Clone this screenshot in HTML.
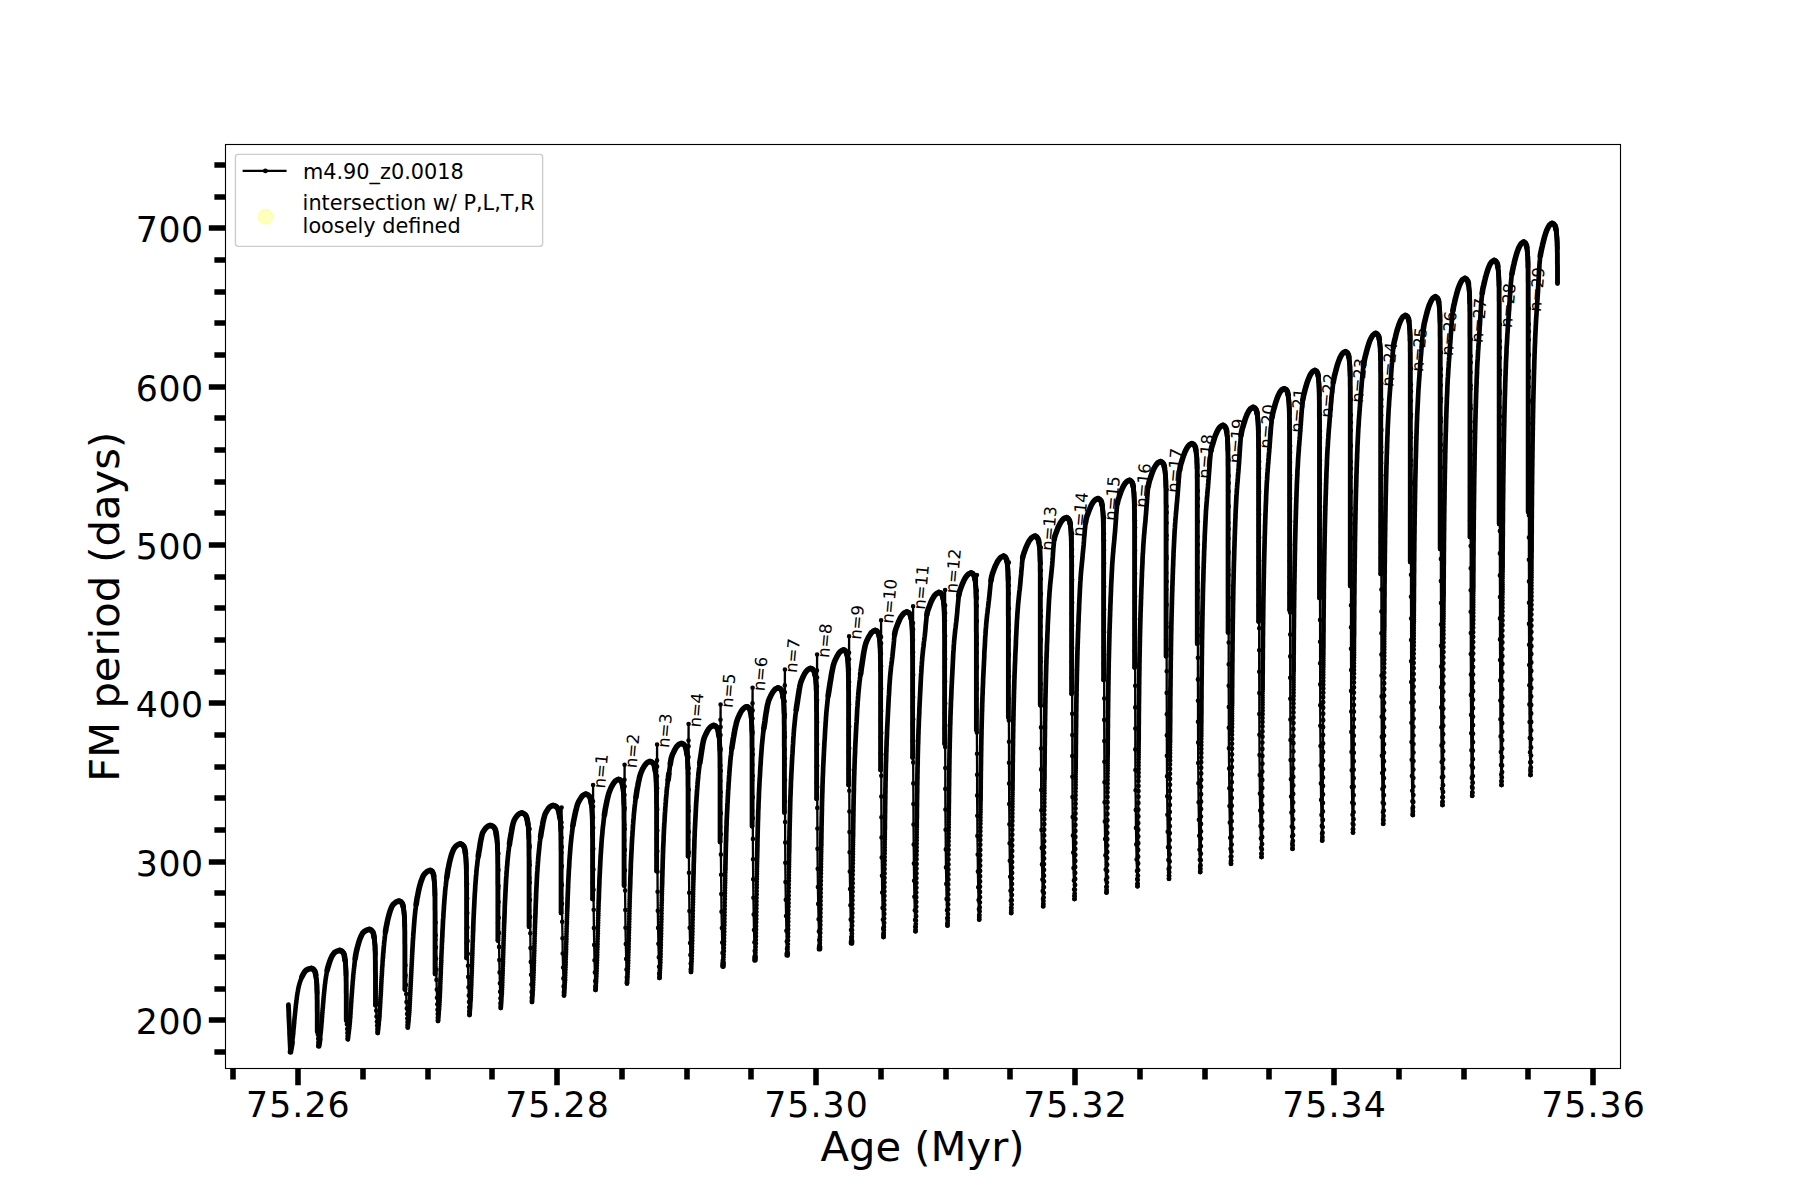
<!DOCTYPE html>
<html><head><meta charset="utf-8"><title>FM period</title>
<style>html,body{margin:0;padding:0;background:#fff}svg{display:block}</style></head>
<body>
<svg width="1800" height="1200" viewBox="0 0 1800 1200">
<rect width="1800" height="1200" fill="#fff"/>
<g font-family="'DejaVu Sans','Liberation Sans',sans-serif" font-size="16.67" letter-spacing="-0.3" fill="#000">
<text transform="translate(605 788.8) rotate(-85)">n=1</text>
<text transform="translate(636.5 768.5) rotate(-85)">n=2</text>
<text transform="translate(669 748.3) rotate(-85)">n=3</text>
<text transform="translate(700.5 727.8) rotate(-85)">n=4</text>
<text transform="translate(732.5 708.3) rotate(-85)">n=5</text>
<text transform="translate(764.5 691.6) rotate(-85)">n=6</text>
<text transform="translate(796.8 673.3) rotate(-85)">n=7</text>
<text transform="translate(829 658.3) rotate(-85)">n=8</text>
<text transform="translate(861 640.1) rotate(-85)">n=9</text>
<text transform="translate(893 624.1) rotate(-85)">n=10</text>
<text transform="translate(925 610.1) rotate(-85)">n=11</text>
<text transform="translate(957 593.8) rotate(-85)">n=12</text>
<text transform="translate(1052.8 551.3) rotate(-85)">n=13</text>
<text transform="translate(1084 537.3) rotate(-85)">n=14</text>
<text transform="translate(1116 521.3) rotate(-85)">n=15</text>
<text transform="translate(1147 508.3) rotate(-85)">n=16</text>
<text transform="translate(1178.5 493.3) rotate(-85)">n=17</text>
<text transform="translate(1209.8 479.3) rotate(-85)">n=18</text>
<text transform="translate(1240.5 463.8) rotate(-85)">n=19</text>
<text transform="translate(1271 449.3) rotate(-85)">n=20</text>
<text transform="translate(1302 433.3) rotate(-85)">n=21</text>
<text transform="translate(1331.9 418.3) rotate(-85)">n=22</text>
<text transform="translate(1362.8 403.3) rotate(-85)">n=23</text>
<text transform="translate(1393.2 387.3) rotate(-85)">n=24</text>
<text transform="translate(1422.9 372.3) rotate(-85)">n=25</text>
<text transform="translate(1452.8 356.3) rotate(-85)">n=26</text>
<text transform="translate(1482.6 343.3) rotate(-85)">n=27</text>
<text transform="translate(1511.8 328.3) rotate(-85)">n=28</text>
<text transform="translate(1540.8 312.3) rotate(-85)">n=29</text>
</g>
<polyline fill="none" stroke="#000" stroke-width="2.3" stroke-linejoin="round" points="288.4,1004.8 288.5,1006.8 288.6,1008.8 288.7,1010.8 288.8,1012.8 288.8,1014.8 288.9,1016.8 289,1018.8 289.1,1020.8 289.2,1022.8 289.3,1024.8 289.4,1026.8 289.5,1028.8 289.6,1030.8 289.6,1032.8 289.7,1034.8 289.8,1036.8 289.9,1038.8 290,1040.8 290.1,1042.8 290.2,1044.8 290.3,1046.8 290.4,1048.8 290.4,1050.8 290.5,1052 290.8,1050 291.2,1048 291.4,1046.8 291.6,1045.5 291.8,1044 292.1,1042.5 292.3,1040.7 292.6,1038.8 292.9,1036.8 293.1,1034.8 293.3,1032.9 293.4,1030.9 293.6,1028.9 293.8,1026.9 294,1024.9 294.2,1022.9 294.3,1020.9 294.5,1018.9 294.7,1016.9 294.9,1014.9 295.1,1012.9 295.3,1010.9 295.5,1009 295.7,1007 295.9,1005 296.2,1003 296.4,1001 296.7,999 296.9,997 297.2,995.1 297.5,993.1 297.9,991.1 298.2,989.1 298.6,987.2 299.1,985.3 299.6,983.4 300.2,981.6 300.8,979.9 301.4,978.3 302,976.7 302.7,975.1 303.5,973.7 304.3,972.4 305.2,971.1 306.3,970.1 307.6,969.4 308.9,968.9 310.3,968.6 312.1,968.6 313.6,969.5 314.6,970.8 315.3,972.5 315.7,974.5 315.9,976.5 316.2,978.5 316.5,980.5 316.7,982.5 316.8,984.5 316.9,986.5 316.9,988.5 317,990.5 317.1,992.5 317.1,994.5 317.1,996.5 317.1,998.5 317.2,1000.5 317.2,1002.5 317.2,1004.5 317.2,1006.5 317.2,1008.5 317.2,1010.5 317.3,1012.5 317.3,1014.5 317.3,1016.5 317.3,1018.5 317.3,1020.5 317.3,1022.5 317.3,1024.5 317.3,1026.5 317.3,1028.5 317.3,1030.5 317.3,1031.7 317.6,1029.7 317.9,1034.7 318.2,1038.8 318.5,1042 318.7,1044.6 318.8,1046 319.1,1044 319.4,1041.9 319.6,1040.8 319.8,1039.4 320,1038 320.2,1036.4 320.4,1034.7 320.7,1032.8 320.9,1030.8 321.1,1028.8 321.3,1026.8 321.4,1024.8 321.6,1022.8 321.8,1020.8 321.9,1018.8 322.1,1016.8 322.2,1014.8 322.4,1012.8 322.5,1010.8 322.7,1008.8 322.9,1006.9 323,1004.9 323.2,1002.9 323.4,1000.9 323.5,998.9 323.7,996.9 323.9,994.9 324.1,992.9 324.3,990.9 324.5,988.9 324.7,986.9 324.9,985 325.2,983 325.4,981 325.7,979 326,977.1 326.3,975.3 326.6,973.5 326.9,971.8 327.2,970.1 327.6,968.5 328,967 328.5,965.5 328.9,964 329.4,962.6 329.8,961.3 330.3,959.9 330.8,958.7 331.3,957.5 331.9,956.3 332.5,955.2 333.2,954.2 334.7,952.4 336.6,951.3 338.7,950.6 340,950.5 341.2,950.8 342.3,951.5 343.3,952.8 344.1,954.5 344.5,956.5 344.8,958.5 345.1,960.5 345.4,962.5 345.6,964.5 345.7,966.5 345.8,968.5 345.9,970.5 346,972.5 346,974.5 346.1,976.5 346.1,978.5 346.1,980.5 346.2,982.5 346.2,984.5 346.2,986.5 346.2,988.5 346.2,990.5 346.2,992.5 346.3,994.5 346.3,996.5 346.3,998.5 346.3,1000.5 346.3,1002.5 346.3,1004.5 346.3,1006.5 346.3,1008.5 346.3,1010.5 346.3,1012.5 346.3,1014.5 346.3,1016.5 346.3,1018.5 346.3,1020.4 346.6,1018.4 346.9,1024.2 347.2,1029 347.4,1032.9 347.6,1036 347.7,1038.4 348.2,1036.3 348.5,1034 348.7,1032.7 348.8,1031.3 349,1029.7 349.3,1027.9 349.5,1026 349.7,1024 349.9,1022 350,1020 350.2,1018.1 350.3,1016.1 350.5,1014.1 350.6,1012.1 350.7,1010.1 350.9,1008.1 351,1006.1 351.1,1004.1 351.3,1002.1 351.4,1000.1 351.5,998.1 351.7,996.1 351.8,994.1 352,992.1 352.1,990.1 352.3,988.1 352.4,986.1 352.6,984.1 352.7,982.1 352.9,980.2 353.1,978.2 353.2,976.2 353.4,974.2 353.6,972.2 353.8,970.3 354,968.5 354.2,966.7 354.4,964.9 354.6,963.3 354.8,961.6 355,960 355.2,958.5 355.4,957 355.7,955.6 355.9,954.1 356.2,952.8 356.4,951.5 356.7,950.2 357,949 357.3,947.8 357.9,945.5 358.5,943.3 359.1,941.3 359.8,939.4 360.5,937.6 361.3,935.7 362.2,933.9 363.4,932.3 364.9,931.1 366.7,930.1 368.6,929.6 370.1,929.6 371.2,930.1 372.2,931.1 373.1,932.6 373.6,934.5 374,936.5 374.2,938.5 374.5,940.5 374.7,942.5 374.9,944.5 375,946.5 375.1,948.5 375.2,950.5 375.2,952.5 375.3,954.5 375.3,956.5 375.3,958.5 375.4,960.5 375.4,962.5 375.4,964.5 375.4,966.5 375.4,968.5 375.4,970.5 375.5,972.5 375.5,974.5 375.5,976.5 375.5,978.5 375.5,980.5 375.5,982.5 375.5,984.5 375.5,986.5 375.5,988.5 375.5,990.5 375.5,992.5 375.5,994.5 375.5,996.5 375.5,998.5 375.5,1000.5 375.5,1002.5 375.5,1004.5 375.8,1003.3 376.2,1010.6 376.5,1016.6 376.9,1021.7 377.1,1025.7 377.4,1029 377.6,1031.6 377.7,1033 377.9,1031 378.2,1028.9 378.3,1027.7 378.4,1026.4 378.6,1025 378.8,1023.4 378.9,1021.6 379.2,1019.7 379.3,1017.7 379.5,1015.7 379.6,1013.7 379.7,1011.7 379.8,1009.7 380,1007.7 380.1,1005.7 380.2,1003.7 380.3,1001.7 380.4,999.7 380.5,997.7 380.7,995.7 380.8,993.7 380.9,991.7 381,989.7 381.1,987.7 381.2,985.7 381.3,983.7 381.4,981.7 381.5,979.8 381.6,977.8 381.8,975.8 381.9,973.8 382,971.8 382.1,969.8 382.2,967.8 382.4,965.8 382.5,963.9 382.6,962.1 382.7,960.3 382.9,958.5 383,956.8 383.1,955.2 383.2,953.6 383.4,952.1 383.5,950.6 383.6,949.1 383.7,947.7 383.9,946.3 384,945 384.1,943.7 384.2,942.4 384.3,941.2 384.6,938.9 384.8,936.7 385.1,934.6 385.4,932.6 385.6,930.7 386,928.7 386.3,926.7 386.7,924.7 387.1,922.8 387.5,920.8 388,918.9 388.4,916.9 389,915 389.5,913.1 390.1,911.2 390.8,909.3 391.5,907.4 392.3,905.6 393.6,904 395.1,902.8 396.8,901.7 398.7,901.2 400.4,901.5 401.4,902.2 402.3,903.5 402.9,905.2 403.3,907.2 403.6,909.2 403.9,911.2 404.1,913.2 404.3,915.2 404.4,917.2 404.5,919.2 404.6,921.2 404.6,923.2 404.7,925.2 404.7,927.2 404.7,929.2 404.8,931.2 404.8,933.2 404.8,935.2 404.8,937.2 404.8,939.2 404.8,941.2 404.8,943.2 404.9,945.2 404.9,947.2 404.9,949.2 404.9,951.2 404.9,953.2 404.9,955.2 404.9,957.2 404.9,959.2 404.9,961.2 404.9,963.2 404.9,965.2 404.9,967.2 404.9,969.2 404.9,971.2 404.9,973.2 404.9,975.2 404.9,977.2 404.9,979.2 404.9,981.2 404.9,983.2 404.9,985.2 404.9,987.2 404.9,989.2 405.2,977.4 405.4,965.2 405.6,975.3 405.9,984.9 406.2,994.1 406.5,1002 406.8,1008.5 407.1,1014 407.3,1018.5 407.5,1022.1 407.6,1025 407.8,1027.3 408,1025.5 408.2,1023.4 408.3,1022.2 408.5,1020.9 408.6,1019.4 408.7,1017.8 408.9,1016.1 409.1,1014.2 409.3,1012.2 409.4,1010.2 409.5,1008.2 409.6,1006.2 409.7,1004.2 409.8,1002.2 409.9,1000.2 410,998.2 410.1,996.2 410.2,994.2 410.3,992.2 410.4,990.2 410.5,988.2 410.6,986.2 410.7,984.2 410.8,982.2 410.9,980.2 411,978.2 411.1,976.2 411.2,974.2 411.3,972.2 411.4,970.2 411.5,968.2 411.6,966.2 411.7,964.2 411.8,962.2 411.9,960.3 412,958.4 412.1,956.5 412.1,954.7 412.2,953 412.3,951.3 412.4,949.6 412.5,948.1 412.6,946.5 412.7,945 412.8,943.5 412.8,942.1 412.9,940.8 413,939.4 413.1,938.1 413.2,936.9 413.3,935.7 413.4,933.3 413.6,931.1 413.7,929 413.9,927 414,925.1 414.2,923.1 414.4,921.1 414.5,919.1 414.7,917.1 414.9,915.1 415.1,913.1 415.3,911.1 415.6,909.1 415.8,907.1 416.1,905.2 416.3,903.2 416.6,901.2 417,899.2 417.3,897.3 417.7,895.3 418.1,893.3 418.5,891.4 418.9,889.4 419.4,887.5 419.8,885.5 420.4,883.6 421,881.7 421.6,879.8 422.3,877.9 423.2,876.1 424.2,874.4 425.5,872.9 427.1,871.7 428.9,870.8 430.5,870.5 431.8,871.1 432.6,872.1 433.2,873.6 433.7,875.5 433.9,877.5 434.1,879.5 434.3,881.5 434.5,883.5 434.6,885.5 434.7,887.5 434.8,889.5 434.8,891.5 434.9,893.5 434.9,895.5 435,897.5 435,899.5 435,901.5 435,903.5 435,905.5 435,907.5 435,909.5 435.1,911.5 435.1,913.5 435.1,915.5 435.1,917.5 435.1,919.5 435.1,921.5 435.1,923.5 435.1,925.5 435.1,927.5 435.1,929.5 435.1,931.5 435.1,933.5 435.1,935.5 435.1,937.5 435.1,939.5 435.1,941.5 435.1,943.5 435.1,945.5 435.1,947.5 435.1,949.5 435.1,951.5 435.1,953.5 435.1,955.5 435.1,957.5 435.1,959.5 435.1,961.5 435.1,963.5 435.1,965.5 435.1,967.5 435.1,969.5 435.1,971.5 435.1,973.5 435.3,956.8 435.4,939.7 435.6,922.5 435.7,935.3 435.9,947.4 436.1,958.8 436.3,969.6 436.5,979.9 436.8,989.6 437,997.7 437.3,1004.3 437.5,1009.8 437.7,1014.1 437.8,1017.5 438,1020.2 438.2,1019 438.4,1016.8 438.5,1015.5 438.6,1014.1 438.7,1012.5 438.9,1010.8 439.1,1008.9 439.2,1006.8 439.4,1004.7 439.5,1002.6 439.6,1000.5 439.7,998.3 439.8,996.2 439.9,994.1 440,992 440.1,989.9 440.2,987.8 440.2,985.7 440.3,983.6 440.4,981.5 440.5,979.4 440.6,977.3 440.7,975.1 440.8,973 440.8,970.9 440.9,968.8 441,966.7 441.1,964.6 441.2,962.5 441.3,960.4 441.3,958.3 441.4,956.2 441.5,954.1 441.6,952.1 441.7,950.1 441.8,948.2 441.8,946.4 441.9,944.6 442,942.9 442.1,941.2 442.1,939.6 442.2,938 442.3,936.5 442.3,935 442.4,933.6 442.5,932.2 442.5,930.8 442.6,929.5 442.7,928.3 442.7,927 442.8,924.7 443,922.5 443.1,920.4 443.2,918.4 443.3,916.4 443.4,914.4 443.6,912.4 443.7,910.5 443.8,908.5 443.9,906.5 444.1,904.5 444.2,902.5 444.4,900.5 444.5,898.5 444.7,896.5 444.9,894.5 445.1,892.5 445.2,890.5 445.4,888.5 445.6,886.5 445.9,884.5 446.1,882.6 446.4,880.6 446.6,878.6 446.9,876.6 447.2,874.6 447.5,872.7 447.9,870.7 448.2,868.7 448.6,866.8 449,864.8 449.4,862.8 449.8,860.9 450.3,858.9 450.8,857 451.4,855.1 452,853.2 452.7,851.3 453.5,849.5 454.6,847.8 455.9,846.3 457.4,845 459.2,844.2 460.5,844 461.7,844.2 462.8,845 463.7,846.2 464.5,848 464.9,850 465.2,852 465.5,854 465.7,856 465.9,858 466,860 466.1,862 466.2,864 466.3,866 466.3,868 466.4,870 466.4,872 466.4,874 466.5,876 466.5,878 466.5,880 466.5,882 466.5,884 466.5,886 466.6,888 466.6,890 466.6,892 466.6,894 466.6,896 466.6,898 466.6,900 466.6,902 466.6,904 466.6,906 466.6,908 466.6,910 466.6,912 466.6,914 466.6,916 466.6,918 466.6,920 466.6,922 466.6,924 466.6,926 466.6,928 466.6,930 466.6,932 466.6,934 466.6,936 466.6,938 466.6,940 466.6,942 466.6,944 466.6,946 466.6,948 466.6,950 466.6,952 466.6,954 466.6,956 466.6,958 466.7,943.2 466.8,928.4 466.9,913.6 467,898.8 467.1,884 467.2,898.6 467.3,913.1 467.4,927.4 467.6,940.9 467.8,953.7 468,965.7 468.2,976.9 468.5,987.3 468.8,995.5 469,1002.1 469.2,1007.3 469.3,1011.3 469.5,1014.3 469.7,1013 469.8,1010.7 469.9,1009.3 470.1,1007.8 470.2,1006.1 470.3,1004.2 470.5,1002.1 470.7,999.9 470.8,997.7 470.9,995.5 470.9,993.3 471,991.1 471.1,988.8 471.2,986.6 471.3,984.4 471.4,982.2 471.4,979.9 471.5,977.7 471.6,975.5 471.7,973.3 471.8,971.1 471.8,968.8 471.9,966.6 472,964.4 472.1,962.2 472.1,960 472.2,957.7 472.3,955.5 472.4,953.3 472.4,951.1 472.5,948.9 472.6,946.7 472.6,944.6 472.7,942.6 472.8,940.7 472.9,938.8 472.9,936.9 473,935.2 473,933.5 473.1,931.8 473.2,930.2 473.2,928.7 473.3,927.2 473.3,925.7 473.4,924.3 473.4,923 473.5,921.7 473.5,920.4 473.6,919.2 473.7,916.8 473.8,914.6 473.9,912.6 474,910.6 474.1,908.6 474.2,906.6 474.3,904.6 474.4,902.6 474.5,900.6 474.6,898.6 474.7,896.6 474.8,894.6 474.9,892.6 475,890.6 475.1,888.6 475.3,886.6 475.4,884.6 475.5,882.6 475.7,880.6 475.8,878.6 476,876.6 476.2,874.6 476.4,872.7 476.5,870.7 476.7,868.7 476.9,866.7 477.2,864.7 477.4,862.7 477.7,860.7 477.9,858.7 478.2,856.8 478.5,854.8 478.8,852.8 479.1,850.8 479.4,848.9 479.7,846.9 480.1,844.9 480.4,842.9 480.7,841 481.1,839 481.4,837 481.9,835.1 482.5,833.2 483.4,831.4 484.5,829.7 485.8,828.2 487.2,826.8 488.9,825.8 490.5,825.5 491.9,825.8 493.2,826.5 494.4,827.8 495.3,829.5 495.8,831.5 496.1,833.5 496.5,835.5 496.8,837.5 497,839.5 497.2,841.5 497.3,843.5 497.4,845.5 497.5,847.5 497.5,849.5 497.6,851.5 497.6,853.5 497.7,855.5 497.7,857.5 497.7,859.5 497.7,861.5 497.7,863.5 497.8,865.5 497.8,867.5 497.8,869.5 497.8,871.5 497.8,873.5 497.8,875.5 497.8,877.5 497.8,879.5 497.8,881.5 497.8,883.5 497.9,885.5 497.9,887.5 497.9,889.5 497.9,891.5 497.9,893.5 497.9,895.5 497.9,897.5 497.9,899.5 497.9,901.5 497.9,903.5 497.9,905.5 497.9,907.5 497.9,909.5 497.9,911.5 497.9,913.5 497.9,915.5 497.9,917.5 497.9,919.5 497.9,921.5 497.9,923.5 497.9,925.5 497.9,927.5 497.9,929.5 497.9,931.5 497.9,933.5 497.9,935.5 497.9,937.5 497.9,939.5 498,923.1 498.1,905.7 498.2,888.3 498.2,870.9 498.4,853.5 498.4,869.9 498.5,886 498.6,902 498.7,917.8 498.9,932.9 499.1,946.9 499.3,960.1 499.6,972.4 499.9,983.2 500.1,991.7 500.4,998.2 500.5,1003.2 500.7,1006.8 500.8,1008 500.9,1006 501.1,1003.5 501.2,1002 501.3,1000.4 501.4,998.6 501.6,996.6 501.8,994.3 501.9,992 502,989.6 502.1,987.3 502.2,985 502.3,982.6 502.3,980.3 502.4,978 502.5,975.6 502.6,973.3 502.7,971 502.7,968.7 502.8,966.3 502.9,964 503,961.7 503,959.3 503.1,957 503.2,954.7 503.3,952.3 503.3,950 503.4,947.7 503.5,945.3 503.5,943 503.6,940.7 503.7,938.5 503.8,936.3 503.8,934.3 503.9,932.3 504,930.3 504,928.5 504.1,926.7 504.1,924.9 504.2,923.2 504.3,921.6 504.3,920 504.4,918.5 504.4,917.1 504.5,915.6 504.5,914.3 504.6,913 504.6,911.7 504.7,910.4 504.7,908.1 504.8,905.9 504.9,903.9 505,901.9 505.1,899.9 505.2,897.9 505.3,895.9 505.4,893.9 505.5,891.9 505.6,889.9 505.7,887.9 505.8,885.9 505.9,883.9 506,881.9 506.1,879.9 506.2,877.9 506.4,875.9 506.5,873.9 506.6,871.9 506.8,869.9 506.9,867.9 507.1,865.9 507.3,864 507.4,862 507.6,860 507.8,858 508,856 508.2,854 508.4,852 508.7,850 508.9,848 509.2,846.1 509.5,844.1 509.7,842.1 510,840.1 510.4,838.1 510.7,836.2 511,834.2 511.4,832.2 511.7,830.3 512.1,828.3 512.4,826.3 512.9,824.4 513.4,822.4 514.1,820.6 515,818.8 516.1,817.1 517.3,815.5 518.8,814.2 520.5,813.2 521.8,813 523.2,813.2 524.5,814 525.6,815.2 526.5,817 527,819 527.4,821 527.7,823 528,825 528.3,827 528.4,829 528.5,831 528.6,833 528.7,835 528.8,837 528.8,839 528.9,841 528.9,843 528.9,845 529,847 529,849 529,851 529,853 529,855 529,857 529.1,859 529.1,861 529.1,863 529.1,865 529.1,867 529.1,869 529.1,871 529.1,873 529.1,875 529.1,877 529.1,879 529.1,881 529.1,883 529.1,885 529.1,887 529.1,889 529.1,891 529.1,893 529.1,895 529.1,897 529.1,899 529.1,901 529.1,903 529.1,905 529.1,907 529.1,909 529.1,911 529.1,913 529.1,915 529.1,917 529.1,919 529.1,921 529.1,923 529.1,925 529.1,926.8 529.2,910.5 529.3,894.2 529.4,877.9 529.4,861.6 529.5,845.3 529.6,829 529.7,847.1 529.7,864.9 529.8,882.5 529.9,899.9 530.1,917.1 530.3,933.2 530.5,948.1 530.8,961.9 531.1,974.8 531.4,984.6 531.6,992 531.8,997.4 532,1001.3 532.1,999.9 532.2,998.7 532.3,997.3 532.4,995.7 532.6,994 532.7,992.1 532.9,989.9 533,987.4 533.1,985 533.2,982.5 533.3,980.1 533.4,977.7 533.5,975.2 533.6,972.8 533.7,970.3 533.7,967.9 533.8,965.4 533.9,963 534,960.6 534,958.1 534.1,955.7 534.2,953.2 534.3,950.8 534.3,948.3 534.4,945.9 534.5,943.5 534.6,941 534.6,938.6 534.7,936.1 534.8,933.7 534.8,931.5 534.9,929.2 535,927.1 535,925.1 535.1,923.1 535.2,921.2 535.2,919.3 535.3,917.5 535.3,915.8 535.4,914.2 535.5,912.6 535.5,911 535.6,909.6 535.6,908.1 535.7,906.8 535.7,905.4 535.8,904.1 535.8,902.9 535.9,900.6 536,898.4 536.1,896.4 536.1,894.4 536.2,892.4 536.3,890.4 536.4,888.4 536.5,886.4 536.6,884.4 536.7,882.4 536.8,880.4 536.9,878.4 537,876.4 537.1,874.4 537.2,872.4 537.4,870.4 537.5,868.4 537.6,866.4 537.8,864.4 537.9,862.4 538.1,860.4 538.2,858.4 538.4,856.4 538.6,854.4 538.8,852.4 539,850.5 539.2,848.5 539.4,846.5 539.6,844.5 539.8,842.5 540.1,840.5 540.3,838.5 540.6,836.6 540.9,834.6 541.2,832.6 541.5,830.6 541.9,828.7 542.2,826.7 542.6,824.7 542.9,822.7 543.3,820.8 543.8,818.8 544.3,816.9 544.8,815 545.6,813.1 546.5,811.4 547.6,809.7 548.7,808 550.2,806.6 551.9,805.7 553.8,805.6 555.3,806.1 556.6,807.1 557.8,808.6 558.6,810.5 559,812.5 559.4,814.5 559.8,816.5 560.1,818.5 560.3,820.5 560.4,822.5 560.6,824.5 560.6,826.5 560.7,828.5 560.8,830.5 560.8,832.5 560.9,834.5 560.9,836.5 560.9,838.5 561,840.5 561,842.5 561,844.5 561,846.5 561,848.5 561,850.5 561.1,852.5 561.1,854.5 561.1,856.5 561.1,858.5 561.1,860.5 561.1,862.5 561.1,864.5 561.1,866.5 561.1,868.5 561.1,870.5 561.1,872.5 561.1,874.5 561.1,876.5 561.1,878.5 561.1,880.5 561.1,882.5 561.1,884.5 561.1,886.5 561.1,888.5 561.1,890.5 561.1,892.5 561.1,894.5 561.1,896.5 561.1,898.5 561.1,900.5 561.1,902.5 561.1,904.5 561.1,906.5 561.1,908.5 561.1,910.5 561.1,912.5 561.2,897.9 561.2,882.9 561.3,867.8 561.4,852.7 561.5,837.7 561.5,822.6 561.6,807.5 561.6,827.3 561.7,846.9 561.8,866.1 561.9,885.1 562,903.8 562.2,921.7 562.5,938.3 562.7,953.5 563.1,967.6 563.4,978.4 563.6,986.4 563.9,992 564,995.5 564.2,993.3 564.2,992 564.3,990.6 564.5,988.9 564.6,987.1 564.7,985 564.9,982.6 565.1,980.1 565.1,977.5 565.2,975 565.3,972.4 565.4,969.8 565.5,967.3 565.6,964.7 565.7,962.2 565.7,959.6 565.8,957.1 565.9,954.5 566,952 566.1,949.4 566.1,946.9 566.2,944.3 566.3,941.7 566.4,939.2 566.4,936.6 566.5,934.1 566.6,931.5 566.6,929 566.7,926.5 566.8,924.1 566.9,921.9 566.9,919.7 567,917.6 567.1,915.5 567.1,913.6 567.2,911.7 567.2,909.9 567.3,908.1 567.4,906.4 567.4,904.8 567.5,903.2 567.5,901.7 567.6,900.3 567.6,898.9 567.7,897.6 567.7,896.3 567.8,895 567.8,892.7 567.9,890.5 568,888.5 568.1,886.5 568.2,884.5 568.3,882.5 568.4,880.5 568.5,878.5 568.6,876.5 568.7,874.5 568.8,872.5 568.9,870.5 569,868.5 569.1,866.5 569.2,864.5 569.3,862.5 569.5,860.5 569.6,858.5 569.7,856.5 569.9,854.5 570,852.5 570.2,850.6 570.4,848.6 570.5,846.6 570.7,844.6 570.9,842.6 571.1,840.6 571.3,838.6 571.5,836.6 571.7,834.6 572,832.6 572.2,830.7 572.5,828.7 572.8,826.7 573.1,824.7 573.4,822.7 573.7,820.8 574.1,818.8 574.5,816.8 574.9,814.9 575.3,812.9 575.7,811 576.2,809 576.7,807.1 577.3,805.2 578,803.3 578.8,801.5 579.7,799.7 580.8,798 582,796.4 583.5,795.1 585.3,794.3 586.7,794.3 587.9,794.8 589,795.8 589.9,797.3 590.5,799.2 590.9,801.2 591.2,803.2 591.5,805.2 591.8,807.2 591.9,809.2 592.1,811.2 592.2,813.2 592.2,815.2 592.3,817.2 592.3,819.2 592.4,821.2 592.4,823.2 592.4,825.2 592.5,827.2 592.5,829.2 592.5,831.2 592.5,833.2 592.5,835.2 592.5,837.2 592.6,839.2 592.6,841.2 592.6,843.2 592.6,845.2 592.6,847.2 592.6,849.2 592.6,851.2 592.6,853.2 592.6,855.2 592.6,857.2 592.6,859.2 592.6,861.2 592.6,863.2 592.6,865.2 592.6,867.2 592.6,869.2 592.6,871.2 592.6,873.2 592.6,875.2 592.6,877.2 592.6,879.2 592.6,881.2 592.6,883.2 592.6,885.2 592.6,887.2 592.6,889.2 592.6,891.2 592.6,893.2 592.6,895.2 592.6,897.2 592.6,899 592.7,882.7 592.7,866.4 592.8,850.1 592.9,833.9 593,817.6 593,801.3 593.1,785 593.1,806.6 593.2,827.8 593.3,848.8 593.4,869.4 593.5,889.7 593.7,909.7 593.9,928.1 594.2,944.9 594.5,960.3 594.9,972.4 595.2,981.1 595.4,987.1 595.5,990 595.7,987.7 595.7,986.4 595.8,984.8 596,983.1 596.1,981.1 596.2,978.8 596.4,976.3 596.5,973.6 596.6,970.9 596.7,968.3 596.8,965.6 596.9,962.9 597,960.3 597.1,957.6 597.2,955 597.2,952.3 597.3,949.6 597.4,947 597.5,944.3 597.5,941.6 597.6,939 597.7,936.3 597.8,933.6 597.8,931 597.9,928.3 598,925.6 598.1,923 598.1,920.4 598.2,918 598.3,915.6 598.3,913.4 598.4,911.2 598.5,909.1 598.5,907.1 598.6,905.2 598.6,903.3 598.7,901.5 598.8,899.8 598.8,898.2 598.9,896.6 598.9,895.1 599,893.6 599,892.2 599.1,890.8 599.1,889.5 599.2,888.3 599.2,887.1 599.3,884.8 599.4,882.7 599.4,880.7 599.5,878.7 599.6,876.7 599.7,874.7 599.8,872.8 599.9,870.8 600,868.8 600.1,866.8 600.2,864.8 600.3,862.8 600.4,860.8 600.5,858.8 600.6,856.8 600.7,854.8 600.9,852.8 601,850.8 601.1,848.8 601.3,846.8 601.4,844.8 601.5,842.8 601.7,840.8 601.8,838.8 602,836.8 602.2,834.8 602.4,832.8 602.5,830.8 602.7,828.9 602.9,826.9 603.2,824.9 603.4,822.9 603.6,820.9 603.9,818.9 604.1,816.9 604.4,815 604.7,813 605,811 605.3,809 605.7,807.1 606.1,805.1 606.5,803.1 606.9,801.2 607.3,799.2 607.8,797.3 608.3,795.3 608.8,793.4 609.5,791.5 610.2,789.7 611,787.8 611.9,786.1 612.9,784.3 614,782.7 615.3,781.1 616.9,780 618.8,779.5 620.3,780.1 621.2,781.1 621.9,782.6 622.4,784.5 622.7,786.5 623,788.5 623.2,790.5 623.4,792.5 623.6,794.5 623.7,796.5 623.7,798.5 623.8,800.5 623.9,802.5 623.9,804.5 623.9,806.5 623.9,808.5 624,810.5 624,812.5 624,814.5 624,816.5 624,818.5 624,820.5 624.1,822.5 624.1,824.5 624.1,826.5 624.1,828.5 624.1,830.5 624.1,832.5 624.1,834.5 624.1,836.5 624.1,838.5 624.1,840.5 624.1,842.5 624.1,844.5 624.1,846.5 624.1,848.5 624.1,850.5 624.1,852.5 624.1,854.5 624.1,856.5 624.1,858.5 624.1,860.5 624.1,862.5 624.1,864.5 624.1,866.5 624.1,868.5 624.1,870.5 624.1,872.5 624.1,874.5 624.1,876.5 624.1,878.5 624.1,880.5 624.1,882.5 624.1,884.5 624.2,870.4 624.2,855.3 624.3,840.2 624.4,825.1 624.4,810 624.5,794.9 624.5,779.8 624.6,764.7 624.6,786.5 624.7,807.9 624.7,829.1 624.8,849.9 624.9,870.4 625.1,890.6 625.3,910 625.5,927.8 625.8,944.1 626.2,958.9 626.5,969.6 626.8,977.2 627,982.3 627.1,981.1 627.2,979.7 627.3,978.1 627.5,976.2 627.6,974.1 627.7,971.7 627.9,968.9 628,966.1 628.1,963.3 628.2,960.6 628.2,957.8 628.3,955 628.4,952.2 628.5,949.5 628.6,946.7 628.6,943.9 628.7,941.1 628.8,938.4 628.8,935.6 628.9,932.8 629,930 629.1,927.2 629.1,924.5 629.2,921.7 629.3,918.9 629.3,916.2 629.4,913.5 629.4,911 629.5,908.6 629.6,906.2 629.6,904 629.7,901.8 629.7,899.8 629.8,897.8 629.8,895.9 629.9,894.1 629.9,892.3 630,890.7 630,889 630.1,887.5 630.1,886 630.2,884.6 630.2,883.2 630.3,881.9 630.3,880.7 630.3,879.5 630.4,877.2 630.5,875.1 630.6,873.1 630.6,871.1 630.7,869.1 630.8,867.1 630.8,865.1 630.9,863.1 631,861.1 631.1,859.1 631.2,857.1 631.3,855.1 631.4,853.1 631.5,851.1 631.6,849.1 631.7,847.1 631.8,845.1 631.9,843.2 632,841.2 632.1,839.2 632.2,837.2 632.4,835.2 632.5,833.2 632.6,831.2 632.8,829.2 632.9,827.2 633,825.2 633.2,823.2 633.3,821.2 633.5,819.2 633.7,817.2 633.8,815.2 634,813.2 634.2,811.2 634.4,809.2 634.6,807.3 634.8,805.3 635.1,803.3 635.3,801.3 635.6,799.3 635.9,797.3 636.2,795.4 636.5,793.4 636.8,791.4 637.1,789.4 637.5,787.5 637.9,785.5 638.2,783.5 638.6,781.6 639.1,779.6 639.5,777.7 640,775.7 640.6,773.8 641.3,772 642.1,770.1 643,768.3 644,766.6 645.1,764.9 646.3,763.4 647.9,762.1 649.8,761.5 651.3,761.8 652.4,762.5 653.5,763.8 654.3,765.5 654.7,767.5 655.1,769.5 655.4,771.5 655.6,773.5 655.9,775.5 656,777.5 656.1,779.5 656.2,781.5 656.3,783.5 656.3,785.5 656.4,787.5 656.4,789.5 656.4,791.5 656.5,793.5 656.5,795.5 656.5,797.5 656.5,799.5 656.5,801.5 656.5,803.5 656.6,805.5 656.6,807.5 656.6,809.5 656.6,811.5 656.6,813.5 656.6,815.5 656.6,817.5 656.6,819.5 656.6,821.5 656.6,823.5 656.6,825.5 656.6,827.5 656.6,829.5 656.6,831.5 656.6,833.5 656.6,835.5 656.6,837.5 656.6,839.5 656.6,841.5 656.6,843.5 656.6,845.5 656.6,847.5 656.6,849.5 656.6,851.5 656.6,853.5 656.6,855.5 656.6,857.5 656.6,859.5 656.6,861.5 656.6,863.5 656.6,865.5 656.6,867.5 656.6,869.5 656.6,871 656.7,855.2 656.7,839.4 656.8,823.6 656.9,807.8 656.9,792 657,776.2 657,760.4 657.1,744.5 657.1,766.6 657.2,788.2 657.2,809.6 657.3,830.6 657.3,851.3 657.5,871.7 657.6,891.8 657.8,910.7 658.1,927.9 658.4,943.8 658.8,957.2 659.1,966.8 659.3,973.5 659.5,978 659.6,975.5 659.7,974 659.8,972.3 659.9,970.3 660.1,968 660.2,965.5 660.4,962.6 660.4,959.7 660.5,956.8 660.6,953.9 660.6,951 660.7,948.1 660.8,945.2 660.8,942.4 660.9,939.5 661,936.6 661.1,933.7 661.1,930.8 661.2,927.9 661.2,925 661.3,922.1 661.4,919.3 661.4,916.4 661.5,913.5 661.5,910.6 661.6,907.9 661.6,905.2 661.7,902.7 661.8,900.3 661.8,898 661.8,895.8 661.9,893.7 661.9,891.6 662,889.7 662,887.8 662.1,886 662.1,884.3 662.2,882.7 662.2,881.1 662.2,879.6 662.3,878.2 662.3,876.8 662.3,875.5 662.4,874.2 662.4,873 662.5,870.7 662.5,868.6 662.6,866.6 662.6,864.6 662.7,862.6 662.8,860.6 662.8,858.6 662.9,856.6 663,854.6 663,852.6 663.1,850.6 663.2,848.6 663.3,846.6 663.3,844.6 663.4,842.7 663.5,840.7 663.6,838.7 663.7,836.7 663.8,834.7 663.9,832.7 664,830.7 664.1,828.7 664.2,826.7 664.3,824.7 664.4,822.7 664.5,820.7 664.6,818.7 664.8,816.7 664.9,814.7 665,812.7 665.1,810.7 665.3,808.7 665.4,806.7 665.6,804.7 665.7,802.7 665.9,800.7 666,798.7 666.2,796.7 666.4,794.7 666.5,792.8 666.7,790.8 666.9,788.8 667.2,786.8 667.4,784.8 667.7,782.8 667.9,780.8 668.2,778.9 668.5,776.9 668.8,774.9 669.1,772.9 669.3,770.9 669.6,769 669.9,767 670.2,765 670.5,763 670.8,761 671.1,759.1 671.6,757.1 672.3,755.2 673.1,753.4 673.9,751.6 674.8,749.8 675.8,748.1 676.9,746.4 678.3,745 679.9,743.9 681.5,743.5 682.8,743.8 683.9,744.5 685,745.8 685.8,747.5 686.2,749.5 686.6,751.5 686.9,753.5 687.1,755.5 687.4,757.5 687.5,759.5 687.6,761.5 687.7,763.5 687.8,765.5 687.8,767.5 687.9,769.5 687.9,771.5 687.9,773.5 688,775.5 688,777.5 688,779.5 688,781.5 688,783.5 688,785.5 688.1,787.5 688.1,789.5 688.1,791.5 688.1,793.5 688.1,795.5 688.1,797.5 688.1,799.5 688.1,801.5 688.1,803.5 688.1,805.5 688.1,807.5 688.1,809.5 688.1,811.5 688.1,813.5 688.1,815.5 688.1,817.5 688.1,819.5 688.1,821.5 688.1,823.5 688.1,825.5 688.1,827.5 688.1,829.5 688.1,831.5 688.1,833.5 688.1,835.5 688.1,837.5 688.1,839.5 688.1,841.5 688.1,843.5 688.1,845.5 688.1,847.5 688.1,849.5 688.1,851.5 688.1,853.5 688.1,855.5 688.2,839.7 688.2,823.2 688.3,806.7 688.4,790.1 688.4,773.6 688.5,757.1 688.5,740.6 688.6,724 688.6,746.3 688.6,768.2 688.7,789.7 688.7,810.9 688.8,831.9 688.9,852.5 689,872.8 689.2,892.7 689.4,911 689.7,927.7 690.1,943.1 690.4,955 690.7,963.5 690.9,969.4 691,972 691.1,969.4 691.2,967.8 691.3,966 691.4,963.9 691.6,961.5 691.7,958.7 691.8,955.8 691.9,952.8 692,949.8 692,946.8 692.1,943.8 692.2,940.8 692.2,937.8 692.3,934.8 692.4,931.8 692.4,928.8 692.5,925.8 692.5,922.8 692.6,919.8 692.7,916.8 692.7,913.8 692.8,910.8 692.8,907.8 692.9,904.8 693,901.9 693,899.2 693.1,896.6 693.1,894.1 693.1,891.7 693.2,889.4 693.2,887.2 693.3,885.1 693.3,883.1 693.4,881.2 693.4,879.4 693.4,877.6 693.5,876 693.5,874.4 693.6,872.8 693.6,871.4 693.6,870 693.7,868.6 693.7,867.4 693.7,866.1 693.8,863.9 693.8,861.8 693.9,859.8 693.9,857.8 694,855.8 694,853.8 694.1,851.8 694.2,849.8 694.2,847.8 694.3,845.8 694.3,843.8 694.4,841.8 694.5,839.8 694.6,837.8 694.6,835.8 694.7,833.8 694.8,831.8 694.9,829.8 695,827.8 695,825.8 695.1,823.8 695.2,821.8 695.3,819.8 695.4,817.8 695.5,815.8 695.6,813.8 695.7,811.8 695.8,809.8 696,807.8 696.1,805.8 696.2,803.8 696.3,801.8 696.4,799.8 696.6,797.8 696.7,795.8 696.8,793.8 697,791.8 697.1,789.8 697.3,787.9 697.4,785.9 697.6,783.9 697.7,781.9 697.9,779.9 698.1,777.9 698.3,775.9 698.4,773.9 698.7,771.9 698.9,769.9 699.1,767.9 699.4,766 699.7,764 699.9,762 700.2,760 700.5,758 700.8,756.1 701.1,754.1 701.4,752.1 701.7,750.1 702,748.2 702.4,746.2 702.7,744.2 703.1,742.3 703.5,740.3 704.1,738.4 704.8,736.5 705.6,734.7 706.5,732.9 707.4,731.1 708.5,729.4 709.7,727.8 711.1,726.4 712.9,725.6 714.4,725.6 715.6,726.1 716.6,727.1 717.5,728.6 718.1,730.5 718.5,732.5 718.8,734.5 719.1,736.5 719.3,738.5 719.5,740.5 719.6,742.5 719.7,744.5 719.7,746.5 719.8,748.5 719.9,750.5 719.9,752.5 719.9,754.5 719.9,756.5 720,758.5 720,760.5 720,762.5 720,764.5 720,766.5 720,768.5 720.1,770.5 720.1,772.5 720.1,774.5 720.1,776.5 720.1,778.5 720.1,780.5 720.1,782.5 720.1,784.5 720.1,786.5 720.1,788.5 720.1,790.5 720.1,792.5 720.1,794.5 720.1,796.5 720.1,798.5 720.1,800.5 720.1,802.5 720.1,804.5 720.1,806.5 720.1,808.5 720.1,810.5 720.1,812.5 720.1,814.5 720.1,816.5 720.1,818.5 720.1,820.5 720.1,822.5 720.1,824.5 720.1,826.5 720.1,828.5 720.1,830.5 720.1,832.5 720.1,834.5 720.1,836.5 720.1,838.5 720.1,840.5 720.1,842 720.2,826.7 720.2,811.5 720.3,796.2 720.3,780.9 720.4,765.6 720.4,750.4 720.5,735.1 720.5,719.8 720.6,704.5 720.6,727 720.6,749.1 720.7,770.8 720.7,792.3 720.8,813.4 720.8,834.2 720.9,854.6 721.1,874.8 721.3,894.1 721.5,911.8 721.9,928 722.2,942.5 722.5,952.9 722.8,960.4 723,965.3 723.1,963.4 723.2,961.7 723.3,959.7 723.5,957.3 723.6,954.5 723.8,951.3 723.8,948.1 723.9,944.8 724,941.6 724,938.3 724.1,935.1 724.2,931.8 724.2,928.6 724.3,925.3 724.4,922.1 724.4,918.8 724.5,915.6 724.5,912.3 724.6,909.1 724.7,905.8 724.7,902.6 724.8,899.3 724.8,896.2 724.9,893.3 724.9,890.4 725,887.7 725,885.2 725.1,882.7 725.1,880.4 725.2,878.2 725.2,876.1 725.2,874.1 725.3,872.2 725.3,870.3 725.4,868.6 725.4,867 725.4,865.4 725.5,863.9 725.5,862.4 725.5,861.1 725.6,859.8 725.6,858.5 725.6,856.2 725.7,854.2 725.7,852.2 725.8,850.2 725.8,848.2 725.9,846.2 725.9,844.2 726,842.2 726.1,840.2 726.1,838.2 726.2,836.2 726.2,834.2 726.3,832.2 726.4,830.2 726.4,828.2 726.5,826.2 726.6,824.2 726.6,822.2 726.7,820.2 726.8,818.2 726.9,816.2 727,814.2 727.1,812.2 727.2,810.2 727.3,808.2 727.4,806.2 727.4,804.2 727.6,802.2 727.7,800.2 727.8,798.2 727.9,796.2 728,794.2 728.1,792.2 728.2,790.2 728.4,788.2 728.5,786.2 728.6,784.2 728.7,782.2 728.9,780.2 729,778.2 729.1,776.2 729.3,774.2 729.4,772.3 729.6,770.3 729.7,768.3 729.9,766.3 730.1,764.3 730.2,762.3 730.4,760.3 730.6,758.3 730.8,756.3 731.1,754.3 731.3,752.3 731.5,750.4 731.8,748.4 732.1,746.4 732.4,744.4 732.7,742.4 733,740.5 733.3,738.5 733.7,736.5 734,734.6 734.4,732.6 734.7,730.6 735.1,728.7 735.5,726.7 736,724.7 736.4,722.8 737,720.9 737.6,719 738.4,717.1 739.2,715.3 740.1,713.5 741,711.8 742.1,710.1 743.4,708.6 745,707.3 746.9,706.8 748.5,707.3 749.3,708.3 750,709.8 750.5,711.8 750.8,713.8 751,715.8 751.3,717.8 751.5,719.8 751.6,721.8 751.7,723.8 751.8,725.8 751.8,727.8 751.9,729.8 751.9,731.8 751.9,733.8 752,735.8 752,737.8 752,739.8 752,741.8 752,743.8 752,745.8 752,747.8 752.1,749.8 752.1,751.8 752.1,753.8 752.1,755.8 752.1,757.8 752.1,759.8 752.1,761.8 752.1,763.8 752.1,765.8 752.1,767.8 752.1,769.8 752.1,771.8 752.1,773.8 752.1,775.8 752.1,777.8 752.1,779.8 752.1,781.8 752.1,783.8 752.1,785.8 752.1,787.8 752.1,789.8 752.1,791.8 752.1,793.8 752.1,795.8 752.1,797.8 752.1,799.8 752.1,801.8 752.1,803.8 752.1,805.8 752.1,807.8 752.1,809.8 752.1,811.8 752.1,813.8 752.1,815.8 752.1,817.8 752.1,819.8 752.1,821.8 752.1,823.8 752.1,825.8 752.2,810.9 752.2,795.5 752.3,780.1 752.3,764.7 752.4,749.3 752.4,733.9 752.5,718.6 752.5,703.2 752.6,687.8 752.6,710.4 752.6,732.6 752.7,754.5 752.7,776.1 752.7,797.4 752.8,818.3 752.9,838.9 753,859.3 753.2,879.3 753.4,897.7 753.7,914.5 754,930 754.4,942.2 754.7,951 754.9,957 755,960 755.1,958.6 755.1,957 755.2,955 755.4,952.8 755.5,950.1 755.6,947 755.8,943.5 755.8,940 755.9,936.5 755.9,933 756,929.5 756,926 756.1,922.5 756.2,919 756.2,915.5 756.3,912 756.3,908.5 756.4,905 756.4,901.5 756.5,898 756.6,894.5 756.6,891.1 756.7,887.8 756.7,884.7 756.7,881.8 756.8,879 756.8,876.4 756.9,873.9 756.9,871.5 756.9,869.3 757,867.1 757,865.1 757,863.2 757.1,861.4 757.1,859.6 757.1,858 757.2,856.4 757.2,854.9 757.2,853.5 757.2,852.2 757.3,850.9 757.3,849.7 757.3,847.5 757.4,845.5 757.4,843.5 757.5,841.5 757.5,839.5 757.6,837.5 757.6,835.5 757.7,833.5 757.7,831.5 757.8,829.5 757.8,827.5 757.9,825.5 757.9,823.5 758,821.5 758,819.5 758.1,817.5 758.1,815.5 758.2,813.5 758.3,811.5 758.3,809.5 758.4,807.5 758.5,805.5 758.6,803.5 758.6,801.5 758.7,799.5 758.8,797.5 758.9,795.5 759,793.5 759.1,791.5 759.2,789.5 759.3,787.5 759.4,785.5 759.5,783.5 759.6,781.5 759.7,779.5 759.8,777.5 759.9,775.5 760,773.5 760.1,771.5 760.3,769.5 760.4,767.5 760.5,765.6 760.6,763.6 760.7,761.6 760.9,759.6 761,757.6 761.1,755.6 761.3,753.6 761.4,751.6 761.6,749.6 761.7,747.6 761.9,745.6 762.1,743.6 762.3,741.6 762.5,739.6 762.7,737.6 762.9,735.7 763.1,733.7 763.4,731.7 763.6,729.7 763.9,727.7 764.2,725.7 764.5,723.8 764.8,721.8 765.1,719.8 765.4,717.8 765.7,715.8 766,713.9 766.3,711.9 766.6,709.9 767,708 767.3,706 767.7,704 768.2,702.1 768.9,700.2 769.6,698.3 770.4,696.5 771.3,694.7 772.3,693 773.4,691.3 774.7,689.8 776.2,688.6 778.2,688 779.4,688.2 780.5,689 781.5,690.2 782.2,692 782.6,694 782.9,696 783.2,698 783.5,700 783.7,702 783.8,704 783.9,706 784,708 784,710 784.1,712 784.1,714 784.2,716 784.2,718 784.2,720 784.2,722 784.2,724 784.3,726 784.3,728 784.3,730 784.3,732 784.3,734 784.3,736 784.3,738 784.3,740 784.3,742 784.3,744 784.3,746 784.4,748 784.4,750 784.4,752 784.4,754 784.4,756 784.4,758 784.4,760 784.4,762 784.4,764 784.4,766 784.4,768 784.4,770 784.4,772 784.4,774 784.4,776 784.4,778 784.4,780 784.4,782 784.4,784 784.4,786 784.4,788 784.4,790 784.4,792 784.4,794 784.4,796 784.4,798 784.4,800 784.4,802 784.4,804 784.4,806 784.4,808 784.4,810 784.4,812 784.4,796.6 784.5,780.7 784.5,764.9 784.6,749 784.6,733.1 784.7,717.2 784.7,701.3 784.8,685.4 784.9,669.5 784.9,692.3 784.9,714.8 784.9,736.9 784.9,758.6 785,780.1 785,801.2 785.1,822 785.2,842.5 785.3,862.7 785.5,882.1 785.8,899.8 786.1,916.1 786.4,930.8 786.8,941.4 787,948.9 787.2,953.9 787.4,951.7 787.5,949.6 787.6,947.1 787.8,944.1 787.9,940.6 788,936.8 788,933.1 788.1,929.3 788.1,925.6 788.2,921.8 788.2,918.1 788.3,914.3 788.3,910.6 788.4,906.8 788.5,903.1 788.5,899.3 788.6,895.6 788.6,891.8 788.7,888.1 788.7,884.5 788.8,881.1 788.8,877.9 788.8,874.9 788.9,872 788.9,869.3 789,866.7 789,864.3 789,862 789.1,859.9 789.1,857.8 789.1,855.9 789.1,854 789.2,852.3 789.2,850.7 789.2,849.1 789.2,847.7 789.3,846.3 789.3,845 789.3,843.8 789.3,841.5 789.4,839.4 789.4,837.3 789.5,835.3 789.5,833.3 789.5,831.3 789.6,829.3 789.6,827.3 789.7,825.3 789.7,823.3 789.8,821.3 789.8,819.3 789.9,817.3 789.9,815.4 790,813.4 790,811.4 790.1,809.4 790.1,807.4 790.2,805.4 790.2,803.4 790.3,801.4 790.3,799.4 790.4,797.4 790.5,795.4 790.6,793.4 790.6,791.4 790.7,789.4 790.8,787.4 790.9,785.4 790.9,783.4 791,781.4 791.1,779.4 791.2,777.4 791.3,775.4 791.4,773.4 791.5,771.4 791.6,769.4 791.7,767.4 791.8,765.4 791.9,763.4 792,761.4 792.1,759.4 792.2,757.4 792.3,755.4 792.5,753.4 792.6,751.4 792.7,749.4 792.8,747.4 792.9,745.4 793.1,743.4 793.2,741.4 793.3,739.4 793.4,737.4 793.6,735.4 793.7,733.4 793.9,731.5 794,729.5 794.2,727.5 794.4,725.5 794.6,723.5 794.8,721.5 795,719.5 795.2,717.5 795.4,715.5 795.7,713.5 796,711.6 796.2,709.6 796.5,707.6 796.8,705.6 797.1,703.6 797.4,701.7 797.7,699.7 798,697.7 798.3,695.7 798.6,693.8 798.9,691.8 799.2,689.8 799.6,687.8 799.9,685.9 800.4,683.9 800.9,682 801.6,680.1 802.4,678.3 803.2,676.5 804.1,674.7 805.1,672.9 806.3,671.3 807.6,669.9 809.3,668.8 810.8,668.5 812.4,669.1 813.4,670.1 814.2,671.6 814.8,673.5 815.1,675.5 815.4,677.5 815.6,679.5 815.9,681.5 816,683.5 816.1,685.5 816.2,687.5 816.3,689.5 816.3,691.5 816.4,693.5 816.4,695.5 816.4,697.5 816.5,699.5 816.5,701.5 816.5,703.5 816.5,705.5 816.5,707.5 816.5,709.5 816.6,711.5 816.6,713.5 816.6,715.5 816.6,717.5 816.6,719.5 816.6,721.5 816.6,723.5 816.6,725.5 816.6,727.5 816.6,729.5 816.6,731.5 816.6,733.5 816.6,735.5 816.6,737.5 816.6,739.5 816.6,741.5 816.6,743.5 816.6,745.5 816.6,747.5 816.6,749.5 816.6,751.5 816.6,753.5 816.6,755.5 816.6,757.5 816.6,759.5 816.6,761.5 816.6,763.5 816.6,765.5 816.6,767.5 816.6,769.5 816.6,771.5 816.6,773.5 816.6,775.5 816.6,777.5 816.6,779.5 816.6,781.5 816.6,783.5 816.6,785.5 816.6,787.5 816.6,789.5 816.6,791.5 816.6,793.5 816.6,795.5 816.6,797.5 816.6,798.8 816.7,782.7 816.7,766.7 816.8,750.7 816.8,734.7 816.9,718.6 816.9,702.6 817,686.6 817,670.6 817.1,654.5 817.1,677.5 817.1,700 817.1,722.3 817.2,744.2 817.2,765.7 817.2,787 817.3,807.9 817.4,828.5 817.5,848.8 817.7,868.8 817.9,887.1 818.2,903.9 818.6,919.3 818.9,931.4 819.2,940 819.4,945.9 819.5,948.8 819.6,947.2 819.7,945.2 819.8,942.9 819.9,940.2 820,936.9 820.2,932.9 820.2,928.9 820.3,924.9 820.3,920.9 820.4,916.9 820.4,912.9 820.5,908.9 820.5,904.9 820.5,900.9 820.6,896.9 820.6,892.9 820.7,888.9 820.7,884.9 820.8,880.9 820.8,877.1 820.9,873.6 820.9,870.2 821,867.1 821,864.1 821,861.3 821.1,858.7 821.1,856.2 821.1,853.9 821.2,851.7 821.2,849.6 821.2,847.6 821.3,845.8 821.3,844.1 821.3,842.4 821.3,840.9 821.3,839.5 821.4,838.1 821.4,836.8 821.4,835.6 821.4,833.3 821.5,831.2 821.5,829.2 821.5,827.2 821.6,825.2 821.6,823.2 821.7,821.2 821.7,819.2 821.7,817.2 821.8,815.2 821.8,813.2 821.9,811.2 821.9,809.2 821.9,807.2 822,805.2 822,803.2 822.1,801.2 822.1,799.2 822.2,797.2 822.2,795.2 822.3,793.2 822.4,791.2 822.4,789.2 822.5,787.2 822.5,785.2 822.6,783.2 822.7,781.2 822.7,779.2 822.8,777.2 822.9,775.2 823,773.2 823.1,771.2 823.1,769.2 823.2,767.2 823.3,765.2 823.4,763.2 823.5,761.2 823.6,759.2 823.7,757.2 823.8,755.2 823.9,753.2 824,751.2 824.1,749.2 824.2,747.2 824.3,745.2 824.4,743.2 824.5,741.3 824.7,739.3 824.8,737.3 824.9,735.3 825,733.3 825.1,731.3 825.2,729.3 825.4,727.3 825.5,725.3 825.6,723.3 825.8,721.3 825.9,719.3 826,717.3 826.2,715.3 826.3,713.3 826.5,711.3 826.7,709.3 826.9,707.3 827.1,705.3 827.3,703.4 827.5,701.4 827.7,699.4 828,697.4 828.2,695.4 828.5,693.4 828.8,691.5 829.1,689.5 829.4,687.5 829.7,685.5 830,683.5 830.3,681.6 830.7,679.6 831,677.6 831.3,675.6 831.6,673.7 832,671.7 832.4,669.7 832.8,667.8 833.2,665.8 833.8,663.9 834.4,662 835.2,660.2 836,658.4 836.9,656.6 837.9,654.8 839,653.2 840.3,651.7 841.9,650.5 843.8,650 845.1,650.6 845.9,651.6 846.6,653.1 847.1,655 847.3,657 847.6,659 847.8,661 848,663 848.1,665 848.2,667 848.3,669 848.3,671 848.4,673 848.4,675 848.4,677 848.5,679 848.5,681 848.5,683 848.5,685 848.5,687 848.5,689 848.6,691 848.6,693 848.6,695 848.6,697 848.6,699 848.6,701 848.6,703 848.6,705 848.6,707 848.6,709 848.6,711 848.6,713 848.6,715 848.6,717 848.6,719 848.6,721 848.6,723 848.6,725 848.6,727 848.6,729 848.6,731 848.6,733 848.6,735 848.6,737 848.6,739 848.6,741 848.6,743 848.6,745 848.6,747 848.6,749 848.6,751 848.6,753 848.6,755 848.6,757 848.6,759 848.6,761 848.6,763 848.6,765 848.6,767 848.6,769 848.6,771 848.6,773 848.6,775 848.6,777 848.6,779 848.6,781 848.6,783 848.6,785 848.7,768.5 848.7,752 848.8,735.4 848.8,718.9 848.9,702.4 848.9,685.9 849,669.3 849,652.8 849.1,636.3 849.1,659.3 849.1,682.1 849.1,704.5 849.2,726.5 849.2,748.3 849.2,769.7 849.3,790.8 849.4,811.6 849.5,832.1 849.6,852.2 849.8,871.5 850.1,889.1 850.4,905.2 850.7,919.6 851,930 851.3,937.3 851.5,942.2 851.7,939.2 851.8,936.7 851.9,933.7 852,930.1 852.1,925.8 852.2,921.6 852.2,917.3 852.3,913.1 852.3,908.8 852.3,904.6 852.4,900.3 852.4,896.1 852.5,891.8 852.5,887.6 852.6,883.3 852.6,879.1 852.6,874.8 852.7,870.8 852.7,867.1 852.8,863.6 852.8,860.3 852.8,857.2 852.9,854.3 852.9,851.6 852.9,849 852.9,846.6 853,844.4 853,842.3 853,840.3 853,838.5 853.1,836.7 853.1,835.1 853.1,833.6 853.1,832.1 853.1,830.8 853.2,829.5 853.2,828.3 853.2,826 853.2,823.8 853.3,821.8 853.3,819.8 853.3,817.8 853.4,815.8 853.4,813.8 853.4,811.8 853.5,809.8 853.5,807.8 853.5,805.8 853.6,803.8 853.6,801.8 853.6,799.8 853.7,797.8 853.7,795.8 853.8,793.8 853.8,791.8 853.9,789.8 853.9,787.8 853.9,785.8 854,783.8 854,781.8 854.1,779.8 854.1,777.8 854.2,775.8 854.3,773.8 854.3,771.8 854.4,769.8 854.5,767.8 854.5,765.8 854.6,763.8 854.7,761.8 854.7,759.8 854.8,757.8 854.9,755.8 855,753.8 855.1,751.8 855.1,749.8 855.2,747.8 855.3,745.8 855.4,743.8 855.5,741.8 855.6,739.8 855.7,737.8 855.8,735.8 855.9,733.8 856,731.8 856.1,729.9 856.2,727.9 856.3,725.9 856.4,723.9 856.6,721.9 856.7,719.9 856.8,717.9 856.9,715.9 857,713.9 857.1,711.9 857.2,709.9 857.3,707.9 857.5,705.9 857.6,703.9 857.7,701.9 857.9,699.9 858,697.9 858.2,695.9 858.3,693.9 858.5,691.9 858.7,689.9 858.9,687.9 859.1,686 859.3,684 859.5,682 859.8,680 860,678 860.3,676 860.6,674 860.9,672.1 861.1,670.1 861.4,668.1 861.7,666.1 862,664.2 862.3,662.2 862.6,660.2 862.9,658.2 863.2,656.2 863.5,654.3 863.8,652.3 864.2,650.3 864.6,648.4 865,646.4 865.5,644.5 866.1,642.6 866.9,640.7 867.7,638.9 868.6,637.1 869.6,635.4 870.7,633.7 872,632.2 873.6,631 875.5,630.5 877,631.1 877.8,632.1 878.5,633.6 879,635.5 879.3,637.5 879.5,639.5 879.8,641.5 880,643.5 880.1,645.5 880.2,647.5 880.3,649.5 880.3,651.5 880.4,653.5 880.4,655.5 880.4,657.5 880.5,659.5 880.5,661.5 880.5,663.5 880.5,665.5 880.5,667.5 880.5,669.5 880.5,671.5 880.6,673.5 880.6,675.5 880.6,677.5 880.6,679.5 880.6,681.5 880.6,683.5 880.6,685.5 880.6,687.5 880.6,689.5 880.6,691.5 880.6,693.5 880.6,695.5 880.6,697.5 880.6,699.5 880.6,701.5 880.6,703.5 880.6,705.5 880.6,707.5 880.6,709.5 880.6,711.5 880.6,713.5 880.6,715.5 880.6,717.5 880.6,719.5 880.6,721.5 880.6,723.5 880.6,725.5 880.6,727.5 880.6,729.5 880.6,731.5 880.6,733.5 880.6,735.5 880.6,737.5 880.6,739.5 880.6,741.5 880.6,743.5 880.6,745.5 880.6,747.5 880.6,749.5 880.6,751.5 880.6,753.5 880.6,755.5 880.6,757.5 880.6,759.5 880.6,761.5 880.6,763.5 880.6,765.5 880.6,767.5 880.6,769.5 880.7,753.4 880.7,736.7 880.8,720.1 880.8,703.5 880.9,686.8 880.9,670.2 881,653.6 881,636.9 881.1,620.3 881.1,643.3 881.1,666.2 881.1,688.8 881.1,711 881.2,732.9 881.2,754.4 881.3,775.7 881.3,796.6 881.4,817.2 881.5,837.5 881.7,857.5 882,875.8 882.2,892.5 882.6,907.9 882.9,919.8 883.2,928.5 883.4,934.3 883.5,937 883.6,935.2 883.7,933 883.8,930.3 883.9,927 884.1,922.9 884.1,918.4 884.2,913.9 884.2,909.4 884.2,904.9 884.2,900.4 884.3,895.9 884.3,891.4 884.3,886.9 884.4,882.4 884.4,877.9 884.5,873.4 884.5,868.9 884.5,864.7 884.6,860.8 884.6,857.1 884.6,853.6 884.7,850.4 884.7,847.4 884.7,844.5 884.7,841.9 884.8,839.5 884.8,837.2 884.8,835 884.8,833 884.8,831.1 884.9,829.4 884.9,827.7 884.9,826.2 884.9,824.8 884.9,823.4 884.9,822.1 884.9,820.9 885,818.6 885,816.4 885,814.4 885.1,812.4 885.1,810.4 885.1,808.4 885.1,806.4 885.2,804.4 885.2,802.4 885.2,800.4 885.3,798.4 885.3,796.4 885.3,794.4 885.4,792.4 885.4,790.4 885.4,788.4 885.5,786.4 885.5,784.4 885.5,782.4 885.6,780.4 885.6,778.4 885.7,776.4 885.7,774.4 885.7,772.4 885.8,770.4 885.8,768.4 885.9,766.4 885.9,764.4 886,762.4 886.1,760.4 886.1,758.4 886.2,756.4 886.2,754.4 886.3,752.4 886.4,750.4 886.4,748.4 886.5,746.4 886.6,744.4 886.6,742.4 886.7,740.4 886.8,738.4 886.9,736.4 887,734.4 887,732.4 887.1,730.4 887.2,728.4 887.3,726.4 887.4,724.4 887.5,722.4 887.6,720.4 887.7,718.4 887.8,716.4 887.9,714.4 888,712.4 888.1,710.4 888.2,708.4 888.3,706.4 888.4,704.4 888.5,702.4 888.6,700.4 888.7,698.4 888.8,696.4 889,694.4 889.1,692.4 889.2,690.4 889.3,688.4 889.4,686.4 889.5,684.4 889.7,682.5 889.8,680.5 890,678.5 890.1,676.5 890.3,674.5 890.5,672.5 890.7,670.5 890.9,668.5 891.1,666.5 891.4,664.5 891.6,662.6 891.9,660.6 892.1,658.6 892.4,656.6 892.6,654.6 892.8,652.6 893,650.6 893.2,648.6 893.4,646.7 893.6,644.7 893.8,642.7 894,640.7 894.1,638.7 894.4,636.7 894.6,634.7 894.9,632.7 895.3,630.8 895.9,628.9 896.6,627 897.3,625.1 898,623.3 898.8,621.4 899.6,619.6 900.5,617.8 901.6,616.1 902.8,614.5 904.2,613.1 906,612.2 907.6,612.1 909.1,613 910,614.2 910.6,616 911,618 911.3,620 911.6,622 911.8,624 912,626 912.1,628 912.2,630 912.3,632 912.3,634 912.4,636 912.4,638 912.4,640 912.5,642 912.5,644 912.5,646 912.5,648 912.5,650 912.5,652 912.5,654 912.6,656 912.6,658 912.6,660 912.6,662 912.6,664 912.6,666 912.6,668 912.6,670 912.6,672 912.6,674 912.6,676 912.6,678 912.6,680 912.6,682 912.6,684 912.6,686 912.6,688 912.6,690 912.6,692 912.6,694 912.6,696 912.6,698 912.6,700 912.6,702 912.6,704 912.6,706 912.6,708 912.6,710 912.6,712 912.6,714 912.6,716 912.6,718 912.6,720 912.6,722 912.6,724 912.6,726 912.6,728 912.6,730 912.6,732 912.6,734 912.6,736 912.6,738 912.6,740 912.6,742 912.6,744 912.6,746 912.6,748 912.6,750 912.6,752 912.6,754 912.6,756 912.6,757.5 912.7,740.7 912.7,723.9 912.8,707.1 912.8,690.3 912.9,673.5 912.9,656.7 913,639.9 913,623.1 913.1,606.3 913.1,629.3 913.1,652.3 913.1,675 913.1,697.3 913.2,719.3 913.2,741 913.2,762.4 913.3,783.4 913.4,804.1 913.5,824.5 913.7,844.6 913.9,863.5 914.1,880.8 914.4,896.7 914.8,910.2 915.1,919.9 915.3,926.7 915.5,931.2 915.6,929.4 915.7,927 915.8,924.1 915.9,920.6 916.1,916.2 916.1,911.5 916.2,906.7 916.2,902 916.2,897.2 916.2,892.5 916.3,887.7 916.3,883 916.3,878.2 916.4,873.5 916.4,868.7 916.5,864 916.5,859.3 916.5,855 916.6,851 916.6,847.2 916.6,843.7 916.6,840.5 916.7,837.4 916.7,834.6 916.7,831.9 916.7,829.4 916.8,827.1 916.8,825 916.8,823 916.8,821.1 916.8,819.4 916.9,817.8 916.9,816.2 916.9,814.8 916.9,813.5 916.9,812.2 916.9,810.9 916.9,809.7 917,807.4 917,805.3 917,803.3 917,801.3 917.1,799.3 917.1,797.3 917.1,795.3 917.1,793.3 917.2,791.3 917.2,789.3 917.2,787.3 917.3,785.3 917.3,783.3 917.3,781.3 917.4,779.3 917.4,777.3 917.4,775.3 917.5,773.3 917.5,771.3 917.5,769.3 917.6,767.3 917.6,765.3 917.6,763.3 917.7,761.3 917.7,759.3 917.8,757.3 917.8,755.3 917.9,753.3 917.9,751.3 918,749.3 918,747.3 918.1,745.3 918.1,743.3 918.2,741.3 918.2,739.3 918.3,737.3 918.4,735.3 918.4,733.3 918.5,731.3 918.6,729.3 918.6,727.3 918.7,725.3 918.8,723.3 918.9,721.3 919,719.3 919,717.3 919.1,715.3 919.2,713.3 919.3,711.3 919.4,709.3 919.5,707.3 919.6,705.3 919.7,703.3 919.8,701.3 919.9,699.3 920,697.3 920.1,695.3 920.2,693.3 920.3,691.4 920.4,689.4 920.5,687.4 920.6,685.4 920.7,683.4 920.8,681.4 920.9,679.4 921,677.4 921.1,675.4 921.2,673.4 921.3,671.4 921.4,669.4 921.6,667.4 921.7,665.4 921.8,663.4 922,661.4 922.1,659.4 922.3,657.4 922.5,655.4 922.7,653.4 922.9,651.4 923.1,649.5 923.3,647.5 923.6,645.5 923.8,643.5 924.1,641.5 924.3,639.5 924.6,637.5 924.8,635.6 925,633.6 925.2,631.6 925.4,629.6 925.5,627.6 925.7,625.6 925.9,623.6 926.1,621.6 926.3,619.6 926.5,617.6 926.8,615.7 927.1,613.7 927.5,611.7 928,609.8 928.7,607.9 929.4,606 930.1,604.2 930.9,602.3 931.7,600.5 932.6,598.7 933.6,597 934.7,595.3 936.1,593.9 937.8,592.8 939.2,592.5 940.8,593.1 941.7,594.1 942.4,595.6 942.9,597.5 943.2,599.5 943.5,601.5 943.7,603.5 943.9,605.5 944.1,607.5 944.2,609.5 944.2,611.5 944.3,613.5 944.4,615.5 944.4,617.5 944.4,619.5 944.4,621.5 944.5,623.5 944.5,625.5 944.5,627.5 944.5,629.5 944.5,631.5 944.5,633.5 944.6,635.5 944.6,637.5 944.6,639.5 944.6,641.5 944.6,643.5 944.6,645.5 944.6,647.5 944.6,649.5 944.6,651.5 944.6,653.5 944.6,655.5 944.6,657.5 944.6,659.5 944.6,661.5 944.6,663.5 944.6,665.5 944.6,667.5 944.6,669.5 944.6,671.5 944.6,673.5 944.6,675.5 944.6,677.5 944.6,679.5 944.6,681.5 944.6,683.5 944.6,685.5 944.6,687.5 944.6,689.5 944.6,691.5 944.6,693.5 944.6,695.5 944.6,697.5 944.6,699.5 944.6,701.5 944.6,703.5 944.6,705.5 944.6,707.5 944.6,709.5 944.6,711.5 944.6,713.5 944.6,715.5 944.6,717.5 944.6,719.5 944.6,721.5 944.6,723.5 944.6,725.5 944.6,727.5 944.6,729.5 944.6,731.5 944.6,733.5 944.6,735.5 944.6,737.5 944.6,739.5 944.6,741.5 944.6,743.5 944.6,728.4 944.7,713 944.8,697.6 944.8,682.3 944.9,666.9 944.9,651.5 945,636.2 945,620.8 945.1,605.4 945.1,590 945.1,613 945.1,636 945.1,658.9 945.1,681.4 945.2,703.6 945.2,725.4 945.2,746.9 945.3,768.1 945.3,788.9 945.4,809.5 945.6,829.7 945.8,849.4 946,867.4 946.3,883.9 946.6,899 947,910.2 947.2,918.3 947.4,923.7 947.5,925.5 947.6,923.5 947.7,921 947.8,918 947.9,914.2 948.1,909.5 948.1,904.5 948.2,899.5 948.2,894.5 948.2,889.5 948.2,884.5 948.3,879.5 948.3,874.5 948.3,869.5 948.4,864.5 948.4,859.5 948.4,854.5 948.5,849.7 948.5,845.3 948.5,841.2 948.6,837.4 948.6,833.9 948.6,830.6 948.7,827.5 948.7,824.6 948.7,822 948.7,819.5 948.7,817.2 948.8,815 948.8,813.1 948.8,811.2 948.8,809.5 948.8,807.9 948.8,806.4 948.8,804.9 948.9,803.5 948.9,802.2 948.9,800.9 948.9,799.7 948.9,797.4 948.9,795.3 949,793.3 949,791.3 949,789.3 949,787.3 949.1,785.3 949.1,783.3 949.1,781.3 949.1,779.3 949.2,777.3 949.2,775.3 949.2,773.3 949.3,771.3 949.3,769.3 949.3,767.3 949.3,765.3 949.4,763.3 949.4,761.3 949.4,759.3 949.5,757.3 949.5,755.3 949.5,753.3 949.6,751.3 949.6,749.3 949.7,747.3 949.7,745.3 949.7,743.3 949.8,741.3 949.8,739.3 949.9,737.3 949.9,735.3 950,733.3 950,731.3 950.1,729.3 950.1,727.3 950.2,725.3 950.3,723.3 950.3,721.3 950.4,719.3 950.4,717.3 950.5,715.3 950.6,713.3 950.6,711.3 950.7,709.3 950.8,707.3 950.9,705.3 950.9,703.3 951,701.3 951.1,699.3 951.2,697.3 951.3,695.3 951.4,693.3 951.4,691.3 951.5,689.3 951.6,687.3 951.7,685.3 951.8,683.3 951.9,681.3 952,679.3 952.1,677.3 952.2,675.3 952.3,673.3 952.4,671.3 952.5,669.3 952.6,667.3 952.7,665.3 952.8,663.4 952.9,661.4 953,659.4 953.1,657.4 953.2,655.4 953.3,653.4 953.4,651.4 953.6,649.4 953.7,647.4 953.8,645.4 954,643.4 954.1,641.4 954.3,639.4 954.5,637.4 954.7,635.4 954.9,633.4 955.1,631.4 955.3,629.5 955.6,627.5 955.8,625.5 956,623.5 956.3,621.5 956.5,619.5 956.7,617.5 956.9,615.5 957.1,613.6 957.3,611.6 957.4,609.6 957.6,607.6 957.8,605.6 958,603.6 958.2,601.6 958.4,599.6 958.6,597.6 958.8,595.6 959.1,593.7 959.6,591.7 960.2,589.8 960.9,587.9 961.6,586.1 962.3,584.2 963.1,582.3 963.9,580.5 964.8,578.8 965.9,577 967.1,575.4 968.5,574 970.3,573.2 971.8,573.1 973.1,574 973.9,575.2 974.6,577 974.9,579 975.2,581 975.4,583 975.6,585 975.8,587 975.9,589 976,591 976,593 976.1,595 976.1,597 976.2,599 976.2,601 976.2,603 976.2,605 976.3,607 976.3,609 976.3,611 976.3,613 976.3,615 976.3,617 976.3,619 976.3,621 976.3,623 976.3,625 976.3,627 976.3,629 976.3,631 976.4,633 976.4,635 976.4,637 976.4,639 976.4,641 976.4,643 976.4,645 976.4,647 976.4,649 976.4,651 976.4,653 976.4,655 976.4,657 976.4,659 976.4,661 976.4,663 976.4,665 976.4,667 976.4,669 976.4,671 976.4,673 976.4,675 976.4,677 976.4,679 976.4,681 976.4,683 976.4,685 976.4,687 976.4,689 976.4,691 976.4,693 976.4,695 976.4,697 976.4,699 976.4,701 976.4,703 976.4,705 976.4,707 976.4,709 976.4,711 976.4,713 976.4,715 976.4,717 976.4,719 976.4,721 976.4,723 976.4,725 976.4,727 976.4,729 976.4,714.5 976.5,699 976.5,683.5 976.6,668 976.6,652.5 976.6,637 976.7,621.5 976.8,606 976.8,590.5 976.9,575 976.9,598 976.9,621 976.9,644 976.9,666.6 976.9,688.9 976.9,710.9 976.9,732.5 977,753.8 977.1,774.8 977.1,795.5 977.3,815.8 977.4,835.9 977.7,854.5 977.9,871.6 978.2,887.2 978.6,900.1 978.9,909.3 979.1,915.7 979.2,919.5 979.3,917.4 979.4,914.8 979.6,911.5 979.7,907.5 979.8,902.5 979.9,897.2 979.9,892 979.9,886.7 980,881.5 980,876.2 980,871 980.1,865.7 980.1,860.5 980.1,855.2 980.2,850 980.2,844.8 980.2,840 980.3,835.5 980.3,831.3 980.3,827.4 980.4,823.8 980.4,820.5 980.4,817.4 980.4,814.5 980.5,811.9 980.5,809.4 980.5,807.1 980.5,804.9 980.5,802.9 980.5,801.1 980.6,799.4 980.6,797.8 980.6,796.3 980.6,794.8 980.6,793.4 980.6,792.1 980.6,790.8 980.6,789.5 980.7,787.2 980.7,785.1 980.7,783.1 980.7,781.1 980.8,779.1 980.8,777.1 980.8,775.1 980.8,773.1 980.9,771.1 980.9,769.1 980.9,767.1 980.9,765.1 981,763.1 981,761.1 981,759.1 981.1,757.1 981.1,755.1 981.1,753.1 981.1,751.1 981.2,749.1 981.2,747.1 981.2,745.1 981.3,743.1 981.3,741.1 981.4,739.1 981.4,737.1 981.4,735.1 981.5,733.1 981.5,731.1 981.6,729.1 981.6,727.1 981.6,725.1 981.7,723.1 981.7,721.1 981.8,719.1 981.9,717.1 981.9,715.1 982,713.1 982,711.1 982.1,709.1 982.1,707.1 982.2,705.1 982.3,703.1 982.3,701.1 982.4,699.1 982.5,697.1 982.5,695.1 982.6,693.1 982.7,691.1 982.8,689.1 982.8,687.1 982.9,685.1 983,683.1 983.1,681.1 983.2,679.1 983.3,677.1 983.4,675.1 983.5,673.1 983.5,671.1 983.6,669.1 983.7,667.1 983.8,665.1 983.9,663.1 984,661.1 984.1,659.1 984.2,657.1 984.3,655.1 984.4,653.1 984.5,651.1 984.6,649.1 984.7,647.1 984.8,645.1 984.9,643.1 985,641.1 985.1,639.1 985.3,637.2 985.4,635.2 985.5,633.2 985.7,631.2 985.8,629.2 986,627.2 986.1,625.2 986.3,623.2 986.5,621.2 986.7,619.2 986.9,617.2 987.1,615.2 987.4,613.2 987.6,611.3 987.8,609.3 988.1,607.3 988.3,605.3 988.5,603.3 988.7,601.3 989,599.3 989.2,597.3 989.4,595.4 989.6,593.4 989.8,591.4 990,589.4 990.2,587.4 990.4,585.4 990.7,583.4 990.9,581.4 991.2,579.5 991.5,577.5 991.9,575.5 992.5,573.6 993.2,571.7 993.9,569.9 994.6,568 995.3,566.1 996.1,564.3 997,562.5 998,560.8 999.2,559.1 1000.5,557.7 1002.2,556.6 1003.8,556.2 1005.1,556.8 1005.8,557.8 1006.5,559.3 1006.9,561.2 1007.2,563.2 1007.4,565.2 1007.6,567.2 1007.8,569.2 1007.9,571.2 1008,573.2 1008,575.2 1008.1,577.2 1008.1,579.2 1008.2,581.2 1008.2,583.2 1008.2,585.2 1008.2,587.2 1008.3,589.2 1008.3,591.2 1008.3,593.2 1008.3,595.2 1008.3,597.2 1008.3,599.2 1008.3,601.2 1008.3,603.2 1008.3,605.2 1008.3,607.2 1008.3,609.2 1008.3,611.2 1008.3,613.2 1008.3,615.2 1008.4,617.2 1008.4,619.2 1008.4,621.2 1008.4,623.2 1008.4,625.2 1008.4,627.2 1008.4,629.2 1008.4,631.2 1008.4,633.2 1008.4,635.2 1008.4,637.2 1008.4,639.2 1008.4,641.2 1008.4,643.2 1008.4,645.2 1008.4,647.2 1008.4,649.2 1008.4,651.2 1008.4,653.2 1008.4,655.2 1008.4,657.2 1008.4,659.2 1008.4,661.2 1008.4,663.2 1008.4,665.2 1008.4,667.2 1008.4,669.2 1008.4,671.2 1008.4,673.2 1008.4,675.2 1008.4,677.2 1008.4,679.2 1008.4,681.2 1008.4,683.2 1008.4,685.2 1008.4,687.2 1008.4,689.2 1008.4,691.2 1008.4,693.2 1008.4,695.2 1008.4,697.2 1008.4,699.2 1008.4,701.2 1008.4,703.2 1008.4,705.2 1008.4,707.2 1008.4,709.2 1008.4,711.2 1008.4,713.2 1008.4,715.2 1008.4,717.2 1008.4,702 1008.5,686.5 1008.5,671 1008.6,655.5 1008.6,640 1008.6,624.5 1008.7,609 1008.8,593.5 1008.8,578 1008.9,562.5 1008.9,585.5 1008.9,608.5 1008.9,631.5 1008.9,654.2 1008.9,676.6 1008.9,698.7 1008.9,720.4 1009,741.8 1009,762.8 1009.1,783.6 1009.2,804 1009.4,824.2 1009.6,843.2 1009.8,860.7 1010.2,876.7 1010.5,890.7 1010.8,900.7 1011.1,907.8 1011.2,912.5 1011.3,910.8 1011.4,908.1 1011.6,904.6 1011.7,900.3 1011.8,895 1011.9,889.5 1011.9,884 1011.9,878.5 1012,873 1012,867.5 1012,862 1012,856.5 1012.1,851 1012.1,845.5 1012.1,840 1012.2,834.7 1012.2,829.7 1012.2,825.2 1012.3,820.9 1012.3,817 1012.3,813.4 1012.3,810 1012.4,806.9 1012.4,804 1012.4,801.3 1012.4,798.8 1012.4,796.5 1012.5,794.4 1012.5,792.4 1012.5,790.6 1012.5,788.8 1012.5,787.2 1012.5,785.7 1012.5,784.2 1012.5,782.8 1012.6,781.4 1012.6,780.1 1012.6,778.9 1012.6,776.6 1012.6,774.4 1012.6,772.4 1012.7,770.4 1012.7,768.4 1012.7,766.4 1012.7,764.4 1012.7,762.4 1012.8,760.4 1012.8,758.4 1012.8,756.4 1012.8,754.4 1012.9,752.4 1012.9,750.4 1012.9,748.4 1013,746.4 1013,744.4 1013,742.4 1013,740.4 1013.1,738.4 1013.1,736.4 1013.1,734.4 1013.2,732.4 1013.2,730.4 1013.2,728.4 1013.2,726.4 1013.3,724.4 1013.3,722.4 1013.4,720.4 1013.4,718.4 1013.4,716.4 1013.5,714.4 1013.5,712.4 1013.6,710.4 1013.6,708.4 1013.6,706.4 1013.7,704.4 1013.7,702.4 1013.8,700.4 1013.8,698.4 1013.9,696.4 1014,694.4 1014,692.4 1014.1,690.4 1014.1,688.4 1014.2,686.4 1014.2,684.4 1014.3,682.4 1014.4,680.4 1014.4,678.4 1014.5,676.4 1014.6,674.4 1014.7,672.4 1014.7,670.4 1014.8,668.4 1014.9,666.4 1015,664.4 1015,662.4 1015.1,660.4 1015.2,658.4 1015.3,656.4 1015.4,654.4 1015.5,652.4 1015.5,650.4 1015.6,648.4 1015.7,646.4 1015.8,644.4 1015.9,642.4 1016,640.4 1016.1,638.4 1016.2,636.4 1016.3,634.4 1016.4,632.5 1016.5,630.5 1016.6,628.5 1016.7,626.5 1016.8,624.5 1016.9,622.5 1017,620.5 1017.1,618.5 1017.2,616.5 1017.4,614.5 1017.5,612.5 1017.6,610.5 1017.8,608.5 1018,606.5 1018.1,604.5 1018.3,602.5 1018.5,600.5 1018.7,598.5 1018.9,596.5 1019.1,594.6 1019.3,592.6 1019.6,590.6 1019.8,588.6 1020,586.6 1020.2,584.6 1020.4,582.6 1020.6,580.6 1020.7,578.6 1020.9,576.6 1021.1,574.7 1021.2,572.7 1021.4,570.7 1021.6,568.7 1021.8,566.7 1021.9,564.7 1022.1,562.7 1022.4,560.7 1022.6,558.7 1022.9,556.8 1023.4,554.8 1024,552.9 1024.7,551 1025.4,549.2 1026.1,547.3 1026.9,545.4 1027.7,543.6 1028.6,541.9 1029.7,540.2 1030.9,538.6 1032.3,537.2 1034.1,536.3 1035.5,536.3 1037,537.2 1037.8,538.5 1038.5,540.2 1038.8,542.2 1039.1,544.2 1039.3,546.2 1039.6,548.2 1039.8,550.2 1039.9,552.2 1039.9,554.2 1040,556.2 1040.1,558.2 1040.1,560.2 1040.2,562.2 1040.2,564.2 1040.2,566.2 1040.2,568.2 1040.2,570.2 1040.3,572.2 1040.3,574.2 1040.3,576.2 1040.3,578.2 1040.3,580.2 1040.3,582.2 1040.3,584.2 1040.3,586.2 1040.3,588.2 1040.3,590.2 1040.3,592.2 1040.3,594.2 1040.3,596.2 1040.3,598.2 1040.3,600.2 1040.3,602.2 1040.3,604.2 1040.3,606.2 1040.3,608.2 1040.3,610.2 1040.3,612.2 1040.3,614.2 1040.3,616.2 1040.3,618.2 1040.3,620.2 1040.3,622.2 1040.3,624.2 1040.3,626.2 1040.3,628.2 1040.3,630.2 1040.3,632.2 1040.3,634.2 1040.3,636.2 1040.3,638.2 1040.3,640.2 1040.3,642.2 1040.3,644.2 1040.3,646.2 1040.3,648.2 1040.3,650.2 1040.3,652.2 1040.3,654.2 1040.3,656.2 1040.3,658.2 1040.3,660.2 1040.3,662.2 1040.3,664.2 1040.3,666.2 1040.3,668.2 1040.3,670.2 1040.3,672.2 1040.3,674.2 1040.3,676.2 1040.3,678.2 1040.3,680.2 1040.3,682.2 1040.3,684.2 1040.3,686.2 1040.3,688.2 1040.3,690.2 1040.3,692.2 1040.3,694.2 1040.3,696.2 1040.3,698.2 1040.3,700.2 1040.3,702.2 1040.3,704.2 1040.4,689.2 1040.4,673.5 1040.5,657.8 1040.5,642 1040.6,626.2 1040.6,610.5 1040.7,594.8 1040.8,579 1040.8,563.2 1040.8,547.5 1040.9,570.5 1040.9,593.5 1040.9,616.5 1040.9,639.3 1040.9,661.8 1040.9,684 1040.9,705.8 1041,727.4 1041,748.5 1041.1,769.4 1041.2,790 1041.3,810.2 1041.5,829.9 1041.8,847.9 1042,864.4 1042.4,879.6 1042.7,890.9 1043,899 1043.2,904.4 1043.2,906.2 1043.3,904 1043.4,901.1 1043.6,897.4 1043.8,892.9 1043.8,887.2 1043.9,881.4 1043.9,875.7 1043.9,869.9 1043.9,864.2 1044,858.4 1044,852.7 1044,846.9 1044.1,841.2 1044.1,835.4 1044.1,829.7 1044.2,824.3 1044.2,819.3 1044.2,814.6 1044.2,810.3 1044.3,806.4 1044.3,802.7 1044.3,799.3 1044.3,796.2 1044.4,793.3 1044.4,790.6 1044.4,788.1 1044.4,785.8 1044.4,783.6 1044.4,781.6 1044.4,779.8 1044.5,778.1 1044.5,776.5 1044.5,774.9 1044.5,773.4 1044.5,772 1044.5,770.6 1044.5,769.3 1044.5,768 1044.5,766.8 1044.6,764.6 1044.6,762.5 1044.6,760.5 1044.6,758.5 1044.6,756.5 1044.6,754.5 1044.7,752.5 1044.7,750.5 1044.7,748.5 1044.7,746.5 1044.8,744.5 1044.8,742.5 1044.8,740.5 1044.8,738.5 1044.9,736.5 1044.9,734.5 1044.9,732.5 1044.9,730.5 1045,728.5 1045,726.5 1045,724.5 1045,722.5 1045.1,720.5 1045.1,718.5 1045.1,716.5 1045.2,714.5 1045.2,712.5 1045.2,710.5 1045.3,708.5 1045.3,706.5 1045.3,704.5 1045.4,702.5 1045.4,700.5 1045.4,698.5 1045.5,696.5 1045.5,694.5 1045.6,692.5 1045.6,690.5 1045.7,688.5 1045.7,686.5 1045.8,684.5 1045.8,682.5 1045.9,680.5 1045.9,678.5 1046,676.5 1046,674.5 1046.1,672.5 1046.1,670.5 1046.2,668.5 1046.2,666.5 1046.3,664.5 1046.4,662.5 1046.4,660.5 1046.5,658.5 1046.6,656.5 1046.6,654.5 1046.7,652.5 1046.8,650.5 1046.9,648.5 1046.9,646.5 1047,644.5 1047.1,642.5 1047.2,640.5 1047.3,638.5 1047.3,636.5 1047.4,634.5 1047.5,632.5 1047.6,630.5 1047.7,628.5 1047.7,626.5 1047.8,624.6 1047.9,622.6 1048,620.6 1048.1,618.6 1048.2,616.6 1048.3,614.6 1048.4,612.6 1048.5,610.6 1048.6,608.6 1048.7,606.6 1048.8,604.6 1048.9,602.6 1049,600.6 1049.1,598.6 1049.3,596.6 1049.4,594.6 1049.5,592.6 1049.7,590.6 1049.9,588.6 1050,586.6 1050.2,584.6 1050.4,582.6 1050.6,580.6 1050.8,578.7 1051,576.7 1051.2,574.7 1051.4,572.7 1051.6,570.7 1051.8,568.7 1052,566.7 1052.2,564.7 1052.3,562.7 1052.5,560.7 1052.6,558.7 1052.8,556.7 1052.9,554.7 1053,552.8 1053.2,550.8 1053.3,548.8 1053.5,546.8 1053.7,544.8 1053.9,542.8 1054.1,540.8 1054.3,538.8 1054.7,536.9 1055.3,534.9 1056,533.1 1056.7,531.2 1057.4,529.3 1058.1,527.5 1059,525.6 1059.9,523.9 1060.9,522.1 1062,520.5 1063.4,519 1065.1,518 1066.5,517.7 1068,518.3 1068.8,519.3 1069.5,520.8 1070,522.7 1070.3,524.7 1070.5,526.7 1070.8,528.7 1071,530.7 1071.1,532.7 1071.2,534.7 1071.3,536.7 1071.3,538.7 1071.4,540.7 1071.4,542.7 1071.4,544.7 1071.5,546.7 1071.5,548.7 1071.5,550.7 1071.5,552.7 1071.5,554.7 1071.5,556.7 1071.5,558.7 1071.6,560.7 1071.6,562.7 1071.6,564.7 1071.6,566.7 1071.6,568.7 1071.6,570.7 1071.6,572.7 1071.6,574.7 1071.6,576.7 1071.6,578.7 1071.6,580.7 1071.6,582.7 1071.6,584.7 1071.6,586.7 1071.6,588.7 1071.6,590.7 1071.6,592.7 1071.6,594.7 1071.6,596.7 1071.6,598.7 1071.6,600.7 1071.6,602.7 1071.6,604.7 1071.6,606.7 1071.6,608.7 1071.6,610.7 1071.6,612.7 1071.6,614.7 1071.6,616.7 1071.6,618.7 1071.6,620.7 1071.6,622.7 1071.6,624.7 1071.6,626.7 1071.6,628.7 1071.6,630.7 1071.6,632.7 1071.6,634.7 1071.6,636.7 1071.6,638.7 1071.6,640.7 1071.6,642.7 1071.6,644.7 1071.6,646.7 1071.6,648.7 1071.6,650.7 1071.6,652.7 1071.6,654.7 1071.6,656.7 1071.6,658.7 1071.6,660.7 1071.6,662.7 1071.6,664.7 1071.6,666.7 1071.6,668.7 1071.6,670.7 1071.6,672.7 1071.6,674.7 1071.6,676.7 1071.6,678.7 1071.6,680.7 1071.6,682.7 1071.6,684.7 1071.6,686.7 1071.6,688.7 1071.6,690.7 1071.6,692.7 1071.6,677.7 1071.7,661.7 1071.8,645.7 1071.8,629.6 1071.8,613.6 1071.9,597.6 1071.9,581.6 1072,565.5 1072,549.5 1072.1,533.5 1072.1,556.5 1072.1,579.5 1072.1,602.5 1072.1,625.4 1072.1,648.1 1072.1,670.3 1072.2,692.2 1072.2,713.8 1072.3,735.1 1072.3,756.1 1072.4,776.7 1072.5,797.1 1072.7,817.1 1072.9,835.6 1073.2,852.5 1073.5,868.1 1073.9,880.5 1074.1,889.5 1074.4,895.7 1074.5,899 1074.6,896.6 1074.7,893.6 1074.8,889.8 1075,885 1075.1,879 1075.1,873 1075.1,867 1075.2,861 1075.2,855 1075.2,849 1075.3,843 1075.3,837 1075.3,831 1075.3,825 1075.4,819 1075.4,813.5 1075.4,808.4 1075.5,803.7 1075.5,799.3 1075.5,795.3 1075.5,791.6 1075.6,788.2 1075.6,785 1075.6,782.1 1075.6,779.4 1075.6,776.9 1075.6,774.6 1075.6,772.4 1075.7,770.5 1075.7,768.6 1075.7,766.9 1075.7,765.3 1075.7,763.7 1075.7,762.2 1075.7,760.7 1075.7,759.3 1075.7,758 1075.8,756.7 1075.8,755.5 1075.8,753.2 1075.8,751.2 1075.8,749.2 1075.8,747.2 1075.9,745.2 1075.9,743.2 1075.9,741.2 1075.9,739.2 1075.9,737.2 1076,735.2 1076,733.2 1076,731.2 1076,729.2 1076,727.2 1076.1,725.2 1076.1,723.2 1076.1,721.2 1076.1,719.2 1076.2,717.2 1076.2,715.2 1076.2,713.2 1076.2,711.2 1076.3,709.2 1076.3,707.2 1076.3,705.2 1076.4,703.2 1076.4,701.2 1076.4,699.2 1076.4,697.2 1076.5,695.2 1076.5,693.2 1076.5,691.2 1076.6,689.2 1076.6,687.2 1076.7,685.2 1076.7,683.2 1076.7,681.2 1076.8,679.2 1076.8,677.2 1076.9,675.2 1076.9,673.2 1077,671.2 1077,669.2 1077,667.2 1077.1,665.2 1077.1,663.2 1077.2,661.2 1077.3,659.2 1077.3,657.2 1077.4,655.2 1077.4,653.2 1077.5,651.2 1077.5,649.2 1077.6,647.2 1077.7,645.2 1077.7,643.2 1077.8,641.2 1077.9,639.2 1077.9,637.2 1078,635.2 1078.1,633.2 1078.1,631.2 1078.2,629.2 1078.3,627.2 1078.4,625.2 1078.5,623.2 1078.5,621.2 1078.6,619.2 1078.7,617.2 1078.8,615.2 1078.8,613.2 1078.9,611.2 1079,609.2 1079.1,607.2 1079.2,605.2 1079.3,603.2 1079.4,601.2 1079.5,599.2 1079.5,597.2 1079.6,595.2 1079.7,593.2 1079.8,591.2 1079.9,589.2 1080.1,587.2 1080.2,585.2 1080.3,583.2 1080.4,581.2 1080.5,579.2 1080.7,577.2 1080.8,575.3 1081,573.3 1081.1,571.3 1081.3,569.3 1081.5,567.3 1081.7,565.3 1081.9,563.3 1082.1,561.3 1082.3,559.3 1082.5,557.3 1082.6,555.3 1082.8,553.3 1083,551.4 1083.2,549.4 1083.4,547.4 1083.6,545.4 1083.7,543.4 1083.9,541.4 1084.1,539.4 1084.2,537.4 1084.4,535.4 1084.5,533.4 1084.7,531.4 1084.9,529.4 1085.1,527.4 1085.3,525.5 1085.5,523.5 1085.7,521.5 1086.1,519.5 1086.6,517.6 1087.2,515.7 1087.9,513.8 1088.5,511.9 1089.2,510 1090,508.2 1090.8,506.3 1091.7,504.6 1092.7,502.8 1093.9,501.2 1095.3,499.8 1097,498.9 1098.6,498.8 1100.1,499.7 1101,500.9 1101.6,502.7 1102,504.7 1102.3,506.7 1102.6,508.7 1102.8,510.7 1103,512.7 1103.1,514.7 1103.2,516.7 1103.3,518.7 1103.3,520.7 1103.4,522.7 1103.4,524.7 1103.4,526.7 1103.5,528.7 1103.5,530.7 1103.5,532.7 1103.5,534.7 1103.5,536.7 1103.5,538.7 1103.5,540.7 1103.6,542.7 1103.6,544.7 1103.6,546.7 1103.6,548.7 1103.6,550.7 1103.6,552.7 1103.6,554.7 1103.6,556.7 1103.6,558.7 1103.6,560.7 1103.6,562.7 1103.6,564.7 1103.6,566.7 1103.6,568.7 1103.6,570.7 1103.6,572.7 1103.6,574.7 1103.6,576.7 1103.6,578.7 1103.6,580.7 1103.6,582.7 1103.6,584.7 1103.6,586.7 1103.6,588.7 1103.6,590.7 1103.6,592.7 1103.6,594.7 1103.6,596.7 1103.6,598.7 1103.6,600.7 1103.6,602.7 1103.6,604.7 1103.6,606.7 1103.6,608.7 1103.6,610.7 1103.6,612.7 1103.6,614.7 1103.6,616.7 1103.6,618.7 1103.6,620.7 1103.6,622.7 1103.6,624.7 1103.6,626.7 1103.6,628.7 1103.6,630.7 1103.6,632.7 1103.6,634.7 1103.6,636.7 1103.6,638.7 1103.6,640.7 1103.6,642.7 1103.6,644.7 1103.6,646.7 1103.6,648.7 1103.6,650.7 1103.6,652.7 1103.6,654.7 1103.6,656.7 1103.6,658.7 1103.6,660.7 1103.6,662.7 1103.6,664.7 1103.6,666.7 1103.6,668.7 1103.6,670.7 1103.6,672.7 1103.6,674.7 1103.6,676.7 1103.6,678.7 1103.6,680 1103.6,663.8 1103.7,647.5 1103.8,631.2 1103.8,615 1103.8,598.8 1103.9,582.5 1103.9,566.2 1104,550 1104,533.8 1104.1,517.5 1104.1,540.5 1104.1,563.5 1104.1,586.5 1104.1,609.5 1104.1,632.2 1104.1,654.6 1104.2,676.7 1104.2,698.5 1104.2,719.9 1104.3,741 1104.4,761.7 1104.5,782.2 1104.6,802.3 1104.8,821.5 1105.1,839.1 1105.4,855.2 1105.7,869.5 1106,879.7 1106.3,887 1106.5,891.8 1106.6,890 1106.7,886.7 1106.9,882.6 1107.1,877.4 1107.1,871.1 1107.1,864.7 1107.1,858.3 1107.2,852 1107.2,845.6 1107.2,839.3 1107.2,832.9 1107.3,826.6 1107.3,820.2 1107.3,813.9 1107.4,807.8 1107.4,802.2 1107.4,797 1107.4,792.2 1107.5,787.9 1107.5,783.8 1107.5,780.1 1107.5,776.7 1107.5,773.5 1107.6,770.6 1107.6,768 1107.6,765.5 1107.6,763.2 1107.6,761.1 1107.6,759.2 1107.6,757.4 1107.6,755.6 1107.7,754 1107.7,752.4 1107.7,750.8 1107.7,749.4 1107.7,748 1107.7,746.7 1107.7,745.4 1107.7,744.2 1107.7,741.9 1107.8,739.9 1107.8,737.9 1107.8,735.9 1107.8,733.9 1107.8,731.9 1107.8,729.9 1107.9,727.9 1107.9,725.9 1107.9,723.9 1107.9,721.9 1107.9,719.9 1108,717.9 1108,715.9 1108,713.9 1108,711.9 1108,709.9 1108.1,707.9 1108.1,705.9 1108.1,703.9 1108.1,701.9 1108.2,699.9 1108.2,697.9 1108.2,695.9 1108.2,693.9 1108.3,691.9 1108.3,689.9 1108.3,687.9 1108.4,685.9 1108.4,683.9 1108.4,681.9 1108.4,679.9 1108.5,677.9 1108.5,675.9 1108.5,673.9 1108.6,671.9 1108.6,669.9 1108.6,667.9 1108.7,665.9 1108.7,663.9 1108.8,661.9 1108.8,659.9 1108.9,657.9 1108.9,655.9 1108.9,653.9 1109,651.9 1109,649.9 1109.1,647.9 1109.1,645.9 1109.2,643.9 1109.2,641.9 1109.3,639.9 1109.3,637.9 1109.4,635.9 1109.5,633.9 1109.5,631.9 1109.6,629.9 1109.6,627.9 1109.7,625.9 1109.8,623.9 1109.8,621.9 1109.9,619.9 1110,617.9 1110,615.9 1110.1,613.9 1110.2,611.9 1110.2,609.9 1110.3,607.9 1110.4,605.9 1110.5,603.9 1110.5,601.9 1110.6,599.9 1110.7,597.9 1110.8,595.9 1110.8,593.9 1110.9,591.9 1111,589.9 1111.1,587.9 1111.2,585.9 1111.3,583.9 1111.4,581.9 1111.4,579.9 1111.5,577.9 1111.6,575.9 1111.7,573.9 1111.8,571.9 1111.9,570 1112,568 1112.2,566 1112.3,564 1112.4,562 1112.5,560 1112.7,558 1112.8,556 1113,554 1113.2,552 1113.3,550 1113.5,548 1113.7,546 1113.9,544 1114.1,542 1114.3,540 1114.5,538.1 1114.6,536.1 1114.8,534.1 1115,532.1 1115.2,530.1 1115.3,528.1 1115.5,526.1 1115.6,524.1 1115.7,522.1 1115.9,520.1 1116,518.1 1116.2,516.1 1116.3,514.1 1116.5,512.1 1116.6,510.1 1116.8,508.1 1117,506.2 1117.3,504.2 1117.6,502.2 1118,500.3 1118.6,498.3 1119.3,496.5 1119.9,494.6 1120.6,492.7 1121.3,490.8 1122.1,489 1122.9,487.1 1123.8,485.4 1124.9,483.7 1126.2,482.1 1127.8,480.9 1129.5,480.4 1131,481 1131.8,482 1132.5,483.5 1133,485.4 1133.3,487.4 1133.5,489.4 1133.8,491.4 1134,493.4 1134.1,495.4 1134.2,497.4 1134.3,499.4 1134.3,501.4 1134.4,503.4 1134.4,505.4 1134.4,507.4 1134.5,509.4 1134.5,511.4 1134.5,513.5 1134.5,515.5 1134.5,517.5 1134.5,519.5 1134.5,521.5 1134.6,523.5 1134.6,525.5 1134.6,527.5 1134.6,529.5 1134.6,531.5 1134.6,533.5 1134.6,535.5 1134.6,537.5 1134.6,539.5 1134.6,541.5 1134.6,543.5 1134.6,545.5 1134.6,547.5 1134.6,549.5 1134.6,551.5 1134.6,553.5 1134.6,555.5 1134.6,557.5 1134.6,559.5 1134.6,561.5 1134.6,563.5 1134.6,565.5 1134.6,567.5 1134.6,569.5 1134.6,571.5 1134.6,573.5 1134.6,575.5 1134.6,577.5 1134.6,579.5 1134.6,581.5 1134.6,583.5 1134.6,585.5 1134.6,587.5 1134.6,589.5 1134.6,591.5 1134.6,593.5 1134.6,595.5 1134.6,597.5 1134.6,599.5 1134.6,601.5 1134.6,603.5 1134.6,605.5 1134.6,607.5 1134.6,609.5 1134.6,611.5 1134.6,613.5 1134.6,615.5 1134.6,617.5 1134.6,619.5 1134.6,621.5 1134.6,623.5 1134.6,625.5 1134.6,627.5 1134.6,629.5 1134.6,631.5 1134.6,633.5 1134.6,635.5 1134.6,637.5 1134.6,639.5 1134.6,641.5 1134.6,643.5 1134.6,645.5 1134.6,647.5 1134.6,649.5 1134.6,651.5 1134.6,653.5 1134.6,655.5 1134.6,657.5 1134.6,659.5 1134.6,661.5 1134.6,663.5 1134.6,665.5 1134.6,667.5 1134.6,651.2 1134.7,634.9 1134.8,618.6 1134.8,602.3 1134.8,586 1134.9,569.7 1134.9,553.4 1135,537.1 1135,520.8 1135.1,504.5 1135.1,527.5 1135.1,550.5 1135.1,573.5 1135.1,596.5 1135.1,619.3 1135.1,641.8 1135.2,664 1135.2,685.8 1135.2,707.4 1135.3,728.5 1135.3,749.4 1135.4,770 1135.6,790.2 1135.8,809.9 1136,827.9 1136.3,844.4 1136.6,859.6 1137,870.9 1137.2,879 1137.4,884.4 1137.5,886.2 1137.6,883.6 1137.7,880.1 1137.9,875.7 1138.1,870.1 1138.1,863.4 1138.1,856.7 1138.1,850 1138.2,843.3 1138.2,836.5 1138.2,829.8 1138.2,823.1 1138.3,816.4 1138.3,809.7 1138.3,803 1138.4,796.8 1138.4,791.1 1138.4,785.9 1138.4,781.1 1138.5,776.7 1138.5,772.7 1138.5,768.9 1138.5,765.5 1138.5,762.4 1138.5,759.5 1138.6,756.9 1138.6,754.5 1138.6,752.2 1138.6,750.2 1138.6,748.3 1138.6,746.4 1138.6,744.6 1138.6,743 1138.6,741.4 1138.7,739.8 1138.7,738.4 1138.7,737 1138.7,735.7 1138.7,734.4 1138.7,733.2 1138.7,731 1138.7,728.9 1138.7,726.9 1138.8,724.9 1138.8,722.9 1138.8,720.9 1138.8,718.9 1138.8,716.9 1138.8,714.9 1138.9,712.9 1138.9,710.9 1138.9,708.9 1138.9,706.9 1138.9,704.9 1139,702.9 1139,700.9 1139,698.9 1139,696.9 1139,694.9 1139.1,692.9 1139.1,690.9 1139.1,688.9 1139.1,686.9 1139.2,684.9 1139.2,682.9 1139.2,680.9 1139.2,678.9 1139.3,676.9 1139.3,674.9 1139.3,672.9 1139.3,670.9 1139.4,668.9 1139.4,666.9 1139.4,664.9 1139.5,662.9 1139.5,660.9 1139.5,658.9 1139.6,656.9 1139.6,654.9 1139.6,652.9 1139.7,650.9 1139.7,648.9 1139.7,646.9 1139.8,644.9 1139.8,642.9 1139.9,640.9 1139.9,638.9 1140,636.9 1140,634.9 1140,632.9 1140.1,630.9 1140.1,628.9 1140.2,626.9 1140.2,625 1140.3,623 1140.3,621 1140.4,619 1140.5,617 1140.5,615 1140.6,613 1140.6,611 1140.7,609 1140.8,607 1140.8,605 1140.9,603 1141,601 1141,599 1141.1,597 1141.2,595 1141.2,593 1141.3,591 1141.4,589 1141.4,587 1141.5,585 1141.6,583 1141.7,581 1141.7,579 1141.8,577 1141.9,575 1142,573 1142.1,571 1142.1,569 1142.2,567 1142.3,565 1142.4,563 1142.5,561 1142.6,559 1142.7,557 1142.8,555 1142.9,553 1143,551 1143.1,549 1143.2,547 1143.4,545 1143.5,543 1143.6,541 1143.8,539 1143.9,537 1144.1,535 1144.3,533.1 1144.5,531.1 1144.6,529.1 1144.8,527.1 1145,525.1 1145.2,523.1 1145.4,521.1 1145.5,519.1 1145.7,517.1 1145.9,515.1 1146,513.1 1146.2,511.1 1146.4,509.1 1146.5,507.1 1146.6,505.2 1146.8,503.2 1146.9,501.2 1147.1,499.2 1147.2,497.2 1147.4,495.2 1147.6,493.2 1147.7,491.2 1147.9,489.2 1148.2,487.2 1148.4,485.2 1148.8,483.3 1149.3,481.3 1150,479.4 1150.6,477.5 1151.2,475.6 1151.8,473.7 1152.6,471.9 1153.3,470 1154.1,468.2 1155.1,466.4 1156.1,464.7 1157.4,463.2 1159.1,462.1 1160.5,461.7 1162.1,462.3 1163,463.3 1163.8,464.8 1164.4,466.7 1164.7,468.7 1164.9,470.7 1165.2,472.7 1165.4,474.7 1165.5,476.7 1165.6,478.7 1165.7,480.7 1165.8,482.7 1165.8,484.7 1165.9,486.7 1165.9,488.7 1165.9,490.7 1166,492.7 1166,494.7 1166,496.7 1166,498.7 1166,500.7 1166,502.7 1166.1,504.7 1166.1,506.7 1166.1,508.7 1166.1,510.7 1166.1,512.7 1166.1,514.7 1166.1,516.7 1166.1,518.7 1166.1,520.7 1166.1,522.7 1166.1,524.7 1166.1,526.7 1166.1,528.7 1166.1,530.7 1166.1,532.7 1166.1,534.7 1166.1,536.7 1166.1,538.7 1166.1,540.7 1166.1,542.7 1166.1,544.7 1166.1,546.7 1166.1,548.7 1166.1,550.7 1166.1,552.7 1166.1,554.7 1166.1,556.7 1166.1,558.7 1166.1,560.7 1166.1,562.7 1166.1,564.7 1166.1,566.7 1166.1,568.7 1166.1,570.7 1166.1,572.7 1166.1,574.7 1166.1,576.7 1166.1,578.7 1166.1,580.7 1166.1,582.7 1166.1,584.7 1166.1,586.7 1166.1,588.7 1166.1,590.7 1166.1,592.7 1166.1,594.7 1166.1,596.7 1166.1,598.7 1166.1,600.7 1166.1,602.7 1166.1,604.7 1166.1,606.7 1166.1,608.7 1166.1,610.7 1166.1,612.7 1166.1,614.7 1166.1,616.7 1166.1,618.7 1166.1,620.7 1166.1,622.7 1166.1,624.7 1166.1,626.7 1166.1,628.7 1166.1,630.7 1166.1,632.7 1166.1,634.7 1166.1,636.7 1166.1,638.7 1166.1,640.7 1166.1,642.7 1166.1,644.7 1166.1,646.7 1166.1,648.7 1166.1,650.7 1166.1,652.7 1166.1,654.7 1166.1,656.2 1166.1,639.6 1166.2,622.9 1166.2,606.2 1166.3,589.5 1166.3,572.9 1166.4,556.2 1166.4,539.5 1166.5,522.9 1166.5,506.2 1166.6,489.5 1166.6,512.5 1166.6,535.5 1166.6,558.5 1166.6,581.5 1166.6,604.5 1166.6,627.1 1166.6,649.3 1166.7,671.3 1166.7,692.9 1166.8,714.2 1166.8,735.2 1166.9,755.8 1167,776.2 1167.2,796.2 1167.4,814.7 1167.7,831.7 1168,847.3 1168.4,859.9 1168.6,869 1168.9,875.2 1169,878.8 1169.1,875.9 1169.2,872.3 1169.4,867.6 1169.6,861.5 1169.6,854.5 1169.6,847.4 1169.6,840.3 1169.7,833.3 1169.7,826.2 1169.7,819.1 1169.7,812 1169.8,805 1169.8,797.9 1169.8,791 1169.9,784.7 1169.9,779 1169.9,773.7 1169.9,768.9 1169.9,764.5 1170,760.4 1170,756.7 1170,753.3 1170,750.2 1170,747.3 1170,744.7 1170.1,742.3 1170.1,740.2 1170.1,738.1 1170.1,736.1 1170.1,734.3 1170.1,732.5 1170.1,730.8 1170.1,729.2 1170.1,727.7 1170.1,726.2 1170.1,724.9 1170.2,723.5 1170.2,722.3 1170.2,719.9 1170.2,717.8 1170.2,715.8 1170.2,713.8 1170.2,711.8 1170.2,709.8 1170.3,707.8 1170.3,705.8 1170.3,703.8 1170.3,701.8 1170.3,699.8 1170.3,697.8 1170.4,695.8 1170.4,693.8 1170.4,691.8 1170.4,689.8 1170.4,687.8 1170.5,685.8 1170.5,683.8 1170.5,681.8 1170.5,679.8 1170.6,677.8 1170.6,675.8 1170.6,673.8 1170.6,671.8 1170.6,669.8 1170.7,667.8 1170.7,665.8 1170.7,663.8 1170.7,661.8 1170.8,659.8 1170.8,657.8 1170.8,655.8 1170.9,653.8 1170.9,651.8 1170.9,649.8 1170.9,647.8 1171,645.8 1171,643.8 1171,641.8 1171.1,639.8 1171.1,637.8 1171.1,635.8 1171.2,633.8 1171.2,631.8 1171.3,629.8 1171.3,627.8 1171.3,625.8 1171.4,623.8 1171.4,621.8 1171.5,619.8 1171.5,617.8 1171.6,615.8 1171.6,613.8 1171.7,611.8 1171.7,609.8 1171.8,607.9 1171.8,605.9 1171.9,603.9 1171.9,601.9 1172,599.9 1172,597.9 1172.1,595.9 1172.1,593.9 1172.2,591.9 1172.3,589.9 1172.3,587.9 1172.4,585.9 1172.5,583.9 1172.5,581.9 1172.6,579.9 1172.7,577.9 1172.7,575.9 1172.8,573.9 1172.9,571.9 1172.9,569.9 1173,567.9 1173.1,565.9 1173.2,563.9 1173.2,561.9 1173.3,559.9 1173.4,557.9 1173.5,555.9 1173.5,553.9 1173.6,551.9 1173.7,549.9 1173.8,547.9 1173.9,545.9 1174,543.9 1174.1,541.9 1174.2,539.9 1174.3,537.9 1174.4,535.9 1174.5,533.9 1174.6,531.9 1174.7,529.9 1174.9,527.9 1175,525.9 1175.1,523.9 1175.3,521.9 1175.4,519.9 1175.6,517.9 1175.8,515.9 1175.9,514 1176.1,512 1176.3,510 1176.5,508 1176.6,506 1176.8,504 1177,502 1177.2,500 1177.3,498 1177.5,496 1177.7,494 1177.8,492 1178,490 1178.1,488 1178.3,486.1 1178.4,484.1 1178.6,482.1 1178.7,480.1 1178.9,478.1 1179.1,476.1 1179.2,474.1 1179.4,472.1 1179.7,470.1 1180,468.1 1180.3,466.2 1180.8,464.2 1181.4,462.3 1182,460.4 1182.6,458.5 1183.2,456.6 1183.9,454.7 1184.6,452.9 1185.4,451 1186.3,449.2 1187.3,447.5 1188.4,445.9 1189.8,444.5 1191.7,443.7 1193,443.9 1194.4,445.3 1195.2,446.8 1195.7,448.7 1196,450.7 1196.2,452.7 1196.5,454.7 1196.7,456.7 1196.8,458.7 1196.9,460.7 1197,462.7 1197.1,464.7 1197.1,466.7 1197.1,468.7 1197.2,470.7 1197.2,472.7 1197.2,474.7 1197.2,476.7 1197.3,478.7 1197.3,480.7 1197.3,482.7 1197.3,484.7 1197.3,486.7 1197.3,488.7 1197.3,490.7 1197.3,492.7 1197.3,494.7 1197.3,496.7 1197.3,498.7 1197.3,500.7 1197.3,502.7 1197.3,504.7 1197.3,506.7 1197.3,508.7 1197.3,510.7 1197.3,512.7 1197.3,514.7 1197.3,516.7 1197.3,518.7 1197.3,520.7 1197.3,522.7 1197.3,524.7 1197.3,526.7 1197.3,528.7 1197.3,530.7 1197.3,532.7 1197.3,534.7 1197.3,536.7 1197.3,538.7 1197.3,540.7 1197.3,542.7 1197.3,544.7 1197.3,546.7 1197.3,548.7 1197.3,550.7 1197.3,552.7 1197.3,554.7 1197.3,556.7 1197.3,558.7 1197.3,560.7 1197.3,562.7 1197.3,564.7 1197.3,566.7 1197.3,568.7 1197.3,570.7 1197.3,572.7 1197.3,574.7 1197.3,576.7 1197.3,578.7 1197.3,580.7 1197.3,582.7 1197.3,584.7 1197.3,586.7 1197.3,588.7 1197.3,590.7 1197.3,592.7 1197.3,594.7 1197.3,596.7 1197.3,598.7 1197.3,600.7 1197.3,602.7 1197.3,604.7 1197.3,606.7 1197.3,608.7 1197.3,610.7 1197.3,612.7 1197.3,614.7 1197.3,616.7 1197.3,618.7 1197.3,620.7 1197.3,622.7 1197.3,624.7 1197.3,626.7 1197.3,628.7 1197.3,630.7 1197.3,632.7 1197.3,634.7 1197.3,636.7 1197.3,638.7 1197.3,640.7 1197.3,642.7 1197.4,628.5 1197.4,613.2 1197.5,597.9 1197.5,582.6 1197.6,567.3 1197.6,552 1197.7,536.7 1197.7,521.4 1197.8,506.1 1197.8,490.8 1197.8,475.5 1197.9,498.5 1197.9,521.5 1197.9,544.5 1197.9,567.5 1197.9,590.5 1197.9,613.2 1197.9,635.6 1197.9,657.7 1197.9,679.4 1198,700.8 1198,721.8 1198.1,742.6 1198.2,763 1198.4,783.2 1198.6,802.2 1198.9,819.7 1199.2,835.7 1199.5,849.7 1199.8,859.7 1200.1,866.8 1200.2,871.5 1200.4,869 1200.5,865.2 1200.7,860.2 1200.8,853.7 1200.8,846.3 1200.9,838.8 1200.9,831.4 1200.9,824 1200.9,816.6 1201,809.1 1201,801.7 1201,794.3 1201,786.8 1201.1,779.9 1201.1,773.5 1201.1,767.7 1201.1,762.3 1201.2,757.5 1201.2,753 1201.2,749 1201.2,745.3 1201.2,741.9 1201.2,738.8 1201.3,736 1201.3,733.4 1201.3,731.1 1201.3,728.9 1201.3,726.8 1201.3,724.8 1201.3,723 1201.3,721.2 1201.3,719.5 1201.3,717.9 1201.3,716.4 1201.4,714.9 1201.4,713.5 1201.4,712.2 1201.4,711 1201.4,708.6 1201.4,706.6 1201.4,704.6 1201.4,702.6 1201.4,700.6 1201.5,698.6 1201.5,696.6 1201.5,694.6 1201.5,692.6 1201.5,690.6 1201.5,688.6 1201.5,686.6 1201.6,684.6 1201.6,682.6 1201.6,680.6 1201.6,678.6 1201.6,676.6 1201.7,674.6 1201.7,672.6 1201.7,670.6 1201.7,668.6 1201.7,666.6 1201.8,664.6 1201.8,662.6 1201.8,660.6 1201.8,658.6 1201.8,656.6 1201.9,654.6 1201.9,652.6 1201.9,650.6 1201.9,648.6 1202,646.6 1202,644.6 1202,642.6 1202,640.6 1202.1,638.6 1202.1,636.6 1202.1,634.6 1202.2,632.6 1202.2,630.6 1202.2,628.6 1202.3,626.6 1202.3,624.6 1202.3,622.6 1202.4,620.6 1202.4,618.6 1202.4,616.6 1202.5,614.6 1202.5,612.6 1202.5,610.6 1202.6,608.6 1202.6,606.6 1202.7,604.6 1202.7,602.6 1202.8,600.6 1202.8,598.6 1202.8,596.6 1202.9,594.6 1202.9,592.6 1203,590.6 1203,588.6 1203.1,586.6 1203.1,584.6 1203.2,582.6 1203.3,580.6 1203.3,578.6 1203.4,576.6 1203.4,574.6 1203.5,572.6 1203.5,570.6 1203.6,568.6 1203.7,566.6 1203.7,564.6 1203.8,562.6 1203.9,560.6 1203.9,558.6 1204,556.6 1204.1,554.6 1204.1,552.6 1204.2,550.6 1204.3,548.6 1204.4,546.6 1204.4,544.6 1204.5,542.6 1204.6,540.6 1204.7,538.6 1204.7,536.6 1204.8,534.6 1204.9,532.6 1205,530.6 1205.1,528.6 1205.2,526.6 1205.3,524.6 1205.4,522.6 1205.5,520.6 1205.6,518.6 1205.7,516.6 1205.8,514.6 1205.9,512.6 1206,510.6 1206.2,508.6 1206.3,506.6 1206.5,504.6 1206.6,502.7 1206.8,500.7 1206.9,498.7 1207.1,496.7 1207.3,494.7 1207.4,492.7 1207.6,490.7 1207.8,488.7 1208,486.7 1208.1,484.7 1208.3,482.7 1208.4,480.7 1208.6,478.7 1208.7,476.7 1208.9,474.7 1209,472.7 1209.2,470.8 1209.3,468.8 1209.5,466.8 1209.6,464.8 1209.8,462.8 1209.9,460.8 1210.1,458.8 1210.3,456.8 1210.5,454.8 1210.7,452.8 1211,450.8 1211.3,448.9 1211.8,446.9 1212.4,445 1213,443.1 1213.5,441.2 1214.1,439.3 1214.7,437.4 1215.4,435.5 1216.2,433.6 1217,431.8 1217.9,430 1218.9,428.3 1220.2,426.8 1221.9,425.7 1223.5,425.5 1224.9,426.4 1225.7,427.7 1226.3,429.4 1226.7,431.4 1226.9,433.4 1227.1,435.4 1227.4,437.4 1227.5,439.4 1227.6,441.4 1227.7,443.4 1227.8,445.4 1227.8,447.4 1227.9,449.4 1227.9,451.4 1227.9,453.4 1228,455.4 1228,457.4 1228,459.4 1228,461.4 1228,463.4 1228,465.4 1228.1,467.4 1228.1,469.4 1228.1,471.4 1228.1,473.4 1228.1,475.4 1228.1,477.4 1228.1,479.4 1228.1,481.4 1228.1,483.4 1228.1,485.4 1228.1,487.4 1228.1,489.4 1228.1,491.4 1228.1,493.4 1228.1,495.4 1228.1,497.4 1228.1,499.4 1228.1,501.4 1228.1,503.4 1228.1,505.4 1228.1,507.4 1228.1,509.4 1228.1,511.4 1228.1,513.5 1228.1,515.5 1228.1,517.5 1228.1,519.5 1228.1,521.5 1228.1,523.5 1228.1,525.5 1228.1,527.5 1228.1,529.5 1228.1,531.5 1228.1,533.5 1228.1,535.5 1228.1,537.5 1228.1,539.5 1228.1,541.5 1228.1,543.5 1228.1,545.5 1228.1,547.5 1228.1,549.5 1228.1,551.5 1228.1,553.5 1228.1,555.5 1228.1,557.5 1228.1,559.5 1228.1,561.5 1228.1,563.5 1228.1,565.5 1228.1,567.5 1228.1,569.5 1228.1,571.5 1228.1,573.5 1228.1,575.5 1228.1,577.5 1228.1,579.5 1228.1,581.5 1228.1,583.5 1228.1,585.5 1228.1,587.5 1228.1,589.5 1228.1,591.5 1228.1,593.5 1228.1,595.5 1228.1,597.5 1228.1,599.5 1228.1,601.5 1228.1,603.5 1228.1,605.5 1228.1,607.5 1228.1,609.5 1228.1,611.5 1228.1,613.5 1228.1,615.5 1228.1,617.5 1228.1,619.5 1228.1,621.5 1228.1,623.5 1228.1,625.5 1228.1,627.5 1228.1,629.5 1228.1,631.5 1228.1,616.8 1228.2,601.1 1228.2,585.5 1228.3,569.8 1228.3,554.1 1228.4,538.4 1228.4,522.7 1228.5,507 1228.5,491.4 1228.6,475.7 1228.6,460 1228.6,483 1228.6,506 1228.6,529 1228.6,552 1228.6,575 1228.6,597.8 1228.6,620.3 1228.7,642.5 1228.7,664.3 1228.7,685.8 1228.8,707 1228.8,727.8 1228.9,748.3 1229.1,768.6 1229.3,788.2 1229.5,806.1 1229.8,822.6 1230.2,837.7 1230.5,848.8 1230.7,856.8 1230.9,862.1 1231,863.8 1231.1,860.6 1231.3,856.6 1231.4,851.4 1231.6,844.6 1231.6,836.8 1231.6,829 1231.6,821.2 1231.6,813.4 1231.7,805.7 1231.7,797.9 1231.7,790.1 1231.7,782.3 1231.8,774.5 1231.8,767.2 1231.8,760.5 1231.9,754.4 1231.9,748.8 1231.9,743.7 1231.9,739 1231.9,734.7 1231.9,730.9 1232,727.3 1232,724 1232,721.1 1232,718.4 1232,715.9 1232,713.6 1232,711.4 1232,709.3 1232,707.4 1232.1,705.5 1232.1,703.7 1232.1,702 1232.1,700.4 1232.1,698.9 1232.1,697.4 1232.1,696.1 1232.1,694.8 1232.1,693.5 1232.1,691.2 1232.1,689.1 1232.2,687.1 1232.2,685.1 1232.2,683.1 1232.2,681.1 1232.2,679.1 1232.2,677.1 1232.2,675.1 1232.3,673.1 1232.3,671.1 1232.3,669.1 1232.3,667.1 1232.3,665.1 1232.3,663.1 1232.4,661.1 1232.4,659.1 1232.4,657.1 1232.4,655.1 1232.4,653.1 1232.5,651.1 1232.5,649.1 1232.5,647.1 1232.5,645.1 1232.5,643.1 1232.6,641.1 1232.6,639.1 1232.6,637.1 1232.6,635.1 1232.6,633.1 1232.7,631.1 1232.7,629.1 1232.7,627.1 1232.7,625.1 1232.8,623.1 1232.8,621.1 1232.8,619.1 1232.9,617.1 1232.9,615.1 1232.9,613.1 1233,611.1 1233,609.1 1233,607.1 1233,605.1 1233.1,603.1 1233.1,601.1 1233.2,599.1 1233.2,597.1 1233.2,595.1 1233.3,593.1 1233.3,591.1 1233.3,589.1 1233.4,587.1 1233.4,585.1 1233.5,583.1 1233.5,581.1 1233.6,579.1 1233.6,577.1 1233.6,575.1 1233.7,573.1 1233.7,571.1 1233.8,569.1 1233.8,567.1 1233.9,565.1 1233.9,563.1 1234,561.1 1234.1,559.1 1234.1,557.1 1234.2,555.1 1234.2,553.1 1234.3,551.1 1234.3,549.1 1234.4,547.1 1234.5,545.1 1234.5,543.1 1234.6,541.1 1234.7,539.1 1234.7,537.1 1234.8,535.1 1234.9,533.1 1234.9,531.1 1235,529.1 1235.1,527.1 1235.2,525.1 1235.2,523.1 1235.3,521.1 1235.4,519.1 1235.5,517.1 1235.5,515.1 1235.6,513.1 1235.7,511.1 1235.8,509.1 1235.9,507.1 1236,505.1 1236.1,503.2 1236.2,501.2 1236.3,499.2 1236.4,497.2 1236.5,495.2 1236.7,493.2 1236.8,491.2 1236.9,489.2 1237.1,487.2 1237.2,485.2 1237.4,483.2 1237.6,481.2 1237.7,479.2 1237.9,477.2 1238,475.2 1238.2,473.2 1238.4,471.2 1238.5,469.2 1238.7,467.2 1238.8,465.3 1239,463.3 1239.1,461.3 1239.2,459.3 1239.4,457.3 1239.5,455.3 1239.6,453.3 1239.8,451.3 1239.9,449.3 1240,447.3 1240.2,445.3 1240.3,443.3 1240.5,441.3 1240.6,439.3 1240.8,437.3 1241,435.3 1241.3,433.4 1241.7,431.4 1242.1,429.4 1242.7,427.5 1243.3,425.6 1243.8,423.7 1244.4,421.8 1245,419.9 1245.6,418 1246.4,416.1 1247.1,414.3 1248,412.5 1249,410.7 1250.2,409.1 1251.8,407.9 1253.2,407.4 1254.8,408 1255.7,409 1256.4,410.5 1256.9,412.4 1257.2,414.4 1257.5,416.4 1257.7,418.4 1257.9,420.4 1258.1,422.4 1258.2,424.4 1258.2,426.4 1258.3,428.4 1258.4,430.4 1258.4,432.4 1258.4,434.4 1258.4,436.4 1258.5,438.4 1258.5,440.4 1258.5,442.4 1258.5,444.4 1258.5,446.4 1258.5,448.4 1258.6,450.4 1258.6,452.4 1258.6,454.4 1258.6,456.4 1258.6,458.4 1258.6,460.4 1258.6,462.4 1258.6,464.4 1258.6,466.4 1258.6,468.4 1258.6,470.4 1258.6,472.4 1258.6,474.4 1258.6,476.4 1258.6,478.4 1258.6,480.4 1258.6,482.4 1258.6,484.4 1258.6,486.4 1258.6,488.4 1258.6,490.4 1258.6,492.4 1258.6,494.4 1258.6,496.4 1258.6,498.4 1258.6,500.4 1258.6,502.4 1258.6,504.4 1258.6,506.4 1258.6,508.4 1258.6,510.4 1258.6,512.5 1258.6,514.5 1258.6,516.5 1258.6,518.5 1258.6,520.5 1258.6,522.5 1258.6,524.5 1258.6,526.5 1258.6,528.5 1258.6,530.5 1258.6,532.5 1258.6,534.5 1258.6,536.5 1258.6,538.5 1258.6,540.5 1258.6,542.5 1258.6,544.5 1258.6,546.5 1258.6,548.5 1258.6,550.5 1258.6,552.5 1258.6,554.5 1258.6,556.5 1258.6,558.5 1258.6,560.5 1258.6,562.5 1258.6,564.5 1258.6,566.5 1258.6,568.5 1258.6,570.5 1258.6,572.5 1258.6,574.5 1258.6,576.5 1258.6,578.5 1258.6,580.5 1258.6,582.5 1258.6,584.5 1258.6,586.5 1258.6,588.5 1258.6,590.5 1258.6,592.5 1258.6,594.5 1258.6,596.5 1258.6,598.5 1258.6,600.5 1258.6,602.5 1258.6,604.5 1258.6,606.5 1258.6,608.5 1258.6,610.5 1258.6,612.5 1258.6,614.5 1258.6,616.5 1258.6,618.5 1258.6,620.5 1258.6,605.6 1258.7,589.6 1258.7,573.6 1258.8,557.6 1258.8,541.6 1258.9,525.5 1258.9,509.5 1259,493.5 1259,477.5 1259.1,461.5 1259.1,445.5 1259.1,468.5 1259.1,491.5 1259.1,514.5 1259.1,537.5 1259.1,560.5 1259.1,583.4 1259.1,606.1 1259.2,628.3 1259.2,650.2 1259.2,671.8 1259.3,693.1 1259.3,714.1 1259.4,734.7 1259.5,755.1 1259.7,775.1 1259.9,793.6 1260.2,810.5 1260.5,826.1 1260.9,838.5 1261.1,847.5 1261.4,853.7 1261.5,857 1261.6,853.7 1261.8,849.5 1262,844.1 1262.1,837 1262.1,828.8 1262.1,820.7 1262.1,812.5 1262.1,804.4 1262.2,796.3 1262.2,788.1 1262.2,780 1262.2,771.8 1262.3,763.7 1262.3,756 1262.3,749 1262.3,742.6 1262.4,736.7 1262.4,731.4 1262.4,726.5 1262.4,722 1262.4,717.9 1262.5,714.2 1262.5,710.8 1262.5,707.7 1262.5,704.8 1262.5,702.2 1262.5,699.8 1262.5,697.5 1262.5,695.4 1262.5,693.3 1262.6,691.3 1262.6,689.5 1262.6,687.7 1262.6,686 1262.6,684.4 1262.6,682.9 1262.6,681.4 1262.6,680 1262.6,678.7 1262.6,677.5 1262.6,675.2 1262.7,673.1 1262.7,671.1 1262.7,669.1 1262.7,667.1 1262.7,665.1 1262.7,663.1 1262.7,661.1 1262.8,659.1 1262.8,657.1 1262.8,655.1 1262.8,653.1 1262.8,651.1 1262.8,649.1 1262.9,647.1 1262.9,645.1 1262.9,643.1 1262.9,641.1 1262.9,639.1 1262.9,637.1 1263,635.1 1263,633.1 1263,631.1 1263,629.1 1263,627.1 1263.1,625.1 1263.1,623.1 1263.1,621.1 1263.1,619.1 1263.2,617.1 1263.2,615.1 1263.2,613.1 1263.2,611.1 1263.3,609.1 1263.3,607.1 1263.3,605.1 1263.3,603.1 1263.4,601.1 1263.4,599.1 1263.4,597.1 1263.5,595.1 1263.5,593.1 1263.5,591.1 1263.6,589.1 1263.6,587.1 1263.6,585.1 1263.7,583.1 1263.7,581.1 1263.7,579.1 1263.8,577.1 1263.8,575.1 1263.9,573.1 1263.9,571.1 1263.9,569.1 1264,567.1 1264,565.1 1264.1,563.1 1264.1,561.1 1264.2,559.1 1264.2,557.1 1264.3,555.1 1264.3,553.1 1264.4,551.1 1264.4,549.1 1264.5,547.1 1264.5,545.1 1264.6,543.1 1264.6,541.1 1264.7,539.1 1264.7,537.1 1264.8,535.1 1264.9,533.1 1264.9,531.1 1265,529.1 1265,527.1 1265.1,525.1 1265.2,523.1 1265.2,521.1 1265.3,519.1 1265.4,517.1 1265.4,515.1 1265.5,513.1 1265.6,511.1 1265.7,509.1 1265.7,507.1 1265.8,505.1 1265.9,503.1 1266,501.1 1266.1,499.1 1266.1,497.1 1266.2,495.1 1266.3,493.1 1266.4,491.1 1266.5,489.1 1266.6,487.1 1266.7,485.1 1266.8,483.1 1266.9,481.2 1267.1,479.2 1267.2,477.2 1267.3,475.2 1267.4,473.2 1267.6,471.2 1267.7,469.2 1267.9,467.2 1268,465.2 1268.2,463.2 1268.4,461.2 1268.5,459.2 1268.7,457.2 1268.8,455.2 1269,453.2 1269.2,451.2 1269.3,449.2 1269.5,447.2 1269.6,445.3 1269.8,443.3 1269.9,441.3 1270.1,439.3 1270.2,437.3 1270.4,435.3 1270.6,433.3 1270.7,431.3 1270.9,429.3 1271,427.3 1271.2,425.3 1271.4,423.3 1271.6,421.3 1271.8,419.3 1272,417.4 1272.4,415.4 1272.7,413.4 1273.2,411.5 1273.7,409.5 1274.3,407.6 1274.8,405.7 1275.3,403.8 1275.9,401.9 1276.6,400 1277.2,398.1 1278,396.2 1278.8,394.4 1279.7,392.6 1280.8,391 1282.2,389.5 1284,388.8 1285.3,389 1286.7,390.3 1287.4,391.8 1287.9,393.8 1288.2,395.8 1288.5,397.8 1288.7,399.8 1288.9,401.8 1289.1,403.8 1289.2,405.8 1289.2,407.8 1289.3,409.8 1289.4,411.8 1289.4,413.8 1289.4,415.8 1289.4,417.8 1289.5,419.8 1289.5,421.8 1289.5,423.8 1289.5,425.8 1289.5,427.8 1289.5,429.8 1289.6,431.8 1289.6,433.8 1289.6,435.8 1289.6,437.8 1289.6,439.8 1289.6,441.8 1289.6,443.8 1289.6,445.8 1289.6,447.8 1289.6,449.8 1289.6,451.8 1289.6,453.8 1289.6,455.8 1289.6,457.8 1289.6,459.8 1289.6,461.8 1289.6,463.8 1289.6,465.8 1289.6,467.8 1289.6,469.8 1289.6,471.8 1289.6,473.8 1289.6,475.8 1289.6,477.8 1289.6,479.8 1289.6,481.8 1289.6,483.8 1289.6,485.8 1289.6,487.8 1289.6,489.8 1289.6,491.8 1289.6,493.8 1289.6,495.8 1289.6,497.8 1289.6,499.8 1289.6,501.8 1289.6,503.8 1289.6,505.8 1289.6,507.8 1289.6,509.8 1289.6,511.8 1289.6,513.8 1289.6,515.8 1289.6,517.8 1289.6,519.8 1289.6,521.8 1289.6,523.8 1289.6,525.8 1289.6,527.8 1289.6,529.8 1289.6,531.8 1289.6,533.8 1289.6,535.8 1289.6,537.8 1289.6,539.8 1289.6,541.8 1289.6,543.8 1289.6,545.8 1289.6,547.8 1289.6,549.8 1289.6,551.8 1289.6,553.8 1289.6,555.8 1289.6,557.8 1289.6,559.8 1289.6,561.8 1289.6,563.8 1289.6,565.8 1289.6,567.8 1289.6,569.8 1289.6,571.8 1289.6,573.8 1289.6,575.8 1289.6,577.8 1289.6,579.8 1289.6,581.8 1289.6,583.8 1289.6,585.8 1289.6,587.8 1289.6,589.8 1289.6,591.8 1289.6,593.8 1289.6,595.8 1289.6,597.8 1289.6,599.8 1289.6,601.8 1289.6,603.8 1289.6,605.8 1289.6,607.8 1289.6,609.8 1289.6,593.6 1289.7,577.2 1289.7,560.8 1289.8,544.4 1289.8,528 1289.9,511.5 1289.9,495.1 1290,478.7 1290,462.3 1290.1,445.9 1290.1,429.5 1290.1,452.5 1290.1,475.5 1290.1,498.5 1290.1,521.5 1290.1,544.5 1290.1,567.5 1290.1,590.2 1290.1,612.6 1290.2,634.6 1290.2,656.4 1290.2,677.7 1290.3,698.8 1290.4,719.6 1290.5,740 1290.6,760.1 1290.9,779.2 1291.1,796.6 1291.4,812.6 1291.8,826.6 1292.1,836.6 1292.3,843.6 1292.5,848.3 1292.6,845.4 1292.8,841 1293,835.2 1293.1,827.9 1293.1,819.4 1293.1,810.9 1293.1,802.4 1293.1,793.9 1293.2,785.4 1293.2,776.9 1293.2,768.4 1293.2,759.9 1293.3,751.4 1293.3,743.3 1293.3,736 1293.3,729.3 1293.4,723.1 1293.4,717.5 1293.4,712.4 1293.4,707.7 1293.4,703.5 1293.4,699.6 1293.5,696 1293.5,692.7 1293.5,689.8 1293.5,687 1293.5,684.5 1293.5,682.1 1293.5,679.9 1293.5,677.7 1293.5,675.6 1293.5,673.7 1293.6,671.8 1293.6,670.1 1293.6,668.4 1293.6,666.8 1293.6,665.3 1293.6,663.8 1293.6,662.5 1293.6,661.2 1293.6,659.9 1293.6,657.6 1293.6,655.5 1293.7,653.5 1293.7,651.5 1293.7,649.5 1293.7,647.5 1293.7,645.5 1293.7,643.5 1293.7,641.5 1293.8,639.5 1293.8,637.5 1293.8,635.5 1293.8,633.5 1293.8,631.5 1293.8,629.5 1293.9,627.5 1293.9,625.5 1293.9,623.5 1293.9,621.5 1293.9,619.5 1294,617.5 1294,615.5 1294,613.5 1294,611.5 1294,609.5 1294.1,607.5 1294.1,605.5 1294.1,603.5 1294.1,601.5 1294.2,599.5 1294.2,597.5 1294.2,595.5 1294.2,593.5 1294.3,591.5 1294.3,589.5 1294.3,587.5 1294.3,585.5 1294.4,583.5 1294.4,581.5 1294.4,579.5 1294.5,577.5 1294.5,575.5 1294.5,573.5 1294.6,571.5 1294.6,569.5 1294.6,567.5 1294.7,565.5 1294.7,563.5 1294.7,561.5 1294.8,559.5 1294.8,557.5 1294.8,555.5 1294.9,553.5 1294.9,551.5 1295,549.5 1295,547.5 1295,545.5 1295.1,543.5 1295.1,541.5 1295.2,539.5 1295.2,537.6 1295.3,535.6 1295.3,533.6 1295.4,531.6 1295.4,529.6 1295.5,527.6 1295.5,525.6 1295.6,523.6 1295.6,521.6 1295.7,519.6 1295.8,517.6 1295.8,515.6 1295.9,513.6 1295.9,511.6 1296,509.6 1296.1,507.6 1296.1,505.6 1296.2,503.6 1296.3,501.6 1296.3,499.6 1296.4,497.6 1296.5,495.6 1296.5,493.6 1296.6,491.6 1296.7,489.6 1296.8,487.6 1296.8,485.6 1296.9,483.6 1297,481.6 1297.1,479.6 1297.2,477.6 1297.3,475.6 1297.4,473.6 1297.4,471.6 1297.5,469.6 1297.7,467.6 1297.8,465.6 1297.9,463.6 1298,461.6 1298.1,459.6 1298.2,457.6 1298.4,455.6 1298.5,453.6 1298.7,451.6 1298.8,449.6 1298.9,447.6 1299.1,445.6 1299.3,443.6 1299.4,441.7 1299.6,439.7 1299.7,437.7 1299.9,435.7 1300,433.7 1300.2,431.7 1300.3,429.7 1300.5,427.7 1300.6,425.7 1300.8,423.7 1300.9,421.7 1301.1,419.7 1301.2,417.7 1301.4,415.7 1301.5,413.7 1301.7,411.7 1301.8,409.7 1302,407.8 1302.2,405.8 1302.4,403.8 1302.6,401.8 1302.8,399.8 1303.2,397.8 1303.5,395.9 1304,393.9 1304.5,392 1305,390 1305.5,388.1 1306.1,386.2 1306.6,384.3 1307.2,382.4 1307.9,380.5 1308.6,378.6 1309.4,376.8 1310.2,375 1311.3,373.2 1312.5,371.7 1314.2,370.7 1315.4,370.6 1316.7,371.5 1317.4,372.8 1317.9,374.5 1318.2,376.5 1318.4,378.5 1318.6,380.5 1318.8,382.5 1319,384.5 1319.1,386.5 1319.1,388.5 1319.2,390.5 1319.2,392.5 1319.3,394.5 1319.3,396.5 1319.3,398.5 1319.4,400.5 1319.4,402.5 1319.4,404.5 1319.4,406.5 1319.4,408.5 1319.4,410.5 1319.4,412.5 1319.4,414.5 1319.4,416.5 1319.5,418.5 1319.5,420.5 1319.5,422.5 1319.5,424.5 1319.5,426.5 1319.5,428.5 1319.5,430.5 1319.5,432.5 1319.5,434.5 1319.5,436.5 1319.5,438.5 1319.5,440.5 1319.5,442.5 1319.5,444.5 1319.5,446.5 1319.5,448.5 1319.5,450.5 1319.5,452.5 1319.5,454.5 1319.5,456.5 1319.5,458.5 1319.5,460.5 1319.5,462.5 1319.5,464.5 1319.5,466.5 1319.5,468.5 1319.5,470.5 1319.5,472.5 1319.5,474.5 1319.5,476.5 1319.5,478.5 1319.5,480.5 1319.5,482.5 1319.5,484.5 1319.5,486.5 1319.5,488.5 1319.5,490.5 1319.5,492.5 1319.5,494.5 1319.5,496.5 1319.5,498.5 1319.5,500.5 1319.5,502.5 1319.5,504.5 1319.5,506.5 1319.5,508.5 1319.5,510.5 1319.5,512.5 1319.5,514.5 1319.5,516.5 1319.5,518.5 1319.5,520.5 1319.5,522.5 1319.5,524.5 1319.5,526.5 1319.5,528.5 1319.5,530.5 1319.5,532.5 1319.5,534.5 1319.5,536.5 1319.5,538.5 1319.5,540.5 1319.5,542.5 1319.5,544.5 1319.5,546.5 1319.5,548.5 1319.5,550.5 1319.5,552.5 1319.5,554.5 1319.5,556.5 1319.5,558.5 1319.5,560.5 1319.5,562.5 1319.5,564.5 1319.5,566.5 1319.5,568.5 1319.5,570.5 1319.5,572.5 1319.5,574.5 1319.5,576.5 1319.5,578.5 1319.5,580.5 1319.5,582.5 1319.5,584.5 1319.5,586.5 1319.5,588.5 1319.5,590.5 1319.5,592.5 1319.5,594.5 1319.5,596.5 1319.5,598 1319.5,581.3 1319.6,564.6 1319.6,548 1319.7,531.3 1319.7,514.6 1319.8,497.9 1319.8,481.2 1319.9,464.5 1319.9,447.9 1320,431.2 1320,414.5 1320,437.5 1320,460.5 1320,483.5 1320,506.5 1320,529.5 1320,552.5 1320,575.3 1320,597.8 1320.1,619.9 1320.1,641.7 1320.1,663.2 1320.2,684.4 1320.2,705.2 1320.3,725.8 1320.5,746 1320.7,765.5 1320.9,783.4 1321.1,799.9 1321.5,814.9 1321.8,825.9 1322,833.8 1322.2,839 1322.2,840.5 1322.4,837.1 1322.5,832.7 1322.7,827.1 1322.8,820 1322.8,811.5 1322.8,803 1322.9,794.5 1322.9,786 1322.9,777.5 1322.9,769 1322.9,760.5 1323,752 1323,743.5 1323,735.1 1323,727.3 1323.1,720.3 1323.1,713.8 1323.1,707.8 1323.1,702.3 1323.1,697.3 1323.2,692.7 1323.2,688.5 1323.2,684.6 1323.2,681.1 1323.2,677.8 1323.2,674.8 1323.2,672.1 1323.2,669.6 1323.3,667.1 1323.3,664.8 1323.3,662.7 1323.3,660.6 1323.3,658.6 1323.3,656.7 1323.3,654.9 1323.3,653.2 1323.3,651.5 1323.3,650 1323.3,648.5 1323.4,647.1 1323.4,645.7 1323.4,644.4 1323.4,643.2 1323.4,640.9 1323.4,638.9 1323.4,636.9 1323.4,634.9 1323.4,632.9 1323.5,630.9 1323.5,628.9 1323.5,626.9 1323.5,624.9 1323.5,622.9 1323.5,620.9 1323.6,618.9 1323.6,616.9 1323.6,614.9 1323.6,612.9 1323.6,610.9 1323.6,608.9 1323.7,606.9 1323.7,604.9 1323.7,602.9 1323.7,600.9 1323.7,598.9 1323.8,596.9 1323.8,594.9 1323.8,592.9 1323.8,590.9 1323.9,588.9 1323.9,586.9 1323.9,584.9 1323.9,582.9 1324,580.9 1324,578.9 1324,576.9 1324,574.9 1324.1,572.9 1324.1,570.9 1324.1,568.9 1324.1,566.9 1324.2,564.9 1324.2,562.9 1324.2,560.9 1324.3,558.9 1324.3,556.9 1324.3,554.9 1324.4,552.9 1324.4,550.9 1324.4,548.9 1324.5,546.9 1324.5,544.9 1324.5,542.9 1324.6,540.9 1324.6,538.9 1324.7,536.9 1324.7,534.9 1324.7,532.9 1324.8,530.9 1324.8,528.9 1324.9,526.9 1324.9,524.9 1325,522.9 1325,520.9 1325.1,518.9 1325.1,516.9 1325.2,514.9 1325.2,512.9 1325.3,510.9 1325.3,508.9 1325.4,506.9 1325.4,504.9 1325.5,502.9 1325.5,500.9 1325.6,498.9 1325.7,496.9 1325.7,494.9 1325.8,492.9 1325.9,490.9 1325.9,488.9 1326,486.9 1326.1,484.9 1326.1,482.9 1326.2,480.9 1326.3,478.9 1326.3,476.9 1326.4,474.9 1326.5,472.9 1326.6,470.9 1326.6,468.9 1326.7,466.9 1326.8,464.9 1326.9,462.9 1327,460.9 1327.1,458.9 1327.2,456.9 1327.3,454.9 1327.4,452.9 1327.5,450.9 1327.6,448.9 1327.7,446.9 1327.8,444.9 1327.9,442.9 1328.1,440.9 1328.2,438.9 1328.3,436.9 1328.5,435 1328.6,433 1328.8,431 1328.9,429 1329.1,427 1329.2,425 1329.4,423 1329.6,421 1329.7,419 1329.9,417 1330.1,415 1330.2,413 1330.4,411 1330.6,409 1330.7,407 1330.9,405.1 1331.1,403.1 1331.3,401.1 1331.5,399.1 1331.6,397.1 1331.8,395.1 1332,393.1 1332.2,391.1 1332.4,389.1 1332.7,387.1 1332.9,385.2 1333.2,383.2 1333.5,381.2 1333.8,379.2 1334.2,377.3 1334.7,375.3 1335.2,373.4 1335.7,371.4 1336.2,369.5 1336.7,367.6 1337.2,365.6 1337.8,363.7 1338.4,361.8 1339.1,360 1339.9,358.1 1340.8,356.3 1341.8,354.6 1343,353 1344.7,351.9 1346,351.8 1347.3,352.8 1348,354 1348.6,355.8 1349,357.8 1349.2,359.8 1349.4,361.8 1349.6,363.8 1349.8,365.8 1349.9,367.8 1350,369.8 1350,371.8 1350.1,373.8 1350.1,375.8 1350.2,377.8 1350.2,379.8 1350.2,381.8 1350.2,383.8 1350.2,385.8 1350.3,387.8 1350.3,389.8 1350.3,391.8 1350.3,393.8 1350.3,395.8 1350.3,397.8 1350.3,399.8 1350.3,401.8 1350.3,403.8 1350.3,405.8 1350.3,407.8 1350.3,409.8 1350.3,411.8 1350.3,413.8 1350.3,415.8 1350.3,417.8 1350.3,419.8 1350.3,421.8 1350.3,423.8 1350.3,425.8 1350.3,427.8 1350.3,429.8 1350.3,431.8 1350.3,433.8 1350.3,435.8 1350.3,437.8 1350.3,439.8 1350.3,441.8 1350.3,443.8 1350.3,445.8 1350.3,447.8 1350.3,449.8 1350.3,451.8 1350.3,453.8 1350.3,455.8 1350.3,457.8 1350.3,459.8 1350.3,461.8 1350.3,463.8 1350.3,465.8 1350.3,467.8 1350.3,469.8 1350.3,471.8 1350.3,473.8 1350.3,475.8 1350.3,477.8 1350.3,479.8 1350.3,481.8 1350.3,483.8 1350.3,485.8 1350.3,487.8 1350.3,489.8 1350.3,491.8 1350.3,493.8 1350.3,495.8 1350.3,497.8 1350.3,499.8 1350.3,501.8 1350.3,503.8 1350.3,505.8 1350.3,507.8 1350.3,509.8 1350.3,511.8 1350.3,513.8 1350.3,515.8 1350.3,517.8 1350.3,519.8 1350.3,521.8 1350.3,523.8 1350.3,525.8 1350.3,527.8 1350.3,529.8 1350.3,531.8 1350.3,533.8 1350.3,535.8 1350.3,537.8 1350.3,539.8 1350.3,541.8 1350.3,543.8 1350.3,545.8 1350.3,547.8 1350.3,549.8 1350.3,551.8 1350.3,553.8 1350.3,555.8 1350.3,557.8 1350.3,559.8 1350.3,561.8 1350.3,563.8 1350.3,565.8 1350.3,567.8 1350.3,569.8 1350.3,571.8 1350.3,573.8 1350.3,575.8 1350.3,577.8 1350.3,579.8 1350.3,581.8 1350.3,583.8 1350.3,585.8 1350.4,570.5 1350.4,554.9 1350.5,539.4 1350.5,523.8 1350.6,508.3 1350.6,492.8 1350.7,477.2 1350.7,461.7 1350.8,446.1 1350.8,430.6 1350.9,415 1350.9,399.5 1350.9,422.5 1350.9,445.5 1350.9,468.5 1350.9,491.5 1350.9,514.5 1350.9,537.5 1350.9,560.4 1351,583 1351,605.2 1351,627.2 1351,648.7 1351.1,670 1351.1,690.9 1351.2,711.6 1351.3,731.9 1351.5,751.9 1351.7,770.3 1351.9,787.1 1352.2,802.6 1352.5,814.7 1352.7,823.5 1352.9,829.5 1353,832.5 1353.1,829.1 1353.3,824.8 1353.5,819.3 1353.5,812.3 1353.6,803.8 1353.6,795.3 1353.6,786.8 1353.6,778.3 1353.6,769.8 1353.7,761.3 1353.7,752.8 1353.7,744.3 1353.7,735.8 1353.7,727.3 1353.8,719.2 1353.8,711.8 1353.8,704.9 1353.8,698.6 1353.8,692.8 1353.9,687.4 1353.9,682.5 1353.9,678 1353.9,673.8 1353.9,670 1353.9,666.4 1353.9,663.2 1353.9,660.2 1354,657.4 1354,654.9 1354,652.4 1354,650.1 1354,647.9 1354,645.8 1354,643.8 1354,641.8 1354,640 1354,638.2 1354,636.6 1354.1,635 1354.1,633.4 1354.1,632 1354.1,630.6 1354.1,629.2 1354.1,628 1354.1,626.8 1354.1,624.5 1354.1,622.4 1354.1,620.4 1354.2,618.4 1354.2,616.4 1354.2,614.4 1354.2,612.4 1354.2,610.4 1354.2,608.4 1354.2,606.4 1354.3,604.4 1354.3,602.4 1354.3,600.4 1354.3,598.4 1354.3,596.4 1354.3,594.4 1354.4,592.4 1354.4,590.4 1354.4,588.4 1354.4,586.4 1354.4,584.4 1354.5,582.4 1354.5,580.4 1354.5,578.4 1354.5,576.4 1354.5,574.4 1354.6,572.4 1354.6,570.4 1354.6,568.4 1354.6,566.4 1354.7,564.4 1354.7,562.4 1354.7,560.4 1354.7,558.4 1354.8,556.4 1354.8,554.4 1354.8,552.4 1354.8,550.4 1354.9,548.5 1354.9,546.5 1354.9,544.5 1355,542.5 1355,540.5 1355,538.5 1355.1,536.5 1355.1,534.5 1355.1,532.5 1355.2,530.5 1355.2,528.5 1355.2,526.5 1355.3,524.5 1355.3,522.5 1355.3,520.5 1355.4,518.5 1355.4,516.5 1355.5,514.5 1355.5,512.5 1355.5,510.5 1355.6,508.5 1355.6,506.5 1355.7,504.5 1355.7,502.5 1355.8,500.5 1355.8,498.5 1355.9,496.5 1355.9,494.5 1356,492.5 1356,490.5 1356.1,488.5 1356.1,486.5 1356.2,484.5 1356.2,482.5 1356.3,480.5 1356.4,478.5 1356.4,476.5 1356.5,474.5 1356.5,472.5 1356.6,470.5 1356.7,468.5 1356.7,466.5 1356.8,464.5 1356.9,462.5 1356.9,460.5 1357,458.5 1357.1,456.5 1357.2,454.5 1357.2,452.5 1357.3,450.5 1357.4,448.5 1357.5,446.5 1357.6,444.5 1357.7,442.5 1357.8,440.5 1357.9,438.5 1358,436.5 1358.1,434.5 1358.2,432.5 1358.3,430.5 1358.4,428.5 1358.5,426.5 1358.6,424.5 1358.7,422.5 1358.9,420.5 1359,418.5 1359.1,416.5 1359.3,414.5 1359.4,412.5 1359.6,410.5 1359.7,408.6 1359.9,406.6 1360.1,404.6 1360.2,402.6 1360.4,400.6 1360.5,398.6 1360.7,396.6 1360.8,394.6 1361,392.6 1361.1,390.6 1361.3,388.6 1361.5,386.6 1361.6,384.6 1361.8,382.6 1362,380.6 1362.1,378.7 1362.3,376.7 1362.5,374.7 1362.7,372.7 1362.9,370.7 1363.1,368.7 1363.3,366.7 1363.6,364.7 1363.9,362.8 1364.3,360.8 1364.7,358.8 1365.2,356.9 1365.6,354.9 1366.1,353 1366.6,351.1 1367.1,349.1 1367.7,347.2 1368.3,345.3 1368.9,343.4 1369.6,341.5 1370.3,339.7 1371.2,337.9 1372.2,336.1 1373.4,334.6 1375.2,333.6 1376.7,333.8 1378,335.1 1378.7,336.6 1379.2,338.5 1379.4,340.5 1379.7,342.5 1379.9,344.5 1380.1,346.5 1380.2,348.5 1380.3,350.5 1380.4,352.5 1380.4,354.5 1380.5,356.5 1380.5,358.5 1380.6,360.5 1380.6,362.5 1380.6,364.5 1380.6,366.5 1380.6,368.5 1380.6,370.5 1380.6,372.5 1380.7,374.5 1380.7,376.5 1380.7,378.5 1380.7,380.5 1380.7,382.5 1380.7,384.5 1380.7,386.5 1380.7,388.5 1380.7,390.5 1380.7,392.5 1380.7,394.5 1380.7,396.5 1380.7,398.5 1380.7,400.5 1380.7,402.5 1380.7,404.5 1380.7,406.5 1380.7,408.5 1380.7,410.5 1380.7,412.5 1380.7,414.5 1380.7,416.5 1380.7,418.5 1380.7,420.5 1380.7,422.5 1380.7,424.5 1380.7,426.5 1380.7,428.5 1380.7,430.5 1380.7,432.5 1380.7,434.5 1380.7,436.5 1380.7,438.5 1380.7,440.5 1380.7,442.5 1380.7,444.5 1380.7,446.5 1380.7,448.5 1380.7,450.5 1380.7,452.5 1380.7,454.5 1380.7,456.5 1380.7,458.5 1380.7,460.5 1380.7,462.5 1380.7,464.5 1380.7,466.5 1380.7,468.5 1380.7,470.5 1380.7,472.5 1380.7,474.5 1380.7,476.5 1380.7,478.5 1380.7,480.5 1380.7,482.5 1380.7,484.5 1380.7,486.5 1380.7,488.5 1380.7,490.5 1380.7,492.5 1380.7,494.5 1380.7,496.5 1380.7,498.5 1380.7,500.5 1380.7,502.5 1380.7,504.5 1380.7,506.5 1380.7,508.5 1380.7,510.5 1380.7,512.5 1380.7,514.5 1380.7,516.5 1380.7,518.5 1380.7,520.5 1380.7,522.5 1380.7,524.5 1380.7,526.5 1380.7,528.5 1380.7,530.5 1380.7,532.5 1380.7,534.5 1380.7,536.5 1380.7,538.5 1380.7,540.5 1380.7,542.5 1380.7,544.5 1380.7,546.5 1380.7,548.5 1380.7,550.5 1380.7,552.5 1380.7,554.5 1380.7,556.5 1380.7,558.5 1380.7,560.5 1380.7,562.5 1380.7,564.5 1380.7,566.5 1380.7,568.5 1380.7,570.5 1380.7,572.5 1380.7,574 1380.8,558.1 1380.8,542.2 1380.9,526.4 1380.9,510.5 1381,494.6 1381,478.8 1381.1,462.9 1381.1,447 1381.2,431.1 1381.2,415.2 1381.3,399.4 1381.3,383.5 1381.3,406.5 1381.3,429.5 1381.3,452.5 1381.3,475.5 1381.3,498.5 1381.3,521.5 1381.3,544.5 1381.4,567.2 1381.4,589.5 1381.4,611.6 1381.4,633.2 1381.4,654.6 1381.5,675.6 1381.6,696.4 1381.7,716.8 1381.8,736.9 1381.9,755.8 1382.2,773.1 1382.4,789 1382.7,802.5 1382.9,812.3 1383.1,819.1 1383.2,823.6 1383.4,820.4 1383.5,816 1383.7,810.6 1383.8,803.7 1383.8,795.2 1383.8,786.7 1383.8,778.2 1383.9,769.7 1383.9,761.2 1383.9,752.7 1383.9,744.2 1383.9,735.7 1384,727.2 1384,718.7 1384,710.4 1384,702.8 1384,695.8 1384.1,689.3 1384.1,683.3 1384.1,677.8 1384.1,672.7 1384.1,668 1384.1,663.7 1384.2,659.7 1384.2,656.1 1384.2,652.7 1384.2,649.5 1384.2,646.7 1384.2,644 1384.2,641.5 1384.2,639.1 1384.2,636.8 1384.2,634.7 1384.2,632.6 1384.3,630.6 1384.3,628.7 1384.3,626.9 1384.3,625.2 1384.3,623.5 1384.3,621.9 1384.3,620.4 1384.3,619 1384.3,617.6 1384.3,616.3 1384.3,615 1384.3,613.8 1384.4,611.5 1384.4,609.5 1384.4,607.5 1384.4,605.5 1384.4,603.5 1384.4,601.5 1384.4,599.5 1384.5,597.5 1384.5,595.5 1384.5,593.5 1384.5,591.5 1384.5,589.5 1384.5,587.5 1384.5,585.5 1384.6,583.5 1384.6,581.5 1384.6,579.5 1384.6,577.5 1384.6,575.5 1384.6,573.5 1384.7,571.5 1384.7,569.5 1384.7,567.5 1384.7,565.5 1384.7,563.5 1384.8,561.5 1384.8,559.5 1384.8,557.5 1384.8,555.5 1384.9,553.5 1384.9,551.5 1384.9,549.5 1384.9,547.5 1384.9,545.5 1385,543.5 1385,541.5 1385,539.5 1385.1,537.5 1385.1,535.5 1385.1,533.5 1385.1,531.5 1385.2,529.5 1385.2,527.5 1385.2,525.5 1385.3,523.5 1385.3,521.5 1385.3,519.5 1385.3,517.5 1385.4,515.5 1385.4,513.5 1385.4,511.5 1385.5,509.5 1385.5,507.5 1385.6,505.5 1385.6,503.5 1385.6,501.5 1385.7,499.5 1385.7,497.5 1385.7,495.5 1385.8,493.5 1385.8,491.5 1385.9,489.5 1385.9,487.5 1386,485.5 1386,483.5 1386.1,481.5 1386.1,479.5 1386.2,477.5 1386.2,475.5 1386.3,473.5 1386.3,471.5 1386.4,469.5 1386.4,467.5 1386.5,465.5 1386.5,463.5 1386.6,461.5 1386.6,459.5 1386.7,457.5 1386.8,455.5 1386.8,453.5 1386.9,451.5 1387,449.5 1387,447.5 1387.1,445.5 1387.2,443.5 1387.2,441.5 1387.3,439.5 1387.4,437.5 1387.5,435.5 1387.5,433.5 1387.6,431.5 1387.7,429.5 1387.8,427.5 1387.9,425.5 1388,423.5 1388,421.5 1388.1,419.5 1388.2,417.5 1388.3,415.5 1388.4,413.5 1388.6,411.5 1388.7,409.5 1388.8,407.5 1388.9,405.5 1389,403.6 1389.2,401.6 1389.3,399.6 1389.5,397.6 1389.6,395.6 1389.7,393.6 1389.9,391.6 1390,389.6 1390.2,387.6 1390.3,385.6 1390.5,383.6 1390.6,381.6 1390.8,379.6 1390.9,377.6 1391,375.6 1391.2,373.6 1391.3,371.6 1391.5,369.6 1391.6,367.6 1391.7,365.6 1391.9,363.7 1392,361.7 1392.2,359.7 1392.3,357.7 1392.5,355.7 1392.7,353.7 1392.9,351.7 1393.1,349.7 1393.3,347.7 1393.6,345.7 1393.9,343.8 1394.3,341.8 1394.8,339.9 1395.2,337.9 1395.7,336 1396.2,334 1396.7,332.1 1397.2,330.2 1397.8,328.2 1398.4,326.3 1399,324.4 1399.7,322.6 1400.5,320.7 1401.5,319 1402.6,317.3 1404.1,316 1405.5,315.5 1406.9,316.1 1407.7,317.1 1408.4,318.6 1408.8,320.5 1409.1,322.5 1409.3,324.5 1409.5,326.5 1409.7,328.5 1409.8,330.5 1409.9,332.5 1410,334.5 1410.1,336.5 1410.1,338.5 1410.1,340.5 1410.2,342.5 1410.2,344.5 1410.2,346.5 1410.2,348.5 1410.2,350.5 1410.3,352.5 1410.3,354.5 1410.3,356.5 1410.3,358.5 1410.3,360.5 1410.3,362.5 1410.3,364.5 1410.3,366.5 1410.3,368.5 1410.3,370.5 1410.3,372.5 1410.3,374.5 1410.3,376.5 1410.3,378.5 1410.3,380.5 1410.3,382.5 1410.3,384.5 1410.3,386.5 1410.3,388.5 1410.3,390.5 1410.3,392.5 1410.3,394.5 1410.3,396.5 1410.3,398.5 1410.3,400.5 1410.3,402.5 1410.3,404.5 1410.3,406.5 1410.3,408.5 1410.3,410.5 1410.3,412.5 1410.3,414.5 1410.3,416.5 1410.3,418.5 1410.3,420.5 1410.3,422.5 1410.3,424.5 1410.3,426.5 1410.3,428.5 1410.3,430.5 1410.3,432.5 1410.3,434.5 1410.3,436.5 1410.3,438.5 1410.3,440.5 1410.3,442.5 1410.3,444.5 1410.3,446.5 1410.3,448.5 1410.3,450.5 1410.3,452.5 1410.3,454.5 1410.3,456.5 1410.3,458.5 1410.3,460.5 1410.3,462.5 1410.3,464.5 1410.3,466.5 1410.3,468.5 1410.3,470.5 1410.3,472.5 1410.3,474.5 1410.3,476.5 1410.3,478.5 1410.3,480.5 1410.3,482.5 1410.3,484.5 1410.3,486.5 1410.3,488.5 1410.3,490.5 1410.3,492.5 1410.3,494.5 1410.3,496.5 1410.3,498.5 1410.3,500.5 1410.3,502.5 1410.3,504.5 1410.3,506.5 1410.3,508.5 1410.3,510.5 1410.3,512.5 1410.3,514.5 1410.3,516.5 1410.3,518.5 1410.3,520.5 1410.3,522.5 1410.3,524.5 1410.3,526.5 1410.3,528.5 1410.3,530.5 1410.3,532.5 1410.3,534.5 1410.3,536.5 1410.3,538.5 1410.3,540.5 1410.3,542.5 1410.3,544.5 1410.3,546.5 1410.3,548.5 1410.3,550.5 1410.3,552.5 1410.3,554.5 1410.3,556.5 1410.3,558.5 1410.3,560.5 1410.3,562 1410.4,545.9 1410.4,529.8 1410.5,513.6 1410.5,497.5 1410.6,481.4 1410.7,465.2 1410.7,449.1 1410.8,433 1410.8,416.9 1410.9,400.8 1410.9,384.6 1411,368.5 1411,391.5 1411,414.5 1411,437.5 1411,460.5 1411,483.5 1411,506.5 1411,529.5 1411,552.3 1411,574.7 1411,596.8 1411.1,618.6 1411.1,640 1411.1,661.2 1411.2,682 1411.3,702.5 1411.4,722.7 1411.5,742 1411.7,759.8 1411.9,776 1412.2,790.7 1412.4,801.3 1412.6,808.9 1412.7,813.9 1412.9,811.6 1413,807.3 1413.2,801.9 1413.3,795.1 1413.3,786.6 1413.3,778.1 1413.3,769.6 1413.4,761.1 1413.4,752.6 1413.4,744.1 1413.4,735.6 1413.4,727.1 1413.5,718.6 1413.5,710.1 1413.5,701.7 1413.5,693.9 1413.5,686.7 1413.6,680 1413.6,673.9 1413.6,668.2 1413.6,663 1413.6,658.2 1413.6,653.7 1413.7,649.6 1413.7,645.7 1413.7,642.2 1413.7,639 1413.7,636 1413.7,633.2 1413.7,630.6 1413.7,628.2 1413.7,625.8 1413.7,623.6 1413.8,621.5 1413.8,619.4 1413.8,617.5 1413.8,615.6 1413.8,613.8 1413.8,612.1 1413.8,610.4 1413.8,608.9 1413.8,607.4 1413.8,605.9 1413.8,604.6 1413.8,603.3 1413.9,602 1413.9,599.7 1413.9,597.5 1413.9,595.5 1413.9,593.5 1413.9,591.5 1413.9,589.5 1413.9,587.5 1414,585.5 1414,583.5 1414,581.5 1414,579.5 1414,577.5 1414,575.5 1414,573.5 1414.1,571.5 1414.1,569.5 1414.1,567.5 1414.1,565.5 1414.1,563.5 1414.1,561.5 1414.2,559.5 1414.2,557.5 1414.2,555.5 1414.2,553.5 1414.2,551.5 1414.3,549.5 1414.3,547.5 1414.3,545.5 1414.3,543.5 1414.4,541.5 1414.4,539.5 1414.4,537.5 1414.4,535.5 1414.4,533.5 1414.5,531.5 1414.5,529.5 1414.5,527.5 1414.6,525.5 1414.6,523.5 1414.6,521.5 1414.6,519.5 1414.7,517.5 1414.7,515.5 1414.7,513.5 1414.7,511.5 1414.8,509.5 1414.8,507.5 1414.8,505.5 1414.9,503.5 1414.9,501.5 1414.9,499.5 1415,497.5 1415,495.5 1415,493.5 1415.1,491.5 1415.1,489.5 1415.2,487.5 1415.2,485.5 1415.2,483.5 1415.3,481.5 1415.3,479.5 1415.4,477.5 1415.4,475.5 1415.4,473.5 1415.5,471.5 1415.5,469.5 1415.6,467.5 1415.6,465.5 1415.7,463.5 1415.7,461.5 1415.8,459.5 1415.8,457.5 1415.9,455.5 1415.9,453.5 1416,451.5 1416,449.5 1416.1,447.5 1416.2,445.5 1416.2,443.5 1416.3,441.5 1416.3,439.5 1416.4,437.5 1416.5,435.5 1416.5,433.5 1416.6,431.5 1416.7,429.5 1416.7,427.5 1416.8,425.5 1416.9,423.5 1416.9,421.5 1417,419.5 1417.1,417.5 1417.2,415.5 1417.3,413.6 1417.3,411.6 1417.4,409.6 1417.5,407.6 1417.6,405.6 1417.7,403.6 1417.8,401.6 1417.9,399.6 1418,397.6 1418.1,395.6 1418.2,393.6 1418.4,391.6 1418.5,389.6 1418.6,387.6 1418.7,385.6 1418.9,383.6 1419,381.6 1419.1,379.6 1419.3,377.6 1419.4,375.6 1419.6,373.6 1419.7,371.6 1419.9,369.6 1420,367.6 1420.2,365.6 1420.3,363.6 1420.5,361.7 1420.6,359.7 1420.8,357.7 1420.9,355.7 1421.1,353.7 1421.2,351.7 1421.4,349.7 1421.5,347.7 1421.7,345.7 1421.9,343.7 1422,341.7 1422.2,339.7 1422.4,337.7 1422.6,335.7 1422.8,333.8 1423,331.8 1423.2,329.8 1423.5,327.8 1423.9,325.8 1424.2,323.9 1424.7,321.9 1425.1,320 1425.6,318 1426.1,316.1 1426.5,314.1 1427.1,312.2 1427.6,310.3 1428.2,308.4 1428.8,306.5 1429.5,304.6 1430.2,302.7 1431.1,300.9 1432.1,299.2 1433.4,297.7 1435.2,296.8 1436.4,297 1437.6,298.3 1438.3,299.8 1438.7,301.8 1439,303.8 1439.2,305.8 1439.4,307.8 1439.6,309.8 1439.7,311.8 1439.8,313.8 1439.9,315.8 1439.9,317.8 1440,319.8 1440,321.8 1440,323.8 1440.1,325.8 1440.1,327.8 1440.1,329.8 1440.1,331.8 1440.1,333.8 1440.1,335.8 1440.2,337.8 1440.2,339.8 1440.2,341.8 1440.2,343.8 1440.2,345.8 1440.2,347.8 1440.2,349.8 1440.2,351.8 1440.2,353.8 1440.2,355.8 1440.2,357.8 1440.2,359.8 1440.2,361.8 1440.2,363.8 1440.2,365.8 1440.2,367.8 1440.2,369.8 1440.2,371.8 1440.2,373.8 1440.2,375.8 1440.2,377.8 1440.2,379.8 1440.2,381.8 1440.2,383.8 1440.2,385.8 1440.2,387.8 1440.2,389.8 1440.2,391.8 1440.2,393.8 1440.2,395.8 1440.2,397.8 1440.2,399.8 1440.2,401.8 1440.2,403.8 1440.2,405.8 1440.2,407.8 1440.2,409.8 1440.2,411.8 1440.2,413.8 1440.2,415.8 1440.2,417.8 1440.2,419.8 1440.2,421.8 1440.2,423.8 1440.2,425.8 1440.2,427.8 1440.2,429.8 1440.2,431.8 1440.2,433.8 1440.2,435.8 1440.2,437.8 1440.2,439.8 1440.2,441.8 1440.2,443.8 1440.2,445.8 1440.2,447.8 1440.2,449.8 1440.2,451.8 1440.2,453.8 1440.2,455.8 1440.2,457.8 1440.2,459.8 1440.2,461.8 1440.2,463.8 1440.2,465.8 1440.2,467.8 1440.2,469.8 1440.2,471.8 1440.2,473.8 1440.2,475.8 1440.2,477.8 1440.2,479.8 1440.2,481.8 1440.2,483.8 1440.2,485.8 1440.2,487.8 1440.2,489.8 1440.2,491.8 1440.2,493.8 1440.2,495.8 1440.2,497.8 1440.2,499.8 1440.2,501.8 1440.2,503.8 1440.2,505.8 1440.2,507.8 1440.2,509.8 1440.2,511.8 1440.2,513.8 1440.2,515.8 1440.2,517.8 1440.2,519.8 1440.2,521.8 1440.2,523.8 1440.2,525.8 1440.2,527.8 1440.2,529.8 1440.2,531.8 1440.2,533.8 1440.2,535.8 1440.2,537.8 1440.2,539.8 1440.2,541.8 1440.2,543.8 1440.2,545.8 1440.2,547.8 1440.2,549 1440.3,532.6 1440.3,516.2 1440.4,499.9 1440.4,483.5 1440.5,467.1 1440.6,450.8 1440.6,434.4 1440.7,418 1440.7,401.6 1440.8,385.2 1440.8,368.9 1440.9,352.5 1440.9,375.5 1440.9,398.5 1440.9,421.5 1440.9,444.5 1440.9,467.5 1440.9,490.5 1440.9,513.5 1440.9,536.4 1440.9,558.9 1440.9,581.1 1441,603 1441,624.5 1441,645.7 1441.1,666.6 1441.1,687.2 1441.2,707.4 1441.3,727.2 1441.5,745.4 1441.7,762 1441.9,777.3 1442.1,788.8 1442.3,797.2 1442.4,802.8 1442.5,805 1442.6,801.6 1442.8,797.3 1443,792 1443,785.2 1443.1,776.8 1443.1,768.3 1443.1,759.8 1443.1,751.3 1443.1,742.8 1443.1,734.3 1443.2,725.8 1443.2,717.3 1443.2,708.8 1443.2,700.3 1443.2,691.8 1443.3,683.8 1443.3,676.4 1443.3,669.6 1443.3,663.3 1443.3,657.5 1443.4,652.1 1443.4,647.1 1443.4,642.5 1443.4,638.2 1443.4,634.3 1443.4,630.6 1443.4,627.2 1443.4,624.1 1443.4,621.2 1443.5,618.5 1443.5,616 1443.5,613.6 1443.5,611.3 1443.5,609.1 1443.5,607 1443.5,605 1443.5,603.1 1443.5,601.2 1443.5,599.5 1443.5,597.8 1443.6,596.1 1443.6,594.6 1443.6,593.1 1443.6,591.7 1443.6,590.3 1443.6,589 1443.6,587.8 1443.6,585.4 1443.6,583.3 1443.6,581.3 1443.7,579.3 1443.7,577.3 1443.7,575.3 1443.7,573.3 1443.7,571.3 1443.7,569.3 1443.7,567.3 1443.7,565.3 1443.8,563.3 1443.8,561.3 1443.8,559.3 1443.8,557.3 1443.8,555.3 1443.8,553.3 1443.9,551.3 1443.9,549.3 1443.9,547.3 1443.9,545.3 1443.9,543.3 1443.9,541.3 1444,539.3 1444,537.3 1444,535.3 1444,533.3 1444,531.3 1444.1,529.3 1444.1,527.3 1444.1,525.3 1444.1,523.3 1444.2,521.3 1444.2,519.3 1444.2,517.3 1444.2,515.3 1444.3,513.3 1444.3,511.3 1444.3,509.3 1444.3,507.3 1444.4,505.3 1444.4,503.3 1444.4,501.3 1444.4,499.3 1444.5,497.3 1444.5,495.3 1444.5,493.3 1444.6,491.3 1444.6,489.3 1444.6,487.3 1444.7,485.3 1444.7,483.3 1444.7,481.3 1444.8,479.3 1444.8,477.3 1444.8,475.3 1444.9,473.3 1444.9,471.3 1444.9,469.3 1445,467.3 1445,465.3 1445.1,463.3 1445.1,461.3 1445.1,459.3 1445.2,457.3 1445.2,455.3 1445.3,453.3 1445.3,451.3 1445.4,449.3 1445.4,447.3 1445.5,445.3 1445.5,443.3 1445.6,441.3 1445.6,439.3 1445.7,437.3 1445.7,435.3 1445.8,433.3 1445.8,431.3 1445.9,429.3 1445.9,427.3 1446,425.3 1446.1,423.3 1446.1,421.3 1446.2,419.3 1446.2,417.3 1446.3,415.3 1446.4,413.3 1446.4,411.3 1446.5,409.3 1446.6,407.3 1446.7,405.3 1446.7,403.3 1446.8,401.3 1446.9,399.3 1447,397.3 1447,395.3 1447.1,393.3 1447.2,391.3 1447.3,389.3 1447.4,387.3 1447.5,385.3 1447.6,383.4 1447.7,381.4 1447.8,379.4 1447.9,377.4 1448,375.4 1448.1,373.4 1448.3,371.4 1448.4,369.4 1448.5,367.4 1448.6,365.4 1448.8,363.4 1448.9,361.4 1449.1,359.4 1449.2,357.4 1449.3,355.4 1449.5,353.4 1449.6,351.4 1449.8,349.4 1449.9,347.4 1450.1,345.4 1450.2,343.4 1450.3,341.4 1450.5,339.4 1450.6,337.5 1450.8,335.5 1450.9,333.5 1451.1,331.5 1451.2,329.5 1451.4,327.5 1451.5,325.5 1451.7,323.5 1451.8,321.5 1452,319.5 1452.2,317.5 1452.4,315.5 1452.6,313.5 1452.8,311.5 1453.1,309.6 1453.4,307.6 1453.8,305.6 1454.2,303.7 1454.7,301.7 1455.2,299.8 1455.6,297.8 1456.1,295.9 1456.6,294 1457.2,292 1457.7,290.1 1458.3,288.2 1459,286.3 1459.8,284.5 1460.6,282.7 1461.7,281 1462.9,279.4 1464.7,278.5 1466,278.8 1467.2,280.1 1467.9,281.6 1468.4,283.5 1468.7,285.5 1468.9,287.5 1469.1,289.5 1469.3,291.5 1469.5,293.5 1469.5,295.5 1469.6,297.5 1469.7,299.5 1469.7,301.5 1469.8,303.5 1469.8,305.5 1469.8,307.5 1469.8,309.5 1469.8,311.5 1469.9,313.5 1469.9,315.5 1469.9,317.5 1469.9,319.5 1469.9,321.5 1469.9,323.5 1469.9,325.5 1469.9,327.5 1469.9,329.5 1469.9,331.5 1469.9,333.5 1469.9,335.5 1469.9,337.5 1470,339.5 1470,341.5 1470,343.5 1470,345.5 1470,347.5 1470,349.5 1470,351.5 1470,353.5 1470,355.5 1470,357.5 1470,359.5 1470,361.5 1470,363.5 1470,365.5 1470,367.5 1470,369.5 1470,371.5 1470,373.5 1470,375.5 1470,377.5 1470,379.5 1470,381.5 1470,383.5 1470,385.5 1470,387.5 1470,389.5 1470,391.5 1470,393.5 1470,395.5 1470,397.5 1470,399.5 1470,401.5 1470,403.5 1470,405.5 1470,407.5 1470,409.5 1470,411.5 1470,413.5 1470,415.5 1470,417.5 1470,419.5 1470,421.5 1470,423.5 1470,425.5 1470,427.5 1470,429.5 1470,431.5 1470,433.5 1470,435.5 1470,437.5 1470,439.5 1470,441.5 1470,443.5 1470,445.5 1470,447.5 1470,449.5 1470,451.5 1470,453.5 1470,455.5 1470,457.5 1470,459.5 1470,461.5 1470,463.5 1470,465.5 1470,467.5 1470,469.5 1470,471.5 1470,473.5 1470,475.5 1470,477.5 1470,479.5 1470,481.5 1470,483.5 1470,485.5 1470,487.5 1470,489.5 1470,491.5 1470,493.5 1470,495.5 1470,497.5 1470,499.5 1470,501.5 1470,503.5 1470,505.5 1470,507.5 1470,509.5 1470,511.5 1470,513.5 1470,515.5 1470,517.5 1470,519.5 1470,521.5 1470,523.5 1470,525.5 1470,527.5 1470,529.5 1470,531.5 1470,533.5 1470,535.5 1470,537 1470,520.5 1470.1,504.1 1470.1,487.6 1470.2,471.2 1470.2,454.7 1470.3,438.2 1470.4,421.8 1470.4,405.3 1470.5,388.9 1470.5,372.4 1470.6,356 1470.7,339.5 1470.7,362.5 1470.7,385.5 1470.7,408.5 1470.7,431.5 1470.7,454.5 1470.7,477.5 1470.7,500.5 1470.7,523.4 1470.7,546 1470.7,568.3 1470.7,590.2 1470.7,611.8 1470.8,633 1470.8,654 1470.9,674.6 1470.9,694.9 1471.1,714.9 1471.2,733.3 1471.4,750.2 1471.6,765.6 1471.8,777.9 1472,786.7 1472.2,792.7 1472.2,795.8 1472.4,792.4 1472.5,788.1 1472.7,782.8 1472.8,776.1 1472.8,767.8 1472.8,759.3 1472.8,750.8 1472.9,742.3 1472.9,733.8 1472.9,725.3 1472.9,716.8 1472.9,708.3 1472.9,699.8 1473,691.3 1473,682.8 1473,674.6 1473,667.1 1473,660.1 1473.1,653.6 1473.1,647.6 1473.1,642.1 1473.1,636.9 1473.1,632.2 1473.1,627.8 1473.1,623.7 1473.2,619.9 1473.2,616.4 1473.2,613.1 1473.2,610.1 1473.2,607.3 1473.2,604.7 1473.2,602.2 1473.2,599.9 1473.2,597.6 1473.2,595.4 1473.2,593.4 1473.3,591.4 1473.3,589.5 1473.3,587.7 1473.3,585.9 1473.3,584.2 1473.3,582.6 1473.3,581.1 1473.3,579.6 1473.3,578.2 1473.3,576.9 1473.3,575.6 1473.3,574.3 1473.4,572 1473.4,569.9 1473.4,567.9 1473.4,565.9 1473.4,563.9 1473.4,561.9 1473.4,559.9 1473.4,557.9 1473.5,555.9 1473.5,553.9 1473.5,551.9 1473.5,549.9 1473.5,547.9 1473.5,545.9 1473.5,543.9 1473.6,541.9 1473.6,539.9 1473.6,537.9 1473.6,535.9 1473.6,533.9 1473.6,531.9 1473.7,529.9 1473.7,527.9 1473.7,525.9 1473.7,523.9 1473.7,521.9 1473.7,519.9 1473.8,517.9 1473.8,515.9 1473.8,513.9 1473.8,511.9 1473.9,509.9 1473.9,507.9 1473.9,505.9 1473.9,503.9 1473.9,501.9 1474,499.9 1474,497.9 1474,495.9 1474,493.9 1474.1,491.9 1474.1,489.9 1474.1,487.9 1474.1,485.9 1474.2,483.9 1474.2,481.9 1474.2,479.9 1474.3,477.9 1474.3,475.9 1474.3,473.9 1474.4,471.9 1474.4,469.9 1474.4,467.9 1474.4,465.9 1474.5,463.9 1474.5,461.9 1474.5,459.9 1474.6,457.9 1474.6,455.9 1474.7,453.9 1474.7,451.9 1474.7,449.9 1474.8,447.9 1474.8,445.9 1474.8,443.9 1474.9,441.9 1474.9,439.9 1475,437.9 1475,435.9 1475.1,433.9 1475.1,431.9 1475.2,429.9 1475.2,427.9 1475.3,425.9 1475.3,423.9 1475.4,421.9 1475.4,419.9 1475.5,417.9 1475.5,415.9 1475.6,413.9 1475.6,411.9 1475.7,409.9 1475.7,407.9 1475.8,405.9 1475.8,403.9 1475.9,401.9 1476,399.9 1476,397.9 1476.1,395.9 1476.2,393.9 1476.2,391.9 1476.3,389.9 1476.4,387.9 1476.4,385.9 1476.5,383.9 1476.6,381.9 1476.7,379.9 1476.8,377.9 1476.8,375.9 1476.9,373.9 1477,371.9 1477.1,369.9 1477.2,367.9 1477.3,365.9 1477.4,363.9 1477.5,361.9 1477.6,359.9 1477.7,357.9 1477.8,355.9 1477.9,353.9 1478.1,351.9 1478.2,349.9 1478.3,347.9 1478.5,345.9 1478.6,343.9 1478.7,341.9 1478.9,340 1479,338 1479.1,336 1479.3,334 1479.4,332 1479.6,330 1479.7,328 1479.8,326 1479.9,324 1480,322 1480.2,320 1480.3,318 1480.4,316 1480.6,314 1480.7,312 1480.8,310 1480.9,308 1481.1,306 1481.2,304 1481.4,302 1481.5,300 1481.7,298 1481.9,296.1 1482.1,294.1 1482.3,292.1 1482.7,290.1 1483,288.1 1483.5,286.2 1483.9,284.2 1484.4,282.3 1484.8,280.3 1485.3,278.4 1485.8,276.5 1486.3,274.5 1486.9,272.6 1487.5,270.7 1488.1,268.8 1488.9,267 1489.7,265.1 1490.7,263.4 1491.8,261.8 1493.5,260.7 1494.7,260.6 1496.1,261.5 1496.9,262.8 1497.5,264.5 1497.8,266.5 1498,268.5 1498.3,270.5 1498.5,272.5 1498.6,274.5 1498.7,276.5 1498.8,278.5 1498.9,280.5 1499,282.5 1499,284.5 1499,286.5 1499.1,288.5 1499.1,290.5 1499.1,292.5 1499.1,294.5 1499.1,296.5 1499.1,298.5 1499.1,300.5 1499.2,302.5 1499.2,304.5 1499.2,306.5 1499.2,308.5 1499.2,310.5 1499.2,312.5 1499.2,314.5 1499.2,316.5 1499.2,318.5 1499.2,320.5 1499.2,322.5 1499.2,324.5 1499.2,326.5 1499.2,328.5 1499.2,330.5 1499.2,332.5 1499.2,334.5 1499.2,336.5 1499.2,338.5 1499.2,340.5 1499.2,342.5 1499.2,344.5 1499.2,346.5 1499.2,348.5 1499.2,350.5 1499.2,352.5 1499.2,354.5 1499.2,356.5 1499.2,358.5 1499.2,360.5 1499.2,362.5 1499.2,364.5 1499.2,366.5 1499.2,368.5 1499.2,370.5 1499.2,372.5 1499.2,374.5 1499.2,376.5 1499.2,378.5 1499.2,380.5 1499.2,382.5 1499.2,384.5 1499.2,386.5 1499.2,388.5 1499.2,390.5 1499.2,392.5 1499.2,394.5 1499.2,396.5 1499.2,398.5 1499.2,400.5 1499.2,402.5 1499.2,404.5 1499.2,406.5 1499.2,408.5 1499.2,410.5 1499.2,412.5 1499.2,414.5 1499.2,416.5 1499.2,418.5 1499.2,420.5 1499.2,422.5 1499.2,424.5 1499.2,426.5 1499.2,428.5 1499.2,430.5 1499.2,432.5 1499.2,434.5 1499.2,436.5 1499.2,438.5 1499.2,440.5 1499.2,442.5 1499.2,444.5 1499.2,446.5 1499.2,448.5 1499.2,450.5 1499.2,452.5 1499.2,454.5 1499.2,456.5 1499.2,458.5 1499.2,460.5 1499.2,462.5 1499.2,464.5 1499.2,466.5 1499.2,468.5 1499.2,470.5 1499.2,472.5 1499.2,474.5 1499.2,476.5 1499.2,478.5 1499.2,480.5 1499.2,482.5 1499.2,484.5 1499.2,486.5 1499.2,488.5 1499.2,490.5 1499.2,492.5 1499.2,494.5 1499.2,496.5 1499.2,498.5 1499.2,500.5 1499.2,502.5 1499.2,504.5 1499.2,506.5 1499.2,508.5 1499.2,510.5 1499.2,512.5 1499.2,514.5 1499.2,516.5 1499.2,518.5 1499.2,520.5 1499.2,522.5 1499.2,524 1499.3,507.4 1499.3,490.8 1499.4,474.1 1499.4,457.5 1499.5,440.9 1499.6,424.2 1499.6,407.6 1499.7,391 1499.7,374.4 1499.8,357.8 1499.8,341.1 1499.9,324.5 1499.9,347.5 1499.9,370.5 1499.9,393.5 1499.9,416.5 1499.9,439.5 1499.9,462.5 1499.9,485.5 1499.9,508.5 1499.9,531.1 1499.9,553.4 1499.9,575.4 1500,597.1 1500,618.4 1500,639.4 1500.1,660.1 1500.2,680.4 1500.3,700.5 1500.4,719.2 1500.6,736.4 1500.8,752.1 1501,765.1 1501.2,774.5 1501.4,781 1501.5,785 1501.6,781.6 1501.8,777.4 1502,772.1 1502,765.5 1502.1,757.3 1502.1,748.8 1502.1,740.3 1502.1,731.8 1502.1,723.3 1502.1,714.8 1502.2,706.3 1502.2,697.8 1502.2,689.3 1502.2,680.8 1502.2,672.3 1502.3,664 1502.3,656.3 1502.3,649.1 1502.3,642.5 1502.3,636.3 1502.3,630.6 1502.4,625.3 1502.4,620.4 1502.4,615.8 1502.4,611.6 1502.4,607.7 1502.4,604 1502.4,600.6 1502.4,597.5 1502.4,594.6 1502.5,591.9 1502.5,589.4 1502.5,587 1502.5,584.6 1502.5,582.4 1502.5,580.3 1502.5,578.2 1502.5,576.3 1502.5,574.4 1502.5,572.6 1502.5,570.8 1502.5,569.2 1502.6,567.6 1502.6,566.1 1502.6,564.6 1502.6,563.2 1502.6,561.9 1502.6,560.6 1502.6,559.4 1502.6,557 1502.6,554.9 1502.6,552.9 1502.7,550.9 1502.7,548.9 1502.7,546.9 1502.7,544.9 1502.7,542.9 1502.7,540.9 1502.7,538.9 1502.7,536.9 1502.8,534.9 1502.8,532.9 1502.8,530.9 1502.8,528.9 1502.8,526.9 1502.8,524.9 1502.8,522.9 1502.9,520.9 1502.9,518.9 1502.9,516.9 1502.9,514.9 1502.9,512.9 1503,510.9 1503,508.9 1503,506.9 1503,504.9 1503,502.9 1503.1,500.9 1503.1,498.9 1503.1,496.9 1503.1,494.9 1503.1,492.9 1503.2,490.9 1503.2,488.9 1503.2,486.9 1503.2,484.9 1503.3,482.9 1503.3,480.9 1503.3,478.9 1503.3,476.9 1503.4,474.9 1503.4,472.9 1503.4,470.9 1503.4,468.9 1503.5,466.9 1503.5,464.9 1503.5,462.9 1503.6,460.9 1503.6,458.9 1503.6,456.9 1503.6,454.9 1503.7,452.9 1503.7,450.9 1503.7,448.9 1503.8,446.9 1503.8,444.9 1503.8,442.9 1503.9,440.9 1503.9,438.9 1504,436.9 1504,434.9 1504,432.9 1504.1,430.9 1504.1,428.9 1504.1,426.9 1504.2,424.9 1504.2,422.9 1504.3,420.9 1504.3,418.9 1504.4,416.9 1504.4,414.9 1504.5,412.9 1504.5,410.9 1504.6,408.9 1504.6,406.9 1504.7,404.9 1504.7,402.9 1504.8,400.9 1504.8,398.9 1504.9,396.9 1504.9,394.9 1505,392.9 1505,390.9 1505.1,388.9 1505.2,386.9 1505.2,384.9 1505.3,382.9 1505.3,380.9 1505.4,378.9 1505.5,376.9 1505.5,374.9 1505.6,372.9 1505.7,370.9 1505.8,368.9 1505.8,366.9 1505.9,364.9 1506,362.9 1506.1,360.9 1506.1,358.9 1506.2,356.9 1506.3,354.9 1506.4,352.9 1506.5,350.9 1506.6,349 1506.7,347 1506.8,345 1506.9,343 1507,341 1507.1,339 1507.3,337 1507.4,335 1507.5,333 1507.6,331 1507.8,329 1507.9,327 1508,325 1508.2,323 1508.3,321 1508.5,319 1508.6,317 1508.7,315 1508.9,313 1509,311 1509.1,309 1509.2,307 1509.4,305 1509.5,303 1509.6,301 1509.8,299.1 1509.9,297.1 1510,295.1 1510.2,293.1 1510.3,291.1 1510.5,289.1 1510.6,287.1 1510.8,285.1 1510.9,283.1 1511.1,281.1 1511.3,279.1 1511.5,277.1 1511.7,275.1 1512,273.2 1512.4,271.2 1512.8,269.2 1513.2,267.3 1513.7,265.3 1514.1,263.4 1514.6,261.4 1515,259.5 1515.5,257.6 1516.1,255.6 1516.6,253.7 1517.3,251.8 1517.9,249.9 1518.7,248.1 1519.5,246.3 1520.6,244.5 1521.9,243.1 1523.7,242.3 1525,242.8 1525.7,243.8 1526.4,245.3 1526.8,247.2 1527.1,249.2 1527.3,251.2 1527.5,253.2 1527.6,255.2 1527.8,257.2 1527.8,259.2 1527.9,261.2 1528,263.2 1528,265.2 1528,267.2 1528.1,269.2 1528.1,271.2 1528.1,273.2 1528.1,275.2 1528.1,277.2 1528.1,279.2 1528.1,281.2 1528.2,283.2 1528.2,285.2 1528.2,287.2 1528.2,289.2 1528.2,291.2 1528.2,293.2 1528.2,295.2 1528.2,297.2 1528.2,299.2 1528.2,301.2 1528.2,303.2 1528.2,305.2 1528.2,307.2 1528.2,309.2 1528.2,311.2 1528.2,313.2 1528.2,315.2 1528.2,317.2 1528.2,319.2 1528.2,321.2 1528.2,323.2 1528.2,325.2 1528.2,327.2 1528.2,329.2 1528.2,331.2 1528.2,333.2 1528.2,335.2 1528.2,337.2 1528.2,339.2 1528.2,341.2 1528.2,343.2 1528.2,345.2 1528.2,347.2 1528.2,349.2 1528.2,351.2 1528.2,353.2 1528.2,355.2 1528.2,357.2 1528.2,359.2 1528.2,361.2 1528.2,363.2 1528.2,365.2 1528.2,367.2 1528.2,369.2 1528.2,371.2 1528.2,373.2 1528.2,375.2 1528.2,377.2 1528.2,379.2 1528.2,381.2 1528.2,383.2 1528.2,385.2 1528.2,387.2 1528.2,389.2 1528.2,391.2 1528.2,393.2 1528.2,395.2 1528.2,397.2 1528.2,399.2 1528.2,401.2 1528.2,403.2 1528.2,405.2 1528.2,407.2 1528.2,409.2 1528.2,411.2 1528.2,413.2 1528.2,415.2 1528.2,417.2 1528.2,419.2 1528.2,421.2 1528.2,423.2 1528.2,425.2 1528.2,427.2 1528.2,429.2 1528.2,431.2 1528.2,433.2 1528.2,435.2 1528.2,437.2 1528.2,439.2 1528.2,441.2 1528.2,443.2 1528.2,445.2 1528.2,447.2 1528.2,449.2 1528.2,451.2 1528.2,453.2 1528.2,455.2 1528.2,457.2 1528.2,459.2 1528.2,461.2 1528.2,463.2 1528.2,465.2 1528.2,467.2 1528.2,469.2 1528.2,471.2 1528.2,473.2 1528.2,475.2 1528.2,477.2 1528.2,479.2 1528.2,481.2 1528.2,483.2 1528.2,485.2 1528.2,487.2 1528.2,489.2 1528.2,491.2 1528.2,493.2 1528.2,495.2 1528.2,497.2 1528.2,499.2 1528.2,501.2 1528.2,503.2 1528.2,505.2 1528.2,507.2 1528.2,509.2 1528.2,511.2 1528.3,496.3 1528.3,480.7 1528.4,465 1528.4,449.4 1528.5,433.7 1528.5,418.1 1528.6,402.4 1528.6,386.8 1528.7,371.1 1528.7,355.5 1528.8,339.8 1528.8,324.2 1528.9,308.5 1528.9,331.5 1528.9,354.5 1528.9,377.5 1528.9,400.5 1528.9,423.5 1528.9,446.5 1528.9,469.5 1528.9,492.5 1528.9,515.2 1528.9,537.6 1528.9,559.7 1529,581.4 1529,602.8 1529,623.9 1529.1,644.7 1529.2,665.1 1529.3,685.3 1529.4,704.4 1529.6,722 1529.8,738.1 1530,752.2 1530.2,762.4 1530.4,769.6 1530.5,774.4 1530.6,771.6 1530.8,767.4 1531,762.1 1531,755.6 1531,747.5 1531.1,739 1531.1,730.5 1531.1,722 1531.1,713.5 1531.1,705 1531.1,696.5 1531.2,688 1531.2,679.5 1531.2,671 1531.2,662.5 1531.2,654 1531.3,646.2 1531.3,638.9 1531.3,632.1 1531.3,625.8 1531.3,619.9 1531.3,614.5 1531.4,609.4 1531.4,604.7 1531.4,600.3 1531.4,596.3 1531.4,592.5 1531.4,589 1531.4,585.7 1531.4,582.7 1531.4,579.9 1531.5,577.3 1531.5,574.8 1531.5,572.4 1531.5,570.1 1531.5,567.9 1531.5,565.8 1531.5,563.8 1531.5,561.9 1531.5,560 1531.5,558.2 1531.5,556.5 1531.5,554.9 1531.5,553.3 1531.6,551.8 1531.6,550.4 1531.6,549 1531.6,547.6 1531.6,546.4 1531.6,545.1 1531.6,542.8 1531.6,540.7 1531.6,538.7 1531.6,536.7 1531.7,534.7 1531.7,532.7 1531.7,530.7 1531.7,528.7 1531.7,526.7 1531.7,524.7 1531.7,522.7 1531.7,520.7 1531.8,518.7 1531.8,516.7 1531.8,514.7 1531.8,512.7 1531.8,510.7 1531.8,508.7 1531.8,506.7 1531.9,504.7 1531.9,502.7 1531.9,500.7 1531.9,498.7 1531.9,496.7 1531.9,494.7 1532,492.7 1532,490.7 1532,488.7 1532,486.7 1532,484.7 1532.1,482.7 1532.1,480.7 1532.1,478.7 1532.1,476.7 1532.2,474.7 1532.2,472.7 1532.2,470.7 1532.2,468.7 1532.2,466.7 1532.3,464.7 1532.3,462.7 1532.3,460.7 1532.3,458.7 1532.4,456.7 1532.4,454.7 1532.4,452.7 1532.4,450.7 1532.5,448.7 1532.5,446.7 1532.5,444.7 1532.6,442.7 1532.6,440.7 1532.6,438.7 1532.6,436.7 1532.7,434.7 1532.7,432.7 1532.7,430.7 1532.8,428.7 1532.8,426.7 1532.8,424.7 1532.9,422.7 1532.9,420.7 1532.9,418.7 1533,416.7 1533,414.7 1533.1,412.7 1533.1,410.7 1533.1,408.7 1533.2,406.7 1533.2,404.7 1533.3,402.7 1533.3,400.7 1533.4,398.7 1533.4,396.7 1533.4,394.7 1533.5,392.7 1533.5,390.7 1533.6,388.7 1533.6,386.7 1533.7,384.7 1533.7,382.7 1533.8,380.7 1533.8,378.7 1533.9,376.7 1534,374.7 1534,372.7 1534.1,370.7 1534.1,368.7 1534.2,366.7 1534.2,364.7 1534.3,362.7 1534.4,360.7 1534.4,358.7 1534.5,356.7 1534.6,354.7 1534.6,352.7 1534.7,350.7 1534.8,348.7 1534.9,346.7 1534.9,344.7 1535,342.7 1535.1,340.7 1535.2,338.7 1535.3,336.7 1535.3,334.7 1535.4,332.7 1535.5,330.7 1535.6,328.7 1535.7,326.7 1535.8,324.7 1536,322.7 1536.1,320.8 1536.2,318.8 1536.3,316.8 1536.4,314.8 1536.6,312.8 1536.7,310.8 1536.8,308.8 1536.9,306.8 1537.1,304.8 1537.2,302.8 1537.3,300.8 1537.5,298.8 1537.6,296.8 1537.7,294.8 1537.8,292.8 1537.9,290.8 1538.1,288.8 1538.2,286.8 1538.3,284.8 1538.4,282.8 1538.5,280.8 1538.6,278.8 1538.7,276.8 1538.8,274.8 1539,272.8 1539.1,270.8 1539.2,268.8 1539.3,266.9 1539.5,264.9 1539.6,262.9 1539.8,260.9 1539.9,258.9 1540.2,256.9 1540.4,254.9 1540.8,252.9 1541.2,251 1541.6,249 1542.1,247.1 1542.5,245.1 1543,243.2 1543.4,241.2 1543.9,239.3 1544.4,237.4 1545,235.4 1545.6,233.5 1546.3,231.6 1547,229.8 1547.8,228 1548.8,226.2 1550,224.6 1551.7,223.6 1553.2,223.8 1554.6,225.1 1555.4,226.6 1555.8,228.5 1556.1,230.5 1556.4,232.5 1556.6,234.5 1556.8,236.5 1557,238.5 1557.1,240.5 1557.1,242.5 1557.2,244.5 1557.3,246.5 1557.3,248.5 1557.3,250.5 1557.4,252.5 1557.4,254.5 1557.4,256.5 1557.4,258.5 1557.4,260.5 1557.4,262.5 1557.4,264.5 1557.5,266.5 1557.5,268.5 1557.5,270.5 1557.5,272.5 1557.5,274.5 1557.5,276.5 1557.5,278.5 1557.5,280.5 1557.5,282.5 1557.5,283.5"/>
<g fill="none" stroke="#000" stroke-width="4.9" stroke-linecap="round" stroke-linejoin="round">
<polyline points="288.4,1004.8 288.5,1006.8 288.6,1008.8 288.7,1010.8 288.8,1012.8 288.8,1014.8 288.9,1016.8 289,1018.8 289.1,1020.8 289.2,1022.8 289.3,1024.8 289.4,1026.8 289.5,1028.8 289.6,1030.8 289.6,1032.8 289.7,1034.8 289.8,1036.8 289.9,1038.8 290,1040.8 290.1,1042.8 290.2,1044.8 290.3,1046.8 290.4,1048.8 290.4,1050.8 290.5,1051.8"/>
<polyline points="311.5,968.5 313.2,969.1 314.6,970.8 315.3,972.5 315.7,974.5 315.9,976.5 316.2,978.5 316.5,980.5 316.7,982.5 316.8,984.5 316.9,986.5 316.9,988.5 317,990.5 317.1,992.5 317.1,994.5 317.1,996.5 317.1,998.5 317.2,1000.5 317.2,1002.5 317.2,1004.5 317.2,1006.5 317.2,1008.5 317.2,1010.5 317.3,1012.5 317.3,1014.5 317.3,1016.5 317.3,1018.5 317.3,1020.5 317.3,1022.5 317.3,1024.5 317.3,1026.5 317.3,1028.5 317.3,1030.5 317.3,1031.7"/>
<polyline points="340,950.5 341.8,951.1 343.3,952.8 344.1,954.5 344.5,956.5 344.8,958.5 345.1,960.5 345.4,962.5 345.6,964.5 345.7,966.5 345.8,968.5 345.9,970.5 346,972.5 346,974.5 346.1,976.5 346.1,978.5 346.1,980.5 346.2,982.5 346.2,984.5 346.2,986.5 346.2,988.5 346.2,990.5 346.2,992.5 346.3,994.5 346.3,996.5 346.3,998.5 346.3,1000.5 346.3,1002.5 346.3,1004.5 346.3,1006.5 346.3,1008.5 346.3,1010.5 346.3,1012.5 346.3,1014.5 346.3,1016.5 346.3,1018.5 346.3,1020.4"/>
<polyline points="369.5,929.5 371.2,930.1 372.7,931.8 373.4,933.5 373.8,935.5 374.1,937.5 374.4,939.5 374.6,941.5 374.8,943.5 375,945.5 375.1,947.5 375.1,949.5 375.2,951.5 375.3,953.5 375.3,955.5 375.3,957.5 375.3,959.5 375.4,961.5 375.4,963.5 375.4,965.5 375.4,967.5 375.4,969.5 375.4,971.5 375.5,973.5 375.5,975.5 375.5,977.5 375.5,979.5 375.5,981.5 375.5,983.5 375.5,985.5 375.5,987.5 375.5,989.5 375.5,991.5 375.5,993.5 375.5,995.5 375.5,997.5 375.5,999.5 375.5,1001.5 375.5,1003.5 375.5,1005.3"/>
<polyline points="399.3,901.2 400.9,901.8 402.3,903.5 402.9,905.2 403.3,907.2 403.6,909.2 403.9,911.2 404.1,913.2 404.3,915.2 404.4,917.2 404.5,919.2 404.6,921.2 404.6,923.2 404.7,925.2 404.7,927.2 404.7,929.2 404.8,931.2 404.8,933.2 404.8,935.2 404.8,937.2 404.8,939.2 404.8,941.2 404.8,943.2 404.9,945.2 404.9,947.2 404.9,949.2 404.9,951.2 404.9,953.2 404.9,955.2 404.9,957.2 404.9,959.2 404.9,961.2 404.9,963.2 404.9,965.2 404.9,967.2 404.9,969.2 404.9,971.2 404.9,973.2 404.9,975.2 404.9,977.2 404.9,979.2 404.9,981.2 404.9,983.2 404.9,985.2 404.9,987.2 404.9,989.2 404.9,989.5"/>
<polyline points="430.5,870.5 432.2,871.5 433.2,873.6 433.7,875.5 433.9,877.5 434.1,879.5 434.3,881.5 434.5,883.5 434.6,885.5 434.7,887.5 434.8,889.5 434.8,891.5 434.9,893.5 434.9,895.5 435,897.5 435,899.5 435,901.5 435,903.5 435,905.5 435,907.5 435,909.5 435.1,911.5 435.1,913.5 435.1,915.5 435.1,917.5 435.1,919.5 435.1,921.5 435.1,923.5 435.1,925.5 435.1,927.5 435.1,929.5 435.1,931.5 435.1,933.5 435.1,935.5 435.1,937.5 435.1,939.5 435.1,941.5 435.1,943.5 435.1,945.5 435.1,947.5 435.1,949.5 435.1,951.5 435.1,953.5 435.1,955.5 435.1,957.5 435.1,959.5 435.1,961.5 435.1,963.5 435.1,965.5 435.1,967.5 435.1,969.5 435.1,971.5 435.1,973.5 435.1,974"/>
<polyline points="460.5,844 462.2,844.6 463.7,846.2 464.5,848 464.9,850 465.2,852 465.5,854 465.7,856 465.9,858 466,860 466.1,862 466.2,864 466.3,866 466.3,868 466.4,870 466.4,872 466.4,874 466.5,876 466.5,878 466.5,880 466.5,882 466.5,884 466.5,886 466.6,888 466.6,890 466.6,892 466.6,894 466.6,896 466.6,898 466.6,900 466.6,902 466.6,904 466.6,906 466.6,908 466.6,910 466.6,912 466.6,914 466.6,916 466.6,918 466.6,920 466.6,922 466.6,924 466.6,926 466.6,928 466.6,930 466.6,932 466.6,934 466.6,936 466.6,938 466.6,940 466.6,942 466.6,944 466.6,946 466.6,948 466.6,950 466.6,952 466.6,954 466.6,956 466.6,958"/>
<polyline points="490.5,825.5 492.6,826.1 493.8,827.1 494.9,828.6 495.6,830.5 496,832.5 496.3,834.5 496.6,836.5 496.9,838.5 497.1,840.5 497.2,842.5 497.4,844.5 497.4,846.5 497.5,848.5 497.6,850.5 497.6,852.5 497.6,854.5 497.7,856.5 497.7,858.5 497.7,860.5 497.7,862.5 497.8,864.5 497.8,866.5 497.8,868.5 497.8,870.5 497.8,872.5 497.8,874.5 497.8,876.5 497.8,878.5 497.8,880.5 497.8,882.5 497.8,884.5 497.9,886.5 497.9,888.5 497.9,890.5 497.9,892.5 497.9,894.5 497.9,896.5 497.9,898.5 497.9,900.5 497.9,902.5 497.9,904.5 497.9,906.5 497.9,908.5 497.9,910.5 497.9,912.5 497.9,914.5 497.9,916.5 497.9,918.5 497.9,920.5 497.9,922.5 497.9,924.5 497.9,926.5 497.9,928.5 497.9,930.5 497.9,932.5 497.9,934.5 497.9,936.5 497.9,938.5 497.9,940.5"/>
<polyline points="521.8,813 523.8,813.6 525.1,814.6 526.1,816.1 526.8,818 527.2,820 527.6,822 527.9,824 528.2,826 528.4,828 528.5,830 528.6,832 528.7,834 528.8,836 528.8,838 528.9,840 528.9,842 528.9,844 528.9,846 529,848 529,850 529,852 529,854 529,856 529.1,858 529.1,860 529.1,862 529.1,864 529.1,866 529.1,868 529.1,870 529.1,872 529.1,874 529.1,876 529.1,878 529.1,880 529.1,882 529.1,884 529.1,886 529.1,888 529.1,890 529.1,892 529.1,894 529.1,896 529.1,898 529.1,900 529.1,902 529.1,904 529.1,906 529.1,908 529.1,910 529.1,912 529.1,914 529.1,916 529.1,918 529.1,920 529.1,922 529.1,924 529.1,926 529.1,926.8"/>
<polyline points="553,805.5 554.6,805.8 556,806.5 557.3,807.8 558.3,809.5 558.8,811.5 559.2,813.5 559.6,815.5 559.9,817.5 560.2,819.5 560.4,821.5 560.5,823.5 560.6,825.5 560.7,827.5 560.8,829.5 560.8,831.5 560.9,833.5 560.9,835.5 560.9,837.5 560.9,839.5 561,841.5 561,843.5 561,845.5 561,847.5 561,849.5 561.1,851.5 561.1,853.5 561.1,855.5 561.1,857.5 561.1,859.5 561.1,861.5 561.1,863.5 561.1,865.5 561.1,867.5 561.1,869.5 561.1,871.5 561.1,873.5 561.1,875.5 561.1,877.5 561.1,879.5 561.1,881.5 561.1,883.5 561.1,885.5 561.1,887.5 561.1,889.5 561.1,891.5 561.1,893.5 561.1,895.5 561.1,897.5 561.1,899.5 561.1,901.5 561.1,903.5 561.1,905.5 561.1,907.5 561.1,909.5 561.1,911.5 561.1,913"/>
<polyline points="586,794.2 587.9,794.8 589.5,796.5 590.3,798.2 590.7,800.2 591.1,802.2 591.4,804.2 591.6,806.2 591.9,808.2 592,810.2 592.1,812.2 592.2,814.2 592.3,816.2 592.3,818.2 592.4,820.2 592.4,822.2 592.4,824.2 592.5,826.2 592.5,828.2 592.5,830.2 592.5,832.2 592.5,834.2 592.5,836.2 592.6,838.2 592.6,840.2 592.6,842.2 592.6,844.2 592.6,846.2 592.6,848.2 592.6,850.2 592.6,852.2 592.6,854.2 592.6,856.2 592.6,858.2 592.6,860.2 592.6,862.2 592.6,864.2 592.6,866.2 592.6,868.2 592.6,870.2 592.6,872.2 592.6,874.2 592.6,876.2 592.6,878.2 592.6,880.2 592.6,882.2 592.6,884.2 592.6,886.2 592.6,888.2 592.6,890.2 592.6,892.2 592.6,894.2 592.6,896.2 592.6,898.2 592.6,899"/>
<polyline points="618.8,779.5 620.3,780.1 621.6,781.8 622.2,783.5 622.6,785.5 622.8,787.5 623.1,789.5 623.3,791.5 623.5,793.5 623.6,795.5 623.7,797.5 623.8,799.5 623.8,801.5 623.9,803.5 623.9,805.5 623.9,807.5 624,809.5 624,811.5 624,813.5 624,815.5 624,817.5 624,819.5 624.1,821.5 624.1,823.5 624.1,825.5 624.1,827.5 624.1,829.5 624.1,831.5 624.1,833.5 624.1,835.5 624.1,837.5 624.1,839.5 624.1,841.5 624.1,843.5 624.1,845.5 624.1,847.5 624.1,849.5 624.1,851.5 624.1,853.5 624.1,855.5 624.1,857.5 624.1,859.5 624.1,861.5 624.1,863.5 624.1,865.5 624.1,867.5 624.1,869.5 624.1,871.5 624.1,873.5 624.1,875.5 624.1,877.5 624.1,879.5 624.1,881.5 624.1,883.5 624.1,885.5"/>
<polyline points="650,761.5 651.9,762.1 653.5,763.8 654.3,765.5 654.7,767.5 655.1,769.5 655.4,771.5 655.6,773.5 655.9,775.5 656,777.5 656.1,779.5 656.2,781.5 656.3,783.5 656.3,785.5 656.4,787.5 656.4,789.5 656.4,791.5 656.5,793.5 656.5,795.5 656.5,797.5 656.5,799.5 656.5,801.5 656.5,803.5 656.6,805.5 656.6,807.5 656.6,809.5 656.6,811.5 656.6,813.5 656.6,815.5 656.6,817.5 656.6,819.5 656.6,821.5 656.6,823.5 656.6,825.5 656.6,827.5 656.6,829.5 656.6,831.5 656.6,833.5 656.6,835.5 656.6,837.5 656.6,839.5 656.6,841.5 656.6,843.5 656.6,845.5 656.6,847.5 656.6,849.5 656.6,851.5 656.6,853.5 656.6,855.5 656.6,857.5 656.6,859.5 656.6,861.5 656.6,863.5 656.6,865.5 656.6,867.5 656.6,869.5 656.6,871"/>
<polyline points="681.5,743.5 683.4,744.1 685,745.8 685.8,747.5 686.2,749.5 686.6,751.5 686.9,753.5 687.1,755.5 687.4,757.5 687.5,759.5 687.6,761.5 687.7,763.5 687.8,765.5 687.8,767.5 687.9,769.5 687.9,771.5 687.9,773.5 688,775.5 688,777.5 688,779.5 688,781.5 688,783.5 688,785.5 688.1,787.5 688.1,789.5 688.1,791.5 688.1,793.5 688.1,795.5 688.1,797.5 688.1,799.5 688.1,801.5 688.1,803.5 688.1,805.5 688.1,807.5 688.1,809.5 688.1,811.5 688.1,813.5 688.1,815.5 688.1,817.5 688.1,819.5 688.1,821.5 688.1,823.5 688.1,825.5 688.1,827.5 688.1,829.5 688.1,831.5 688.1,833.5 688.1,835.5 688.1,837.5 688.1,839.5 688.1,841.5 688.1,843.5 688.1,845.5 688.1,847.5 688.1,849.5 688.1,851.5 688.1,853.5 688.1,855.5 688.1,856.2"/>
<polyline points="713.8,725.5 715.6,726.1 717.1,727.8 717.9,729.5 718.3,731.5 718.6,733.5 718.9,735.5 719.2,737.5 719.4,739.5 719.5,741.5 719.6,743.5 719.7,745.5 719.8,747.5 719.8,749.5 719.9,751.5 719.9,753.5 719.9,755.5 720,757.5 720,759.5 720,761.5 720,763.5 720,765.5 720,767.5 720.1,769.5 720.1,771.5 720.1,773.5 720.1,775.5 720.1,777.5 720.1,779.5 720.1,781.5 720.1,783.5 720.1,785.5 720.1,787.5 720.1,789.5 720.1,791.5 720.1,793.5 720.1,795.5 720.1,797.5 720.1,799.5 720.1,801.5 720.1,803.5 720.1,805.5 720.1,807.5 720.1,809.5 720.1,811.5 720.1,813.5 720.1,815.5 720.1,817.5 720.1,819.5 720.1,821.5 720.1,823.5 720.1,825.5 720.1,827.5 720.1,829.5 720.1,831.5 720.1,833.5 720.1,835.5 720.1,837.5 720.1,839.5 720.1,841.5 720.1,842"/>
<polyline points="747,706.8 748.5,707.3 749.7,709 750.3,710.8 750.7,712.8 750.9,714.8 751.1,716.8 751.4,718.8 751.5,720.8 751.6,722.8 751.7,724.8 751.8,726.8 751.8,728.8 751.9,730.8 751.9,732.8 751.9,734.8 752,736.8 752,738.8 752,740.8 752,742.8 752,744.8 752,746.8 752.1,748.8 752.1,750.8 752.1,752.8 752.1,754.8 752.1,756.8 752.1,758.8 752.1,760.8 752.1,762.8 752.1,764.8 752.1,766.8 752.1,768.8 752.1,770.8 752.1,772.8 752.1,774.8 752.1,776.8 752.1,778.8 752.1,780.8 752.1,782.8 752.1,784.8 752.1,786.8 752.1,788.8 752.1,790.8 752.1,792.8 752.1,794.8 752.1,796.8 752.1,798.8 752.1,800.8 752.1,802.8 752.1,804.8 752.1,806.8 752.1,808.8 752.1,810.8 752.1,812.8 752.1,814.8 752.1,816.8 752.1,818.8 752.1,820.8 752.1,822.8 752.1,824.8 752.1,826.2"/>
<polyline points="778.2,688 780,688.6 781.5,690.2 782.2,692 782.6,694 782.9,696 783.2,698 783.5,700 783.7,702 783.8,704 783.9,706 784,708 784,710 784.1,712 784.1,714 784.2,716 784.2,718 784.2,720 784.2,722 784.2,724 784.3,726 784.3,728 784.3,730 784.3,732 784.3,734 784.3,736 784.3,738 784.3,740 784.3,742 784.3,744 784.3,746 784.4,748 784.4,750 784.4,752 784.4,754 784.4,756 784.4,758 784.4,760 784.4,762 784.4,764 784.4,766 784.4,768 784.4,770 784.4,772 784.4,774 784.4,776 784.4,778 784.4,780 784.4,782 784.4,784 784.4,786 784.4,788 784.4,790 784.4,792 784.4,794 784.4,796 784.4,798 784.4,800 784.4,802 784.4,804 784.4,806 784.4,808 784.4,810 784.4,812 784.4,812.5"/>
<polyline points="810.8,668.5 812.4,669.1 813.8,670.8 814.5,672.5 814.9,674.5 815.2,676.5 815.5,678.5 815.8,680.5 815.9,682.5 816.1,684.5 816.2,686.5 816.2,688.5 816.3,690.5 816.4,692.5 816.4,694.5 816.4,696.5 816.4,698.5 816.5,700.5 816.5,702.5 816.5,704.5 816.5,706.5 816.5,708.5 816.5,710.5 816.6,712.5 816.6,714.5 816.6,716.5 816.6,718.5 816.6,720.5 816.6,722.5 816.6,724.5 816.6,726.5 816.6,728.5 816.6,730.5 816.6,732.5 816.6,734.5 816.6,736.5 816.6,738.5 816.6,740.5 816.6,742.5 816.6,744.5 816.6,746.5 816.6,748.5 816.6,750.5 816.6,752.5 816.6,754.5 816.6,756.5 816.6,758.5 816.6,760.5 816.6,762.5 816.6,764.5 816.6,766.5 816.6,768.5 816.6,770.5 816.6,772.5 816.6,774.5 816.6,776.5 816.6,778.5 816.6,780.5 816.6,782.5 816.6,784.5 816.6,786.5 816.6,788.5 816.6,790.5 816.6,792.5 816.6,794.5 816.6,796.5 816.6,798.5 816.6,798.8"/>
<polyline points="843.8,650 845.5,651 846.6,653.1 847.1,655 847.3,657 847.6,659 847.8,661 848,663 848.1,665 848.2,667 848.3,669 848.3,671 848.4,673 848.4,675 848.4,677 848.5,679 848.5,681 848.5,683 848.5,685 848.5,687 848.5,689 848.6,691 848.6,693 848.6,695 848.6,697 848.6,699 848.6,701 848.6,703 848.6,705 848.6,707 848.6,709 848.6,711 848.6,713 848.6,715 848.6,717 848.6,719 848.6,721 848.6,723 848.6,725 848.6,727 848.6,729 848.6,731 848.6,733 848.6,735 848.6,737 848.6,739 848.6,741 848.6,743 848.6,745 848.6,747 848.6,749 848.6,751 848.6,753 848.6,755 848.6,757 848.6,759 848.6,761 848.6,763 848.6,765 848.6,767 848.6,769 848.6,771 848.6,773 848.6,775 848.6,777 848.6,779 848.6,781 848.6,783 848.6,785"/>
<polyline points="875.5,630.5 877,631.1 878.2,632.8 878.8,634.5 879.2,636.5 879.4,638.5 879.6,640.5 879.9,642.5 880,644.5 880.1,646.5 880.2,648.5 880.3,650.5 880.3,652.5 880.4,654.5 880.4,656.5 880.4,658.5 880.5,660.5 880.5,662.5 880.5,664.5 880.5,666.5 880.5,668.5 880.5,670.5 880.6,672.5 880.6,674.5 880.6,676.5 880.6,678.5 880.6,680.5 880.6,682.5 880.6,684.5 880.6,686.5 880.6,688.5 880.6,690.5 880.6,692.5 880.6,694.5 880.6,696.5 880.6,698.5 880.6,700.5 880.6,702.5 880.6,704.5 880.6,706.5 880.6,708.5 880.6,710.5 880.6,712.5 880.6,714.5 880.6,716.5 880.6,718.5 880.6,720.5 880.6,722.5 880.6,724.5 880.6,726.5 880.6,728.5 880.6,730.5 880.6,732.5 880.6,734.5 880.6,736.5 880.6,738.5 880.6,740.5 880.6,742.5 880.6,744.5 880.6,746.5 880.6,748.5 880.6,750.5 880.6,752.5 880.6,754.5 880.6,756.5 880.6,758.5 880.6,760.5 880.6,762.5 880.6,764.5 880.6,766.5 880.6,768.5 880.6,770"/>
<polyline points="907,612 908.6,612.6 910,614.2 910.6,616 911,618 911.3,620 911.6,622 911.8,624 912,626 912.1,628 912.2,630 912.3,632 912.3,634 912.4,636 912.4,638 912.4,640 912.5,642 912.5,644 912.5,646 912.5,648 912.5,650 912.5,652 912.5,654 912.6,656 912.6,658 912.6,660 912.6,662 912.6,664 912.6,666 912.6,668 912.6,670 912.6,672 912.6,674 912.6,676 912.6,678 912.6,680 912.6,682 912.6,684 912.6,686 912.6,688 912.6,690 912.6,692 912.6,694 912.6,696 912.6,698 912.6,700 912.6,702 912.6,704 912.6,706 912.6,708 912.6,710 912.6,712 912.6,714 912.6,716 912.6,718 912.6,720 912.6,722 912.6,724 912.6,726 912.6,728 912.6,730 912.6,732 912.6,734 912.6,736 912.6,738 912.6,740 912.6,742 912.6,744 912.6,746 912.6,748 912.6,750 912.6,752 912.6,754 912.6,756 912.6,757.5"/>
<polyline points="939.2,592.5 940.8,593.1 942.1,594.8 942.7,596.5 943.1,598.5 943.3,600.5 943.6,602.5 943.8,604.5 944,606.5 944.1,608.5 944.2,610.5 944.3,612.5 944.3,614.5 944.4,616.5 944.4,618.5 944.4,620.5 944.5,622.5 944.5,624.5 944.5,626.5 944.5,628.5 944.5,630.5 944.5,632.5 944.6,634.5 944.6,636.5 944.6,638.5 944.6,640.5 944.6,642.5 944.6,644.5 944.6,646.5 944.6,648.5 944.6,650.5 944.6,652.5 944.6,654.5 944.6,656.5 944.6,658.5 944.6,660.5 944.6,662.5 944.6,664.5 944.6,666.5 944.6,668.5 944.6,670.5 944.6,672.5 944.6,674.5 944.6,676.5 944.6,678.5 944.6,680.5 944.6,682.5 944.6,684.5 944.6,686.5 944.6,688.5 944.6,690.5 944.6,692.5 944.6,694.5 944.6,696.5 944.6,698.5 944.6,700.5 944.6,702.5 944.6,704.5 944.6,706.5 944.6,708.5 944.6,710.5 944.6,712.5 944.6,714.5 944.6,716.5 944.6,718.5 944.6,720.5 944.6,722.5 944.6,724.5 944.6,726.5 944.6,728.5 944.6,730.5 944.6,732.5 944.6,734.5 944.6,736.5 944.6,738.5 944.6,740.5 944.6,742.5 944.6,743.8"/>
<polyline points="971.2,573 972.7,573.6 973.9,575.2 974.6,577 974.9,579 975.2,581 975.4,583 975.6,585 975.8,587 975.9,589 976,591 976,593 976.1,595 976.1,597 976.2,599 976.2,601 976.2,603 976.2,605 976.3,607 976.3,609 976.3,611 976.3,613 976.3,615 976.3,617 976.3,619 976.3,621 976.3,623 976.3,625 976.3,627 976.3,629 976.3,631 976.4,633 976.4,635 976.4,637 976.4,639 976.4,641 976.4,643 976.4,645 976.4,647 976.4,649 976.4,651 976.4,653 976.4,655 976.4,657 976.4,659 976.4,661 976.4,663 976.4,665 976.4,667 976.4,669 976.4,671 976.4,673 976.4,675 976.4,677 976.4,679 976.4,681 976.4,683 976.4,685 976.4,687 976.4,689 976.4,691 976.4,693 976.4,695 976.4,697 976.4,699 976.4,701 976.4,703 976.4,705 976.4,707 976.4,709 976.4,711 976.4,713 976.4,715 976.4,717 976.4,719 976.4,721 976.4,723 976.4,725 976.4,727 976.4,729 976.4,730"/>
<polyline points="1003.8,556.2 1005.4,557.2 1006.5,559.3 1006.9,561.2 1007.2,563.2 1007.4,565.2 1007.6,567.2 1007.8,569.2 1007.9,571.2 1008,573.2 1008,575.2 1008.1,577.2 1008.1,579.2 1008.2,581.2 1008.2,583.2 1008.2,585.2 1008.2,587.2 1008.3,589.2 1008.3,591.2 1008.3,593.2 1008.3,595.2 1008.3,597.2 1008.3,599.2 1008.3,601.2 1008.3,603.2 1008.3,605.2 1008.3,607.2 1008.3,609.2 1008.3,611.2 1008.3,613.2 1008.3,615.2 1008.4,617.2 1008.4,619.2 1008.4,621.2 1008.4,623.2 1008.4,625.2 1008.4,627.2 1008.4,629.2 1008.4,631.2 1008.4,633.2 1008.4,635.2 1008.4,637.2 1008.4,639.2 1008.4,641.2 1008.4,643.2 1008.4,645.2 1008.4,647.2 1008.4,649.2 1008.4,651.2 1008.4,653.2 1008.4,655.2 1008.4,657.2 1008.4,659.2 1008.4,661.2 1008.4,663.2 1008.4,665.2 1008.4,667.2 1008.4,669.2 1008.4,671.2 1008.4,673.2 1008.4,675.2 1008.4,677.2 1008.4,679.2 1008.4,681.2 1008.4,683.2 1008.4,685.2 1008.4,687.2 1008.4,689.2 1008.4,691.2 1008.4,693.2 1008.4,695.2 1008.4,697.2 1008.4,699.2 1008.4,701.2 1008.4,703.2 1008.4,705.2 1008.4,707.2 1008.4,709.2 1008.4,711.2 1008.4,713.2 1008.4,715.2 1008.4,717.2 1008.4,717.5"/>
<polyline points="1035,536.2 1036.5,536.8 1037.8,538.5 1038.5,540.2 1038.8,542.2 1039.1,544.2 1039.3,546.2 1039.6,548.2 1039.8,550.2 1039.9,552.2 1039.9,554.2 1040,556.2 1040.1,558.2 1040.1,560.2 1040.2,562.2 1040.2,564.2 1040.2,566.2 1040.2,568.2 1040.2,570.2 1040.3,572.2 1040.3,574.2 1040.3,576.2 1040.3,578.2 1040.3,580.2 1040.3,582.2 1040.3,584.2 1040.3,586.2 1040.3,588.2 1040.3,590.2 1040.3,592.2 1040.3,594.2 1040.3,596.2 1040.3,598.2 1040.3,600.2 1040.3,602.2 1040.3,604.2 1040.3,606.2 1040.3,608.2 1040.3,610.2 1040.3,612.2 1040.3,614.2 1040.3,616.2 1040.3,618.2 1040.3,620.2 1040.3,622.2 1040.3,624.2 1040.3,626.2 1040.3,628.2 1040.3,630.2 1040.3,632.2 1040.3,634.2 1040.3,636.2 1040.3,638.2 1040.3,640.2 1040.3,642.2 1040.3,644.2 1040.3,646.2 1040.3,648.2 1040.3,650.2 1040.3,652.2 1040.3,654.2 1040.3,656.2 1040.3,658.2 1040.3,660.2 1040.3,662.2 1040.3,664.2 1040.3,666.2 1040.3,668.2 1040.3,670.2 1040.3,672.2 1040.3,674.2 1040.3,676.2 1040.3,678.2 1040.3,680.2 1040.3,682.2 1040.3,684.2 1040.3,686.2 1040.3,688.2 1040.3,690.2 1040.3,692.2 1040.3,694.2 1040.3,696.2 1040.3,698.2 1040.3,700.2 1040.3,702.2 1040.3,704.2 1040.3,705"/>
<polyline points="1066.5,517.7 1068,518.3 1069.2,520 1069.8,521.7 1070.2,523.7 1070.4,525.7 1070.6,527.7 1070.9,529.7 1071,531.7 1071.1,533.7 1071.2,535.7 1071.3,537.7 1071.3,539.7 1071.4,541.7 1071.4,543.7 1071.4,545.7 1071.5,547.7 1071.5,549.7 1071.5,551.7 1071.5,553.7 1071.5,555.7 1071.5,557.7 1071.6,559.7 1071.6,561.7 1071.6,563.7 1071.6,565.7 1071.6,567.7 1071.6,569.7 1071.6,571.7 1071.6,573.7 1071.6,575.7 1071.6,577.7 1071.6,579.7 1071.6,581.7 1071.6,583.7 1071.6,585.7 1071.6,587.7 1071.6,589.7 1071.6,591.7 1071.6,593.7 1071.6,595.7 1071.6,597.7 1071.6,599.7 1071.6,601.7 1071.6,603.7 1071.6,605.7 1071.6,607.7 1071.6,609.7 1071.6,611.7 1071.6,613.7 1071.6,615.7 1071.6,617.7 1071.6,619.7 1071.6,621.7 1071.6,623.7 1071.6,625.7 1071.6,627.7 1071.6,629.7 1071.6,631.7 1071.6,633.7 1071.6,635.7 1071.6,637.7 1071.6,639.7 1071.6,641.7 1071.6,643.7 1071.6,645.7 1071.6,647.7 1071.6,649.7 1071.6,651.7 1071.6,653.7 1071.6,655.7 1071.6,657.7 1071.6,659.7 1071.6,661.7 1071.6,663.7 1071.6,665.7 1071.6,667.7 1071.6,669.7 1071.6,671.7 1071.6,673.7 1071.6,675.7 1071.6,677.7 1071.6,679.7 1071.6,681.7 1071.6,683.7 1071.6,685.7 1071.6,687.7 1071.6,689.7 1071.6,691.7 1071.6,693.7 1071.6,693.8"/>
<polyline points="1098,498.7 1099.6,499.3 1101,500.9 1101.6,502.7 1102,504.7 1102.3,506.7 1102.6,508.7 1102.8,510.7 1103,512.7 1103.1,514.7 1103.2,516.7 1103.3,518.7 1103.3,520.7 1103.4,522.7 1103.4,524.7 1103.4,526.7 1103.5,528.7 1103.5,530.7 1103.5,532.7 1103.5,534.7 1103.5,536.7 1103.5,538.7 1103.5,540.7 1103.6,542.7 1103.6,544.7 1103.6,546.7 1103.6,548.7 1103.6,550.7 1103.6,552.7 1103.6,554.7 1103.6,556.7 1103.6,558.7 1103.6,560.7 1103.6,562.7 1103.6,564.7 1103.6,566.7 1103.6,568.7 1103.6,570.7 1103.6,572.7 1103.6,574.7 1103.6,576.7 1103.6,578.7 1103.6,580.7 1103.6,582.7 1103.6,584.7 1103.6,586.7 1103.6,588.7 1103.6,590.7 1103.6,592.7 1103.6,594.7 1103.6,596.7 1103.6,598.7 1103.6,600.7 1103.6,602.7 1103.6,604.7 1103.6,606.7 1103.6,608.7 1103.6,610.7 1103.6,612.7 1103.6,614.7 1103.6,616.7 1103.6,618.7 1103.6,620.7 1103.6,622.7 1103.6,624.7 1103.6,626.7 1103.6,628.7 1103.6,630.7 1103.6,632.7 1103.6,634.7 1103.6,636.7 1103.6,638.7 1103.6,640.7 1103.6,642.7 1103.6,644.7 1103.6,646.7 1103.6,648.7 1103.6,650.7 1103.6,652.7 1103.6,654.7 1103.6,656.7 1103.6,658.7 1103.6,660.7 1103.6,662.7 1103.6,664.7 1103.6,666.7 1103.6,668.7 1103.6,670.7 1103.6,672.7 1103.6,674.7 1103.6,676.7 1103.6,678.7 1103.6,680"/>
<polyline points="1129.5,480.4 1131,481 1132.2,482.7 1132.8,484.4 1133.2,486.4 1133.4,488.4 1133.6,490.4 1133.9,492.4 1134,494.4 1134.1,496.4 1134.2,498.4 1134.3,500.4 1134.3,502.4 1134.4,504.4 1134.4,506.4 1134.4,508.4 1134.5,510.4 1134.5,512.5 1134.5,514.5 1134.5,516.5 1134.5,518.5 1134.5,520.5 1134.6,522.5 1134.6,524.5 1134.6,526.5 1134.6,528.5 1134.6,530.5 1134.6,532.5 1134.6,534.5 1134.6,536.5 1134.6,538.5 1134.6,540.5 1134.6,542.5 1134.6,544.5 1134.6,546.5 1134.6,548.5 1134.6,550.5 1134.6,552.5 1134.6,554.5 1134.6,556.5 1134.6,558.5 1134.6,560.5 1134.6,562.5 1134.6,564.5 1134.6,566.5 1134.6,568.5 1134.6,570.5 1134.6,572.5 1134.6,574.5 1134.6,576.5 1134.6,578.5 1134.6,580.5 1134.6,582.5 1134.6,584.5 1134.6,586.5 1134.6,588.5 1134.6,590.5 1134.6,592.5 1134.6,594.5 1134.6,596.5 1134.6,598.5 1134.6,600.5 1134.6,602.5 1134.6,604.5 1134.6,606.5 1134.6,608.5 1134.6,610.5 1134.6,612.5 1134.6,614.5 1134.6,616.5 1134.6,618.5 1134.6,620.5 1134.6,622.5 1134.6,624.5 1134.6,626.5 1134.6,628.5 1134.6,630.5 1134.6,632.5 1134.6,634.5 1134.6,636.5 1134.6,638.5 1134.6,640.5 1134.6,642.5 1134.6,644.5 1134.6,646.5 1134.6,648.5 1134.6,650.5 1134.6,652.5 1134.6,654.5 1134.6,656.5 1134.6,658.5 1134.6,660.5 1134.6,662.5 1134.6,664.5 1134.6,666.5 1134.6,667.5"/>
<polyline points="1160.5,461.7 1162.1,462.3 1163.5,463.9 1164.1,465.7 1164.5,467.7 1164.8,469.7 1165.1,471.7 1165.3,473.7 1165.5,475.7 1165.6,477.7 1165.7,479.7 1165.8,481.7 1165.8,483.7 1165.9,485.7 1165.9,487.7 1165.9,489.7 1166,491.7 1166,493.7 1166,495.7 1166,497.7 1166,499.7 1166,501.7 1166,503.7 1166.1,505.7 1166.1,507.7 1166.1,509.7 1166.1,511.7 1166.1,513.7 1166.1,515.7 1166.1,517.7 1166.1,519.7 1166.1,521.7 1166.1,523.7 1166.1,525.7 1166.1,527.7 1166.1,529.7 1166.1,531.7 1166.1,533.7 1166.1,535.7 1166.1,537.7 1166.1,539.7 1166.1,541.7 1166.1,543.7 1166.1,545.7 1166.1,547.7 1166.1,549.7 1166.1,551.7 1166.1,553.7 1166.1,555.7 1166.1,557.7 1166.1,559.7 1166.1,561.7 1166.1,563.7 1166.1,565.7 1166.1,567.7 1166.1,569.7 1166.1,571.7 1166.1,573.7 1166.1,575.7 1166.1,577.7 1166.1,579.7 1166.1,581.7 1166.1,583.7 1166.1,585.7 1166.1,587.7 1166.1,589.7 1166.1,591.7 1166.1,593.7 1166.1,595.7 1166.1,597.7 1166.1,599.7 1166.1,601.7 1166.1,603.7 1166.1,605.7 1166.1,607.7 1166.1,609.7 1166.1,611.7 1166.1,613.7 1166.1,615.7 1166.1,617.7 1166.1,619.7 1166.1,621.7 1166.1,623.7 1166.1,625.7 1166.1,627.7 1166.1,629.7 1166.1,631.7 1166.1,633.7 1166.1,635.7 1166.1,637.7 1166.1,639.7 1166.1,641.7 1166.1,643.7 1166.1,645.7 1166.1,647.7 1166.1,649.7 1166.1,651.7 1166.1,653.7 1166.1,655.7 1166.1,656.2"/>
<polyline points="1192,443.7 1193.5,444.3 1194.8,445.9 1195.5,447.7 1195.8,449.7 1196.1,451.7 1196.3,453.7 1196.6,455.7 1196.8,457.7 1196.9,459.7 1196.9,461.7 1197,463.7 1197.1,465.7 1197.1,467.7 1197.2,469.7 1197.2,471.7 1197.2,473.7 1197.2,475.7 1197.2,477.7 1197.3,479.7 1197.3,481.7 1197.3,483.7 1197.3,485.7 1197.3,487.7 1197.3,489.7 1197.3,491.7 1197.3,493.7 1197.3,495.7 1197.3,497.7 1197.3,499.7 1197.3,501.7 1197.3,503.7 1197.3,505.7 1197.3,507.7 1197.3,509.7 1197.3,511.7 1197.3,513.7 1197.3,515.7 1197.3,517.7 1197.3,519.7 1197.3,521.7 1197.3,523.7 1197.3,525.7 1197.3,527.7 1197.3,529.7 1197.3,531.7 1197.3,533.7 1197.3,535.7 1197.3,537.7 1197.3,539.7 1197.3,541.7 1197.3,543.7 1197.3,545.7 1197.3,547.7 1197.3,549.7 1197.3,551.7 1197.3,553.7 1197.3,555.7 1197.3,557.7 1197.3,559.7 1197.3,561.7 1197.3,563.7 1197.3,565.7 1197.3,567.7 1197.3,569.7 1197.3,571.7 1197.3,573.7 1197.3,575.7 1197.3,577.7 1197.3,579.7 1197.3,581.7 1197.3,583.7 1197.3,585.7 1197.3,587.7 1197.3,589.7 1197.3,591.7 1197.3,593.7 1197.3,595.7 1197.3,597.7 1197.3,599.7 1197.3,601.7 1197.3,603.7 1197.3,605.7 1197.3,607.7 1197.3,609.7 1197.3,611.7 1197.3,613.7 1197.3,615.7 1197.3,617.7 1197.3,619.7 1197.3,621.7 1197.3,623.7 1197.3,625.7 1197.3,627.7 1197.3,629.7 1197.3,631.7 1197.3,633.7 1197.3,635.7 1197.3,637.7 1197.3,639.7 1197.3,641.7 1197.3,643.7 1197.3,643.8"/>
<polyline points="1223,425.4 1224.5,426 1225.7,427.7 1226.3,429.4 1226.7,431.4 1226.9,433.4 1227.1,435.4 1227.4,437.4 1227.5,439.4 1227.6,441.4 1227.7,443.4 1227.8,445.4 1227.8,447.4 1227.9,449.4 1227.9,451.4 1227.9,453.4 1228,455.4 1228,457.4 1228,459.4 1228,461.4 1228,463.4 1228,465.4 1228.1,467.4 1228.1,469.4 1228.1,471.4 1228.1,473.4 1228.1,475.4 1228.1,477.4 1228.1,479.4 1228.1,481.4 1228.1,483.4 1228.1,485.4 1228.1,487.4 1228.1,489.4 1228.1,491.4 1228.1,493.4 1228.1,495.4 1228.1,497.4 1228.1,499.4 1228.1,501.4 1228.1,503.4 1228.1,505.4 1228.1,507.4 1228.1,509.4 1228.1,511.4 1228.1,513.5 1228.1,515.5 1228.1,517.5 1228.1,519.5 1228.1,521.5 1228.1,523.5 1228.1,525.5 1228.1,527.5 1228.1,529.5 1228.1,531.5 1228.1,533.5 1228.1,535.5 1228.1,537.5 1228.1,539.5 1228.1,541.5 1228.1,543.5 1228.1,545.5 1228.1,547.5 1228.1,549.5 1228.1,551.5 1228.1,553.5 1228.1,555.5 1228.1,557.5 1228.1,559.5 1228.1,561.5 1228.1,563.5 1228.1,565.5 1228.1,567.5 1228.1,569.5 1228.1,571.5 1228.1,573.5 1228.1,575.5 1228.1,577.5 1228.1,579.5 1228.1,581.5 1228.1,583.5 1228.1,585.5 1228.1,587.5 1228.1,589.5 1228.1,591.5 1228.1,593.5 1228.1,595.5 1228.1,597.5 1228.1,599.5 1228.1,601.5 1228.1,603.5 1228.1,605.5 1228.1,607.5 1228.1,609.5 1228.1,611.5 1228.1,613.5 1228.1,615.5 1228.1,617.5 1228.1,619.5 1228.1,621.5 1228.1,623.5 1228.1,625.5 1228.1,627.5 1228.1,629.5 1228.1,631.5 1228.1,632.5"/>
<polyline points="1253.2,407.4 1254.8,408 1256.1,409.7 1256.7,411.4 1257.1,413.4 1257.3,415.4 1257.6,417.4 1257.8,419.4 1258,421.4 1258.1,423.4 1258.2,425.4 1258.3,427.4 1258.3,429.4 1258.4,431.4 1258.4,433.4 1258.4,435.4 1258.5,437.4 1258.5,439.4 1258.5,441.4 1258.5,443.4 1258.5,445.4 1258.5,447.4 1258.6,449.4 1258.6,451.4 1258.6,453.4 1258.6,455.4 1258.6,457.4 1258.6,459.4 1258.6,461.4 1258.6,463.4 1258.6,465.4 1258.6,467.4 1258.6,469.4 1258.6,471.4 1258.6,473.4 1258.6,475.4 1258.6,477.4 1258.6,479.4 1258.6,481.4 1258.6,483.4 1258.6,485.4 1258.6,487.4 1258.6,489.4 1258.6,491.4 1258.6,493.4 1258.6,495.4 1258.6,497.4 1258.6,499.4 1258.6,501.4 1258.6,503.4 1258.6,505.4 1258.6,507.4 1258.6,509.4 1258.6,511.4 1258.6,513.5 1258.6,515.5 1258.6,517.5 1258.6,519.5 1258.6,521.5 1258.6,523.5 1258.6,525.5 1258.6,527.5 1258.6,529.5 1258.6,531.5 1258.6,533.5 1258.6,535.5 1258.6,537.5 1258.6,539.5 1258.6,541.5 1258.6,543.5 1258.6,545.5 1258.6,547.5 1258.6,549.5 1258.6,551.5 1258.6,553.5 1258.6,555.5 1258.6,557.5 1258.6,559.5 1258.6,561.5 1258.6,563.5 1258.6,565.5 1258.6,567.5 1258.6,569.5 1258.6,571.5 1258.6,573.5 1258.6,575.5 1258.6,577.5 1258.6,579.5 1258.6,581.5 1258.6,583.5 1258.6,585.5 1258.6,587.5 1258.6,589.5 1258.6,591.5 1258.6,593.5 1258.6,595.5 1258.6,597.5 1258.6,599.5 1258.6,601.5 1258.6,603.5 1258.6,605.5 1258.6,607.5 1258.6,609.5 1258.6,611.5 1258.6,613.5 1258.6,615.5 1258.6,617.5 1258.6,619.5 1258.6,621.5 1258.6,621.6"/>
<polyline points="1284.2,388.8 1285.8,389.3 1287.1,391 1287.7,392.8 1288.1,394.8 1288.3,396.8 1288.6,398.8 1288.8,400.8 1289,402.8 1289.1,404.8 1289.2,406.8 1289.3,408.8 1289.3,410.8 1289.4,412.8 1289.4,414.8 1289.4,416.8 1289.5,418.8 1289.5,420.8 1289.5,422.8 1289.5,424.8 1289.5,426.8 1289.5,428.8 1289.6,430.8 1289.6,432.8 1289.6,434.8 1289.6,436.8 1289.6,438.8 1289.6,440.8 1289.6,442.8 1289.6,444.8 1289.6,446.8 1289.6,448.8 1289.6,450.8 1289.6,452.8 1289.6,454.8 1289.6,456.8 1289.6,458.8 1289.6,460.8 1289.6,462.8 1289.6,464.8 1289.6,466.8 1289.6,468.8 1289.6,470.8 1289.6,472.8 1289.6,474.8 1289.6,476.8 1289.6,478.8 1289.6,480.8 1289.6,482.8 1289.6,484.8 1289.6,486.8 1289.6,488.8 1289.6,490.8 1289.6,492.8 1289.6,494.8 1289.6,496.8 1289.6,498.8 1289.6,500.8 1289.6,502.8 1289.6,504.8 1289.6,506.8 1289.6,508.8 1289.6,510.8 1289.6,512.8 1289.6,514.8 1289.6,516.8 1289.6,518.8 1289.6,520.8 1289.6,522.8 1289.6,524.8 1289.6,526.8 1289.6,528.8 1289.6,530.8 1289.6,532.8 1289.6,534.8 1289.6,536.8 1289.6,538.8 1289.6,540.8 1289.6,542.8 1289.6,544.8 1289.6,546.8 1289.6,548.8 1289.6,550.8 1289.6,552.8 1289.6,554.8 1289.6,556.8 1289.6,558.8 1289.6,560.8 1289.6,562.8 1289.6,564.8 1289.6,566.8 1289.6,568.8 1289.6,570.8 1289.6,572.8 1289.6,574.8 1289.6,576.8 1289.6,578.8 1289.6,580.8 1289.6,582.8 1289.6,584.8 1289.6,586.8 1289.6,588.8 1289.6,590.8 1289.6,592.8 1289.6,594.8 1289.6,596.8 1289.6,598.8 1289.6,600.8 1289.6,602.8 1289.6,604.8 1289.6,606.8 1289.6,608.8 1289.6,610"/>
<polyline points="1315,370.5 1316.7,371.5 1317.7,373.6 1318.1,375.5 1318.3,377.5 1318.5,379.5 1318.7,381.5 1318.9,383.5 1319,385.5 1319.1,387.5 1319.2,389.5 1319.2,391.5 1319.3,393.5 1319.3,395.5 1319.3,397.5 1319.3,399.5 1319.4,401.5 1319.4,403.5 1319.4,405.5 1319.4,407.5 1319.4,409.5 1319.4,411.5 1319.4,413.5 1319.4,415.5 1319.4,417.5 1319.5,419.5 1319.5,421.5 1319.5,423.5 1319.5,425.5 1319.5,427.5 1319.5,429.5 1319.5,431.5 1319.5,433.5 1319.5,435.5 1319.5,437.5 1319.5,439.5 1319.5,441.5 1319.5,443.5 1319.5,445.5 1319.5,447.5 1319.5,449.5 1319.5,451.5 1319.5,453.5 1319.5,455.5 1319.5,457.5 1319.5,459.5 1319.5,461.5 1319.5,463.5 1319.5,465.5 1319.5,467.5 1319.5,469.5 1319.5,471.5 1319.5,473.5 1319.5,475.5 1319.5,477.5 1319.5,479.5 1319.5,481.5 1319.5,483.5 1319.5,485.5 1319.5,487.5 1319.5,489.5 1319.5,491.5 1319.5,493.5 1319.5,495.5 1319.5,497.5 1319.5,499.5 1319.5,501.5 1319.5,503.5 1319.5,505.5 1319.5,507.5 1319.5,509.5 1319.5,511.5 1319.5,513.5 1319.5,515.5 1319.5,517.5 1319.5,519.5 1319.5,521.5 1319.5,523.5 1319.5,525.5 1319.5,527.5 1319.5,529.5 1319.5,531.5 1319.5,533.5 1319.5,535.5 1319.5,537.5 1319.5,539.5 1319.5,541.5 1319.5,543.5 1319.5,545.5 1319.5,547.5 1319.5,549.5 1319.5,551.5 1319.5,553.5 1319.5,555.5 1319.5,557.5 1319.5,559.5 1319.5,561.5 1319.5,563.5 1319.5,565.5 1319.5,567.5 1319.5,569.5 1319.5,571.5 1319.5,573.5 1319.5,575.5 1319.5,577.5 1319.5,579.5 1319.5,581.5 1319.5,583.5 1319.5,585.5 1319.5,587.5 1319.5,589.5 1319.5,591.5 1319.5,593.5 1319.5,595.5 1319.5,597.5 1319.5,598"/>
<polyline points="1345.5,351.8 1347.3,352.8 1348.4,354.8 1348.8,356.8 1349.1,358.8 1349.3,360.8 1349.5,362.8 1349.7,364.8 1349.9,366.8 1349.9,368.8 1350,370.8 1350.1,372.8 1350.1,374.8 1350.2,376.8 1350.2,378.8 1350.2,380.8 1350.2,382.8 1350.2,384.8 1350.3,386.8 1350.3,388.8 1350.3,390.8 1350.3,392.8 1350.3,394.8 1350.3,396.8 1350.3,398.8 1350.3,400.8 1350.3,402.8 1350.3,404.8 1350.3,406.8 1350.3,408.8 1350.3,410.8 1350.3,412.8 1350.3,414.8 1350.3,416.8 1350.3,418.8 1350.3,420.8 1350.3,422.8 1350.3,424.8 1350.3,426.8 1350.3,428.8 1350.3,430.8 1350.3,432.8 1350.3,434.8 1350.3,436.8 1350.3,438.8 1350.3,440.8 1350.3,442.8 1350.3,444.8 1350.3,446.8 1350.3,448.8 1350.3,450.8 1350.3,452.8 1350.3,454.8 1350.3,456.8 1350.3,458.8 1350.3,460.8 1350.3,462.8 1350.3,464.8 1350.3,466.8 1350.3,468.8 1350.3,470.8 1350.3,472.8 1350.3,474.8 1350.3,476.8 1350.3,478.8 1350.3,480.8 1350.3,482.8 1350.3,484.8 1350.3,486.8 1350.3,488.8 1350.3,490.8 1350.3,492.8 1350.3,494.8 1350.3,496.8 1350.3,498.8 1350.3,500.8 1350.3,502.8 1350.3,504.8 1350.3,506.8 1350.3,508.8 1350.3,510.8 1350.3,512.8 1350.3,514.8 1350.3,516.8 1350.3,518.8 1350.3,520.8 1350.3,522.8 1350.3,524.8 1350.3,526.8 1350.3,528.8 1350.3,530.8 1350.3,532.8 1350.3,534.8 1350.3,536.8 1350.3,538.8 1350.3,540.8 1350.3,542.8 1350.3,544.8 1350.3,546.8 1350.3,548.8 1350.3,550.8 1350.3,552.8 1350.3,554.8 1350.3,556.8 1350.3,558.8 1350.3,560.8 1350.3,562.8 1350.3,564.8 1350.3,566.8 1350.3,568.8 1350.3,570.8 1350.3,572.8 1350.3,574.8 1350.3,576.8 1350.3,578.8 1350.3,580.8 1350.3,582.8 1350.3,584.8 1350.3,586"/>
<polyline points="1375.8,333.5 1377.2,334.1 1378.4,335.8 1379,337.5 1379.3,339.5 1379.5,341.5 1379.8,343.5 1380,345.5 1380.2,347.5 1380.3,349.5 1380.3,351.5 1380.4,353.5 1380.5,355.5 1380.5,357.5 1380.5,359.5 1380.6,361.5 1380.6,363.5 1380.6,365.5 1380.6,367.5 1380.6,369.5 1380.6,371.5 1380.7,373.5 1380.7,375.5 1380.7,377.5 1380.7,379.5 1380.7,381.5 1380.7,383.5 1380.7,385.5 1380.7,387.5 1380.7,389.5 1380.7,391.5 1380.7,393.5 1380.7,395.5 1380.7,397.5 1380.7,399.5 1380.7,401.5 1380.7,403.5 1380.7,405.5 1380.7,407.5 1380.7,409.5 1380.7,411.5 1380.7,413.5 1380.7,415.5 1380.7,417.5 1380.7,419.5 1380.7,421.5 1380.7,423.5 1380.7,425.5 1380.7,427.5 1380.7,429.5 1380.7,431.5 1380.7,433.5 1380.7,435.5 1380.7,437.5 1380.7,439.5 1380.7,441.5 1380.7,443.5 1380.7,445.5 1380.7,447.5 1380.7,449.5 1380.7,451.5 1380.7,453.5 1380.7,455.5 1380.7,457.5 1380.7,459.5 1380.7,461.5 1380.7,463.5 1380.7,465.5 1380.7,467.5 1380.7,469.5 1380.7,471.5 1380.7,473.5 1380.7,475.5 1380.7,477.5 1380.7,479.5 1380.7,481.5 1380.7,483.5 1380.7,485.5 1380.7,487.5 1380.7,489.5 1380.7,491.5 1380.7,493.5 1380.7,495.5 1380.7,497.5 1380.7,499.5 1380.7,501.5 1380.7,503.5 1380.7,505.5 1380.7,507.5 1380.7,509.5 1380.7,511.5 1380.7,513.5 1380.7,515.5 1380.7,517.5 1380.7,519.5 1380.7,521.5 1380.7,523.5 1380.7,525.5 1380.7,527.5 1380.7,529.5 1380.7,531.5 1380.7,533.5 1380.7,535.5 1380.7,537.5 1380.7,539.5 1380.7,541.5 1380.7,543.5 1380.7,545.5 1380.7,547.5 1380.7,549.5 1380.7,551.5 1380.7,553.5 1380.7,555.5 1380.7,557.5 1380.7,559.5 1380.7,561.5 1380.7,563.5 1380.7,565.5 1380.7,567.5 1380.7,569.5 1380.7,571.5 1380.7,573.5 1380.7,574"/>
<polyline points="1405.5,315.5 1407.3,316.5 1408.4,318.6 1408.8,320.5 1409.1,322.5 1409.3,324.5 1409.5,326.5 1409.7,328.5 1409.8,330.5 1409.9,332.5 1410,334.5 1410.1,336.5 1410.1,338.5 1410.1,340.5 1410.2,342.5 1410.2,344.5 1410.2,346.5 1410.2,348.5 1410.2,350.5 1410.3,352.5 1410.3,354.5 1410.3,356.5 1410.3,358.5 1410.3,360.5 1410.3,362.5 1410.3,364.5 1410.3,366.5 1410.3,368.5 1410.3,370.5 1410.3,372.5 1410.3,374.5 1410.3,376.5 1410.3,378.5 1410.3,380.5 1410.3,382.5 1410.3,384.5 1410.3,386.5 1410.3,388.5 1410.3,390.5 1410.3,392.5 1410.3,394.5 1410.3,396.5 1410.3,398.5 1410.3,400.5 1410.3,402.5 1410.3,404.5 1410.3,406.5 1410.3,408.5 1410.3,410.5 1410.3,412.5 1410.3,414.5 1410.3,416.5 1410.3,418.5 1410.3,420.5 1410.3,422.5 1410.3,424.5 1410.3,426.5 1410.3,428.5 1410.3,430.5 1410.3,432.5 1410.3,434.5 1410.3,436.5 1410.3,438.5 1410.3,440.5 1410.3,442.5 1410.3,444.5 1410.3,446.5 1410.3,448.5 1410.3,450.5 1410.3,452.5 1410.3,454.5 1410.3,456.5 1410.3,458.5 1410.3,460.5 1410.3,462.5 1410.3,464.5 1410.3,466.5 1410.3,468.5 1410.3,470.5 1410.3,472.5 1410.3,474.5 1410.3,476.5 1410.3,478.5 1410.3,480.5 1410.3,482.5 1410.3,484.5 1410.3,486.5 1410.3,488.5 1410.3,490.5 1410.3,492.5 1410.3,494.5 1410.3,496.5 1410.3,498.5 1410.3,500.5 1410.3,502.5 1410.3,504.5 1410.3,506.5 1410.3,508.5 1410.3,510.5 1410.3,512.5 1410.3,514.5 1410.3,516.5 1410.3,518.5 1410.3,520.5 1410.3,522.5 1410.3,524.5 1410.3,526.5 1410.3,528.5 1410.3,530.5 1410.3,532.5 1410.3,534.5 1410.3,536.5 1410.3,538.5 1410.3,540.5 1410.3,542.5 1410.3,544.5 1410.3,546.5 1410.3,548.5 1410.3,550.5 1410.3,552.5 1410.3,554.5 1410.3,556.5 1410.3,558.5 1410.3,560.5 1410.3,562"/>
<polyline points="1435.5,296.8 1437.2,297.8 1438.3,299.8 1438.7,301.8 1439,303.8 1439.2,305.8 1439.4,307.8 1439.6,309.8 1439.7,311.8 1439.8,313.8 1439.9,315.8 1439.9,317.8 1440,319.8 1440,321.8 1440,323.8 1440.1,325.8 1440.1,327.8 1440.1,329.8 1440.1,331.8 1440.1,333.8 1440.1,335.8 1440.2,337.8 1440.2,339.8 1440.2,341.8 1440.2,343.8 1440.2,345.8 1440.2,347.8 1440.2,349.8 1440.2,351.8 1440.2,353.8 1440.2,355.8 1440.2,357.8 1440.2,359.8 1440.2,361.8 1440.2,363.8 1440.2,365.8 1440.2,367.8 1440.2,369.8 1440.2,371.8 1440.2,373.8 1440.2,375.8 1440.2,377.8 1440.2,379.8 1440.2,381.8 1440.2,383.8 1440.2,385.8 1440.2,387.8 1440.2,389.8 1440.2,391.8 1440.2,393.8 1440.2,395.8 1440.2,397.8 1440.2,399.8 1440.2,401.8 1440.2,403.8 1440.2,405.8 1440.2,407.8 1440.2,409.8 1440.2,411.8 1440.2,413.8 1440.2,415.8 1440.2,417.8 1440.2,419.8 1440.2,421.8 1440.2,423.8 1440.2,425.8 1440.2,427.8 1440.2,429.8 1440.2,431.8 1440.2,433.8 1440.2,435.8 1440.2,437.8 1440.2,439.8 1440.2,441.8 1440.2,443.8 1440.2,445.8 1440.2,447.8 1440.2,449.8 1440.2,451.8 1440.2,453.8 1440.2,455.8 1440.2,457.8 1440.2,459.8 1440.2,461.8 1440.2,463.8 1440.2,465.8 1440.2,467.8 1440.2,469.8 1440.2,471.8 1440.2,473.8 1440.2,475.8 1440.2,477.8 1440.2,479.8 1440.2,481.8 1440.2,483.8 1440.2,485.8 1440.2,487.8 1440.2,489.8 1440.2,491.8 1440.2,493.8 1440.2,495.8 1440.2,497.8 1440.2,499.8 1440.2,501.8 1440.2,503.8 1440.2,505.8 1440.2,507.8 1440.2,509.8 1440.2,511.8 1440.2,513.8 1440.2,515.8 1440.2,517.8 1440.2,519.8 1440.2,521.8 1440.2,523.8 1440.2,525.8 1440.2,527.8 1440.2,529.8 1440.2,531.8 1440.2,533.8 1440.2,535.8 1440.2,537.8 1440.2,539.8 1440.2,541.8 1440.2,543.8 1440.2,545.8 1440.2,547.8 1440.2,549"/>
<polyline points="1465,278.5 1466.4,279.1 1467.6,280.8 1468.2,282.5 1468.5,284.5 1468.8,286.5 1469,288.5 1469.2,290.5 1469.4,292.5 1469.5,294.5 1469.6,296.5 1469.6,298.5 1469.7,300.5 1469.7,302.5 1469.8,304.5 1469.8,306.5 1469.8,308.5 1469.8,310.5 1469.9,312.5 1469.9,314.5 1469.9,316.5 1469.9,318.5 1469.9,320.5 1469.9,322.5 1469.9,324.5 1469.9,326.5 1469.9,328.5 1469.9,330.5 1469.9,332.5 1469.9,334.5 1469.9,336.5 1470,338.5 1470,340.5 1470,342.5 1470,344.5 1470,346.5 1470,348.5 1470,350.5 1470,352.5 1470,354.5 1470,356.5 1470,358.5 1470,360.5 1470,362.5 1470,364.5 1470,366.5 1470,368.5 1470,370.5 1470,372.5 1470,374.5 1470,376.5 1470,378.5 1470,380.5 1470,382.5 1470,384.5 1470,386.5 1470,388.5 1470,390.5 1470,392.5 1470,394.5 1470,396.5 1470,398.5 1470,400.5 1470,402.5 1470,404.5 1470,406.5 1470,408.5 1470,410.5 1470,412.5 1470,414.5 1470,416.5 1470,418.5 1470,420.5 1470,422.5 1470,424.5 1470,426.5 1470,428.5 1470,430.5 1470,432.5 1470,434.5 1470,436.5 1470,438.5 1470,440.5 1470,442.5 1470,444.5 1470,446.5 1470,448.5 1470,450.5 1470,452.5 1470,454.5 1470,456.5 1470,458.5 1470,460.5 1470,462.5 1470,464.5 1470,466.5 1470,468.5 1470,470.5 1470,472.5 1470,474.5 1470,476.5 1470,478.5 1470,480.5 1470,482.5 1470,484.5 1470,486.5 1470,488.5 1470,490.5 1470,492.5 1470,494.5 1470,496.5 1470,498.5 1470,500.5 1470,502.5 1470,504.5 1470,506.5 1470,508.5 1470,510.5 1470,512.5 1470,514.5 1470,516.5 1470,518.5 1470,520.5 1470,522.5 1470,524.5 1470,526.5 1470,528.5 1470,530.5 1470,532.5 1470,534.5 1470,536.5 1470,537"/>
<polyline points="1494.2,260.5 1495.7,261.1 1496.9,262.8 1497.5,264.5 1497.8,266.5 1498,268.5 1498.3,270.5 1498.5,272.5 1498.6,274.5 1498.7,276.5 1498.8,278.5 1498.9,280.5 1499,282.5 1499,284.5 1499,286.5 1499.1,288.5 1499.1,290.5 1499.1,292.5 1499.1,294.5 1499.1,296.5 1499.1,298.5 1499.1,300.5 1499.2,302.5 1499.2,304.5 1499.2,306.5 1499.2,308.5 1499.2,310.5 1499.2,312.5 1499.2,314.5 1499.2,316.5 1499.2,318.5 1499.2,320.5 1499.2,322.5 1499.2,324.5 1499.2,326.5 1499.2,328.5 1499.2,330.5 1499.2,332.5 1499.2,334.5 1499.2,336.5 1499.2,338.5 1499.2,340.5 1499.2,342.5 1499.2,344.5 1499.2,346.5 1499.2,348.5 1499.2,350.5 1499.2,352.5 1499.2,354.5 1499.2,356.5 1499.2,358.5 1499.2,360.5 1499.2,362.5 1499.2,364.5 1499.2,366.5 1499.2,368.5 1499.2,370.5 1499.2,372.5 1499.2,374.5 1499.2,376.5 1499.2,378.5 1499.2,380.5 1499.2,382.5 1499.2,384.5 1499.2,386.5 1499.2,388.5 1499.2,390.5 1499.2,392.5 1499.2,394.5 1499.2,396.5 1499.2,398.5 1499.2,400.5 1499.2,402.5 1499.2,404.5 1499.2,406.5 1499.2,408.5 1499.2,410.5 1499.2,412.5 1499.2,414.5 1499.2,416.5 1499.2,418.5 1499.2,420.5 1499.2,422.5 1499.2,424.5 1499.2,426.5 1499.2,428.5 1499.2,430.5 1499.2,432.5 1499.2,434.5 1499.2,436.5 1499.2,438.5 1499.2,440.5 1499.2,442.5 1499.2,444.5 1499.2,446.5 1499.2,448.5 1499.2,450.5 1499.2,452.5 1499.2,454.5 1499.2,456.5 1499.2,458.5 1499.2,460.5 1499.2,462.5 1499.2,464.5 1499.2,466.5 1499.2,468.5 1499.2,470.5 1499.2,472.5 1499.2,474.5 1499.2,476.5 1499.2,478.5 1499.2,480.5 1499.2,482.5 1499.2,484.5 1499.2,486.5 1499.2,488.5 1499.2,490.5 1499.2,492.5 1499.2,494.5 1499.2,496.5 1499.2,498.5 1499.2,500.5 1499.2,502.5 1499.2,504.5 1499.2,506.5 1499.2,508.5 1499.2,510.5 1499.2,512.5 1499.2,514.5 1499.2,516.5 1499.2,518.5 1499.2,520.5 1499.2,522.5 1499.2,524"/>
<polyline points="1523.8,242.2 1525.4,243.2 1526.4,245.3 1526.8,247.2 1527.1,249.2 1527.3,251.2 1527.5,253.2 1527.6,255.2 1527.8,257.2 1527.8,259.2 1527.9,261.2 1528,263.2 1528,265.2 1528,267.2 1528.1,269.2 1528.1,271.2 1528.1,273.2 1528.1,275.2 1528.1,277.2 1528.1,279.2 1528.1,281.2 1528.2,283.2 1528.2,285.2 1528.2,287.2 1528.2,289.2 1528.2,291.2 1528.2,293.2 1528.2,295.2 1528.2,297.2 1528.2,299.2 1528.2,301.2 1528.2,303.2 1528.2,305.2 1528.2,307.2 1528.2,309.2 1528.2,311.2 1528.2,313.2 1528.2,315.2 1528.2,317.2 1528.2,319.2 1528.2,321.2 1528.2,323.2 1528.2,325.2 1528.2,327.2 1528.2,329.2 1528.2,331.2 1528.2,333.2 1528.2,335.2 1528.2,337.2 1528.2,339.2 1528.2,341.2 1528.2,343.2 1528.2,345.2 1528.2,347.2 1528.2,349.2 1528.2,351.2 1528.2,353.2 1528.2,355.2 1528.2,357.2 1528.2,359.2 1528.2,361.2 1528.2,363.2 1528.2,365.2 1528.2,367.2 1528.2,369.2 1528.2,371.2 1528.2,373.2 1528.2,375.2 1528.2,377.2 1528.2,379.2 1528.2,381.2 1528.2,383.2 1528.2,385.2 1528.2,387.2 1528.2,389.2 1528.2,391.2 1528.2,393.2 1528.2,395.2 1528.2,397.2 1528.2,399.2 1528.2,401.2 1528.2,403.2 1528.2,405.2 1528.2,407.2 1528.2,409.2 1528.2,411.2 1528.2,413.2 1528.2,415.2 1528.2,417.2 1528.2,419.2 1528.2,421.2 1528.2,423.2 1528.2,425.2 1528.2,427.2 1528.2,429.2 1528.2,431.2 1528.2,433.2 1528.2,435.2 1528.2,437.2 1528.2,439.2 1528.2,441.2 1528.2,443.2 1528.2,445.2 1528.2,447.2 1528.2,449.2 1528.2,451.2 1528.2,453.2 1528.2,455.2 1528.2,457.2 1528.2,459.2 1528.2,461.2 1528.2,463.2 1528.2,465.2 1528.2,467.2 1528.2,469.2 1528.2,471.2 1528.2,473.2 1528.2,475.2 1528.2,477.2 1528.2,479.2 1528.2,481.2 1528.2,483.2 1528.2,485.2 1528.2,487.2 1528.2,489.2 1528.2,491.2 1528.2,493.2 1528.2,495.2 1528.2,497.2 1528.2,499.2 1528.2,501.2 1528.2,503.2 1528.2,505.2 1528.2,507.2 1528.2,509.2 1528.2,511.2 1528.2,512"/>
<polyline points="1552.2,223.5 1553.7,224.1 1555,225.8 1555.6,227.5 1556,229.5 1556.3,231.5 1556.5,233.5 1556.7,235.5 1556.9,237.5 1557,239.5 1557.1,241.5 1557.2,243.5 1557.2,245.5 1557.3,247.5 1557.3,249.5 1557.3,251.5 1557.4,253.5 1557.4,255.5 1557.4,257.5 1557.4,259.5 1557.4,261.5 1557.4,263.5 1557.5,265.5 1557.5,267.5 1557.5,269.5 1557.5,271.5 1557.5,273.5 1557.5,275.5 1557.5,277.5 1557.5,279.5 1557.5,281.5 1557.5,283.5"/>
<g stroke-width="5.6">
<polyline points="290.5,1052 290.8,1050 291.2,1048 291.6,1045.5 292.1,1042.5"/>
<polyline points="302,976.7 302.7,975.1 303.5,973.7 304.3,972.4 305.2,971.1 306.3,970.1 308.9,968.9 311.5,968.5"/>
<polyline points="311.5,968.5 313.2,969.1 314.6,970.8 315.3,972.5 315.7,974.5"/>
<polyline points="318.8,1046 319.1,1044 319.4,1041.9 319.8,1039.4"/>
<polyline points="327.2,970.1 327.6,968.5 328,967 328.5,965.5 328.9,964 329.8,961.3 330.8,958.7 331.9,956.3 333.2,954.2 334.7,952.4 336.6,951.3 338.7,950.6 340,950.5"/>
<polyline points="340,950.5 341.8,951.1 343.3,952.8 344.1,954.5 344.5,956.5 344.8,958.5 345.1,960.5"/>
<polyline points="355.2,958.5 355.4,957 355.9,954.1 356.4,951.5 357,949 357.6,946.6 358.2,944.4 358.8,942.3 359.4,940.4 360.1,938.5 360.9,936.6 361.7,934.8 362.7,933.1 364.1,931.7 365.8,930.6 367.6,929.8 369.5,929.5"/>
<polyline points="369.5,929.5 371.2,930.1 372.7,931.8 373.4,933.5 373.8,935.5 374.1,937.5"/>
<polyline points="385.5,931.6 385.8,929.7 386.1,927.7 386.5,925.7 386.9,923.8 387.3,921.8 387.7,919.9 388.2,917.9 388.7,916 389.2,914 389.8,912.1 390.4,910.2 391.1,908.4 391.9,906.5 392.9,904.8 394.3,903.4 395.9,902.2 397.8,901.4 399.3,901.2"/>
<polyline points="399.3,901.2 400.9,901.8 402.3,903.5 402.9,905.2 403.3,907.2"/>
<polyline points="416.2,904.2 416.5,902.2 416.8,900.2 417.1,898.2 417.5,896.3 417.9,894.3 418.3,892.3 418.7,890.4 419.1,888.4 419.6,886.5 420.1,884.6 420.7,882.6 421.3,880.7 422,878.9 422.7,877 423.6,875.2 424.8,873.6 426.3,872.3 427.9,871.1 429.8,870.5 430.5,870.5"/>
<polyline points="430.5,870.5 432.2,871.5 433.2,873.6 433.7,875.5"/>
<polyline points="446.8,877.6 447.1,875.6 447.4,873.6 447.7,871.7 448,869.7 448.4,867.7 448.8,865.8 449.2,863.8 449.6,861.9 450.1,859.9 450.6,858 451.1,856.1 451.7,854.1 452.4,852.3 453.1,850.4 454,848.6 455.2,847 456.6,845.6 458.3,844.5 460.2,844 460.5,844"/>
<polyline points="460.5,844 462.2,844.6 463.7,846.2 464.5,848 464.9,850 465.2,852 465.5,854"/>
<polyline points="478.3,855.8 478.6,853.8 478.9,851.8 479.3,849.8 479.6,847.9 479.9,845.9 480.2,843.9 480.5,841.9 480.9,840 481.3,838 481.7,836.1 482.2,834.1 482.9,832.3 484,830.6 485.1,828.9 486.4,827.4 488,826.2 489.9,825.5 490.5,825.5"/>
<polyline points="490.5,825.5 492.6,826.1 493.8,827.1 494.9,828.6 495.6,830.5 496,832.5 496.3,834.5 496.6,836.5"/>
<polyline points="509.5,844.1 509.7,842.1 510,840.1 510.4,838.1 510.7,836.2 511,834.2 511.4,832.2 511.7,830.3 512.1,828.3 512.4,826.3 512.9,824.4 513.4,822.4 514.1,820.6 515,818.8 516.1,817.1 517.3,815.5 518.8,814.2 520.5,813.2 521.8,813"/>
<polyline points="521.8,813 523.8,813.6 525.1,814.6 526.1,816.1 526.8,818 527.2,820 527.6,822 527.9,824"/>
<polyline points="540.6,836.6 540.9,834.6 541.2,832.6 541.5,830.6 541.9,828.7 542.2,826.7 542.6,824.7 542.9,822.7 543.3,820.8 543.8,818.8 544.3,816.9 544.8,815 545.6,813.1 546.5,811.4 547.6,809.7 548.7,808 550.2,806.6 551.9,805.7 553,805.5"/>
<polyline points="553,805.5 554.6,805.8 556,806.5 557.3,807.8 558.3,809.5 558.8,811.5 559.2,813.5 559.6,815.5 559.9,817.5"/>
<polyline points="572.9,825.7 573.2,823.7 573.5,821.8 573.9,819.8 574.3,817.8 574.7,815.9 575.1,813.9 575.5,812 576,810 576.5,808.1 577,806.1 577.6,804.2 578.3,802.4 579.3,800.6 580.3,798.9 581.4,797.2 582.7,795.7 584.4,794.6 586,794.3"/>
<polyline points="586,794.2 587.9,794.8 589.5,796.5 590.3,798.2 590.7,800.2 591.1,802.2 591.4,804.2"/>
<polyline points="604.4,815 604.7,813 605,811 605.3,809 605.7,807.1 606.1,805.1 606.5,803.1 606.9,801.2 607.3,799.2 607.8,797.3 608.3,795.3 608.8,793.4 609.5,791.5 610.2,789.7 611,787.8 611.9,786.1 612.9,784.3 614,782.7 615.3,781.1 616.9,780 618.8,779.5"/>
<polyline points="618.8,779.5 620.3,780.1 621.6,781.8 622.2,783.5 622.6,785.5"/>
<polyline points="635.9,797.3 636.2,795.4 636.5,793.4 636.8,791.4 637.1,789.4 637.5,787.5 637.9,785.5 638.2,783.5 638.6,781.6 639.1,779.6 639.5,777.7 640,775.7 640.6,773.8 641.3,772 642.1,770.1 643,768.3 644,766.6 645.1,764.9 646.3,763.4 647.9,762.1 649.8,761.5 650,761.5"/>
<polyline points="650,761.5 651.9,762.1 653.5,763.8 654.3,765.5 654.7,767.5 655.1,769.5 655.4,771.5"/>
<polyline points="668.1,779.8 668.4,777.9 668.6,775.9 668.9,773.9"/>
<polyline points="670.3,764 670.6,762 670.9,760.1 671.3,758.1 671.9,756.2 672.6,754.3 673.5,752.5 674.3,750.7 675.3,748.9 676.3,747.2 677.6,745.7 679,744.3 680.9,743.6 681.5,743.5"/>
<polyline points="681.5,743.5 683.4,744.1 685,745.8 685.8,747.5 686.2,749.5 686.6,751.5 686.9,753.5"/>
<polyline points="699.8,763 700.1,761 700.4,759 700.7,757.1 701,755.1 701.3,753.1 701.6,751.1 701.9,749.1 702.2,747.2 702.5,745.2 702.9,743.2 703.3,741.3 703.8,739.3 704.4,737.4 705.2,735.6 706.1,733.8 706.9,732 707.9,730.3 709,728.6 710.4,727.1 712,726 713.8,725.5"/>
<polyline points="713.8,725.5 715.6,726.1 717.1,727.8 717.9,729.5 718.3,731.5 718.6,733.5 718.9,735.5"/>
<polyline points="723,966.2 723.1,963.4"/>
<polyline points="731.8,748.4 732.1,746.4 732.4,744.4 732.7,742.4 733,740.5 733.3,738.5 733.7,736.5 734,734.6 734.4,732.6 734.7,730.6 735.1,728.7 735.5,726.7 736,724.7 736.4,722.8 737,720.9 737.6,719 738.4,717.1 739.2,715.3 740.1,713.5 741,711.8 742.1,710.1 743.4,708.6 745,707.3 746.9,706.8 747,706.8"/>
<polyline points="747,706.8 748.5,707.3 749.7,709 750.3,710.8 750.7,712.8"/>
<polyline points="755,960 755.1,957"/>
<polyline points="763.8,728.7 764.1,726.7 764.4,724.8 764.7,722.8 765,720.8 765.2,718.8 765.5,716.8 765.8,714.9 766.1,712.9 766.5,710.9 766.8,708.9 767.1,707 767.5,705 768,703.1 768.5,701.1 769.2,699.3 770,697.4 770.9,695.6 771.8,693.8 772.8,692.1 774,690.5 775.4,689.1 777.2,688.2 778.2,688"/>
<polyline points="778.2,688 780,688.6 781.5,690.2 782.2,692 782.6,694 782.9,696 783.2,698"/>
<polyline points="787.2,955 787.3,953.5"/>
<polyline points="796.2,709.6 796.5,707.6 796.8,705.6 797.1,703.6 797.4,701.7 797.7,699.7 798,697.7 798.3,695.7 798.6,693.8 798.9,691.8 799.2,689.8 799.6,687.8 799.9,685.9 800.4,683.9 800.9,682 801.6,680.1 802.4,678.3 803.2,676.5 804.1,674.7 805.1,672.9 806.3,671.3 807.6,669.9 809.3,668.8 810.8,668.5"/>
<polyline points="810.8,668.5 812.4,669.1 813.8,670.8 814.5,672.5 814.9,674.5"/>
<polyline points="819.5,948.8 819.6,947.2"/>
<polyline points="828.2,695.4 828.5,693.4 828.8,691.5 829.1,689.5 829.4,687.5 829.7,685.5 830,683.5 830.3,681.6 830.7,679.6 831,677.6 831.3,675.6 831.6,673.7 832,671.7 832.4,669.7 832.8,667.8 833.2,665.8 833.8,663.9 834.4,662 835.2,660.2 836,658.4 836.9,656.6 837.9,654.8 839,653.2 840.3,651.7 841.9,650.5 843.8,650"/>
<polyline points="843.8,650 845.5,651 846.6,653.1 847.1,655"/>
<polyline points="851.5,943 851.6,941.3"/>
<polyline points="860.6,674 860.9,672.1 861.1,670.1 861.4,668.1 861.7,666.1 862,664.2 862.3,662.2 862.6,660.2 862.9,658.2 863.2,656.2 863.5,654.3 863.8,652.3 864.2,650.3 864.6,648.4 865,646.4 865.5,644.5 866.1,642.6 866.9,640.7 867.7,638.9 868.6,637.1 869.6,635.4 870.7,633.7 872,632.2 873.6,631 875.5,630.5"/>
<polyline points="875.5,630.5 877,631.1 878.2,632.8 878.8,634.5 879.2,636.5"/>
<polyline points="894.6,634.7 894.9,632.7 895.3,630.8 895.9,628.9 896.6,627 897.3,625.1 898,623.3 898.8,621.4 899.6,619.6 900.5,617.8 901.6,616.1 902.8,614.5 904.2,613.1 906,612.2 907,612"/>
<polyline points="907,612 908.6,612.6 910,614.2 910.6,616 911,618"/>
<polyline points="926.9,614.7 927.2,612.7 927.7,610.8 928.4,608.9 929.1,607 929.8,605.1 930.5,603.2 931.3,601.4 932.1,599.6 933.1,597.8 934.1,596.1 935.4,594.6 936.9,593.3 938.7,592.6 939.2,592.5"/>
<polyline points="939.2,592.5 940.8,593.1 942.1,594.8 942.7,596.5 943.1,598.5"/>
<polyline points="958.8,595.6 959.1,593.7 959.6,591.7 960.2,589.8 960.9,587.9 961.6,586.1 962.3,584.2 963.1,582.3 963.9,580.5 964.8,578.8 965.9,577 967.1,575.4 968.5,574 970.3,573.2 971.2,573"/>
<polyline points="971.2,573 972.7,573.6 973.9,575.2 974.6,577 974.9,579"/>
<polyline points="991,580.5 991.3,578.5 991.7,576.5 992.2,574.6 992.8,572.7 993.5,570.8 994.2,568.9 994.9,567.1 995.7,565.2 996.6,563.4 997.5,561.6 998.6,559.9 999.8,558.4 1001.3,557 1003.1,556.3 1003.8,556.2"/>
<polyline points="1003.8,556.2 1005.4,557.2 1006.5,559.3 1006.9,561.2"/>
<polyline points="1022.7,557.7 1023.1,555.8 1023.7,553.8 1024.3,552 1025,550.1 1025.7,548.2 1026.5,546.4 1027.3,544.5 1028.2,542.7 1029.1,541 1030.3,539.3 1031.6,537.8 1033.2,536.7 1035,536.2"/>
<polyline points="1035,536.2 1036.5,536.8 1037.8,538.5 1038.5,540.2 1038.8,542.2"/>
<polyline points="1054.3,538.8 1054.7,536.9 1055.3,534.9 1056,533.1 1056.7,531.2 1057.4,529.3 1058.1,527.5 1059,525.6 1059.9,523.9 1060.9,522.1 1062,520.5 1063.4,519 1065.1,518 1066.5,517.7"/>
<polyline points="1066.5,517.7 1068,518.3 1069.2,520 1069.8,521.7 1070.2,523.7"/>
<polyline points="1085.6,522.5 1085.9,520.5 1086.3,518.5 1086.8,516.6 1087.5,514.7 1088.2,512.8 1088.9,511 1089.6,509.1 1090.4,507.3 1091.2,505.4 1092.2,503.7 1093.2,502 1094.5,500.5 1096.1,499.2 1098,498.7"/>
<polyline points="1098,498.7 1099.6,499.3 1101,500.9 1101.6,502.7 1102,504.7"/>
<polyline points="1117.4,503.2 1117.8,501.2 1118.3,499.3 1119,497.4 1119.6,495.5 1120.3,493.6 1120.9,491.7 1121.7,489.9 1122.5,488 1123.4,486.2 1124.4,484.5 1125.5,482.9 1126.9,481.5 1128.7,480.6 1129.5,480.4"/>
<polyline points="1129.5,480.4 1131,481 1132.2,482.7 1132.8,484.4 1133.2,486.4"/>
<polyline points="1148.3,486.2 1148.6,484.3 1149.1,482.3 1149.6,480.4 1150.3,478.5 1150.9,476.6 1151.5,474.7 1152.2,472.8 1152.9,470.9 1153.7,469.1 1154.6,467.3 1155.6,465.6 1156.8,464 1158.2,462.5 1160,461.8 1160.5,461.7"/>
<polyline points="1160.5,461.7 1162.1,462.3 1163.5,463.9 1164.1,465.7 1164.5,467.7"/>
<polyline points="1179.7,470.1 1180,468.1 1180.3,466.2 1180.8,464.2 1181.4,462.3 1182,460.4 1182.6,458.5 1183.2,456.6 1183.9,454.7 1184.6,452.9 1185.4,451 1186.3,449.2 1187.3,447.5 1188.4,445.9 1189.8,444.5 1191.7,443.7 1192,443.7"/>
<polyline points="1192,443.7 1193.5,444.3 1194.8,445.9 1195.5,447.7 1195.8,449.7"/>
<polyline points="1211,450.8 1211.3,448.9 1211.8,446.9 1212.4,445 1213,443.1 1213.5,441.2 1214.1,439.3 1214.7,437.4 1215.4,435.5 1216.2,433.6 1217,431.8 1217.9,430 1218.9,428.3 1220.2,426.8 1221.9,425.7 1223,425.4"/>
<polyline points="1223,425.4 1224.5,426 1225.7,427.7 1226.3,429.4 1226.7,431.4"/>
<polyline points="1241,435.3 1241.3,433.4 1241.7,431.4 1242.1,429.4 1242.7,427.5 1243.3,425.6 1243.8,423.7 1244.4,421.8 1245,419.9 1245.6,418 1246.4,416.1 1247.1,414.3 1248,412.5 1249,410.7 1250.2,409.1 1251.8,407.9 1253.2,407.4"/>
<polyline points="1253.2,407.4 1254.8,408 1256.1,409.7 1256.7,411.4 1257.1,413.4"/>
<polyline points="1272,417.4 1272.4,415.4 1272.7,413.4 1273.2,411.5 1273.7,409.5 1274.3,407.6 1274.8,405.7 1275.3,403.8 1275.9,401.9 1276.6,400 1277.2,398.1 1278,396.2 1278.8,394.4 1279.7,392.6 1280.8,391 1282.2,389.5 1284,388.8 1284.2,388.8"/>
<polyline points="1284.2,388.8 1285.8,389.3 1287.1,391 1287.7,392.8 1288.1,394.8"/>
<polyline points="1302.8,399.8 1303.2,397.8 1303.5,395.9 1304,393.9 1304.5,392 1305,390 1305.5,388.1 1306.1,386.2 1306.6,384.3 1307.2,382.4 1307.9,380.5 1308.6,378.6 1309.4,376.8 1310.2,375 1311.3,373.2 1312.5,371.7 1314.2,370.7 1315,370.5"/>
<polyline points="1315,370.5 1316.7,371.5 1317.7,373.6 1318.1,375.5"/>
<polyline points="1333.3,382.2 1333.6,380.2 1334,378.2 1334.4,376.3 1334.9,374.3 1335.4,372.4 1335.9,370.5 1336.4,368.5 1336.9,366.6 1337.5,364.7 1338.1,362.8 1338.8,360.9 1339.5,359 1340.3,357.2 1341.2,355.4 1342.3,353.8 1343.8,352.4 1345.5,351.8"/>
<polyline points="1345.5,351.8 1347.3,352.8 1348.4,354.8 1348.8,356.8"/>
<polyline points="1363.5,365.7 1363.7,363.7 1364.1,361.8 1364.5,359.8 1364.9,357.9 1365.4,355.9 1365.9,354 1366.4,352 1366.9,350.1 1367.4,348.2 1368,346.3 1368.6,344.3 1369.2,342.5 1369.9,340.6 1370.7,338.8 1371.7,337 1372.8,335.3 1374.3,334 1375.8,333.5"/>
<polyline points="1375.8,333.5 1377.2,334.1 1378.4,335.8 1379,337.5 1379.3,339.5"/>
<polyline points="1393.4,346.7 1393.7,344.8 1394.1,342.8 1394.5,340.8 1395,338.9 1395.5,336.9 1395.9,335 1396.4,333.1 1396.9,331.1 1397.5,329.2 1398.1,327.3 1398.7,325.4 1399.4,323.5 1400.1,321.7 1401,319.8 1402,318.1 1403.2,316.6 1405,315.6 1405.5,315.5"/>
<polyline points="1405.5,315.5 1407.3,316.5 1408.4,318.6 1408.8,320.5"/>
<polyline points="1423.4,328.8 1423.7,326.8 1424,324.8 1424.4,322.9 1424.9,320.9 1425.4,319 1425.8,317 1426.3,315.1 1426.8,313.2 1427.3,311.2 1427.9,309.3 1428.5,307.4 1429.1,305.5 1429.9,303.7 1430.7,301.8 1431.6,300.1 1432.7,298.4 1434.3,297.1 1435.5,296.8"/>
<polyline points="1435.5,296.8 1437.2,297.8 1438.3,299.8 1438.7,301.8"/>
<polyline points="1452.9,310.6 1453.3,308.6 1453.6,306.6 1454,304.7 1454.5,302.7 1454.9,300.8 1455.4,298.8 1455.9,296.9 1456.4,294.9 1456.9,293 1457.4,291.1 1458,289.2 1458.7,287.3 1459.4,285.4 1460.2,283.6 1461.1,281.8 1462.2,280.1 1463.8,278.9 1465,278.5"/>
<polyline points="1465,278.5 1466.4,279.1 1467.6,280.8 1468.2,282.5 1468.5,284.5"/>
<polyline points="1482.2,293.1 1482.5,291.1 1482.8,289.1 1483.2,287.2 1483.7,285.2 1484.1,283.3 1484.6,281.3 1485.1,279.4 1485.5,277.4 1486.1,275.5 1486.6,273.6 1487.2,271.7 1487.8,269.8 1488.5,267.9 1489.3,266 1490.1,264.2 1491.2,262.6 1492.6,261.2 1494.2,260.5"/>
<polyline points="1494.2,260.5 1495.7,261.1 1496.9,262.8 1497.5,264.5 1497.8,266.5"/>
<polyline points="1511.9,274.1 1512.2,272.2 1512.6,270.2 1513,268.3 1513.4,266.3 1513.9,264.4 1514.3,262.4 1514.8,260.5 1515.3,258.5 1515.8,256.6 1516.4,254.7 1516.9,252.8 1517.6,250.9 1518.3,249 1519.1,247.2 1520,245.4 1521.1,243.7 1522.7,242.5 1523.8,242.2"/>
<polyline points="1523.8,242.2 1525.4,243.2 1526.4,245.3 1526.8,247.2"/>
<polyline points="1540.3,255.9 1540.6,253.9 1541,252 1541.4,250 1541.8,248.1 1542.3,246.1 1542.7,244.1 1543.2,242.2 1543.7,240.3 1544.2,238.3 1544.7,236.4 1545.3,234.5 1545.9,232.6 1546.6,230.7 1547.4,228.9 1548.3,227.1 1549.3,225.4 1550.8,224 1552.2,223.5"/>
<polyline points="1552.2,223.5 1553.7,224.1 1555,225.8 1555.6,227.5 1556,229.5"/>
</g>
<g stroke-width="4.7">
<polyline points="315.7,974.5 315.9,976.5 316.2,978.5 316.5,980.5 316.7,982.5 316.8,984.5 316.9,986.5 316.9,988.5 317,990.5 317.1,992.5 317.1,993.5"/>
<polyline points="319.8,1039.4 320.2,1036.4"/>
<polyline points="345.1,960.5 345.4,962.5 345.6,964.5 345.7,966.5 345.8,968.5 345.9,970.5 346,972.5 346,974.5 346.1,975.5"/>
<polyline points="347.8,1039.3 348.1,1037.3 348.3,1035.2 348.7,1032.7 349,1029.7"/>
<polyline points="354.4,964.9 354.6,963.3 354.8,961.6 355,960 355.2,958.5"/>
<polyline points="374.1,937.5 374.4,939.5 374.6,941.5 374.8,943.5 375,945.5 375.1,947.5 375.1,949.5 375.2,951.5 375.3,953.5 375.3,954.5"/>
<polyline points="377.7,1033 377.9,1031 378.2,1028.9 378.4,1026.4 378.8,1023.4"/>
<polyline points="382.9,958.5 383,956.8 383.1,955.2 383.2,953.6 383.4,952.1 383.5,950.6 383.7,947.7 384,945 384.2,942.4 384.5,940 384.7,937.8 385,935.6 385.2,933.6 385.5,931.6"/>
<polyline points="403.3,907.2 403.6,909.2 403.9,911.2 404.1,913.2 404.3,915.2 404.4,917.2 404.5,919.2 404.6,921.2 404.6,923.2 404.7,925.2 404.7,926.2"/>
<polyline points="407.8,1027.5 408,1025.5 408.2,1023.4 408.5,1020.9 408.7,1017.8"/>
<polyline points="412.2,953 412.3,951.3 412.4,949.6 412.5,948.1 412.6,946.5 412.7,945 412.8,942.1 413,939.4 413.2,936.9 413.3,934.5 413.5,932.2 413.7,930.1 413.8,928 414,926 414.1,924.1 414.3,922.1 414.4,920.1 414.6,918.1 414.8,916.1 415,914.1 415.2,912.1 415.4,910.1 415.7,908.1 415.9,906.1 416.2,904.2"/>
<polyline points="433.7,875.5 433.9,877.5 434.1,879.5 434.3,881.5 434.5,883.5 434.6,885.5 434.7,887.5 434.8,889.5 434.8,891.5 434.9,893.5 434.9,895.5"/>
<polyline points="438,1021 438.2,1019 438.4,1016.8 438.6,1014.1 438.7,1012.5"/>
<polyline points="442,942.9 442.1,941.2 442.1,939.6 442.2,938 442.3,936.5 442.4,933.6 442.5,930.8 442.7,928.3 442.8,925.8 442.9,923.6 443,921.4 443.1,919.4 443.3,917.4 443.4,915.4 443.5,913.4 443.6,911.4 443.8,909.5 443.9,907.5 444,905.5 444.2,903.5 444.3,901.5 444.5,899.5 444.6,897.5 444.8,895.5 445,893.5 445.1,891.5 445.3,889.5 445.5,887.5 445.8,885.5 446,883.6 446.2,881.6 446.5,879.6 446.8,877.6"/>
<polyline points="465.5,854 465.7,856 465.9,858 466,860 466.1,862 466.2,864 466.3,866 466.3,868 466.4,869"/>
<polyline points="469.5,1015 469.7,1013 469.8,1010.7 470.1,1007.8 470.2,1006.1"/>
<polyline points="473,933.5 473.1,931.8 473.2,930.2 473.2,928.7 473.3,925.7 473.4,923 473.5,920.4 473.6,918 473.7,915.7 473.8,913.6 473.9,911.6 474,909.6 474.1,907.6 474.2,905.6 474.3,903.6 474.4,901.6 474.5,899.6 474.6,897.6 474.7,895.6 474.8,893.6 475,891.6 475.1,889.6 475.2,887.6 475.3,885.6 475.5,883.6 475.6,881.6 475.8,879.6 475.9,877.6 476.1,875.6 476.3,873.7 476.4,871.7 476.6,869.7 476.8,867.7 477.1,865.7 477.3,863.7 477.5,861.7 477.8,859.7 478.1,857.8 478.3,855.8"/>
<polyline points="496.6,836.5 496.9,838.5 497.1,840.5 497.2,842.5 497.4,844.5 497.4,846.5 497.5,848.5 497.6,850.5"/>
<polyline points="500.8,1008 500.9,1006 501.1,1003.5 501.3,1000.4"/>
<polyline points="504.1,924.9 504.2,923.2 504.3,921.6 504.3,920 504.4,918.5 504.5,915.6 504.6,913 504.7,910.4 504.7,908.1 504.8,905.9 504.9,903.9 505,901.9 505.1,899.9 505.2,897.9 505.3,895.9 505.4,893.9 505.5,891.9 505.6,889.9 505.7,887.9 505.8,885.9 505.9,883.9 506,881.9 506.1,879.9 506.2,877.9 506.4,875.9 506.5,873.9 506.6,871.9 506.8,869.9 506.9,867.9 507.1,865.9 507.3,864 507.4,862 507.6,860 507.8,858 508,856 508.2,854 508.4,852 508.7,850 508.9,848 509.2,846.1 509.5,844.1"/>
<polyline points="527.9,824 528.2,826 528.4,828 528.5,830 528.6,832 528.7,834 528.8,836 528.8,838"/>
<polyline points="532,1002 532.1,999.9 532.3,997.3 532.4,995.7"/>
<polyline points="535.3,915.8 535.4,914.2 535.5,912.6 535.5,911 535.6,908.1 535.7,905.4 535.8,902.9 535.9,900.6 536,898.4 536.1,896.4 536.1,894.4 536.2,892.4 536.3,890.4 536.4,888.4 536.5,886.4 536.6,884.4 536.7,882.4 536.8,880.4 536.9,878.4 537,876.4 537.1,874.4 537.2,872.4 537.4,870.4 537.5,868.4 537.6,866.4 537.8,864.4 537.9,862.4 538.1,860.4 538.2,858.4 538.4,856.4 538.6,854.4 538.8,852.4 539,850.5 539.2,848.5 539.4,846.5 539.6,844.5 539.8,842.5 540.1,840.5 540.3,838.5 540.6,836.6"/>
<polyline points="559.9,817.5 560.2,819.5 560.4,821.5 560.5,823.5 560.6,825.5 560.7,827.5 560.8,829.5 560.8,830.5"/>
<polyline points="564,995.5 564.2,993.3 564.3,990.6 564.5,988.9"/>
<polyline points="567.3,908.1 567.4,906.4 567.4,904.8 567.5,903.2 567.5,901.7 567.6,898.9 567.7,896.3 567.8,893.8 567.9,891.6 568,889.5 568.1,887.5 568.1,885.5 568.2,883.5 568.3,881.5 568.4,879.5 568.5,877.5 568.6,875.5 568.7,873.5 568.8,871.5 568.9,869.5 569.1,867.5 569.2,865.5 569.3,863.5 569.4,861.5 569.5,859.5 569.7,857.5 569.8,855.5 570,853.5 570.1,851.5 570.3,849.6 570.4,847.6 570.6,845.6 570.8,843.6 571,841.6 571.2,839.6 571.4,837.6 571.6,835.6 571.9,833.6 572.1,831.7 572.4,829.7 572.6,827.7 572.9,825.7"/>
<polyline points="591.4,804.2 591.6,806.2 591.9,808.2 592,810.2 592.1,812.2 592.2,814.2 592.3,816.2 592.3,818.2 592.3,819.2"/>
<polyline points="595.5,990 595.7,987.7 595.8,984.8"/>
<polyline points="598.8,899.8 598.8,898.2 598.9,896.6 598.9,895.1 599,892.2 599.1,889.5 599.2,887.1 599.3,884.8 599.4,882.7 599.4,880.7 599.5,878.7 599.6,876.7 599.7,874.7 599.8,872.8 599.9,870.8 600,868.8 600.1,866.8 600.2,864.8 600.3,862.8 600.4,860.8 600.5,858.8 600.6,856.8 600.7,854.8 600.9,852.8 601,850.8 601.1,848.8 601.3,846.8 601.4,844.8 601.5,842.8 601.7,840.8 601.8,838.8 602,836.8 602.2,834.8 602.4,832.8 602.5,830.8 602.7,828.9 602.9,826.9 603.2,824.9 603.4,822.9 603.6,820.9 603.9,818.9 604.1,816.9 604.4,815"/>
<polyline points="622.6,785.5 622.8,787.5 623.1,789.5 623.3,791.5 623.5,793.5 623.6,795.5 623.7,797.5 623.8,799.5 623.8,801.5 623.9,803.5 623.9,804.5"/>
<polyline points="627,983.5 627.1,981.1 627.3,978.1"/>
<polyline points="629.9,892.3 630,890.7 630,889 630.1,887.5 630.2,884.6 630.3,881.9 630.3,879.5 630.4,877.2 630.5,875.1 630.6,873.1 630.6,871.1 630.7,869.1 630.8,867.1 630.8,865.1 630.9,863.1 631,861.1 631.1,859.1 631.2,857.1 631.3,855.1 631.4,853.1 631.5,851.1 631.6,849.1 631.7,847.1 631.8,845.1 631.9,843.2 632,841.2 632.1,839.2 632.2,837.2 632.4,835.2 632.5,833.2 632.6,831.2 632.8,829.2 632.9,827.2 633,825.2 633.2,823.2 633.3,821.2 633.5,819.2 633.7,817.2 633.8,815.2 634,813.2 634.2,811.2 634.4,809.2 634.6,807.3 634.8,805.3 635.1,803.3 635.3,801.3 635.6,799.3 635.9,797.3"/>
<polyline points="655.4,771.5 655.6,773.5 655.9,775.5 656,777.5 656.1,779.5 656.2,781.5 656.3,783.5 656.3,785.5 656.3,786.5"/>
<polyline points="659.5,978 659.6,975.5 659.7,974"/>
<polyline points="662.1,884.3 662.2,882.7 662.2,881.1 662.2,879.6 662.3,876.8 662.4,874.2 662.4,871.8 662.5,869.7 662.6,867.6 662.6,865.6 662.7,863.6 662.7,861.6 662.8,859.6 662.9,857.6 662.9,855.6 663,853.6 663.1,851.6 663.1,849.6 663.2,847.6 663.3,845.6 663.4,843.7 663.5,841.7 663.6,839.7 663.6,837.7 663.7,835.7 663.8,833.7 663.9,831.7 664,829.7 664.1,827.7 664.2,825.7 664.3,823.7 664.5,821.7 664.6,819.7 664.7,817.7 664.8,815.7 664.9,813.7 665.1,811.7 665.2,809.7 665.3,807.7 665.5,805.7 665.6,803.7 665.8,801.7 665.9,799.7 666.1,797.7 666.3,795.7 666.5,793.7 666.6,791.8 666.8,789.8 667,787.8 667.3,785.8 667.5,783.8 667.8,781.8 668.1,779.8"/>
<polyline points="668.9,773.9 669.2,771.9 669.5,769.9 669.7,768 670,766 670.3,764"/>
<polyline points="686.9,753.5 687.1,755.5 687.4,757.5 687.5,759.5 687.6,761.5 687.7,763.5 687.8,765.5 687.8,767.5 687.8,768.5"/>
<polyline points="691,972 691.1,969.4 691.2,967.8"/>
<polyline points="693.4,877.6 693.5,876 693.5,874.4 693.6,872.8 693.6,870 693.7,867.4 693.7,865 693.8,862.8 693.9,860.8 693.9,858.8 694,856.8 694,854.8 694.1,852.8 694.1,850.8 694.2,848.8 694.3,846.8 694.3,844.8 694.4,842.8 694.4,840.8 694.5,838.8 694.6,836.8 694.7,834.8 694.7,832.8 694.8,830.8 694.9,828.8 695,826.8 695.1,824.8 695.2,822.8 695.3,820.8 695.4,818.8 695.5,816.8 695.6,814.8 695.7,812.8 695.8,810.8 695.9,808.8 696,806.8 696.1,804.8 696.2,802.8 696.4,800.8 696.5,798.8 696.6,796.8 696.8,794.8 696.9,792.8 697,790.8 697.2,788.9 697.3,786.9 697.5,784.9 697.6,782.9 697.8,780.9 698,778.9 698.2,776.9 698.3,774.9 698.6,772.9 698.8,770.9 699,768.9 699.3,767 699.5,765 699.8,763"/>
<polyline points="718.9,735.5 719.2,737.5 719.4,739.5 719.5,741.5 719.6,743.5 719.7,745.5 719.8,747.5 719.8,749.5 719.9,750.5"/>
<polyline points="725.4,868.6 725.4,867 725.4,865.4 725.5,863.9 725.5,861.1 725.6,858.5 725.6,856.2 725.7,854.2 725.7,852.2 725.8,850.2 725.8,848.2 725.9,846.2 725.9,844.2 726,842.2 726.1,840.2 726.1,838.2 726.2,836.2 726.2,834.2 726.3,832.2 726.4,830.2 726.4,828.2 726.5,826.2 726.6,824.2 726.6,822.2 726.7,820.2 726.8,818.2 726.9,816.2 727,814.2 727.1,812.2 727.2,810.2 727.3,808.2 727.4,806.2 727.4,804.2 727.6,802.2 727.7,800.2 727.8,798.2 727.9,796.2 728,794.2 728.1,792.2 728.2,790.2 728.4,788.2 728.5,786.2 728.6,784.2 728.7,782.2 728.9,780.2 729,778.2 729.1,776.2 729.3,774.2 729.4,772.3 729.6,770.3 729.7,768.3 729.9,766.3 730.1,764.3 730.2,762.3 730.4,760.3 730.6,758.3 730.8,756.3 731.1,754.3 731.3,752.3 731.5,750.4 731.8,748.4"/>
<polyline points="750.7,712.8 750.9,714.8 751.1,716.8 751.4,718.8 751.5,720.8 751.6,722.8 751.7,724.8 751.8,726.8 751.8,728.8 751.9,730.8 751.9,731.8"/>
<polyline points="757.1,859.6 757.1,858 757.2,856.4 757.2,853.5 757.3,850.9 757.3,848.6 757.4,846.5 757.4,844.5 757.4,842.5 757.5,840.5 757.5,838.5 757.6,836.5 757.6,834.5 757.7,832.5 757.7,830.5 757.8,828.5 757.8,826.5 757.9,824.5 757.9,822.5 758,820.5 758.1,818.5 758.1,816.5 758.2,814.5 758.2,812.5 758.3,810.5 758.4,808.5 758.5,806.5 758.5,804.5 758.6,802.5 758.7,800.5 758.8,798.5 758.9,796.5 758.9,794.5 759,792.5 759.1,790.5 759.2,788.5 759.3,786.5 759.4,784.5 759.5,782.5 759.6,780.5 759.7,778.5 759.9,776.5 760,774.5 760.1,772.5 760.2,770.5 760.3,768.5 760.4,766.6 760.6,764.6 760.7,762.6 760.8,760.6 760.9,758.6 761.1,756.6 761.2,754.6 761.4,752.6 761.5,750.6 761.7,748.6 761.8,746.6 762,744.6 762.2,742.6 762.4,740.6 762.6,738.6 762.8,736.6 763,734.7 763.2,732.7 763.5,730.7 763.8,728.7"/>
<polyline points="783.2,698 783.5,700 783.7,702 783.8,704 783.9,706 784,708 784,710 784.1,712 784.1,713"/>
<polyline points="789.2,852.3 789.2,850.7 789.2,849.1 789.3,846.3 789.3,843.8 789.3,841.5 789.4,839.4 789.4,837.3 789.5,835.3 789.5,833.3 789.5,831.3 789.6,829.3 789.6,827.3 789.7,825.3 789.7,823.3 789.8,821.3 789.8,819.3 789.9,817.3 789.9,815.4 790,813.4 790,811.4 790.1,809.4 790.1,807.4 790.2,805.4 790.2,803.4 790.3,801.4 790.3,799.4 790.4,797.4 790.5,795.4 790.6,793.4 790.6,791.4 790.7,789.4 790.8,787.4 790.9,785.4 790.9,783.4 791,781.4 791.1,779.4 791.2,777.4 791.3,775.4 791.4,773.4 791.5,771.4 791.6,769.4 791.7,767.4 791.8,765.4 791.9,763.4 792,761.4 792.1,759.4 792.2,757.4 792.3,755.4 792.5,753.4 792.6,751.4 792.7,749.4 792.8,747.4 792.9,745.4 793.1,743.4 793.2,741.4 793.3,739.4 793.4,737.4 793.6,735.4 793.7,733.4 793.9,731.5 794,729.5 794.2,727.5 794.4,725.5 794.6,723.5 794.8,721.5 795,719.5 795.2,717.5 795.4,715.5 795.7,713.5 796,711.6 796.2,709.6"/>
<polyline points="814.9,674.5 815.2,676.5 815.5,678.5 815.8,680.5 815.9,682.5 816.1,684.5 816.2,686.5 816.2,688.5 816.3,690.5 816.4,692.5 816.4,693.5"/>
<polyline points="821.3,844.1 821.3,842.4 821.3,840.9 821.4,838.1 821.4,835.6 821.4,833.3 821.5,831.2 821.5,829.2 821.5,827.2 821.6,825.2 821.6,823.2 821.7,821.2 821.7,819.2 821.7,817.2 821.8,815.2 821.8,813.2 821.9,811.2 821.9,809.2 821.9,807.2 822,805.2 822,803.2 822.1,801.2 822.1,799.2 822.2,797.2 822.2,795.2 822.3,793.2 822.4,791.2 822.4,789.2 822.5,787.2 822.5,785.2 822.6,783.2 822.7,781.2 822.7,779.2 822.8,777.2 822.9,775.2 823,773.2 823.1,771.2 823.1,769.2 823.2,767.2 823.3,765.2 823.4,763.2 823.5,761.2 823.6,759.2 823.7,757.2 823.8,755.2 823.9,753.2 824,751.2 824.1,749.2 824.2,747.2 824.3,745.2 824.4,743.2 824.5,741.3 824.7,739.3 824.8,737.3 824.9,735.3 825,733.3 825.1,731.3 825.2,729.3 825.4,727.3 825.5,725.3 825.6,723.3 825.8,721.3 825.9,719.3 826,717.3 826.2,715.3 826.3,713.3 826.5,711.3 826.7,709.3 826.9,707.3 827.1,705.3 827.3,703.4 827.5,701.4 827.7,699.4 828,697.4 828.2,695.4"/>
<polyline points="847.1,655 847.3,657 847.6,659 847.8,661 848,663 848.1,665 848.2,667 848.3,669 848.3,671 848.4,673 848.4,675"/>
<polyline points="853.1,836.7 853.1,835.1 853.1,833.6 853.1,830.8 853.2,828.3 853.2,826 853.2,823.8 853.3,821.8 853.3,819.8 853.3,817.8 853.4,815.8 853.4,813.8 853.4,811.8 853.5,809.8 853.5,807.8 853.5,805.8 853.6,803.8 853.6,801.8 853.6,799.8 853.7,797.8 853.7,795.8 853.8,793.8 853.8,791.8 853.9,789.8 853.9,787.8 853.9,785.8 854,783.8 854,781.8 854.1,779.8 854.1,777.8 854.2,775.8 854.3,773.8 854.3,771.8 854.4,769.8 854.5,767.8 854.5,765.8 854.6,763.8 854.7,761.8 854.7,759.8 854.8,757.8 854.9,755.8 855,753.8 855.1,751.8 855.1,749.8 855.2,747.8 855.3,745.8 855.4,743.8 855.5,741.8 855.6,739.8 855.7,737.8 855.8,735.8 855.9,733.8 856,731.8 856.1,729.9 856.2,727.9 856.3,725.9 856.4,723.9 856.6,721.9 856.7,719.9 856.8,717.9 856.9,715.9 857,713.9 857.1,711.9 857.2,709.9 857.3,707.9 857.5,705.9 857.6,703.9 857.7,701.9 857.9,699.9 858,697.9 858.2,695.9 858.3,693.9 858.5,691.9 858.7,689.9 858.9,687.9 859.1,686 859.3,684 859.5,682 859.8,680 860,678 860.3,676 860.6,674"/>
<polyline points="879.2,636.5 879.4,638.5 879.6,640.5 879.9,642.5 880,644.5 880.1,646.5 880.2,648.5 880.3,650.5 880.3,652.5 880.4,654.5 880.4,655.5"/>
<polyline points="884.9,829.4 884.9,827.7 884.9,826.2 884.9,823.4 884.9,820.9 885,818.6 885,816.4 885,814.4 885.1,812.4 885.1,810.4 885.1,808.4 885.1,806.4 885.2,804.4 885.2,802.4 885.2,800.4 885.3,798.4 885.3,796.4 885.3,794.4 885.4,792.4 885.4,790.4 885.4,788.4 885.5,786.4 885.5,784.4 885.5,782.4 885.6,780.4 885.6,778.4 885.7,776.4 885.7,774.4 885.7,772.4 885.8,770.4 885.8,768.4 885.9,766.4 885.9,764.4 886,762.4 886.1,760.4 886.1,758.4 886.2,756.4 886.2,754.4 886.3,752.4 886.4,750.4 886.4,748.4 886.5,746.4 886.6,744.4 886.6,742.4 886.7,740.4 886.8,738.4 886.9,736.4 887,734.4 887,732.4 887.1,730.4 887.2,728.4 887.3,726.4 887.4,724.4 887.5,722.4 887.6,720.4 887.7,718.4 887.8,716.4 887.9,714.4 888,712.4 888.1,710.4 888.2,708.4 888.3,706.4 888.4,704.4 888.5,702.4 888.6,700.4 888.7,698.4 888.8,696.4 889,694.4 889.1,692.4 889.2,690.4 889.3,688.4 889.4,686.4 889.5,684.4 889.7,682.5 889.8,680.5 890,678.5 890.1,676.5 890.3,674.5 890.5,672.5 890.7,670.5 890.9,668.5 891.1,666.5 891.4,664.5 891.6,662.6 891.9,660.6 892.1,658.6 892.4,656.6 892.6,654.6 892.8,652.6 893,650.6 893.2,648.6 893.4,646.7 893.6,644.7 893.8,642.7 894,640.7 894.1,638.7 894.4,636.7 894.6,634.7"/>
<polyline points="911,618 911.3,620 911.6,622 911.8,624 912,626 912.1,628 912.2,630 912.3,632 912.3,634 912.4,636 912.4,637"/>
<polyline points="916.8,819.4 916.9,817.8 916.9,816.2 916.9,813.5 916.9,810.9 916.9,808.5 917,806.3 917,804.3 917,802.3 917,800.3 917.1,798.3 917.1,796.3 917.1,794.3 917.2,792.3 917.2,790.3 917.2,788.3 917.2,786.3 917.3,784.3 917.3,782.3 917.3,780.3 917.4,778.3 917.4,776.3 917.4,774.3 917.5,772.3 917.5,770.3 917.5,768.3 917.6,766.3 917.6,764.3 917.7,762.3 917.7,760.3 917.7,758.3 917.8,756.3 917.8,754.3 917.9,752.3 917.9,750.3 918,748.3 918,746.3 918.1,744.3 918.2,742.3 918.2,740.3 918.3,738.3 918.3,736.3 918.4,734.3 918.5,732.3 918.5,730.3 918.6,728.3 918.7,726.3 918.8,724.3 918.8,722.3 918.9,720.3 919,718.3 919.1,716.3 919.2,714.3 919.3,712.3 919.3,710.3 919.4,708.3 919.5,706.3 919.6,704.3 919.7,702.3 919.8,700.3 919.9,698.3 920,696.3 920.1,694.3 920.2,692.4 920.3,690.4 920.4,688.4 920.5,686.4 920.6,684.4 920.7,682.4 920.8,680.4 920.9,678.4 921,676.4 921.1,674.4 921.3,672.4 921.4,670.4 921.5,668.4 921.6,666.4 921.8,664.4 921.9,662.4 922.1,660.4 922.2,658.4 922.4,656.4 922.6,654.4 922.8,652.4 923,650.5 923.2,648.5 923.5,646.5 923.7,644.5 923.9,642.5 924.2,640.5 924.4,638.5 924.7,636.5 924.9,634.6 925.1,632.6 925.3,630.6 925.5,628.6 925.6,626.6 925.8,624.6 926,622.6 926.2,620.6 926.4,618.6 926.6,616.6 926.9,614.7"/>
<polyline points="943.1,598.5 943.3,600.5 943.6,602.5 943.8,604.5 944,606.5 944.1,608.5 944.2,610.5 944.3,612.5 944.3,614.5 944.4,616.5 944.4,617.5"/>
<polyline points="948.8,809.5 948.8,807.9 948.8,804.9 948.9,802.2 948.9,799.7 948.9,797.4 948.9,795.3 949,793.3 949,791.3 949,789.3 949,787.3 949.1,785.3 949.1,783.3 949.1,781.3 949.1,779.3 949.2,777.3 949.2,775.3 949.2,773.3 949.3,771.3 949.3,769.3 949.3,767.3 949.3,765.3 949.4,763.3 949.4,761.3 949.4,759.3 949.5,757.3 949.5,755.3 949.5,753.3 949.6,751.3 949.6,749.3 949.7,747.3 949.7,745.3 949.7,743.3 949.8,741.3 949.8,739.3 949.9,737.3 949.9,735.3 950,733.3 950,731.3 950.1,729.3 950.1,727.3 950.2,725.3 950.3,723.3 950.3,721.3 950.4,719.3 950.4,717.3 950.5,715.3 950.6,713.3 950.6,711.3 950.7,709.3 950.8,707.3 950.9,705.3 950.9,703.3 951,701.3 951.1,699.3 951.2,697.3 951.3,695.3 951.4,693.3 951.4,691.3 951.5,689.3 951.6,687.3 951.7,685.3 951.8,683.3 951.9,681.3 952,679.3 952.1,677.3 952.2,675.3 952.3,673.3 952.4,671.3 952.5,669.3 952.6,667.3 952.7,665.3 952.8,663.4 952.9,661.4 953,659.4 953.1,657.4 953.2,655.4 953.3,653.4 953.4,651.4 953.6,649.4 953.7,647.4 953.8,645.4 954,643.4 954.1,641.4 954.3,639.4 954.5,637.4 954.7,635.4 954.9,633.4 955.1,631.4 955.3,629.5 955.6,627.5 955.8,625.5 956,623.5 956.3,621.5 956.5,619.5 956.7,617.5 956.9,615.5 957.1,613.6 957.3,611.6 957.4,609.6 957.6,607.6 957.8,605.6 958,603.6 958.2,601.6 958.4,599.6 958.6,597.6 958.8,595.6"/>
<polyline points="974.9,579 975.2,581 975.4,583 975.6,585 975.8,587 975.9,589 976,591 976,593 976.1,595 976.1,597 976.2,598"/>
<polyline points="980.6,799.4 980.6,797.8 980.6,796.3 980.6,793.4 980.6,790.8 980.7,788.3 980.7,786.1 980.7,784.1 980.7,782.1 980.7,780.1 980.8,778.1 980.8,776.1 980.8,774.1 980.8,772.1 980.9,770.1 980.9,768.1 980.9,766.1 981,764.1 981,762.1 981,760.1 981,758.1 981.1,756.1 981.1,754.1 981.1,752.1 981.2,750.1 981.2,748.1 981.2,746.1 981.3,744.1 981.3,742.1 981.3,740.1 981.4,738.1 981.4,736.1 981.5,734.1 981.5,732.1 981.5,730.1 981.6,728.1 981.6,726.1 981.7,724.1 981.7,722.1 981.8,720.1 981.8,718.1 981.9,716.1 981.9,714.1 982,712.1 982.1,710.1 982.1,708.1 982.2,706.1 982.2,704.1 982.3,702.1 982.4,700.1 982.4,698.1 982.5,696.1 982.6,694.1 982.7,692.1 982.7,690.1 982.8,688.1 982.9,686.1 983,684.1 983.1,682.1 983.1,680.1 983.2,678.1 983.3,676.1 983.4,674.1 983.5,672.1 983.6,670.1 983.7,668.1 983.8,666.1 983.9,664.1 984,662.1 984.1,660.1 984.2,658.1 984.3,656.1 984.3,654.1 984.4,652.1 984.5,650.1 984.7,648.1 984.8,646.1 984.9,644.1 985,642.1 985.1,640.1 985.2,638.1 985.3,636.2 985.5,634.2 985.6,632.2 985.7,630.2 985.9,628.2 986.1,626.2 986.2,624.2 986.4,622.2 986.6,620.2 986.8,618.2 987,616.2 987.2,614.2 987.5,612.3 987.7,610.3 987.9,608.3 988.2,606.3 988.4,604.3 988.6,602.3 988.9,600.3 989.1,598.3 989.3,596.4 989.5,594.4 989.7,592.4 989.9,590.4 990.1,588.4 990.3,586.4 990.5,584.4 990.8,582.4 991,580.5"/>
<polyline points="1006.9,561.2 1007.2,563.2 1007.4,565.2 1007.6,567.2 1007.8,569.2 1007.9,571.2 1008,573.2 1008,575.2 1008.1,577.2 1008.1,579.2 1008.2,581.2"/>
<polyline points="1012.5,788.8 1012.5,787.2 1012.5,785.7 1012.5,782.8 1012.6,780.1 1012.6,777.7 1012.6,775.5 1012.6,773.4 1012.6,771.4 1012.7,769.4 1012.7,767.4 1012.7,765.4 1012.7,763.4 1012.8,761.4 1012.8,759.4 1012.8,757.4 1012.8,755.4 1012.9,753.4 1012.9,751.4 1012.9,749.4 1012.9,747.4 1013,745.4 1013,743.4 1013,741.4 1013,739.4 1013.1,737.4 1013.1,735.4 1013.1,733.4 1013.2,731.4 1013.2,729.4 1013.2,727.4 1013.3,725.4 1013.3,723.4 1013.3,721.4 1013.4,719.4 1013.4,717.4 1013.5,715.4 1013.5,713.4 1013.5,711.4 1013.6,709.4 1013.6,707.4 1013.7,705.4 1013.7,703.4 1013.8,701.4 1013.8,699.4 1013.9,697.4 1013.9,695.4 1014,693.4 1014,691.4 1014.1,689.4 1014.2,687.4 1014.2,685.4 1014.3,683.4 1014.3,681.4 1014.4,679.4 1014.5,677.4 1014.5,675.4 1014.6,673.4 1014.7,671.4 1014.8,669.4 1014.8,667.4 1014.9,665.4 1015,663.4 1015.1,661.4 1015.2,659.4 1015.2,657.4 1015.3,655.4 1015.4,653.4 1015.5,651.4 1015.6,649.4 1015.7,647.4 1015.8,645.4 1015.9,643.4 1015.9,641.4 1016,639.4 1016.1,637.4 1016.2,635.4 1016.3,633.5 1016.4,631.5 1016.5,629.5 1016.6,627.5 1016.7,625.5 1016.8,623.5 1016.9,621.5 1017,619.5 1017.2,617.5 1017.3,615.5 1017.4,613.5 1017.6,611.5 1017.7,609.5 1017.9,607.5 1018,605.5 1018.2,603.5 1018.4,601.5 1018.6,599.5 1018.8,597.5 1019,595.6 1019.2,593.6 1019.4,591.6 1019.7,589.6 1019.9,587.6 1020.1,585.6 1020.3,583.6 1020.5,581.6 1020.6,579.6 1020.8,577.6 1021,575.7 1021.2,573.7 1021.3,571.7 1021.5,569.7 1021.7,567.7 1021.9,565.7 1022,563.7 1022.2,561.7 1022.5,559.7 1022.7,557.7"/>
<polyline points="1038.8,542.2 1039.1,544.2 1039.3,546.2 1039.6,548.2 1039.8,550.2 1039.9,552.2 1039.9,554.2 1040,556.2 1040.1,558.2 1040.1,560.2 1040.1,561.2"/>
<polyline points="1044.5,778.1 1044.5,776.5 1044.5,774.9 1044.5,772 1044.5,769.3 1044.5,766.8 1044.6,764.6 1044.6,762.5 1044.6,760.5 1044.6,758.5 1044.6,756.5 1044.6,754.5 1044.7,752.5 1044.7,750.5 1044.7,748.5 1044.7,746.5 1044.8,744.5 1044.8,742.5 1044.8,740.5 1044.8,738.5 1044.9,736.5 1044.9,734.5 1044.9,732.5 1044.9,730.5 1045,728.5 1045,726.5 1045,724.5 1045,722.5 1045.1,720.5 1045.1,718.5 1045.1,716.5 1045.2,714.5 1045.2,712.5 1045.2,710.5 1045.3,708.5 1045.3,706.5 1045.3,704.5 1045.4,702.5 1045.4,700.5 1045.4,698.5 1045.5,696.5 1045.5,694.5 1045.6,692.5 1045.6,690.5 1045.7,688.5 1045.7,686.5 1045.8,684.5 1045.8,682.5 1045.9,680.5 1045.9,678.5 1046,676.5 1046,674.5 1046.1,672.5 1046.1,670.5 1046.2,668.5 1046.2,666.5 1046.3,664.5 1046.4,662.5 1046.4,660.5 1046.5,658.5 1046.6,656.5 1046.6,654.5 1046.7,652.5 1046.8,650.5 1046.9,648.5 1046.9,646.5 1047,644.5 1047.1,642.5 1047.2,640.5 1047.3,638.5 1047.3,636.5 1047.4,634.5 1047.5,632.5 1047.6,630.5 1047.7,628.5 1047.7,626.5 1047.8,624.6 1047.9,622.6 1048,620.6 1048.1,618.6 1048.2,616.6 1048.3,614.6 1048.4,612.6 1048.5,610.6 1048.6,608.6 1048.7,606.6 1048.8,604.6 1048.9,602.6 1049,600.6 1049.1,598.6 1049.3,596.6 1049.4,594.6 1049.5,592.6 1049.7,590.6 1049.9,588.6 1050,586.6 1050.2,584.6 1050.4,582.6 1050.6,580.6 1050.8,578.7 1051,576.7 1051.2,574.7 1051.4,572.7 1051.6,570.7 1051.8,568.7 1052,566.7 1052.2,564.7 1052.3,562.7 1052.5,560.7 1052.6,558.7 1052.8,556.7 1052.9,554.7 1053,552.8 1053.2,550.8 1053.3,548.8 1053.5,546.8 1053.7,544.8 1053.9,542.8 1054.1,540.8 1054.3,538.8"/>
<polyline points="1070.2,523.7 1070.4,525.7 1070.6,527.7 1070.9,529.7 1071,531.7 1071.1,533.7 1071.2,535.7 1071.3,537.7 1071.3,539.7 1071.4,541.7 1071.4,542.7"/>
<polyline points="1075.7,766.9 1075.7,765.3 1075.7,763.7 1075.7,762.2 1075.7,759.3 1075.8,756.7 1075.8,754.3 1075.8,752.2 1075.8,750.2 1075.8,748.2 1075.8,746.2 1075.9,744.2 1075.9,742.2 1075.9,740.2 1075.9,738.2 1075.9,736.2 1076,734.2 1076,732.2 1076,730.2 1076,728.2 1076.1,726.2 1076.1,724.2 1076.1,722.2 1076.1,720.2 1076.2,718.2 1076.2,716.2 1076.2,714.2 1076.2,712.2 1076.3,710.2 1076.3,708.2 1076.3,706.2 1076.3,704.2 1076.4,702.2 1076.4,700.2 1076.4,698.2 1076.5,696.2 1076.5,694.2 1076.5,692.2 1076.6,690.2 1076.6,688.2 1076.6,686.2 1076.7,684.2 1076.7,682.2 1076.8,680.2 1076.8,678.2 1076.8,676.2 1076.9,674.2 1076.9,672.2 1077,670.2 1077,668.2 1077.1,666.2 1077.1,664.2 1077.2,662.2 1077.2,660.2 1077.3,658.2 1077.3,656.2 1077.4,654.2 1077.4,652.2 1077.5,650.2 1077.6,648.2 1077.6,646.2 1077.7,644.2 1077.8,642.2 1077.8,640.2 1077.9,638.2 1078,636.2 1078,634.2 1078.1,632.2 1078.2,630.2 1078.3,628.2 1078.3,626.2 1078.4,624.2 1078.5,622.2 1078.6,620.2 1078.6,618.2 1078.7,616.2 1078.8,614.2 1078.9,612.2 1079,610.2 1079.1,608.2 1079.1,606.2 1079.2,604.2 1079.3,602.2 1079.4,600.2 1079.5,598.2 1079.6,596.2 1079.7,594.2 1079.8,592.2 1079.9,590.2 1080,588.2 1080.1,586.2 1080.2,584.2 1080.3,582.2 1080.5,580.2 1080.6,578.2 1080.7,576.3 1080.9,574.3 1081,572.3 1081.2,570.3 1081.4,568.3 1081.6,566.3 1081.8,564.3 1082,562.3 1082.2,560.3 1082.4,558.3 1082.6,556.3 1082.7,554.3 1082.9,552.4 1083.1,550.4 1083.3,548.4 1083.5,546.4 1083.7,544.4 1083.8,542.4 1084,540.4 1084.1,538.4 1084.3,536.4 1084.5,534.4 1084.6,532.4 1084.8,530.4 1085,528.4 1085.2,526.4 1085.4,524.5 1085.6,522.5"/>
<polyline points="1102,504.7 1102.3,506.7 1102.6,508.7 1102.8,510.7 1103,512.7 1103.1,514.7 1103.2,516.7 1103.3,518.7 1103.3,520.7 1103.4,522.7 1103.4,523.7"/>
<polyline points="1107.6,755.6 1107.7,754 1107.7,752.4 1107.7,750.8 1107.7,748 1107.7,745.4 1107.7,743 1107.7,740.9 1107.8,738.9 1107.8,736.9 1107.8,734.9 1107.8,732.9 1107.8,730.9 1107.8,728.9 1107.9,726.9 1107.9,724.9 1107.9,722.9 1107.9,720.9 1107.9,718.9 1108,716.9 1108,714.9 1108,712.9 1108,710.9 1108.1,708.9 1108.1,706.9 1108.1,704.9 1108.1,702.9 1108.2,700.9 1108.2,698.9 1108.2,696.9 1108.2,694.9 1108.3,692.9 1108.3,690.9 1108.3,688.9 1108.3,686.9 1108.4,684.9 1108.4,682.9 1108.4,680.9 1108.5,678.9 1108.5,676.9 1108.5,674.9 1108.6,672.9 1108.6,670.9 1108.6,668.9 1108.7,666.9 1108.7,664.9 1108.7,662.9 1108.8,660.9 1108.8,658.9 1108.9,656.9 1108.9,654.9 1109,652.9 1109,650.9 1109.1,648.9 1109.1,646.9 1109.2,644.9 1109.2,642.9 1109.3,640.9 1109.3,638.9 1109.4,636.9 1109.4,634.9 1109.5,632.9 1109.5,630.9 1109.6,628.9 1109.7,626.9 1109.7,624.9 1109.8,622.9 1109.9,620.9 1109.9,618.9 1110,616.9 1110.1,614.9 1110.1,612.9 1110.2,610.9 1110.3,608.9 1110.3,606.9 1110.4,604.9 1110.5,602.9 1110.6,600.9 1110.6,598.9 1110.7,596.9 1110.8,594.9 1110.9,592.9 1111,590.9 1111,588.9 1111.1,586.9 1111.2,584.9 1111.3,582.9 1111.4,580.9 1111.5,578.9 1111.6,576.9 1111.7,574.9 1111.8,572.9 1111.9,571 1112,569 1112.1,567 1112.2,565 1112.3,563 1112.5,561 1112.6,559 1112.8,557 1112.9,555 1113.1,553 1113.3,551 1113.4,549 1113.6,547 1113.8,545 1114,543 1114.2,541 1114.4,539.1 1114.5,537.1 1114.7,535.1 1114.9,533.1 1115.1,531.1 1115.2,529.1 1115.4,527.1 1115.5,525.1 1115.7,523.1 1115.8,521.1 1116,519.1 1116.1,517.1 1116.2,515.1 1116.4,513.1 1116.6,511.1 1116.7,509.1 1116.9,507.2 1117.1,505.2 1117.4,503.2"/>
<polyline points="1133.2,486.4 1133.4,488.4 1133.6,490.4 1133.9,492.4 1134,494.4 1134.1,496.4 1134.2,498.4 1134.3,500.4 1134.3,502.4 1134.4,504.4 1134.4,505.4"/>
<polyline points="1138.6,744.6 1138.6,743 1138.6,741.4 1138.7,739.8 1138.7,737 1138.7,734.4 1138.7,732.1 1138.7,729.9 1138.7,727.9 1138.7,725.9 1138.8,723.9 1138.8,721.9 1138.8,719.9 1138.8,717.9 1138.8,715.9 1138.8,713.9 1138.9,711.9 1138.9,709.9 1138.9,707.9 1138.9,705.9 1138.9,703.9 1139,701.9 1139,699.9 1139,697.9 1139,695.9 1139.1,693.9 1139.1,691.9 1139.1,689.9 1139.1,687.9 1139.1,685.9 1139.2,683.9 1139.2,681.9 1139.2,679.9 1139.2,677.9 1139.3,675.9 1139.3,673.9 1139.3,671.9 1139.4,669.9 1139.4,667.9 1139.4,665.9 1139.4,663.9 1139.5,661.9 1139.5,659.9 1139.5,657.9 1139.6,655.9 1139.6,653.9 1139.7,651.9 1139.7,649.9 1139.7,647.9 1139.8,645.9 1139.8,643.9 1139.9,641.9 1139.9,639.9 1139.9,637.9 1140,635.9 1140,633.9 1140.1,631.9 1140.1,629.9 1140.2,627.9 1140.2,626 1140.3,624 1140.3,622 1140.4,620 1140.4,618 1140.5,616 1140.5,614 1140.6,612 1140.7,610 1140.7,608 1140.8,606 1140.9,604 1140.9,602 1141,600 1141.1,598 1141.1,596 1141.2,594 1141.3,592 1141.3,590 1141.4,588 1141.5,586 1141.6,584 1141.6,582 1141.7,580 1141.8,578 1141.9,576 1141.9,574 1142,572 1142.1,570 1142.2,568 1142.3,566 1142.4,564 1142.5,562 1142.5,560 1142.6,558 1142.7,556 1142.8,554 1143,552 1143.1,550 1143.2,548 1143.3,546 1143.4,544 1143.6,542 1143.7,540 1143.9,538 1144,536 1144.2,534 1144.4,532.1 1144.5,530.1 1144.7,528.1 1144.9,526.1 1145.1,524.1 1145.3,522.1 1145.5,520.1 1145.6,518.1 1145.8,516.1 1146,514.1 1146.1,512.1 1146.3,510.1 1146.4,508.1 1146.6,506.1 1146.7,504.2 1146.9,502.2 1147,500.2 1147.2,498.2 1147.3,496.2 1147.5,494.2 1147.6,492.2 1147.8,490.2 1148,488.2 1148.3,486.2"/>
<polyline points="1164.5,467.7 1164.8,469.7 1165.1,471.7 1165.3,473.7 1165.5,475.7 1165.6,477.7 1165.7,479.7 1165.8,481.7 1165.8,483.7 1165.9,485.7 1165.9,486.7"/>
<polyline points="1170.1,732.5 1170.1,730.8 1170.1,729.2 1170.1,727.7 1170.1,724.9 1170.2,722.3 1170.2,719.9 1170.2,717.8 1170.2,715.8 1170.2,713.8 1170.2,711.8 1170.2,709.8 1170.3,707.8 1170.3,705.8 1170.3,703.8 1170.3,701.8 1170.3,699.8 1170.3,697.8 1170.4,695.8 1170.4,693.8 1170.4,691.8 1170.4,689.8 1170.4,687.8 1170.5,685.8 1170.5,683.8 1170.5,681.8 1170.5,679.8 1170.6,677.8 1170.6,675.8 1170.6,673.8 1170.6,671.8 1170.6,669.8 1170.7,667.8 1170.7,665.8 1170.7,663.8 1170.7,661.8 1170.8,659.8 1170.8,657.8 1170.8,655.8 1170.9,653.8 1170.9,651.8 1170.9,649.8 1170.9,647.8 1171,645.8 1171,643.8 1171,641.8 1171.1,639.8 1171.1,637.8 1171.1,635.8 1171.2,633.8 1171.2,631.8 1171.3,629.8 1171.3,627.8 1171.3,625.8 1171.4,623.8 1171.4,621.8 1171.5,619.8 1171.5,617.8 1171.6,615.8 1171.6,613.8 1171.7,611.8 1171.7,609.8 1171.8,607.9 1171.8,605.9 1171.9,603.9 1171.9,601.9 1172,599.9 1172,597.9 1172.1,595.9 1172.1,593.9 1172.2,591.9 1172.3,589.9 1172.3,587.9 1172.4,585.9 1172.5,583.9 1172.5,581.9 1172.6,579.9 1172.7,577.9 1172.7,575.9 1172.8,573.9 1172.9,571.9 1172.9,569.9 1173,567.9 1173.1,565.9 1173.2,563.9 1173.2,561.9 1173.3,559.9 1173.4,557.9 1173.5,555.9 1173.5,553.9 1173.6,551.9 1173.7,549.9 1173.8,547.9 1173.9,545.9 1174,543.9 1174.1,541.9 1174.2,539.9 1174.3,537.9 1174.4,535.9 1174.5,533.9 1174.6,531.9 1174.7,529.9 1174.9,527.9 1175,525.9 1175.1,523.9 1175.3,521.9 1175.4,519.9 1175.6,517.9 1175.8,515.9 1175.9,514 1176.1,512 1176.3,510 1176.5,508 1176.6,506 1176.8,504 1177,502 1177.2,500 1177.3,498 1177.5,496 1177.7,494 1177.8,492 1178,490 1178.1,488 1178.3,486.1 1178.4,484.1 1178.6,482.1 1178.7,480.1 1178.9,478.1 1179.1,476.1 1179.2,474.1 1179.4,472.1 1179.7,470.1"/>
<polyline points="1195.8,449.7 1196.1,451.7 1196.3,453.7 1196.6,455.7 1196.8,457.7 1196.9,459.7 1196.9,461.7 1197,463.7 1197.1,465.7 1197.1,467.7 1197.1,468.7"/>
<polyline points="1201.3,721.2 1201.3,719.5 1201.3,717.9 1201.3,716.4 1201.4,713.5 1201.4,711 1201.4,708.6 1201.4,706.6 1201.4,704.6 1201.4,702.6 1201.4,700.6 1201.5,698.6 1201.5,696.6 1201.5,694.6 1201.5,692.6 1201.5,690.6 1201.5,688.6 1201.5,686.6 1201.6,684.6 1201.6,682.6 1201.6,680.6 1201.6,678.6 1201.6,676.6 1201.7,674.6 1201.7,672.6 1201.7,670.6 1201.7,668.6 1201.7,666.6 1201.8,664.6 1201.8,662.6 1201.8,660.6 1201.8,658.6 1201.8,656.6 1201.9,654.6 1201.9,652.6 1201.9,650.6 1201.9,648.6 1202,646.6 1202,644.6 1202,642.6 1202,640.6 1202.1,638.6 1202.1,636.6 1202.1,634.6 1202.2,632.6 1202.2,630.6 1202.2,628.6 1202.3,626.6 1202.3,624.6 1202.3,622.6 1202.4,620.6 1202.4,618.6 1202.4,616.6 1202.5,614.6 1202.5,612.6 1202.5,610.6 1202.6,608.6 1202.6,606.6 1202.7,604.6 1202.7,602.6 1202.8,600.6 1202.8,598.6 1202.8,596.6 1202.9,594.6 1202.9,592.6 1203,590.6 1203,588.6 1203.1,586.6 1203.1,584.6 1203.2,582.6 1203.3,580.6 1203.3,578.6 1203.4,576.6 1203.4,574.6 1203.5,572.6 1203.5,570.6 1203.6,568.6 1203.7,566.6 1203.7,564.6 1203.8,562.6 1203.9,560.6 1203.9,558.6 1204,556.6 1204.1,554.6 1204.1,552.6 1204.2,550.6 1204.3,548.6 1204.4,546.6 1204.4,544.6 1204.5,542.6 1204.6,540.6 1204.7,538.6 1204.7,536.6 1204.8,534.6 1204.9,532.6 1205,530.6 1205.1,528.6 1205.2,526.6 1205.3,524.6 1205.4,522.6 1205.5,520.6 1205.6,518.6 1205.7,516.6 1205.8,514.6 1205.9,512.6 1206,510.6 1206.2,508.6 1206.3,506.6 1206.5,504.6 1206.6,502.7 1206.8,500.7 1206.9,498.7 1207.1,496.7 1207.3,494.7 1207.4,492.7 1207.6,490.7 1207.8,488.7 1208,486.7 1208.1,484.7 1208.3,482.7 1208.4,480.7 1208.6,478.7 1208.7,476.7 1208.9,474.7 1209,472.7 1209.2,470.8 1209.3,468.8 1209.5,466.8 1209.6,464.8 1209.8,462.8 1209.9,460.8 1210.1,458.8 1210.3,456.8 1210.5,454.8 1210.7,452.8 1211,450.8"/>
<polyline points="1226.7,431.4 1226.9,433.4 1227.1,435.4 1227.4,437.4 1227.5,439.4 1227.6,441.4 1227.7,443.4 1227.8,445.4 1227.8,447.4 1227.9,449.4 1227.9,450.4"/>
<polyline points="1232.1,703.7 1232.1,702 1232.1,700.4 1232.1,698.9 1232.1,696.1 1232.1,693.5 1232.1,691.2 1232.1,689.1 1232.2,687.1 1232.2,685.1 1232.2,683.1 1232.2,681.1 1232.2,679.1 1232.2,677.1 1232.2,675.1 1232.3,673.1 1232.3,671.1 1232.3,669.1 1232.3,667.1 1232.3,665.1 1232.3,663.1 1232.4,661.1 1232.4,659.1 1232.4,657.1 1232.4,655.1 1232.4,653.1 1232.5,651.1 1232.5,649.1 1232.5,647.1 1232.5,645.1 1232.5,643.1 1232.6,641.1 1232.6,639.1 1232.6,637.1 1232.6,635.1 1232.6,633.1 1232.7,631.1 1232.7,629.1 1232.7,627.1 1232.7,625.1 1232.8,623.1 1232.8,621.1 1232.8,619.1 1232.9,617.1 1232.9,615.1 1232.9,613.1 1233,611.1 1233,609.1 1233,607.1 1233,605.1 1233.1,603.1 1233.1,601.1 1233.2,599.1 1233.2,597.1 1233.2,595.1 1233.3,593.1 1233.3,591.1 1233.3,589.1 1233.4,587.1 1233.4,585.1 1233.5,583.1 1233.5,581.1 1233.6,579.1 1233.6,577.1 1233.6,575.1 1233.7,573.1 1233.7,571.1 1233.8,569.1 1233.8,567.1 1233.9,565.1 1233.9,563.1 1234,561.1 1234.1,559.1 1234.1,557.1 1234.2,555.1 1234.2,553.1 1234.3,551.1 1234.3,549.1 1234.4,547.1 1234.5,545.1 1234.5,543.1 1234.6,541.1 1234.7,539.1 1234.7,537.1 1234.8,535.1 1234.9,533.1 1234.9,531.1 1235,529.1 1235.1,527.1 1235.2,525.1 1235.2,523.1 1235.3,521.1 1235.4,519.1 1235.5,517.1 1235.5,515.1 1235.6,513.1 1235.7,511.1 1235.8,509.1 1235.9,507.1 1236,505.1 1236.1,503.2 1236.2,501.2 1236.3,499.2 1236.4,497.2 1236.5,495.2 1236.7,493.2 1236.8,491.2 1236.9,489.2 1237.1,487.2 1237.2,485.2 1237.4,483.2 1237.6,481.2 1237.7,479.2 1237.9,477.2 1238,475.2 1238.2,473.2 1238.4,471.2 1238.5,469.2 1238.7,467.2 1238.8,465.3 1239,463.3 1239.1,461.3 1239.2,459.3 1239.4,457.3 1239.5,455.3 1239.6,453.3 1239.8,451.3 1239.9,449.3 1240,447.3 1240.2,445.3 1240.3,443.3 1240.5,441.3 1240.6,439.3 1240.8,437.3 1241,435.3"/>
<polyline points="1257.1,413.4 1257.3,415.4 1257.6,417.4 1257.8,419.4 1258,421.4 1258.1,423.4 1258.2,425.4 1258.3,427.4 1258.3,429.4 1258.4,431.4 1258.4,432.4"/>
<polyline points="1262.6,687.7 1262.6,686 1262.6,684.4 1262.6,682.9 1262.6,680 1262.6,677.5 1262.6,675.2 1262.7,673.1 1262.7,671.1 1262.7,669.1 1262.7,667.1 1262.7,665.1 1262.7,663.1 1262.7,661.1 1262.8,659.1 1262.8,657.1 1262.8,655.1 1262.8,653.1 1262.8,651.1 1262.8,649.1 1262.9,647.1 1262.9,645.1 1262.9,643.1 1262.9,641.1 1262.9,639.1 1262.9,637.1 1263,635.1 1263,633.1 1263,631.1 1263,629.1 1263,627.1 1263.1,625.1 1263.1,623.1 1263.1,621.1 1263.1,619.1 1263.2,617.1 1263.2,615.1 1263.2,613.1 1263.2,611.1 1263.3,609.1 1263.3,607.1 1263.3,605.1 1263.3,603.1 1263.4,601.1 1263.4,599.1 1263.4,597.1 1263.5,595.1 1263.5,593.1 1263.5,591.1 1263.6,589.1 1263.6,587.1 1263.6,585.1 1263.7,583.1 1263.7,581.1 1263.7,579.1 1263.8,577.1 1263.8,575.1 1263.9,573.1 1263.9,571.1 1263.9,569.1 1264,567.1 1264,565.1 1264.1,563.1 1264.1,561.1 1264.2,559.1 1264.2,557.1 1264.3,555.1 1264.3,553.1 1264.4,551.1 1264.4,549.1 1264.5,547.1 1264.5,545.1 1264.6,543.1 1264.6,541.1 1264.7,539.1 1264.7,537.1 1264.8,535.1 1264.9,533.1 1264.9,531.1 1265,529.1 1265,527.1 1265.1,525.1 1265.2,523.1 1265.2,521.1 1265.3,519.1 1265.4,517.1 1265.4,515.1 1265.5,513.1 1265.6,511.1 1265.7,509.1 1265.7,507.1 1265.8,505.1 1265.9,503.1 1266,501.1 1266.1,499.1 1266.1,497.1 1266.2,495.1 1266.3,493.1 1266.4,491.1 1266.5,489.1 1266.6,487.1 1266.7,485.1 1266.8,483.1 1266.9,481.2 1267.1,479.2 1267.2,477.2 1267.3,475.2 1267.4,473.2 1267.6,471.2 1267.7,469.2 1267.9,467.2 1268,465.2 1268.2,463.2 1268.4,461.2 1268.5,459.2 1268.7,457.2 1268.8,455.2 1269,453.2 1269.2,451.2 1269.3,449.2 1269.5,447.2 1269.6,445.3 1269.8,443.3 1269.9,441.3 1270.1,439.3 1270.2,437.3 1270.4,435.3 1270.6,433.3 1270.7,431.3 1270.9,429.3 1271,427.3 1271.2,425.3 1271.4,423.3 1271.6,421.3 1271.8,419.3 1272,417.4"/>
<polyline points="1288.1,394.8 1288.3,396.8 1288.6,398.8 1288.8,400.8 1289,402.8 1289.1,404.8 1289.2,406.8 1289.3,408.8 1289.3,410.8 1289.4,412.8 1289.4,413.8"/>
<polyline points="1293.6,670.1 1293.6,668.4 1293.6,666.8 1293.6,665.3 1293.6,662.5 1293.6,659.9 1293.6,657.6 1293.6,655.5 1293.7,653.5 1293.7,651.5 1293.7,649.5 1293.7,647.5 1293.7,645.5 1293.7,643.5 1293.7,641.5 1293.8,639.5 1293.8,637.5 1293.8,635.5 1293.8,633.5 1293.8,631.5 1293.8,629.5 1293.9,627.5 1293.9,625.5 1293.9,623.5 1293.9,621.5 1293.9,619.5 1294,617.5 1294,615.5 1294,613.5 1294,611.5 1294,609.5 1294.1,607.5 1294.1,605.5 1294.1,603.5 1294.1,601.5 1294.2,599.5 1294.2,597.5 1294.2,595.5 1294.2,593.5 1294.3,591.5 1294.3,589.5 1294.3,587.5 1294.3,585.5 1294.4,583.5 1294.4,581.5 1294.4,579.5 1294.5,577.5 1294.5,575.5 1294.5,573.5 1294.6,571.5 1294.6,569.5 1294.6,567.5 1294.7,565.5 1294.7,563.5 1294.7,561.5 1294.8,559.5 1294.8,557.5 1294.8,555.5 1294.9,553.5 1294.9,551.5 1295,549.5 1295,547.5 1295,545.5 1295.1,543.5 1295.1,541.5 1295.2,539.5 1295.2,537.6 1295.3,535.6 1295.3,533.6 1295.4,531.6 1295.4,529.6 1295.5,527.6 1295.5,525.6 1295.6,523.6 1295.6,521.6 1295.7,519.6 1295.8,517.6 1295.8,515.6 1295.9,513.6 1295.9,511.6 1296,509.6 1296.1,507.6 1296.1,505.6 1296.2,503.6 1296.3,501.6 1296.3,499.6 1296.4,497.6 1296.5,495.6 1296.5,493.6 1296.6,491.6 1296.7,489.6 1296.8,487.6 1296.8,485.6 1296.9,483.6 1297,481.6 1297.1,479.6 1297.2,477.6 1297.3,475.6 1297.4,473.6 1297.4,471.6 1297.5,469.6 1297.7,467.6 1297.8,465.6 1297.9,463.6 1298,461.6 1298.1,459.6 1298.2,457.6 1298.4,455.6 1298.5,453.6 1298.7,451.6 1298.8,449.6 1298.9,447.6 1299.1,445.6 1299.3,443.6 1299.4,441.7 1299.6,439.7 1299.7,437.7 1299.9,435.7 1300,433.7 1300.2,431.7 1300.3,429.7 1300.5,427.7 1300.6,425.7 1300.8,423.7 1300.9,421.7 1301.1,419.7 1301.2,417.7 1301.4,415.7 1301.5,413.7 1301.7,411.7 1301.8,409.7 1302,407.8 1302.2,405.8 1302.4,403.8 1302.6,401.8 1302.8,399.8"/>
<polyline points="1318.1,375.5 1318.3,377.5 1318.5,379.5 1318.7,381.5 1318.9,383.5 1319,385.5 1319.1,387.5 1319.2,389.5 1319.2,391.5 1319.3,393.5 1319.3,395.5"/>
<polyline points="1323.3,653.2 1323.3,651.5 1323.3,650 1323.4,647.1 1323.4,644.4 1323.4,642 1323.4,639.9 1323.4,637.9 1323.4,635.9 1323.4,633.9 1323.5,631.9 1323.5,629.9 1323.5,627.9 1323.5,625.9 1323.5,623.9 1323.5,621.9 1323.5,619.9 1323.6,617.9 1323.6,615.9 1323.6,613.9 1323.6,611.9 1323.6,609.9 1323.7,607.9 1323.7,605.9 1323.7,603.9 1323.7,601.9 1323.7,599.9 1323.8,597.9 1323.8,595.9 1323.8,593.9 1323.8,591.9 1323.8,589.9 1323.9,587.9 1323.9,585.9 1323.9,583.9 1323.9,581.9 1324,579.9 1324,577.9 1324,575.9 1324,573.9 1324.1,571.9 1324.1,569.9 1324.1,567.9 1324.2,565.9 1324.2,563.9 1324.2,561.9 1324.3,559.9 1324.3,557.9 1324.3,555.9 1324.4,553.9 1324.4,551.9 1324.4,549.9 1324.5,547.9 1324.5,545.9 1324.5,543.9 1324.6,541.9 1324.6,539.9 1324.6,537.9 1324.7,535.9 1324.7,533.9 1324.8,531.9 1324.8,529.9 1324.8,527.9 1324.9,525.9 1324.9,523.9 1325,521.9 1325,519.9 1325.1,517.9 1325.1,515.9 1325.2,513.9 1325.2,511.9 1325.3,509.9 1325.3,507.9 1325.4,505.9 1325.5,503.9 1325.5,501.9 1325.6,499.9 1325.6,497.9 1325.7,495.9 1325.8,493.9 1325.8,491.9 1325.9,489.9 1326,487.9 1326,485.9 1326.1,483.9 1326.2,481.9 1326.2,479.9 1326.3,477.9 1326.4,475.9 1326.4,473.9 1326.5,471.9 1326.6,469.9 1326.7,467.9 1326.8,465.9 1326.9,463.9 1326.9,461.9 1327,459.9 1327.1,457.9 1327.2,455.9 1327.3,453.9 1327.4,451.9 1327.5,449.9 1327.6,447.9 1327.8,445.9 1327.9,443.9 1328,441.9 1328.1,439.9 1328.3,437.9 1328.4,436 1328.5,434 1328.7,432 1328.8,430 1329,428 1329.2,426 1329.3,424 1329.5,422 1329.6,420 1329.8,418 1330,416 1330.1,414 1330.3,412 1330.5,410 1330.7,408 1330.8,406 1331,404.1 1331.2,402.1 1331.4,400.1 1331.5,398.1 1331.7,396.1 1331.9,394.1 1332.1,392.1 1332.3,390.1 1332.5,388.1 1332.8,386.1 1333,384.2 1333.3,382.2"/>
<polyline points="1348.8,356.8 1349.1,358.8 1349.3,360.8 1349.5,362.8 1349.7,364.8 1349.9,366.8 1349.9,368.8 1350,370.8 1350.1,372.8 1350.1,374.8 1350.2,376.8"/>
<polyline points="1354,638.2 1354,636.6 1354.1,635 1354.1,633.4 1354.1,630.6 1354.1,628 1354.1,625.6 1354.1,623.5 1354.1,621.4 1354.2,619.4 1354.2,617.4 1354.2,615.4 1354.2,613.4 1354.2,611.4 1354.2,609.4 1354.2,607.4 1354.3,605.4 1354.3,603.4 1354.3,601.4 1354.3,599.4 1354.3,597.4 1354.3,595.4 1354.4,593.4 1354.4,591.4 1354.4,589.4 1354.4,587.4 1354.4,585.4 1354.4,583.4 1354.5,581.4 1354.5,579.4 1354.5,577.4 1354.5,575.4 1354.6,573.4 1354.6,571.4 1354.6,569.4 1354.6,567.4 1354.6,565.4 1354.7,563.4 1354.7,561.4 1354.7,559.4 1354.8,557.4 1354.8,555.4 1354.8,553.4 1354.8,551.4 1354.9,549.4 1354.9,547.5 1354.9,545.5 1354.9,543.5 1355,541.5 1355,539.5 1355,537.5 1355.1,535.5 1355.1,533.5 1355.1,531.5 1355.2,529.5 1355.2,527.5 1355.2,525.5 1355.3,523.5 1355.3,521.5 1355.4,519.5 1355.4,517.5 1355.4,515.5 1355.5,513.5 1355.5,511.5 1355.6,509.5 1355.6,507.5 1355.6,505.5 1355.7,503.5 1355.7,501.5 1355.8,499.5 1355.8,497.5 1355.9,495.5 1355.9,493.5 1356,491.5 1356,489.5 1356.1,487.5 1356.2,485.5 1356.2,483.5 1356.3,481.5 1356.3,479.5 1356.4,477.5 1356.4,475.5 1356.5,473.5 1356.6,471.5 1356.6,469.5 1356.7,467.5 1356.8,465.5 1356.8,463.5 1356.9,461.5 1357,459.5 1357.1,457.5 1357.1,455.5 1357.2,453.5 1357.3,451.5 1357.4,449.5 1357.4,447.5 1357.5,445.5 1357.6,443.5 1357.7,441.5 1357.8,439.5 1357.9,437.5 1358,435.5 1358.1,433.5 1358.2,431.5 1358.3,429.5 1358.4,427.5 1358.6,425.5 1358.7,423.5 1358.8,421.5 1358.9,419.5 1359.1,417.5 1359.2,415.5 1359.4,413.5 1359.5,411.5 1359.7,409.6 1359.8,407.6 1360,405.6 1360.1,403.6 1360.3,401.6 1360.4,399.6 1360.6,397.6 1360.8,395.6 1360.9,393.6 1361.1,391.6 1361.2,389.6 1361.4,387.6 1361.6,385.6 1361.7,383.6 1361.9,381.6 1362.1,379.6 1362.2,377.7 1362.4,375.7 1362.6,373.7 1362.8,371.7 1363,369.7 1363.2,367.7 1363.5,365.7"/>
<polyline points="1379.3,339.5 1379.5,341.5 1379.8,343.5 1380,345.5 1380.2,347.5 1380.3,349.5 1380.3,351.5 1380.4,353.5 1380.5,355.5 1380.5,357.5 1380.5,358.5"/>
<polyline points="1384.3,625.2 1384.3,623.5 1384.3,621.9 1384.3,620.4 1384.3,617.6 1384.3,615 1384.4,612.6 1384.4,610.5 1384.4,608.5 1384.4,606.5 1384.4,604.5 1384.4,602.5 1384.4,600.5 1384.4,598.5 1384.5,596.5 1384.5,594.5 1384.5,592.5 1384.5,590.5 1384.5,588.5 1384.5,586.5 1384.5,584.5 1384.6,582.5 1384.6,580.5 1384.6,578.5 1384.6,576.5 1384.6,574.5 1384.7,572.5 1384.7,570.5 1384.7,568.5 1384.7,566.5 1384.7,564.5 1384.8,562.5 1384.8,560.5 1384.8,558.5 1384.8,556.5 1384.8,554.5 1384.9,552.5 1384.9,550.5 1384.9,548.5 1384.9,546.5 1385,544.5 1385,542.5 1385,540.5 1385,538.5 1385.1,536.5 1385.1,534.5 1385.1,532.5 1385.2,530.5 1385.2,528.5 1385.2,526.5 1385.2,524.5 1385.3,522.5 1385.3,520.5 1385.3,518.5 1385.4,516.5 1385.4,514.5 1385.4,512.5 1385.5,510.5 1385.5,508.5 1385.5,506.5 1385.6,504.5 1385.6,502.5 1385.6,500.5 1385.7,498.5 1385.7,496.5 1385.8,494.5 1385.8,492.5 1385.9,490.5 1385.9,488.5 1385.9,486.5 1386,484.5 1386,482.5 1386.1,480.5 1386.1,478.5 1386.2,476.5 1386.2,474.5 1386.3,472.5 1386.3,470.5 1386.4,468.5 1386.4,466.5 1386.5,464.5 1386.6,462.5 1386.6,460.5 1386.7,458.5 1386.7,456.5 1386.8,454.5 1386.9,452.5 1386.9,450.5 1387,448.5 1387.1,446.5 1387.1,444.5 1387.2,442.5 1387.3,440.5 1387.3,438.5 1387.4,436.5 1387.5,434.5 1387.6,432.5 1387.6,430.5 1387.7,428.5 1387.8,426.5 1387.9,424.5 1388,422.5 1388.1,420.5 1388.2,418.5 1388.3,416.5 1388.4,414.5 1388.5,412.5 1388.6,410.5 1388.7,408.5 1388.9,406.5 1389,404.6 1389.1,402.6 1389.2,400.6 1389.4,398.6 1389.5,396.6 1389.7,394.6 1389.8,392.6 1390,390.6 1390.1,388.6 1390.3,386.6 1390.4,384.6 1390.6,382.6 1390.7,380.6 1390.8,378.6 1391,376.6 1391.1,374.6 1391.2,372.6 1391.4,370.6 1391.5,368.6 1391.7,366.6 1391.8,364.7 1392,362.7 1392.1,360.7 1392.3,358.7 1392.4,356.7 1392.6,354.7 1392.8,352.7 1393,350.7 1393.2,348.7 1393.4,346.7"/>
<polyline points="1408.8,320.5 1409.1,322.5 1409.3,324.5 1409.5,326.5 1409.7,328.5 1409.8,330.5 1409.9,332.5 1410,334.5 1410.1,336.5 1410.1,338.5 1410.1,340.5"/>
<polyline points="1413.8,612.1 1413.8,610.4 1413.8,608.9 1413.8,605.9 1413.8,603.3 1413.9,600.8 1413.9,598.6 1413.9,596.5 1413.9,594.5 1413.9,592.5 1413.9,590.5 1413.9,588.5 1414,586.5 1414,584.5 1414,582.5 1414,580.5 1414,578.5 1414,576.5 1414,574.5 1414.1,572.5 1414.1,570.5 1414.1,568.5 1414.1,566.5 1414.1,564.5 1414.1,562.5 1414.2,560.5 1414.2,558.5 1414.2,556.5 1414.2,554.5 1414.2,552.5 1414.3,550.5 1414.3,548.5 1414.3,546.5 1414.3,544.5 1414.3,542.5 1414.4,540.5 1414.4,538.5 1414.4,536.5 1414.4,534.5 1414.5,532.5 1414.5,530.5 1414.5,528.5 1414.5,526.5 1414.6,524.5 1414.6,522.5 1414.6,520.5 1414.6,518.5 1414.7,516.5 1414.7,514.5 1414.7,512.5 1414.8,510.5 1414.8,508.5 1414.8,506.5 1414.9,504.5 1414.9,502.5 1414.9,500.5 1415,498.5 1415,496.5 1415,494.5 1415.1,492.5 1415.1,490.5 1415.1,488.5 1415.2,486.5 1415.2,484.5 1415.2,482.5 1415.3,480.5 1415.3,478.5 1415.4,476.5 1415.4,474.5 1415.5,472.5 1415.5,470.5 1415.6,468.5 1415.6,466.5 1415.6,464.5 1415.7,462.5 1415.7,460.5 1415.8,458.5 1415.9,456.5 1415.9,454.5 1416,452.5 1416,450.5 1416.1,448.5 1416.1,446.5 1416.2,444.5 1416.2,442.5 1416.3,440.5 1416.4,438.5 1416.4,436.5 1416.5,434.5 1416.6,432.5 1416.6,430.5 1416.7,428.5 1416.8,426.5 1416.8,424.5 1416.9,422.5 1417,420.5 1417.1,418.5 1417.1,416.5 1417.2,414.6 1417.3,412.6 1417.4,410.6 1417.5,408.6 1417.6,406.6 1417.7,404.6 1417.8,402.6 1417.9,400.6 1418,398.6 1418.1,396.6 1418.2,394.6 1418.3,392.6 1418.4,390.6 1418.5,388.6 1418.7,386.6 1418.8,384.6 1418.9,382.6 1419.1,380.6 1419.2,378.6 1419.4,376.6 1419.5,374.6 1419.6,372.6 1419.8,370.6 1420,368.6 1420.1,366.6 1420.3,364.6 1420.4,362.7 1420.5,360.7 1420.7,358.7 1420.8,356.7 1421,354.7 1421.2,352.7 1421.3,350.7 1421.5,348.7 1421.6,346.7 1421.8,344.7 1422,342.7 1422.1,340.7 1422.3,338.7 1422.5,336.7 1422.7,334.7 1422.9,332.8 1423.1,330.8 1423.4,328.8"/>
<polyline points="1438.7,301.8 1439,303.8 1439.2,305.8 1439.4,307.8 1439.6,309.8 1439.7,311.8 1439.8,313.8 1439.9,315.8 1439.9,317.8 1440,319.8 1440,321.8"/>
<polyline points="1443.5,599.5 1443.5,597.8 1443.6,596.1 1443.6,594.6 1443.6,591.7 1443.6,589 1443.6,586.6 1443.6,584.3 1443.6,582.3 1443.6,580.3 1443.7,578.3 1443.7,576.3 1443.7,574.3 1443.7,572.3 1443.7,570.3 1443.7,568.3 1443.7,566.3 1443.8,564.3 1443.8,562.3 1443.8,560.3 1443.8,558.3 1443.8,556.3 1443.8,554.3 1443.8,552.3 1443.9,550.3 1443.9,548.3 1443.9,546.3 1443.9,544.3 1443.9,542.3 1444,540.3 1444,538.3 1444,536.3 1444,534.3 1444,532.3 1444.1,530.3 1444.1,528.3 1444.1,526.3 1444.1,524.3 1444.1,522.3 1444.2,520.3 1444.2,518.3 1444.2,516.3 1444.2,514.3 1444.3,512.3 1444.3,510.3 1444.3,508.3 1444.3,506.3 1444.4,504.3 1444.4,502.3 1444.4,500.3 1444.5,498.3 1444.5,496.3 1444.5,494.3 1444.5,492.3 1444.6,490.3 1444.6,488.3 1444.6,486.3 1444.7,484.3 1444.7,482.3 1444.7,480.3 1444.8,478.3 1444.8,476.3 1444.8,474.3 1444.9,472.3 1444.9,470.3 1445,468.3 1445,466.3 1445,464.3 1445.1,462.3 1445.1,460.3 1445.2,458.3 1445.2,456.3 1445.2,454.3 1445.3,452.3 1445.3,450.3 1445.4,448.3 1445.4,446.3 1445.5,444.3 1445.5,442.3 1445.6,440.3 1445.6,438.3 1445.7,436.3 1445.7,434.3 1445.8,432.3 1445.9,430.3 1445.9,428.3 1446,426.3 1446,424.3 1446.1,422.3 1446.1,420.3 1446.2,418.3 1446.3,416.3 1446.3,414.3 1446.4,412.3 1446.5,410.3 1446.5,408.3 1446.6,406.3 1446.7,404.3 1446.8,402.3 1446.8,400.3 1446.9,398.3 1447,396.3 1447.1,394.3 1447.2,392.3 1447.3,390.3 1447.3,388.3 1447.4,386.3 1447.5,384.3 1447.6,382.4 1447.7,380.4 1447.8,378.4 1448,376.4 1448.1,374.4 1448.2,372.4 1448.3,370.4 1448.4,368.4 1448.6,366.4 1448.7,364.4 1448.8,362.4 1449,360.4 1449.1,358.4 1449.3,356.4 1449.4,354.4 1449.6,352.4 1449.7,350.4 1449.9,348.4 1450,346.4 1450.1,344.4 1450.3,342.4 1450.4,340.4 1450.6,338.4 1450.7,336.5 1450.8,334.5 1451,332.5 1451.1,330.5 1451.3,328.5 1451.4,326.5 1451.6,324.5 1451.7,322.5 1451.9,320.5 1452.1,318.5 1452.3,316.5 1452.5,314.5 1452.7,312.5 1452.9,310.6"/>
<polyline points="1468.5,284.5 1468.8,286.5 1469,288.5 1469.2,290.5 1469.4,292.5 1469.5,294.5 1469.6,296.5 1469.6,298.5 1469.7,300.5 1469.7,302.5 1469.8,303.5"/>
<polyline points="1473.3,585.9 1473.3,584.2 1473.3,582.6 1473.3,581.1 1473.3,578.2 1473.3,575.6 1473.3,573.1 1473.4,570.9 1473.4,568.9 1473.4,566.9 1473.4,564.9 1473.4,562.9 1473.4,560.9 1473.4,558.9 1473.4,556.9 1473.5,554.9 1473.5,552.9 1473.5,550.9 1473.5,548.9 1473.5,546.9 1473.5,544.9 1473.5,542.9 1473.6,540.9 1473.6,538.9 1473.6,536.9 1473.6,534.9 1473.6,532.9 1473.6,530.9 1473.7,528.9 1473.7,526.9 1473.7,524.9 1473.7,522.9 1473.7,520.9 1473.8,518.9 1473.8,516.9 1473.8,514.9 1473.8,512.9 1473.8,510.9 1473.9,508.9 1473.9,506.9 1473.9,504.9 1473.9,502.9 1474,500.9 1474,498.9 1474,496.9 1474,494.9 1474.1,492.9 1474.1,490.9 1474.1,488.9 1474.1,486.9 1474.2,484.9 1474.2,482.9 1474.2,480.9 1474.2,478.9 1474.3,476.9 1474.3,474.9 1474.3,472.9 1474.4,470.9 1474.4,468.9 1474.4,466.9 1474.5,464.9 1474.5,462.9 1474.5,460.9 1474.6,458.9 1474.6,456.9 1474.6,454.9 1474.7,452.9 1474.7,450.9 1474.7,448.9 1474.8,446.9 1474.8,444.9 1474.9,442.9 1474.9,440.9 1475,438.9 1475,436.9 1475,434.9 1475.1,432.9 1475.1,430.9 1475.2,428.9 1475.2,426.9 1475.3,424.9 1475.3,422.9 1475.4,420.9 1475.4,418.9 1475.5,416.9 1475.5,414.9 1475.6,412.9 1475.6,410.9 1475.7,408.9 1475.8,406.9 1475.8,404.9 1475.9,402.9 1475.9,400.9 1476,398.9 1476.1,396.9 1476.1,394.9 1476.2,392.9 1476.3,390.9 1476.3,388.9 1476.4,386.9 1476.5,384.9 1476.6,382.9 1476.6,380.9 1476.7,378.9 1476.8,376.9 1476.9,374.9 1477,372.9 1477,370.9 1477.1,368.9 1477.2,366.9 1477.3,364.9 1477.4,362.9 1477.5,360.9 1477.7,358.9 1477.8,356.9 1477.9,354.9 1478,352.9 1478.1,350.9 1478.3,348.9 1478.4,346.9 1478.5,344.9 1478.7,342.9 1478.8,340.9 1478.9,339 1479.1,337 1479.2,335 1479.4,333 1479.5,331 1479.6,329 1479.7,327 1479.9,325 1480,323 1480.1,321 1480.2,319 1480.4,317 1480.5,315 1480.6,313 1480.7,311 1480.9,309 1481,307 1481.1,305 1481.3,303 1481.4,301 1481.6,299 1481.8,297.1 1482,295.1 1482.2,293.1"/>
<polyline points="1497.8,266.5 1498,268.5 1498.3,270.5 1498.5,272.5 1498.6,274.5 1498.7,276.5 1498.8,278.5 1498.9,280.5 1499,282.5 1499,284.5 1499,285.5"/>
<polyline points="1502.5,570.8 1502.5,569.2 1502.6,567.6 1502.6,566.1 1502.6,563.2 1502.6,560.6 1502.6,558.2 1502.6,555.9 1502.6,553.9 1502.6,551.9 1502.7,549.9 1502.7,547.9 1502.7,545.9 1502.7,543.9 1502.7,541.9 1502.7,539.9 1502.7,537.9 1502.8,535.9 1502.8,533.9 1502.8,531.9 1502.8,529.9 1502.8,527.9 1502.8,525.9 1502.8,523.9 1502.9,521.9 1502.9,519.9 1502.9,517.9 1502.9,515.9 1502.9,513.9 1502.9,511.9 1503,509.9 1503,507.9 1503,505.9 1503,503.9 1503,501.9 1503.1,499.9 1503.1,497.9 1503.1,495.9 1503.1,493.9 1503.2,491.9 1503.2,489.9 1503.2,487.9 1503.2,485.9 1503.2,483.9 1503.3,481.9 1503.3,479.9 1503.3,477.9 1503.3,475.9 1503.4,473.9 1503.4,471.9 1503.4,469.9 1503.5,467.9 1503.5,465.9 1503.5,463.9 1503.5,461.9 1503.6,459.9 1503.6,457.9 1503.6,455.9 1503.7,453.9 1503.7,451.9 1503.7,449.9 1503.8,447.9 1503.8,445.9 1503.8,443.9 1503.9,441.9 1503.9,439.9 1503.9,437.9 1504,435.9 1504,433.9 1504,431.9 1504.1,429.9 1504.1,427.9 1504.2,425.9 1504.2,423.9 1504.3,421.9 1504.3,419.9 1504.3,417.9 1504.4,415.9 1504.4,413.9 1504.5,411.9 1504.5,409.9 1504.6,407.9 1504.6,405.9 1504.7,403.9 1504.7,401.9 1504.8,399.9 1504.8,397.9 1504.9,395.9 1505,393.9 1505,391.9 1505.1,389.9 1505.1,387.9 1505.2,385.9 1505.2,383.9 1505.3,381.9 1505.4,379.9 1505.4,377.9 1505.5,375.9 1505.6,373.9 1505.6,371.9 1505.7,369.9 1505.8,367.9 1505.9,365.9 1505.9,363.9 1506,361.9 1506.1,359.9 1506.2,357.9 1506.3,355.9 1506.4,353.9 1506.5,351.9 1506.5,349.9 1506.6,348 1506.7,346 1506.9,344 1507,342 1507.1,340 1507.2,338 1507.3,336 1507.4,334 1507.6,332 1507.7,330 1507.8,328 1508,326 1508.1,324 1508.2,322 1508.4,320 1508.5,318 1508.7,316 1508.8,314 1508.9,312 1509.1,310 1509.2,308 1509.3,306 1509.4,304 1509.6,302 1509.7,300.1 1509.8,298.1 1510,296.1 1510.1,294.1 1510.2,292.1 1510.4,290.1 1510.5,288.1 1510.7,286.1 1510.8,284.1 1511,282.1 1511.2,280.1 1511.4,278.1 1511.6,276.1 1511.9,274.1"/>
<polyline points="1526.8,247.2 1527.1,249.2 1527.3,251.2 1527.5,253.2 1527.6,255.2 1527.8,257.2 1527.8,259.2 1527.9,261.2 1528,263.2 1528,265.2 1528,267.2"/>
<polyline points="1531.5,556.5 1531.5,554.9 1531.5,553.3 1531.6,551.8 1531.6,549 1531.6,546.4 1531.6,543.9 1531.6,541.7 1531.6,539.7 1531.6,537.7 1531.6,535.7 1531.7,533.7 1531.7,531.7 1531.7,529.7 1531.7,527.7 1531.7,525.7 1531.7,523.7 1531.7,521.7 1531.7,519.7 1531.8,517.7 1531.8,515.7 1531.8,513.7 1531.8,511.7 1531.8,509.7 1531.8,507.7 1531.9,505.7 1531.9,503.7 1531.9,501.7 1531.9,499.7 1531.9,497.7 1531.9,495.7 1532,493.7 1532,491.7 1532,489.7 1532,487.7 1532,485.7 1532.1,483.7 1532.1,481.7 1532.1,479.7 1532.1,477.7 1532.1,475.7 1532.2,473.7 1532.2,471.7 1532.2,469.7 1532.2,467.7 1532.3,465.7 1532.3,463.7 1532.3,461.7 1532.3,459.7 1532.4,457.7 1532.4,455.7 1532.4,453.7 1532.4,451.7 1532.5,449.7 1532.5,447.7 1532.5,445.7 1532.5,443.7 1532.6,441.7 1532.6,439.7 1532.6,437.7 1532.7,435.7 1532.7,433.7 1532.7,431.7 1532.8,429.7 1532.8,427.7 1532.8,425.7 1532.9,423.7 1532.9,421.7 1532.9,419.7 1533,417.7 1533,415.7 1533,413.7 1533.1,411.7 1533.1,409.7 1533.2,407.7 1533.2,405.7 1533.2,403.7 1533.3,401.7 1533.3,399.7 1533.4,397.7 1533.4,395.7 1533.5,393.7 1533.5,391.7 1533.6,389.7 1533.6,387.7 1533.7,385.7 1533.7,383.7 1533.8,381.7 1533.8,379.7 1533.9,377.7 1533.9,375.7 1534,373.7 1534,371.7 1534.1,369.7 1534.2,367.7 1534.2,365.7 1534.3,363.7 1534.3,361.7 1534.4,359.7 1534.5,357.7 1534.5,355.7 1534.6,353.7 1534.7,351.7 1534.7,349.7 1534.8,347.7 1534.9,345.7 1535,343.7 1535.1,341.7 1535.1,339.7 1535.2,337.7 1535.3,335.7 1535.4,333.7 1535.5,331.7 1535.6,329.7 1535.7,327.7 1535.8,325.7 1535.9,323.7 1536,321.8 1536.1,319.8 1536.2,317.8 1536.4,315.8 1536.5,313.8 1536.6,311.8 1536.8,309.8 1536.9,307.8 1537,305.8 1537.1,303.8 1537.3,301.8 1537.4,299.8 1537.5,297.8 1537.7,295.8 1537.8,293.8 1537.9,291.8 1538,289.8 1538.1,287.8 1538.2,285.8 1538.3,283.8 1538.5,281.8 1538.6,279.8 1538.7,277.8 1538.8,275.8 1538.9,273.8 1539,271.8 1539.1,269.8 1539.3,267.8 1539.4,265.9 1539.5,263.9 1539.7,261.9 1539.9,259.9 1540,257.9 1540.3,255.9"/>
<polyline points="1556,229.5 1556.3,231.5 1556.5,233.5 1556.7,235.5 1556.9,237.5 1557,239.5 1557.1,241.5 1557.2,243.5 1557.2,245.5 1557.3,247.5 1557.3,248.5"/>
</g>
<path stroke-width="4.6" d="M317.3 1031.7h0M317.6 1029.7h0M317.6 1029.7h0M317.9 1034.7h0M318.2 1038.8h0M318.5 1042h0M318.7 1044.6h0M318.8 1046h0M346.3 1020.4h0M346.6 1018.4h0M346.6 1018.4h0M346.9 1024.2h0M347.2 1029h0M347.4 1032.9h0M347.6 1036h0M347.7 1038.4h0M347.8 1039.3h0M375.5 1005.3h0M375.8 1003.3h0M375.8 1003.3h0M376.2 1010.6h0M376.5 1016.6h0M376.9 1021.7h0M377.1 1025.7h0M377.4 1029h0M377.6 1031.6h0M377.7 1033h0M404.9 989.5h0M405.2 977.4h0M405.4 965.2h0M405.4 965.2h0M405.6 975.3h0M405.9 984.9h0M406.2 994.1h0M406.5 1002h0M406.8 1008.5h0M407.1 1014h0M407.3 1018.5h0M407.5 1022.1h0M407.6 1025h0M407.8 1027.3h0M407.8 1027.5h0M435.1 974h0M435.3 956.8h0M435.4 939.7h0M435.6 922.5h0M435.6 922.5h0M435.7 935.3h0M435.9 947.4h0M436.1 958.8h0M436.3 969.6h0M436.5 979.9h0M436.8 989.6h0M437 997.7h0M437.3 1004.3h0M437.5 1009.8h0M437.7 1014.1h0M437.8 1017.5h0M438 1020.2h0M438 1021h0M466.6 958h0M466.7 943.2h0M466.8 928.4h0M466.9 913.6h0M467 898.8h0M467.1 884h0M467.1 884h0M467.2 898.6h0M467.3 913.1h0M467.4 927.4h0M467.6 940.9h0M467.8 953.7h0M468 965.7h0M468.2 976.9h0M468.5 987.3h0M468.8 995.5h0M469 1002.1h0M469.2 1007.3h0M469.3 1011.3h0M469.5 1014.3h0M469.5 1015h0M497.9 940.5h0M498 923.1h0M498.1 905.7h0M498.2 888.3h0M498.2 870.9h0M498.4 853.5h0M498.4 853.5h0M498.4 869.9h0M498.5 886h0M498.6 902h0M498.7 917.8h0M498.9 932.9h0M499.1 946.9h0M499.3 960.1h0M499.6 972.4h0M499.9 983.2h0M500.1 991.7h0M500.4 998.2h0M500.5 1003.2h0M500.7 1006.8h0M500.8 1008h0M529.1 926.8h0M529.2 910.5h0M529.3 894.2h0M529.4 877.9h0M529.4 861.6h0M529.5 845.3h0M529.6 829h0M529.6 829h0M529.7 847.1h0M529.7 864.9h0M529.8 882.5h0M529.9 899.9h0M530.1 917.1h0M530.3 933.2h0M530.5 948.1h0M530.8 961.9h0M531.1 974.8h0M531.4 984.6h0M531.6 992h0M531.8 997.4h0M532 1001.3h0M532 1002h0M561.1 913h0M561.2 897.9h0M561.2 882.9h0M561.3 867.8h0M561.4 852.7h0M561.5 837.7h0M561.5 822.6h0M561.6 807.5h0M561.6 807.5h0M561.6 827.3h0M561.7 846.9h0M561.8 866.1h0M561.9 885.1h0M562 903.8h0M562.2 921.7h0M562.5 938.3h0M562.7 953.5h0M563.1 967.6h0M563.4 978.4h0M563.6 986.4h0M563.9 992h0M564 995.5h0M592.6 899h0M592.7 882.7h0M592.7 866.4h0M592.8 850.1h0M592.9 833.9h0M593 817.6h0M593 801.3h0M593.1 785h0M593.1 785h0M593.1 806.6h0M593.2 827.8h0M593.3 848.8h0M593.4 869.4h0M593.5 889.7h0M593.7 909.7h0M593.9 928.1h0M594.2 944.9h0M594.5 960.3h0M594.9 972.4h0M595.2 981.1h0M595.4 987.1h0M595.5 990h0M624.1 885.5h0M624.2 870.4h0M624.2 855.3h0M624.3 840.2h0M624.4 825.1h0M624.4 810h0M624.5 794.9h0M624.5 779.8h0M624.6 764.7h0M624.6 764.7h0M624.6 786.5h0M624.7 807.9h0M624.7 829.1h0M624.8 849.9h0M624.9 870.4h0M625.1 890.6h0M625.3 910h0M625.5 927.8h0M625.8 944.1h0M626.2 958.9h0M626.5 969.6h0M626.8 977.2h0M627 982.3h0M627 983.5h0M656.6 871h0M656.7 855.2h0M656.7 839.4h0M656.8 823.6h0M656.9 807.8h0M656.9 792h0M657 776.2h0M657 760.4h0M657.1 744.5h0M657.1 744.5h0M657.1 766.6h0M657.2 788.2h0M657.2 809.6h0M657.3 830.6h0M657.3 851.3h0M657.5 871.7h0M657.6 891.8h0M657.8 910.7h0M658.1 927.9h0M658.4 943.8h0M658.8 957.2h0M659.1 966.8h0M659.3 973.5h0M659.5 978h0M688.1 856.2h0M688.2 839.7h0M688.2 823.2h0M688.3 806.7h0M688.4 790.1h0M688.4 773.6h0M688.5 757.1h0M688.5 740.6h0M688.6 724h0M688.6 724h0M688.6 746.3h0M688.6 768.2h0M688.7 789.7h0M688.7 810.9h0M688.8 831.9h0M688.9 852.5h0M689 872.8h0M689.2 892.7h0M689.4 911h0M689.7 927.7h0M690.1 943.1h0M690.4 955h0M690.7 963.5h0M690.9 969.4h0M691 972h0M720.1 842h0M720.2 826.7h0M720.2 811.5h0M720.3 796.2h0M720.3 780.9h0M720.4 765.6h0M720.4 750.4h0M720.5 735.1h0M720.5 719.8h0M720.6 704.5h0M720.6 704.5h0M720.6 727h0M720.6 749.1h0M720.7 770.8h0M720.7 792.3h0M720.8 813.4h0M720.8 834.2h0M720.9 854.6h0M721.1 874.8h0M721.3 894.1h0M721.5 911.8h0M721.9 928h0M722.2 942.5h0M722.5 952.9h0M722.8 960.4h0M723 965.3h0M723 966.2h0M752.1 826.2h0M752.2 810.9h0M752.2 795.5h0M752.3 780.1h0M752.3 764.7h0M752.4 749.3h0M752.4 733.9h0M752.5 718.6h0M752.5 703.2h0M752.6 687.8h0M752.6 687.8h0M752.6 710.4h0M752.6 732.6h0M752.7 754.5h0M752.7 776.1h0M752.7 797.4h0M752.8 818.3h0M752.9 838.9h0M753 859.3h0M753.2 879.3h0M753.4 897.7h0M753.7 914.5h0M754 930h0M754.4 942.2h0M754.7 951h0M754.9 957h0M755 960h0M784.4 812.5h0M784.4 796.6h0M784.5 780.7h0M784.5 764.9h0M784.6 749h0M784.6 733.1h0M784.7 717.2h0M784.7 701.3h0M784.8 685.4h0M784.9 669.5h0M784.9 669.5h0M784.9 692.3h0M784.9 714.8h0M784.9 736.9h0M784.9 758.6h0M785 780.1h0M785 801.2h0M785.1 822h0M785.2 842.5h0M785.3 862.7h0M785.5 882.1h0M785.8 899.8h0M786.1 916.1h0M786.4 930.8h0M786.8 941.4h0M787 948.9h0M787.2 953.9h0M787.2 955h0M816.6 798.8h0M816.7 782.7h0M816.7 766.7h0M816.8 750.7h0M816.8 734.7h0M816.9 718.6h0M816.9 702.6h0M817 686.6h0M817 670.6h0M817.1 654.5h0M817.1 654.5h0M817.1 677.5h0M817.1 700h0M817.1 722.3h0M817.2 744.2h0M817.2 765.7h0M817.2 787h0M817.3 807.9h0M817.4 828.5h0M817.5 848.8h0M817.7 868.8h0M817.9 887.1h0M818.2 903.9h0M818.6 919.3h0M818.9 931.4h0M819.2 940h0M819.4 945.9h0M819.5 948.8h0M848.6 785h0M848.7 768.5h0M848.7 752h0M848.8 735.4h0M848.8 718.9h0M848.9 702.4h0M848.9 685.9h0M849 669.3h0M849 652.8h0M849.1 636.3h0M849.1 636.3h0M849.1 659.3h0M849.1 682.1h0M849.1 704.5h0M849.2 726.5h0M849.2 748.3h0M849.2 769.7h0M849.3 790.8h0M849.4 811.6h0M849.5 832.1h0M849.6 852.2h0M849.8 871.5h0M850.1 889.1h0M850.4 905.2h0M850.7 919.6h0M851 930h0M851.3 937.3h0M851.5 942.2h0M851.5 943h0M880.6 770h0M880.7 753.4h0M880.7 736.7h0M880.8 720.1h0M880.8 703.5h0M880.9 686.8h0M880.9 670.2h0M881 653.6h0M881 636.9h0M881.1 620.3h0M881.1 620.3h0M881.1 643.3h0M881.1 666.2h0M881.1 688.8h0M881.1 711h0M881.2 732.9h0M881.2 754.4h0M881.3 775.7h0M881.3 796.6h0M881.4 817.2h0M881.5 837.5h0M881.7 857.5h0M882 875.8h0M882.2 892.5h0M882.6 907.9h0M882.9 919.8h0M883.2 928.5h0M883.4 934.3h0M883.5 937h0M912.6 757.5h0M912.7 740.7h0M912.7 723.9h0M912.8 707.1h0M912.8 690.3h0M912.9 673.5h0M912.9 656.7h0M913 639.9h0M913 623.1h0M913.1 606.3h0M913.1 606.3h0M913.1 629.3h0M913.1 652.3h0M913.1 675h0M913.1 697.3h0M913.2 719.3h0M913.2 741h0M913.2 762.4h0M913.3 783.4h0M913.4 804.1h0M913.5 824.5h0M913.7 844.6h0M913.9 863.5h0M914.1 880.8h0M914.4 896.7h0M914.8 910.2h0M915.1 919.9h0M915.3 926.7h0M915.5 931.2h0M915.5 931.2h0M944.6 743.8h0M944.6 728.4h0M944.7 713h0M944.8 697.6h0M944.8 682.3h0M944.9 666.9h0M944.9 651.5h0M945 636.2h0M945 620.8h0M945.1 605.4h0M945.1 590h0M945.1 590h0M945.1 613h0M945.1 636h0M945.1 658.9h0M945.1 681.4h0M945.2 703.6h0M945.2 725.4h0M945.2 746.9h0M945.3 768.1h0M945.3 788.9h0M945.4 809.5h0M945.6 829.7h0M945.8 849.4h0M946 867.4h0M946.3 883.9h0M946.6 899h0M947 910.2h0M947.2 918.3h0M947.4 923.7h0M947.5 925.5h0M976.4 730h0M976.4 714.5h0M976.5 699h0M976.5 683.5h0M976.6 668h0M976.6 652.5h0M976.6 637h0M976.7 621.5h0M976.8 606h0M976.8 590.5h0M976.9 575h0M976.9 575h0M976.9 598h0M976.9 621h0M976.9 644h0M976.9 666.6h0M976.9 688.9h0M976.9 710.9h0M976.9 732.5h0M977 753.8h0M977.1 774.8h0M977.1 795.5h0M977.3 815.8h0M977.4 835.9h0M977.7 854.5h0M977.9 871.6h0M978.2 887.2h0M978.6 900.1h0M978.9 909.3h0M979.1 915.7h0M979.2 919.5h0M1008.4 717.5h0M1008.4 702h0M1008.5 686.5h0M1008.5 671h0M1008.6 655.5h0M1008.6 640h0M1008.6 624.5h0M1008.7 609h0M1008.8 593.5h0M1008.8 578h0M1008.9 562.5h0M1008.9 562.5h0M1008.9 585.5h0M1008.9 608.5h0M1008.9 631.5h0M1008.9 654.2h0M1008.9 676.6h0M1008.9 698.7h0M1008.9 720.4h0M1009 741.8h0M1009 762.8h0M1009.1 783.6h0M1009.2 804h0M1009.4 824.2h0M1009.6 843.2h0M1009.8 860.7h0M1010.2 876.7h0M1010.5 890.7h0M1010.8 900.7h0M1011.1 907.8h0M1011.2 912.5h0M1011.2 913h0M1040.3 705h0M1040.4 689.2h0M1040.4 673.5h0M1040.5 657.8h0M1040.5 642h0M1040.6 626.2h0M1040.6 610.5h0M1040.7 594.8h0M1040.8 579h0M1040.8 563.2h0M1040.8 547.5h0M1040.8 547.5h0M1040.9 570.5h0M1040.9 593.5h0M1040.9 616.5h0M1040.9 639.3h0M1040.9 661.8h0M1040.9 684h0M1040.9 705.8h0M1041 727.4h0M1041 748.5h0M1041.1 769.4h0M1041.2 790h0M1041.3 810.2h0M1041.5 829.9h0M1041.8 847.9h0M1042 864.4h0M1042.4 879.6h0M1042.7 890.9h0M1043 899h0M1043.2 904.4h0M1043.2 906.2h0M1071.6 693.8h0M1071.6 677.7h0M1071.7 661.7h0M1071.8 645.7h0M1071.8 629.6h0M1071.8 613.6h0M1071.9 597.6h0M1071.9 581.6h0M1072 565.5h0M1072 549.5h0M1072.1 533.5h0M1072.1 533.5h0M1072.1 556.5h0M1072.1 579.5h0M1072.1 602.5h0M1072.1 625.4h0M1072.1 648.1h0M1072.1 670.3h0M1072.2 692.2h0M1072.2 713.8h0M1072.3 735.1h0M1072.3 756.1h0M1072.4 776.7h0M1072.5 797.1h0M1072.7 817.1h0M1072.9 835.6h0M1073.2 852.5h0M1073.5 868.1h0M1073.9 880.5h0M1074.1 889.5h0M1074.4 895.7h0M1074.5 899h0M1103.6 680h0M1103.6 663.8h0M1103.7 647.5h0M1103.8 631.2h0M1103.8 615h0M1103.8 598.8h0M1103.9 582.5h0M1103.9 566.2h0M1104 550h0M1104 533.8h0M1104.1 517.5h0M1104.1 517.5h0M1104.1 540.5h0M1104.1 563.5h0M1104.1 586.5h0M1104.1 609.5h0M1104.1 632.2h0M1104.1 654.6h0M1104.2 676.7h0M1104.2 698.5h0M1104.2 719.9h0M1104.3 741h0M1104.4 761.7h0M1104.5 782.2h0M1104.6 802.3h0M1104.8 821.5h0M1105.1 839.1h0M1105.4 855.2h0M1105.7 869.5h0M1106 879.7h0M1106.3 887h0M1106.5 891.8h0M1106.5 892.5h0M1134.6 667.5h0M1134.6 651.2h0M1134.7 634.9h0M1134.8 618.6h0M1134.8 602.3h0M1134.8 586h0M1134.9 569.7h0M1134.9 553.4h0M1135 537.1h0M1135 520.8h0M1135.1 504.5h0M1135.1 504.5h0M1135.1 527.5h0M1135.1 550.5h0M1135.1 573.5h0M1135.1 596.5h0M1135.1 619.3h0M1135.1 641.8h0M1135.2 664h0M1135.2 685.8h0M1135.2 707.4h0M1135.3 728.5h0M1135.3 749.4h0M1135.4 770h0M1135.6 790.2h0M1135.8 809.9h0M1136 827.9h0M1136.3 844.4h0M1136.6 859.6h0M1137 870.9h0M1137.2 879h0M1137.4 884.4h0M1137.5 886.2h0M1166.1 656.2h0M1166.1 639.6h0M1166.2 622.9h0M1166.2 606.2h0M1166.3 589.5h0M1166.3 572.9h0M1166.4 556.2h0M1166.4 539.5h0M1166.5 522.9h0M1166.5 506.2h0M1166.6 489.5h0M1166.6 489.5h0M1166.6 512.5h0M1166.6 535.5h0M1166.6 558.5h0M1166.6 581.5h0M1166.6 604.5h0M1166.6 627.1h0M1166.6 649.3h0M1166.7 671.3h0M1166.7 692.9h0M1166.8 714.2h0M1166.8 735.2h0M1166.9 755.8h0M1167 776.2h0M1167.2 796.2h0M1167.4 814.7h0M1167.7 831.7h0M1168 847.3h0M1168.4 859.9h0M1168.6 869h0M1168.9 875.2h0M1169 878.8h0M1197.3 643.8h0M1197.4 628.5h0M1197.4 613.2h0M1197.5 597.9h0M1197.5 582.6h0M1197.6 567.3h0M1197.6 552h0M1197.7 536.7h0M1197.7 521.4h0M1197.8 506.1h0M1197.8 490.8h0M1197.8 475.5h0M1197.8 475.5h0M1197.9 498.5h0M1197.9 521.5h0M1197.9 544.5h0M1197.9 567.5h0M1197.9 590.5h0M1197.9 613.2h0M1197.9 635.6h0M1197.9 657.7h0M1197.9 679.4h0M1198 700.8h0M1198 721.8h0M1198.1 742.6h0M1198.2 763h0M1198.4 783.2h0M1198.6 802.2h0M1198.9 819.7h0M1199.2 835.7h0M1199.5 849.7h0M1199.8 859.7h0M1200.1 866.8h0M1200.2 871.5h0M1200.2 872h0M1228.1 632.5h0M1228.1 616.8h0M1228.2 601.1h0M1228.2 585.5h0M1228.3 569.8h0M1228.3 554.1h0M1228.4 538.4h0M1228.4 522.7h0M1228.5 507h0M1228.5 491.4h0M1228.6 475.7h0M1228.6 460h0M1228.6 460h0M1228.6 483h0M1228.6 506h0M1228.6 529h0M1228.6 552h0M1228.6 575h0M1228.6 597.8h0M1228.6 620.3h0M1228.7 642.5h0M1228.7 664.3h0M1228.7 685.8h0M1228.8 707h0M1228.8 727.8h0M1228.9 748.3h0M1229.1 768.6h0M1229.3 788.2h0M1229.5 806.1h0M1229.8 822.6h0M1230.2 837.7h0M1230.5 848.8h0M1230.7 856.8h0M1230.9 862.1h0M1231 863.8h0M1258.6 621.6h0M1258.6 605.6h0M1258.7 589.6h0M1258.7 573.6h0M1258.8 557.6h0M1258.8 541.6h0M1258.9 525.5h0M1258.9 509.5h0M1259 493.5h0M1259 477.5h0M1259.1 461.5h0M1259.1 445.5h0M1259.1 445.5h0M1259.1 468.5h0M1259.1 491.5h0M1259.1 514.5h0M1259.1 537.5h0M1259.1 560.5h0M1259.1 583.4h0M1259.1 606.1h0M1259.2 628.3h0M1259.2 650.2h0M1259.2 671.8h0M1259.3 693.1h0M1259.3 714.1h0M1259.4 734.7h0M1259.5 755.1h0M1259.7 775.1h0M1259.9 793.6h0M1260.2 810.5h0M1260.5 826.1h0M1260.9 838.5h0M1261.1 847.5h0M1261.4 853.7h0M1261.5 857h0M1289.6 610h0M1289.6 593.6h0M1289.7 577.2h0M1289.7 560.8h0M1289.8 544.4h0M1289.8 528h0M1289.9 511.5h0M1289.9 495.1h0M1290 478.7h0M1290 462.3h0M1290.1 445.9h0M1290.1 429.5h0M1290.1 429.5h0M1290.1 452.5h0M1290.1 475.5h0M1290.1 498.5h0M1290.1 521.5h0M1290.1 544.5h0M1290.1 567.5h0M1290.1 590.2h0M1290.1 612.6h0M1290.2 634.6h0M1290.2 656.4h0M1290.2 677.7h0M1290.3 698.8h0M1290.4 719.6h0M1290.5 740h0M1290.6 760.1h0M1290.9 779.2h0M1291.1 796.6h0M1291.4 812.6h0M1291.8 826.6h0M1292.1 836.6h0M1292.3 843.6h0M1292.5 848.3h0M1292.5 848.8h0M1319.5 598h0M1319.5 581.3h0M1319.6 564.6h0M1319.6 548h0M1319.7 531.3h0M1319.7 514.6h0M1319.8 497.9h0M1319.8 481.2h0M1319.9 464.5h0M1319.9 447.9h0M1320 431.2h0M1320 414.5h0M1320 414.5h0M1320 437.5h0M1320 460.5h0M1320 483.5h0M1320 506.5h0M1320 529.5h0M1320 552.5h0M1320 575.3h0M1320 597.8h0M1320.1 619.9h0M1320.1 641.7h0M1320.1 663.2h0M1320.2 684.4h0M1320.2 705.2h0M1320.3 725.8h0M1320.5 746h0M1320.7 765.5h0M1320.9 783.4h0M1321.1 799.9h0M1321.5 814.9h0M1321.8 825.9h0M1322 833.8h0M1322.2 839h0M1322.2 840.5h0M1350.3 586h0M1350.4 570.5h0M1350.4 554.9h0M1350.5 539.4h0M1350.5 523.8h0M1350.6 508.3h0M1350.6 492.8h0M1350.7 477.2h0M1350.7 461.7h0M1350.8 446.1h0M1350.8 430.6h0M1350.9 415h0M1350.9 399.5h0M1350.9 399.5h0M1350.9 422.5h0M1350.9 445.5h0M1350.9 468.5h0M1350.9 491.5h0M1350.9 514.5h0M1350.9 537.5h0M1350.9 560.4h0M1351 583h0M1351 605.2h0M1351 627.2h0M1351 648.7h0M1351.1 670h0M1351.1 690.9h0M1351.2 711.6h0M1351.3 731.9h0M1351.5 751.9h0M1351.7 770.3h0M1351.9 787.1h0M1352.2 802.6h0M1352.5 814.7h0M1352.7 823.5h0M1352.9 829.5h0M1353 832.5h0M1380.7 574h0M1380.8 558.1h0M1380.8 542.2h0M1380.9 526.4h0M1380.9 510.5h0M1381 494.6h0M1381 478.8h0M1381.1 462.9h0M1381.1 447h0M1381.2 431.1h0M1381.2 415.2h0M1381.3 399.4h0M1381.3 383.5h0M1381.3 383.5h0M1381.3 406.5h0M1381.3 429.5h0M1381.3 452.5h0M1381.3 475.5h0M1381.3 498.5h0M1381.3 521.5h0M1381.3 544.5h0M1381.4 567.2h0M1381.4 589.5h0M1381.4 611.6h0M1381.4 633.2h0M1381.4 654.6h0M1381.5 675.6h0M1381.6 696.4h0M1381.7 716.8h0M1381.8 736.9h0M1381.9 755.8h0M1382.2 773.1h0M1382.4 789h0M1382.7 802.5h0M1382.9 812.3h0M1383.1 819.1h0M1383.2 823.6h0M1383.2 823.8h0M1410.3 562h0M1410.4 545.9h0M1410.4 529.8h0M1410.5 513.6h0M1410.5 497.5h0M1410.6 481.4h0M1410.7 465.2h0M1410.7 449.1h0M1410.8 433h0M1410.8 416.9h0M1410.9 400.8h0M1410.9 384.6h0M1411 368.5h0M1411 368.5h0M1411 391.5h0M1411 414.5h0M1411 437.5h0M1411 460.5h0M1411 483.5h0M1411 506.5h0M1411 529.5h0M1411 552.3h0M1411 574.7h0M1411 596.8h0M1411.1 618.6h0M1411.1 640h0M1411.1 661.2h0M1411.2 682h0M1411.3 702.5h0M1411.4 722.7h0M1411.5 742h0M1411.7 759.8h0M1411.9 776h0M1412.2 790.7h0M1412.4 801.3h0M1412.6 808.9h0M1412.7 813.9h0M1412.8 815h0M1440.2 549h0M1440.3 532.6h0M1440.3 516.2h0M1440.4 499.9h0M1440.4 483.5h0M1440.5 467.1h0M1440.6 450.8h0M1440.6 434.4h0M1440.7 418h0M1440.7 401.6h0M1440.8 385.2h0M1440.8 368.9h0M1440.9 352.5h0M1440.9 352.5h0M1440.9 375.5h0M1440.9 398.5h0M1440.9 421.5h0M1440.9 444.5h0M1440.9 467.5h0M1440.9 490.5h0M1440.9 513.5h0M1440.9 536.4h0M1440.9 558.9h0M1440.9 581.1h0M1441 603h0M1441 624.5h0M1441 645.7h0M1441.1 666.6h0M1441.1 687.2h0M1441.2 707.4h0M1441.3 727.2h0M1441.5 745.4h0M1441.7 762h0M1441.9 777.3h0M1442.1 788.8h0M1442.3 797.2h0M1442.4 802.8h0M1442.5 805h0M1470 537h0M1470 520.5h0M1470.1 504.1h0M1470.1 487.6h0M1470.2 471.2h0M1470.2 454.7h0M1470.3 438.2h0M1470.4 421.8h0M1470.4 405.3h0M1470.5 388.9h0M1470.5 372.4h0M1470.6 356h0M1470.7 339.5h0M1470.7 339.5h0M1470.7 362.5h0M1470.7 385.5h0M1470.7 408.5h0M1470.7 431.5h0M1470.7 454.5h0M1470.7 477.5h0M1470.7 500.5h0M1470.7 523.4h0M1470.7 546h0M1470.7 568.3h0M1470.7 590.2h0M1470.7 611.8h0M1470.8 633h0M1470.8 654h0M1470.9 674.6h0M1470.9 694.9h0M1471.1 714.9h0M1471.2 733.3h0M1471.4 750.2h0M1471.6 765.6h0M1471.8 777.9h0M1472 786.7h0M1472.2 792.7h0M1472.2 795.8h0M1499.2 524h0M1499.3 507.4h0M1499.3 490.8h0M1499.4 474.1h0M1499.4 457.5h0M1499.5 440.9h0M1499.6 424.2h0M1499.6 407.6h0M1499.7 391h0M1499.7 374.4h0M1499.8 357.8h0M1499.8 341.1h0M1499.9 324.5h0M1499.9 324.5h0M1499.9 347.5h0M1499.9 370.5h0M1499.9 393.5h0M1499.9 416.5h0M1499.9 439.5h0M1499.9 462.5h0M1499.9 485.5h0M1499.9 508.5h0M1499.9 531.1h0M1499.9 553.4h0M1499.9 575.4h0M1500 597.1h0M1500 618.4h0M1500 639.4h0M1500.1 660.1h0M1500.2 680.4h0M1500.3 700.5h0M1500.4 719.2h0M1500.6 736.4h0M1500.8 752.1h0M1501 765.1h0M1501.2 774.5h0M1501.4 781h0M1501.5 785h0M1528.2 512h0M1528.3 496.3h0M1528.3 480.7h0M1528.4 465h0M1528.4 449.4h0M1528.5 433.7h0M1528.5 418.1h0M1528.6 402.4h0M1528.6 386.8h0M1528.7 371.1h0M1528.7 355.5h0M1528.8 339.8h0M1528.8 324.2h0M1528.9 308.5h0M1528.9 308.5h0M1528.9 331.5h0M1528.9 354.5h0M1528.9 377.5h0M1528.9 400.5h0M1528.9 423.5h0M1528.9 446.5h0M1528.9 469.5h0M1528.9 492.5h0M1528.9 515.2h0M1528.9 537.6h0M1528.9 559.7h0M1529 581.4h0M1529 602.8h0M1529 623.9h0M1529.1 644.7h0M1529.2 665.1h0M1529.3 685.3h0M1529.4 704.4h0M1529.6 722h0M1529.8 738.1h0M1530 752.2h0M1530.2 762.4h0M1530.4 769.6h0M1530.5 774.4h0M1530.5 775h0"/>
<path stroke-width="4.9" d="M292.3 1040.7h0M292.6 1038.8h0M292.9 1036.8h0M293.1 1034.8h0M293.3 1032.9h0M293.4 1030.9h0M293.6 1028.9h0M293.8 1026.9h0M294 1024.9h0M294.2 1022.9h0M294.3 1020.9h0M294.5 1018.9h0M294.7 1016.9h0M294.9 1014.9h0M295.1 1012.9h0M295.3 1010.9h0M295.5 1009h0M295.7 1007h0M295.9 1005h0M296.2 1003h0M296.4 1001h0M296.7 999h0M296.9 997h0M297.2 995.1h0M297.5 993.1h0M297.9 991.1h0M298.2 989.1h0M298.6 987.2h0M299.1 985.3h0M299.6 983.4h0M300.2 981.6h0M300.8 979.9h0M301.4 978.3h0M320.4 1034.7h0M320.7 1032.8h0M320.9 1030.8h0M321.1 1028.8h0M321.3 1026.8h0M321.4 1024.8h0M321.6 1022.8h0M321.8 1020.8h0M321.9 1018.8h0M322.1 1016.8h0M322.2 1014.8h0M322.4 1012.8h0M322.5 1010.8h0M322.7 1008.8h0M322.9 1006.9h0M323 1004.9h0M323.2 1002.9h0M323.4 1000.9h0M323.5 998.9h0M323.7 996.9h0M323.9 994.9h0M324.1 992.9h0M324.3 990.9h0M324.5 988.9h0M324.7 986.9h0M324.9 985h0M325.2 983h0M325.4 981h0M325.7 979h0M326 977.1h0M326.3 975.3h0M326.6 973.5h0M326.9 971.8h0M349.3 1027.9h0M349.5 1026h0M349.7 1024h0M349.9 1022h0M350 1020h0M350.2 1018.1h0M350.3 1016.1h0M350.5 1014.1h0M350.6 1012.1h0M350.7 1010.1h0M350.9 1008.1h0M351 1006.1h0M351.1 1004.1h0M351.3 1002.1h0M351.4 1000.1h0M351.5 998.1h0M351.7 996.1h0M351.8 994.1h0M352 992.1h0M352.1 990.1h0M352.3 988.1h0M352.4 986.1h0M352.6 984.1h0M352.7 982.1h0M352.9 980.2h0M353.1 978.2h0M353.2 976.2h0M353.4 974.2h0M353.6 972.2h0M353.8 970.3h0M354 968.5h0M354.2 966.7h0M378.9 1021.6h0M379.2 1019.7h0M379.3 1017.7h0M379.5 1015.7h0M379.6 1013.7h0M379.7 1011.7h0M379.8 1009.7h0M380 1007.7h0M380.1 1005.7h0M380.2 1003.7h0M380.3 1001.7h0M380.4 999.7h0M380.5 997.7h0M380.7 995.7h0M380.8 993.7h0M380.9 991.7h0M381 989.7h0M381.1 987.7h0M381.2 985.7h0M381.3 983.7h0M381.4 981.7h0M381.5 979.8h0M381.6 977.8h0M381.8 975.8h0M381.9 973.8h0M382 971.8h0M382.1 969.8h0M382.2 967.8h0M382.4 965.8h0M382.5 963.9h0M382.6 962.1h0M382.7 960.3h0M408.9 1016.1h0M409.1 1014.2h0M409.3 1012.2h0M409.4 1010.2h0M409.5 1008.2h0M409.6 1006.2h0M409.7 1004.2h0M409.8 1002.2h0M409.9 1000.2h0M410 998.2h0M410.1 996.2h0M410.2 994.2h0M410.3 992.2h0M410.4 990.2h0M410.5 988.2h0M410.6 986.2h0M410.7 984.2h0M410.8 982.2h0M410.9 980.2h0M411 978.2h0M411.1 976.2h0M411.2 974.2h0M411.3 972.2h0M411.4 970.2h0M411.5 968.2h0M411.6 966.2h0M411.7 964.2h0M411.8 962.2h0M411.9 960.3h0M412 958.4h0M412.1 956.5h0M412.1 954.7h0M438.9 1010.8h0M439.1 1008.9h0M439.2 1006.8h0M439.4 1004.7h0M439.5 1002.6h0M439.6 1000.5h0M439.7 998.3h0M439.8 996.2h0M439.9 994.1h0M440 992h0M440.1 989.9h0M440.2 987.8h0M440.2 985.7h0M440.3 983.6h0M440.4 981.5h0M440.5 979.4h0M440.6 977.3h0M440.7 975.1h0M440.8 973h0M440.8 970.9h0M440.9 968.8h0M441 966.7h0M441.1 964.6h0M441.2 962.5h0M441.3 960.4h0M441.3 958.3h0M441.4 956.2h0M441.5 954.1h0M441.6 952.1h0M441.7 950.1h0M441.8 948.2h0M441.8 946.4h0M441.9 944.6h0M470.3 1004.2h0M470.5 1002.1h0M470.7 999.9h0M470.8 997.7h0M470.9 995.5h0M470.9 993.3h0M471 991.1h0M471.1 988.8h0M471.2 986.6h0M471.3 984.4h0M471.4 982.2h0M471.4 979.9h0M471.5 977.7h0M471.6 975.5h0M471.7 973.3h0M471.8 971.1h0M471.8 968.8h0M471.9 966.6h0M472 964.4h0M472.1 962.2h0M472.1 960h0M472.2 957.7h0M472.3 955.5h0M472.4 953.3h0M472.4 951.1h0M472.5 948.9h0M472.6 946.7h0M472.6 944.6h0M472.7 942.6h0M472.8 940.7h0M472.9 938.8h0M472.9 936.9h0M473 935.2h0M501.4 998.6h0M501.6 996.6h0M501.8 994.3h0M501.9 992h0M502 989.6h0M502.1 987.3h0M502.2 985h0M502.3 982.6h0M502.3 980.3h0M502.4 978h0M502.5 975.6h0M502.6 973.3h0M502.7 971h0M502.7 968.7h0M502.8 966.3h0M502.9 964h0M503 961.7h0M503 959.3h0M503.1 957h0M503.2 954.7h0M503.3 952.3h0M503.3 950h0M503.4 947.7h0M503.5 945.3h0M503.5 943h0M503.6 940.7h0M503.7 938.5h0M503.8 936.3h0M503.8 934.3h0M503.9 932.3h0M504 930.3h0M504 928.5h0M504.1 926.7h0M532.6 994h0M532.7 992.1h0M532.9 989.9h0M533 987.4h0M533.1 985h0M533.2 982.5h0M533.3 980.1h0M533.4 977.7h0M533.5 975.2h0M533.6 972.8h0M533.7 970.3h0M533.7 967.9h0M533.8 965.4h0M533.9 963h0M534 960.6h0M534 958.1h0M534.1 955.7h0M534.2 953.2h0M534.3 950.8h0M534.3 948.3h0M534.4 945.9h0M534.5 943.5h0M534.6 941h0M534.6 938.6h0M534.7 936.1h0M534.8 933.7h0M534.8 931.5h0M534.9 929.2h0M535 927.1h0M535 925.1h0M535.1 923.1h0M535.2 921.2h0M535.2 919.3h0M535.3 917.5h0M564.6 987.1h0M564.7 985h0M564.9 982.6h0M565.1 980.1h0M565.1 977.5h0M565.2 975h0M565.3 972.4h0M565.4 969.8h0M565.5 967.3h0M565.6 964.7h0M565.7 962.2h0M565.7 959.6h0M565.8 957.1h0M565.9 954.5h0M566 952h0M566.1 949.4h0M566.1 946.9h0M566.2 944.3h0M566.3 941.7h0M566.4 939.2h0M566.4 936.6h0M566.5 934.1h0M566.6 931.5h0M566.6 929h0M566.7 926.5h0M566.8 924.1h0M566.9 921.9h0M566.9 919.7h0M567 917.6h0M567.1 915.5h0M567.1 913.6h0M567.2 911.7h0M567.2 909.9h0M596 983.1h0M596.1 981.1h0M596.2 978.8h0M596.4 976.3h0M596.5 973.6h0M596.6 970.9h0M596.7 968.3h0M596.8 965.6h0M596.9 962.9h0M597 960.3h0M597.1 957.6h0M597.2 955h0M597.2 952.3h0M597.3 949.6h0M597.4 947h0M597.5 944.3h0M597.5 941.6h0M597.6 939h0M597.7 936.3h0M597.8 933.6h0M597.8 931h0M597.9 928.3h0M598 925.6h0M598.1 923h0M598.1 920.4h0M598.2 918h0M598.3 915.6h0M598.3 913.4h0M598.4 911.2h0M598.5 909.1h0M598.5 907.1h0M598.6 905.2h0M598.6 903.3h0M598.7 901.5h0M627.5 976.2h0M627.6 974.1h0M627.7 971.7h0M627.9 968.9h0M628 966.1h0M628.1 963.3h0M628.2 960.6h0M628.2 957.8h0M628.3 955h0M628.4 952.2h0M628.5 949.5h0M628.6 946.7h0M628.6 943.9h0M628.7 941.1h0M628.8 938.4h0M628.8 935.6h0M628.9 932.8h0M629 930h0M629.1 927.2h0M629.1 924.5h0M629.2 921.7h0M629.3 918.9h0M629.3 916.2h0M629.4 913.5h0M629.4 911h0M629.5 908.6h0M629.6 906.2h0M629.6 904h0M629.7 901.8h0M629.7 899.8h0M629.8 897.8h0M629.8 895.9h0M629.9 894.1h0M659.8 972.3h0M659.9 970.3h0M660.1 968h0M660.2 965.5h0M660.4 962.6h0M660.4 959.7h0M660.5 956.8h0M660.6 953.9h0M660.6 951h0M660.7 948.1h0M660.8 945.2h0M660.8 942.4h0M660.9 939.5h0M661 936.6h0M661.1 933.7h0M661.1 930.8h0M661.2 927.9h0M661.2 925h0M661.3 922.1h0M661.4 919.3h0M661.4 916.4h0M661.5 913.5h0M661.5 910.6h0M661.6 907.9h0M661.6 905.2h0M661.7 902.7h0M661.8 900.3h0M661.8 898h0M661.8 895.8h0M661.9 893.7h0M661.9 891.6h0M662 889.7h0M662 887.8h0M662.1 886h0M691.3 966h0M691.4 963.9h0M691.6 961.5h0M691.7 958.7h0M691.8 955.8h0M691.9 952.8h0M692 949.8h0M692 946.8h0M692.1 943.8h0M692.2 940.8h0M692.2 937.8h0M692.3 934.8h0M692.4 931.8h0M692.4 928.8h0M692.5 925.8h0M692.5 922.8h0M692.6 919.8h0M692.7 916.8h0M692.7 913.8h0M692.8 910.8h0M692.8 907.8h0M692.9 904.8h0M693 901.9h0M693 899.2h0M693.1 896.6h0M693.1 894.1h0M693.1 891.7h0M693.2 889.4h0M693.2 887.2h0M693.3 885.1h0M693.3 883.1h0M693.4 881.2h0M693.4 879.4h0M723.2 961.7h0M723.3 959.7h0M723.5 957.3h0M723.6 954.5h0M723.8 951.3h0M723.8 948.1h0M723.9 944.8h0M724 941.6h0M724 938.3h0M724.1 935.1h0M724.2 931.8h0M724.2 928.6h0M724.3 925.3h0M724.4 922.1h0M724.4 918.8h0M724.5 915.6h0M724.5 912.3h0M724.6 909.1h0M724.7 905.8h0M724.7 902.6h0M724.8 899.3h0M724.8 896.2h0M724.9 893.3h0M724.9 890.4h0M725 887.7h0M725 885.2h0M725.1 882.7h0M725.1 880.4h0M725.2 878.2h0M725.2 876.1h0M725.2 874.1h0M725.3 872.2h0M725.3 870.3h0M755.2 955h0M755.4 952.8h0M755.5 950.1h0M755.6 947h0M755.8 943.5h0M755.8 940h0M755.9 936.5h0M755.9 933h0M756 929.5h0M756 926h0M756.1 922.5h0M756.2 919h0M756.2 915.5h0M756.3 912h0M756.3 908.5h0M756.4 905h0M756.4 901.5h0M756.5 898h0M756.6 894.5h0M756.6 891.1h0M756.7 887.8h0M756.7 884.7h0M756.7 881.8h0M756.8 879h0M756.8 876.4h0M756.9 873.9h0M756.9 871.5h0M756.9 869.3h0M757 867.1h0M757 865.1h0M757 863.2h0M757.1 861.4h0M787.4 951.7h0M787.5 949.6h0M787.6 947.1h0M787.8 944.1h0M787.9 940.6h0M788 936.8h0M788 933.1h0M788.1 929.3h0M788.1 925.6h0M788.2 921.8h0M788.2 918.1h0M788.3 914.3h0M788.3 910.6h0M788.4 906.8h0M788.5 903.1h0M788.5 899.3h0M788.6 895.6h0M788.6 891.8h0M788.7 888.1h0M788.7 884.5h0M788.8 881.1h0M788.8 877.9h0M788.8 874.9h0M788.9 872h0M788.9 869.3h0M789 866.7h0M789 864.3h0M789 862h0M789.1 859.9h0M789.1 857.8h0M789.1 855.9h0M789.1 854h0M819.7 945.2h0M819.8 942.9h0M819.9 940.2h0M820 936.9h0M820.2 932.9h0M820.2 928.9h0M820.3 924.9h0M820.3 920.9h0M820.4 916.9h0M820.4 912.9h0M820.5 908.9h0M820.5 904.9h0M820.5 900.9h0M820.6 896.9h0M820.6 892.9h0M820.7 888.9h0M820.7 884.9h0M820.8 880.9h0M820.8 877.1h0M820.9 873.6h0M820.9 870.2h0M821 867.1h0M821 864.1h0M821 861.3h0M821.1 858.7h0M821.1 856.2h0M821.1 853.9h0M821.2 851.7h0M821.2 849.6h0M821.2 847.6h0M821.3 845.8h0M851.7 939.2h0M851.8 936.7h0M851.9 933.7h0M852 930.1h0M852.1 925.8h0M852.2 921.6h0M852.2 917.3h0M852.3 913.1h0M852.3 908.8h0M852.3 904.6h0M852.4 900.3h0M852.4 896.1h0M852.5 891.8h0M852.5 887.6h0M852.6 883.3h0M852.6 879.1h0M852.6 874.8h0M852.7 870.8h0M852.7 867.1h0M852.8 863.6h0M852.8 860.3h0M852.8 857.2h0M852.9 854.3h0M852.9 851.6h0M852.9 849h0M852.9 846.6h0M853 844.4h0M853 842.3h0M853 840.3h0M853 838.5h0M883.5 937h0M883.6 935.2h0M883.7 933h0M883.8 930.3h0M883.9 927h0M884.1 922.9h0M884.1 918.4h0M884.2 913.9h0M884.2 909.4h0M884.2 904.9h0M884.2 900.4h0M884.3 895.9h0M884.3 891.4h0M884.3 886.9h0M884.4 882.4h0M884.4 877.9h0M884.5 873.4h0M884.5 868.9h0M884.5 864.7h0M884.6 860.8h0M884.6 857.1h0M884.6 853.6h0M884.7 850.4h0M884.7 847.4h0M884.7 844.5h0M884.7 841.9h0M884.8 839.5h0M884.8 837.2h0M884.8 835h0M884.8 833h0M884.8 831.1h0M915.5 931.2h0M915.6 929.4h0M915.7 927h0M915.8 924.1h0M915.9 920.6h0M916.1 916.2h0M916.1 911.5h0M916.2 906.7h0M916.2 902h0M916.2 897.2h0M916.2 892.5h0M916.3 887.7h0M916.3 883h0M916.3 878.2h0M916.4 873.5h0M916.4 868.7h0M916.5 864h0M916.5 859.3h0M916.5 855h0M916.6 851h0M916.6 847.2h0M916.6 843.7h0M916.6 840.5h0M916.7 837.4h0M916.7 834.6h0M916.7 831.9h0M916.7 829.4h0M916.8 827.1h0M916.8 825h0M916.8 823h0M916.8 821.1h0M947.5 925.5h0M947.6 923.5h0M947.7 921h0M947.8 918h0M947.9 914.2h0M948.1 909.5h0M948.1 904.5h0M948.2 899.5h0M948.2 894.5h0M948.2 889.5h0M948.2 884.5h0M948.3 879.5h0M948.3 874.5h0M948.3 869.5h0M948.4 864.5h0M948.4 859.5h0M948.4 854.5h0M948.5 849.7h0M948.5 845.3h0M948.5 841.2h0M948.6 837.4h0M948.6 833.9h0M948.6 830.6h0M948.7 827.5h0M948.7 824.6h0M948.7 822h0M948.7 819.5h0M948.7 817.2h0M948.8 815h0M948.8 813.1h0M948.8 811.2h0M979.2 919.5h0M979.3 917.4h0M979.4 914.8h0M979.6 911.5h0M979.7 907.5h0M979.8 902.5h0M979.9 897.2h0M979.9 892h0M979.9 886.7h0M980 881.5h0M980 876.2h0M980 871h0M980.1 865.7h0M980.1 860.5h0M980.1 855.2h0M980.2 850h0M980.2 844.8h0M980.2 840h0M980.3 835.5h0M980.3 831.3h0M980.3 827.4h0M980.4 823.8h0M980.4 820.5h0M980.4 817.4h0M980.4 814.5h0M980.5 811.9h0M980.5 809.4h0M980.5 807.1h0M980.5 804.9h0M980.5 802.9h0M980.5 801.1h0M1011.2 913h0M1011.3 910.8h0M1011.4 908.1h0M1011.6 904.6h0M1011.7 900.3h0M1011.8 895h0M1011.9 889.5h0M1011.9 884h0M1011.9 878.5h0M1012 873h0M1012 867.5h0M1012 862h0M1012 856.5h0M1012.1 851h0M1012.1 845.5h0M1012.1 840h0M1012.2 834.7h0M1012.2 829.7h0M1012.2 825.2h0M1012.3 820.9h0M1012.3 817h0M1012.3 813.4h0M1012.3 810h0M1012.4 806.9h0M1012.4 804h0M1012.4 801.3h0M1012.4 798.8h0M1012.4 796.5h0M1012.5 794.4h0M1012.5 792.4h0M1012.5 790.6h0M1043.2 906.2h0M1043.3 904h0M1043.4 901.1h0M1043.6 897.4h0M1043.8 892.9h0M1043.8 887.2h0M1043.9 881.4h0M1043.9 875.7h0M1043.9 869.9h0M1043.9 864.2h0M1044 858.4h0M1044 852.7h0M1044 846.9h0M1044.1 841.2h0M1044.1 835.4h0M1044.1 829.7h0M1044.2 824.3h0M1044.2 819.3h0M1044.2 814.6h0M1044.2 810.3h0M1044.3 806.4h0M1044.3 802.7h0M1044.3 799.3h0M1044.3 796.2h0M1044.4 793.3h0M1044.4 790.6h0M1044.4 788.1h0M1044.4 785.8h0M1044.4 783.6h0M1044.4 781.6h0M1044.4 779.8h0M1074.5 899h0M1074.6 896.6h0M1074.7 893.6h0M1074.8 889.8h0M1075 885h0M1075.1 879h0M1075.1 873h0M1075.1 867h0M1075.2 861h0M1075.2 855h0M1075.2 849h0M1075.3 843h0M1075.3 837h0M1075.3 831h0M1075.3 825h0M1075.4 819h0M1075.4 813.5h0M1075.4 808.4h0M1075.5 803.7h0M1075.5 799.3h0M1075.5 795.3h0M1075.5 791.6h0M1075.6 788.2h0M1075.6 785h0M1075.6 782.1h0M1075.6 779.4h0M1075.6 776.9h0M1075.6 774.6h0M1075.6 772.4h0M1075.7 770.5h0M1075.7 768.6h0M1106.5 892.5h0M1106.6 890h0M1106.7 886.7h0M1106.9 882.6h0M1107.1 877.4h0M1107.1 871.1h0M1107.1 864.7h0M1107.1 858.3h0M1107.2 852h0M1107.2 845.6h0M1107.2 839.3h0M1107.2 832.9h0M1107.3 826.6h0M1107.3 820.2h0M1107.3 813.9h0M1107.4 807.8h0M1107.4 802.2h0M1107.4 797h0M1107.4 792.2h0M1107.5 787.9h0M1107.5 783.8h0M1107.5 780.1h0M1107.5 776.7h0M1107.5 773.5h0M1107.6 770.6h0M1107.6 768h0M1107.6 765.5h0M1107.6 763.2h0M1107.6 761.1h0M1107.6 759.2h0M1107.6 757.4h0M1137.5 886.2h0M1137.6 883.6h0M1137.7 880.1h0M1137.9 875.7h0M1138.1 870.1h0M1138.1 863.4h0M1138.1 856.7h0M1138.1 850h0M1138.2 843.3h0M1138.2 836.5h0M1138.2 829.8h0M1138.2 823.1h0M1138.3 816.4h0M1138.3 809.7h0M1138.3 803h0M1138.4 796.8h0M1138.4 791.1h0M1138.4 785.9h0M1138.4 781.1h0M1138.5 776.7h0M1138.5 772.7h0M1138.5 768.9h0M1138.5 765.5h0M1138.5 762.4h0M1138.5 759.5h0M1138.6 756.9h0M1138.6 754.5h0M1138.6 752.2h0M1138.6 750.2h0M1138.6 748.3h0M1138.6 746.4h0M1169 878.8h0M1169.1 875.9h0M1169.2 872.3h0M1169.4 867.6h0M1169.6 861.5h0M1169.6 854.5h0M1169.6 847.4h0M1169.6 840.3h0M1169.7 833.3h0M1169.7 826.2h0M1169.7 819.1h0M1169.7 812h0M1169.8 805h0M1169.8 797.9h0M1169.8 791h0M1169.9 784.7h0M1169.9 779h0M1169.9 773.7h0M1169.9 768.9h0M1169.9 764.5h0M1170 760.4h0M1170 756.7h0M1170 753.3h0M1170 750.2h0M1170 747.3h0M1170 744.7h0M1170.1 742.3h0M1170.1 740.2h0M1170.1 738.1h0M1170.1 736.1h0M1170.1 734.3h0M1200.2 872h0M1200.4 869h0M1200.5 865.2h0M1200.7 860.2h0M1200.8 853.7h0M1200.8 846.3h0M1200.9 838.8h0M1200.9 831.4h0M1200.9 824h0M1200.9 816.6h0M1201 809.1h0M1201 801.7h0M1201 794.3h0M1201 786.8h0M1201.1 779.9h0M1201.1 773.5h0M1201.1 767.7h0M1201.1 762.3h0M1201.2 757.5h0M1201.2 753h0M1201.2 749h0M1201.2 745.3h0M1201.2 741.9h0M1201.2 738.8h0M1201.3 736h0M1201.3 733.4h0M1201.3 731.1h0M1201.3 728.9h0M1201.3 726.8h0M1201.3 724.8h0M1201.3 723h0M1231 863.8h0M1231.1 860.6h0M1231.3 856.6h0M1231.4 851.4h0M1231.6 844.6h0M1231.6 836.8h0M1231.6 829h0M1231.6 821.2h0M1231.6 813.4h0M1231.7 805.7h0M1231.7 797.9h0M1231.7 790.1h0M1231.7 782.3h0M1231.8 774.5h0M1231.8 767.2h0M1231.8 760.5h0M1231.9 754.4h0M1231.9 748.8h0M1231.9 743.7h0M1231.9 739h0M1231.9 734.7h0M1231.9 730.9h0M1232 727.3h0M1232 724h0M1232 721.1h0M1232 718.4h0M1232 715.9h0M1232 713.6h0M1232 711.4h0M1232 709.3h0M1232 707.4h0M1232.1 705.5h0M1261.5 857h0M1261.6 853.7h0M1261.8 849.5h0M1262 844.1h0M1262.1 837h0M1262.1 828.8h0M1262.1 820.7h0M1262.1 812.5h0M1262.1 804.4h0M1262.2 796.3h0M1262.2 788.1h0M1262.2 780h0M1262.2 771.8h0M1262.3 763.7h0M1262.3 756h0M1262.3 749h0M1262.3 742.6h0M1262.4 736.7h0M1262.4 731.4h0M1262.4 726.5h0M1262.4 722h0M1262.4 717.9h0M1262.5 714.2h0M1262.5 710.8h0M1262.5 707.7h0M1262.5 704.8h0M1262.5 702.2h0M1262.5 699.8h0M1262.5 697.5h0M1262.5 695.4h0M1262.5 693.3h0M1262.6 691.3h0M1262.6 689.5h0M1292.5 848.8h0M1292.6 845.4h0M1292.8 841h0M1293 835.2h0M1293.1 827.9h0M1293.1 819.4h0M1293.1 810.9h0M1293.1 802.4h0M1293.1 793.9h0M1293.2 785.4h0M1293.2 776.9h0M1293.2 768.4h0M1293.2 759.9h0M1293.3 751.4h0M1293.3 743.3h0M1293.3 736h0M1293.3 729.3h0M1293.4 723.1h0M1293.4 717.5h0M1293.4 712.4h0M1293.4 707.7h0M1293.4 703.5h0M1293.4 699.6h0M1293.5 696h0M1293.5 692.7h0M1293.5 689.8h0M1293.5 687h0M1293.5 684.5h0M1293.5 682.1h0M1293.5 679.9h0M1293.5 677.7h0M1293.5 675.6h0M1293.5 673.7h0M1293.6 671.8h0M1322.2 840.5h0M1322.4 837.1h0M1322.5 832.7h0M1322.7 827.1h0M1322.8 820h0M1322.8 811.5h0M1322.8 803h0M1322.9 794.5h0M1322.9 786h0M1322.9 777.5h0M1322.9 769h0M1322.9 760.5h0M1323 752h0M1323 743.5h0M1323 735.1h0M1323 727.3h0M1323.1 720.3h0M1323.1 713.8h0M1323.1 707.8h0M1323.1 702.3h0M1323.1 697.3h0M1323.2 692.7h0M1323.2 688.5h0M1323.2 684.6h0M1323.2 681.1h0M1323.2 677.8h0M1323.2 674.8h0M1323.2 672.1h0M1323.2 669.6h0M1323.3 667.1h0M1323.3 664.8h0M1323.3 662.7h0M1323.3 660.6h0M1323.3 658.6h0M1323.3 656.7h0M1323.3 654.9h0M1353 832.5h0M1353.1 829.1h0M1353.3 824.8h0M1353.5 819.3h0M1353.5 812.3h0M1353.6 803.8h0M1353.6 795.3h0M1353.6 786.8h0M1353.6 778.3h0M1353.6 769.8h0M1353.7 761.3h0M1353.7 752.8h0M1353.7 744.3h0M1353.7 735.8h0M1353.7 727.3h0M1353.8 719.2h0M1353.8 711.8h0M1353.8 704.9h0M1353.8 698.6h0M1353.8 692.8h0M1353.9 687.4h0M1353.9 682.5h0M1353.9 678h0M1353.9 673.8h0M1353.9 670h0M1353.9 666.4h0M1353.9 663.2h0M1353.9 660.2h0M1354 657.4h0M1354 654.9h0M1354 652.4h0M1354 650.1h0M1354 647.9h0M1354 645.8h0M1354 643.8h0M1354 641.8h0M1354 640h0M1383.2 823.8h0M1383.4 820.4h0M1383.5 816h0M1383.7 810.6h0M1383.8 803.7h0M1383.8 795.2h0M1383.8 786.7h0M1383.8 778.2h0M1383.9 769.7h0M1383.9 761.2h0M1383.9 752.7h0M1383.9 744.2h0M1383.9 735.7h0M1384 727.2h0M1384 718.7h0M1384 710.4h0M1384 702.8h0M1384 695.8h0M1384.1 689.3h0M1384.1 683.3h0M1384.1 677.8h0M1384.1 672.7h0M1384.1 668h0M1384.1 663.7h0M1384.2 659.7h0M1384.2 656.1h0M1384.2 652.7h0M1384.2 649.5h0M1384.2 646.7h0M1384.2 644h0M1384.2 641.5h0M1384.2 639.1h0M1384.2 636.8h0M1384.2 634.7h0M1384.2 632.6h0M1384.3 630.6h0M1384.3 628.7h0M1384.3 626.9h0M1412.8 815h0M1412.9 811.6h0M1413 807.3h0M1413.2 801.9h0M1413.3 795.1h0M1413.3 786.6h0M1413.3 778.1h0M1413.3 769.6h0M1413.4 761.1h0M1413.4 752.6h0M1413.4 744.1h0M1413.4 735.6h0M1413.4 727.1h0M1413.5 718.6h0M1413.5 710.1h0M1413.5 701.7h0M1413.5 693.9h0M1413.5 686.7h0M1413.6 680h0M1413.6 673.9h0M1413.6 668.2h0M1413.6 663h0M1413.6 658.2h0M1413.6 653.7h0M1413.7 649.6h0M1413.7 645.7h0M1413.7 642.2h0M1413.7 639h0M1413.7 636h0M1413.7 633.2h0M1413.7 630.6h0M1413.7 628.2h0M1413.7 625.8h0M1413.7 623.6h0M1413.8 621.5h0M1413.8 619.4h0M1413.8 617.5h0M1413.8 615.6h0M1413.8 613.8h0M1442.5 805h0M1442.6 801.6h0M1442.8 797.3h0M1443 792h0M1443 785.2h0M1443.1 776.8h0M1443.1 768.3h0M1443.1 759.8h0M1443.1 751.3h0M1443.1 742.8h0M1443.1 734.3h0M1443.2 725.8h0M1443.2 717.3h0M1443.2 708.8h0M1443.2 700.3h0M1443.2 691.8h0M1443.3 683.8h0M1443.3 676.4h0M1443.3 669.6h0M1443.3 663.3h0M1443.3 657.5h0M1443.4 652.1h0M1443.4 647.1h0M1443.4 642.5h0M1443.4 638.2h0M1443.4 634.3h0M1443.4 630.6h0M1443.4 627.2h0M1443.4 624.1h0M1443.4 621.2h0M1443.5 618.5h0M1443.5 616h0M1443.5 613.6h0M1443.5 611.3h0M1443.5 609.1h0M1443.5 607h0M1443.5 605h0M1443.5 603.1h0M1443.5 601.2h0M1472.2 795.8h0M1472.4 792.4h0M1472.5 788.1h0M1472.7 782.8h0M1472.8 776.1h0M1472.8 767.8h0M1472.8 759.3h0M1472.8 750.8h0M1472.9 742.3h0M1472.9 733.8h0M1472.9 725.3h0M1472.9 716.8h0M1472.9 708.3h0M1472.9 699.8h0M1473 691.3h0M1473 682.8h0M1473 674.6h0M1473 667.1h0M1473 660.1h0M1473.1 653.6h0M1473.1 647.6h0M1473.1 642.1h0M1473.1 636.9h0M1473.1 632.2h0M1473.1 627.8h0M1473.1 623.7h0M1473.2 619.9h0M1473.2 616.4h0M1473.2 613.1h0M1473.2 610.1h0M1473.2 607.3h0M1473.2 604.7h0M1473.2 602.2h0M1473.2 599.9h0M1473.2 597.6h0M1473.2 595.4h0M1473.2 593.4h0M1473.3 591.4h0M1473.3 589.5h0M1473.3 587.7h0M1501.5 785h0M1501.6 781.6h0M1501.8 777.4h0M1502 772.1h0M1502 765.5h0M1502.1 757.3h0M1502.1 748.8h0M1502.1 740.3h0M1502.1 731.8h0M1502.1 723.3h0M1502.1 714.8h0M1502.2 706.3h0M1502.2 697.8h0M1502.2 689.3h0M1502.2 680.8h0M1502.2 672.3h0M1502.3 664h0M1502.3 656.3h0M1502.3 649.1h0M1502.3 642.5h0M1502.3 636.3h0M1502.3 630.6h0M1502.4 625.3h0M1502.4 620.4h0M1502.4 615.8h0M1502.4 611.6h0M1502.4 607.7h0M1502.4 604h0M1502.4 600.6h0M1502.4 597.5h0M1502.4 594.6h0M1502.5 591.9h0M1502.5 589.4h0M1502.5 587h0M1502.5 584.6h0M1502.5 582.4h0M1502.5 580.3h0M1502.5 578.2h0M1502.5 576.3h0M1502.5 574.4h0M1502.5 572.6h0M1530.5 775h0M1530.6 771.6h0M1530.8 767.4h0M1531 762.1h0M1531 755.6h0M1531 747.5h0M1531.1 739h0M1531.1 730.5h0M1531.1 722h0M1531.1 713.5h0M1531.1 705h0M1531.1 696.5h0M1531.2 688h0M1531.2 679.5h0M1531.2 671h0M1531.2 662.5h0M1531.2 654h0M1531.3 646.2h0M1531.3 638.9h0M1531.3 632.1h0M1531.3 625.8h0M1531.3 619.9h0M1531.3 614.5h0M1531.4 609.4h0M1531.4 604.7h0M1531.4 600.3h0M1531.4 596.3h0M1531.4 592.5h0M1531.4 589h0M1531.4 585.7h0M1531.4 582.7h0M1531.4 579.9h0M1531.5 577.3h0M1531.5 574.8h0M1531.5 572.4h0M1531.5 570.1h0M1531.5 567.9h0M1531.5 565.8h0M1531.5 563.8h0M1531.5 561.9h0M1531.5 560h0M1531.5 558.2h0"/>
</g>
<g stroke="#000" stroke-width="5.56" fill="none">
<path d="M233 1068.5v11.11M298 1068.5v16.67M363 1068.5v11.11M428 1068.5v11.11M492 1068.5v11.11M557 1068.5v16.67M622 1068.5v11.11M687 1068.5v11.11M751 1068.5v11.11M816 1068.5v16.67M881 1068.5v11.11M946 1068.5v11.11M1010 1068.5v11.11M1075 1068.5v16.67M1140 1068.5v11.11M1205 1068.5v11.11M1269 1068.5v11.11M1334 1068.5v16.67M1399 1068.5v11.11M1464 1068.5v11.11M1528 1068.5v11.11M1593 1068.5v16.67M225.5 1052h-11.11M225.5 1020h-16.67M225.5 989h-11.11M225.5 957h-11.11M225.5 925h-11.11M225.5 893h-11.11M225.5 862h-16.67M225.5 830h-11.11M225.5 798h-11.11M225.5 767h-11.11M225.5 735h-11.11M225.5 703h-16.67M225.5 672h-11.11M225.5 640h-11.11M225.5 608h-11.11M225.5 577h-11.11M225.5 545h-16.67M225.5 513h-11.11M225.5 482h-11.11M225.5 450h-11.11M225.5 418h-11.11M225.5 387h-16.67M225.5 355h-11.11M225.5 323h-11.11M225.5 292h-11.11M225.5 260h-11.11M225.5 228h-16.67M225.5 197h-11.11M225.5 165h-11.11"/>
</g>
<rect x="225.5" y="144.5" width="1395.0" height="924.0" fill="none" stroke="#000" stroke-width="1.11"/>
<g font-family="'DejaVu Sans','Liberation Sans',sans-serif" fill="#000">
<g font-size="34.72" text-anchor="middle" letter-spacing="1.05">
<text x="298.4" y="1116.5">75.26</text>
<text x="557.5" y="1116.5">75.28</text>
<text x="816.5" y="1116.5">75.30</text>
<text x="1075.5" y="1116.5">75.32</text>
<text x="1334.5" y="1116.5">75.34</text>
<text x="1593.5" y="1116.5">75.36</text>
</g>
<g font-size="34.72" text-anchor="end" letter-spacing="0.5">
<text x="203.6" y="1033.9">200</text>
<text x="203.6" y="875.9">300</text>
<text x="203.6" y="716.9">400</text>
<text x="203.6" y="558.9">500</text>
<text x="203.6" y="400.9">600</text>
<text x="203.6" y="241.9">700</text>
</g>
<text x="922.5" y="1160.5" font-size="41.67" text-anchor="middle">Age (Myr)</text>
<text transform="translate(119 606.8) rotate(-90)" font-size="41.67" text-anchor="middle">FM period (days)</text>
</g>
<rect x="235.42" y="154.42" width="307.2" height="92" rx="2.8" fill="#fff" fill-opacity="0.8" stroke="#ccc" stroke-width="1.39"/>
<path d="M243.75 170.9h41.67" stroke="#000" stroke-width="2.3" stroke-linecap="square" fill="none"/>
<circle cx="265.4" cy="170.9" r="2.45" fill="#000"/>
<circle cx="265.5" cy="216.5" r="7.2" fill="#ffff00" fill-opacity="0.25" stroke="#ffff00" stroke-opacity="0.25" stroke-width="1.39"/>
<g font-family="'DejaVu Sans','Liberation Sans',sans-serif" font-size="20.83" fill="#000">
<text x="302.9" y="178.75">m4.90_z0.0018</text>
<text x="302.6" y="210.2">intersection w/ P,L,T,R</text>
<text x="302.6" y="233.4">loosely defined</text>
</g>
</svg>
</body></html>
